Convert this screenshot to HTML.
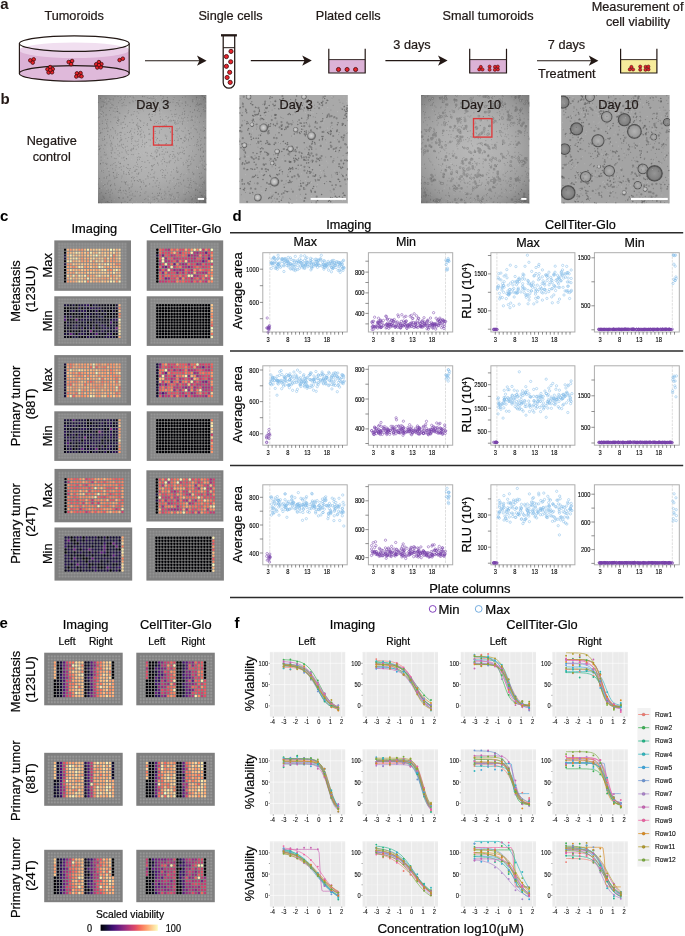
<!DOCTYPE html>
<html lang="en"><head><meta charset="utf-8"><title>Figure</title>
<style>html,body{margin:0;padding:0;background:#fff}svg{display:block}text{font-family:"Liberation Sans",sans-serif}.L text{stroke:#1a1a1a;stroke-width:.22px}</style></head>
<body>
<svg width="685" height="936" viewBox="0 0 685 936">
<rect width="685" height="936" fill="#fff"/>
<g class="L" font-size="12.7" fill="#231815" text-anchor="middle"><text x="74.2" y="19.6">Tumoroids</text><text x="230.5" y="19.6">Single cells</text><text x="348.2" y="19.6">Plated cells</text><text x="488" y="19.8">Small tumoroids</text><text x="637.6" y="11.2">Measurement of</text><text x="638" y="25.8">cell viability</text><text x="412" y="49.2">3 days</text><text x="566.5" y="49.4">7 days</text><text x="566.8" y="77.8">Treatment</text></g><path d="M19.4 50.2A54.9 7.8 0 0 1 129.2 50.2V73.4A54.9 7.8 0 0 1 19.4 73.4Z" fill="#dcb2d6"/><ellipse cx="74.3" cy="50.2" rx="54.9" ry="7.8" fill="#ead0e8"/><clipPath id="dt"><ellipse cx="74.3" cy="43.6" rx="54.9" ry="7.8"/></clipPath><ellipse cx="74.3" cy="43.6" rx="54.9" ry="7.8" fill="#fff"/><ellipse cx="74.3" cy="50.2" rx="54.9" ry="7.8" fill="#f1dff0" clip-path="url(#dt)"/><ellipse cx="74.3" cy="73.4" rx="54.9" ry="7.8" fill="#dfb9da"/><g fill="none" stroke="#231815" stroke-width="1.15"><ellipse cx="74.3" cy="43.6" rx="54.9" ry="7.8"/><ellipse cx="74.3" cy="73.4" rx="54.9" ry="7.8"/><path d="M19.4 43.6V73.4M129.2 43.6V73.4"/></g><g fill="#e8232b" stroke="#4a0e10" stroke-width="0.85"><circle cx="30.3" cy="60.4" r="1.8"/><circle cx="33.7" cy="59.4" r="1.8"/><circle cx="32.7" cy="62.6" r="1.8"/><circle cx="50.2" cy="67.1" r="1.8"/><circle cx="47.5" cy="69.3" r="1.8"/><circle cx="52.7" cy="69.1" r="1.8"/><circle cx="48.6" cy="72.5" r="1.8"/><circle cx="52.0" cy="72.3" r="1.8"/><circle cx="50.3" cy="70.1" r="1.8"/><circle cx="68.7" cy="62.0" r="1.8"/><circle cx="72.1" cy="61.0" r="1.8"/><circle cx="71.1" cy="64.2" r="1.8"/><circle cx="76.9" cy="73.4" r="1.8"/><circle cx="80.5" cy="73.1" r="1.8"/><circle cx="76.3" cy="76.5" r="1.8"/><circle cx="79.3" cy="75.5" r="1.8"/><circle cx="81.5" cy="76.3" r="1.8"/><circle cx="98.9" cy="62.1" r="1.8"/><circle cx="96.2" cy="64.3" r="1.8"/><circle cx="101.4" cy="64.1" r="1.8"/><circle cx="97.3" cy="67.5" r="1.8"/><circle cx="100.7" cy="67.3" r="1.8"/><circle cx="99.0" cy="65.1" r="1.8"/><circle cx="119.6" cy="60.1" r="1.8"/><circle cx="122.8" cy="58.7" r="1.8"/></g><path d="M145 60.7H200.6" stroke="#231815" stroke-width="1.15" fill="none"/><path d="M206.6 60.7L197.0 55.6L199.4 60.7L197.0 65.8Z" fill="#231815"/><path d="M250.8 60.6H305.8" stroke="#231815" stroke-width="1.15" fill="none"/><path d="M311.8 60.6L302.2 55.5L304.6 60.6L302.2 65.7Z" fill="#231815"/><path d="M385.4 60.6H441.6" stroke="#231815" stroke-width="1.15" fill="none"/><path d="M447.6 60.6L438.0 55.5L440.40000000000003 60.6L438.0 65.7Z" fill="#231815"/><path d="M537 60.7H592.4" stroke="#231815" stroke-width="1.15" fill="none"/><path d="M598.4 60.7L588.8 55.6L591.1999999999999 60.7L588.8 65.8Z" fill="#231815"/><path d="M223.2 35.4V82.4A5.75 5.75 0 0 0 234.7 82.4V35.4" fill="#fff" stroke="#231815" stroke-width="1.25"/><path d="M221 35.3H236.9" stroke="#231815" stroke-width="2.3" fill="none"/><path d="M223.2 47.7H234.7" stroke="#231815" stroke-width="1" fill="none"/><g fill="#e8232b" stroke="#4a0e10" stroke-width="0.85"><circle cx="231.0" cy="51.4" r="2.1"/><circle cx="226.4" cy="56.6" r="2.1"/><circle cx="230.7" cy="61.8" r="2.1"/><circle cx="226.4" cy="66.3" r="2.1"/><circle cx="229.7" cy="72.3" r="2.1"/><circle cx="227.1" cy="77.5" r="2.1"/><circle cx="230.2" cy="82.4" r="2.1"/></g><rect x="328.8" y="59.6" width="36.39999999999998" height="13.399999999999999" fill="#dcb2d6"/><path d="M328.8 48.8V73.0H365.2V48.8" fill="none" stroke="#231815" stroke-width="1.2"/><path d="M328.8 59.6H365.2" fill="none" stroke="#231815" stroke-width="0.9"/><g fill="#e8232b" stroke="#4a0e10" stroke-width="0.85"><circle cx="338.5" cy="69.5" r="2.05"/><circle cx="347.1" cy="69.5" r="2.05"/><circle cx="355.6" cy="69.5" r="2.05"/></g><rect x="469.7" y="59.6" width="36.80000000000001" height="13.399999999999999" fill="#dcb2d6"/><path d="M469.7 48.8V73.0H506.5V48.8" fill="none" stroke="#231815" stroke-width="1.2"/><path d="M469.7 59.6H506.5" fill="none" stroke="#231815" stroke-width="0.9"/><g fill="#e8232b" stroke="#4a0e10" stroke-width="0.6"><circle cx="479.2" cy="69.4" r="1.55"/><circle cx="482.5" cy="69.5" r="1.55"/><circle cx="480.8" cy="66.9" r="1.55"/><circle cx="489.6" cy="66.6" r="1.55"/><circle cx="489.6" cy="69.7" r="1.55"/><circle cx="495.0" cy="66.8" r="1.55"/><circle cx="494.9" cy="69.8" r="1.55"/><circle cx="497.9" cy="69.4" r="1.55"/><circle cx="497.8" cy="66.6" r="1.55"/></g><rect x="620.6" y="59.6" width="36.299999999999955" height="13.399999999999999" fill="#f7ec9c"/><path d="M620.6 48.8V73.0H656.9V48.8" fill="none" stroke="#231815" stroke-width="1.2"/><path d="M620.6 59.6H656.9" fill="none" stroke="#231815" stroke-width="0.9"/><g fill="#e8232b" stroke="#4a0e10" stroke-width="0.6"><circle cx="629.8" cy="69.4" r="1.55"/><circle cx="633.1" cy="69.5" r="1.55"/><circle cx="631.4" cy="66.9" r="1.55"/><circle cx="640.2" cy="66.6" r="1.55"/><circle cx="640.2" cy="69.7" r="1.55"/><circle cx="645.6" cy="66.8" r="1.55"/><circle cx="645.5" cy="69.8" r="1.55"/><circle cx="648.5" cy="69.4" r="1.55"/><circle cx="648.4" cy="66.6" r="1.55"/></g>
<defs><radialGradient id="vg1" gradientUnits="userSpaceOnUse" cx="150" cy="146" r="84"><stop offset="0" stop-color="#b9b9b9"/><stop offset="0.4" stop-color="#afafaf"/><stop offset="0.7" stop-color="#999"/><stop offset="0.88" stop-color="#7e7e7e"/><stop offset="1" stop-color="#585858"/></radialGradient><radialGradient id="vg3" gradientUnits="userSpaceOnUse" cx="474" cy="147" r="84"><stop offset="0" stop-color="#b9b9b9"/><stop offset="0.4" stop-color="#afafaf"/><stop offset="0.7" stop-color="#999"/><stop offset="0.88" stop-color="#7e7e7e"/><stop offset="1" stop-color="#585858"/></radialGradient><radialGradient id="blob" cx="0.45" cy="0.45" r="0.55"><stop offset="0" stop-color="#d4d4d4"/><stop offset="0.5" stop-color="#b4b4b4"/><stop offset="0.82" stop-color="#626262"/><stop offset="1" stop-color="#929292"/></radialGradient><radialGradient id="blobd" cx="0.5" cy="0.5" r="0.5"><stop offset="0" stop-color="#969696"/><stop offset="0.72" stop-color="#808080"/><stop offset="0.9" stop-color="#4a4a4a"/><stop offset="1" stop-color="#6c6c6c"/></radialGradient><radialGradient id="blobl" cx="0.5" cy="0.5" r="0.5"><stop offset="0" stop-color="#b2b2b2"/><stop offset="0.72" stop-color="#9a9a9a"/><stop offset="0.9" stop-color="#505050"/><stop offset="1" stop-color="#707070"/></radialGradient></defs><clipPath id="mc1"><rect x="97.9" y="95.0" width="108.7" height="108.6"/></clipPath><g clip-path="url(#mc1)"><rect x="97.9" y="95.0" width="108.7" height="108.6" fill="url(#vg1)"/><path d="M147.1 155.8h0M198.4 145.6h0M153.1 158.8h0M118.0 150.6h0M166.4 181.1h0M108.1 127.9h0M107.8 182.9h0M173.3 99.5h0M204.7 199.8h0M169.0 161.9h0M115.0 96.6h0M155.3 101.5h0M118.6 121.3h0M101.2 145.4h0M145.8 186.5h0M154.3 164.5h0M152.2 166.9h0M147.6 125.2h0M206.3 203.1h0M189.2 171.9h0M132.2 119.9h0M129.3 102.6h0M181.2 138.5h0M189.9 137.0h0M202.0 187.0h0M98.0 117.8h0M196.8 146.0h0M204.5 138.2h0M105.8 163.4h0M182.5 124.3h0M107.4 131.1h0M202.7 177.3h0M110.7 121.8h0M108.9 101.5h0M184.5 114.3h0M158.7 143.6h0M118.6 174.5h0M112.1 164.9h0M110.6 140.7h0M121.0 124.3h0M203.4 182.3h0M131.0 191.1h0M120.8 137.8h0M190.8 164.7h0M108.8 202.4h0M121.1 123.0h0M181.9 130.7h0M130.1 103.0h0M107.7 158.3h0M124.3 160.3h0M138.3 144.2h0M202.2 147.5h0M160.4 189.1h0M117.8 111.7h0M196.6 183.8h0M125.0 115.6h0M178.3 197.1h0M119.3 198.2h0M193.8 160.5h0M143.7 106.3h0M102.1 199.5h0M123.8 171.5h0M125.8 184.5h0M162.7 126.9h0M117.0 173.2h0M105.4 119.8h0M158.7 187.6h0M164.7 125.4h0M197.6 117.2h0M99.7 124.2h0M146.3 101.6h0M117.1 135.1h0M160.1 109.3h0M137.3 191.8h0M204.5 166.3h0M173.0 158.5h0M113.2 98.8h0M99.8 193.8h0M174.1 199.6h0M100.2 164.1h0M150.3 174.3h0M132.6 203.5h0M106.1 154.3h0M178.0 192.8h0M178.0 171.4h0M184.1 194.4h0M136.1 169.4h0M195.8 189.6h0M143.2 180.9h0M191.8 157.2h0M165.8 136.5h0M161.2 161.1h0M106.6 164.4h0M205.9 190.5h0M177.1 137.2h0M177.8 158.1h0M145.8 186.0h0M107.0 176.5h0M101.1 160.3h0M150.2 120.0h0M173.8 149.0h0M164.7 195.0h0M125.7 96.2h0M130.6 168.6h0M119.9 113.4h0M196.4 166.7h0M145.9 191.8h0M133.4 167.3h0M119.5 141.8h0M185.5 194.3h0M193.6 136.7h0M161.3 129.4h0M112.7 148.9h0M188.9 187.2h0M175.2 198.2h0M128.0 113.4h0M146.9 124.9h0M121.2 140.0h0M165.9 148.6h0M132.2 186.1h0M204.6 144.1h0M106.0 98.4h0M192.8 99.5h0M174.9 157.0h0M131.5 181.0h0M100.0 109.8h0M147.3 97.7h0M188.1 120.8h0M113.2 100.1h0M166.3 143.5h0M166.4 166.1h0M185.7 199.1h0M172.3 116.6h0M149.5 114.4h0M99.1 146.3h0M175.5 114.5h0M127.5 132.5h0M173.7 151.5h0M164.7 177.1h0M140.7 181.0h0M196.4 104.5h0M199.3 173.5h0M112.0 144.3h0M165.9 193.8h0M138.9 156.8h0M193.5 181.5h0M200.5 145.4h0M168.7 117.3h0M176.4 183.9h0M167.6 172.9h0M121.1 192.7h0M204.5 201.1h0M156.3 180.9h0M132.7 193.8h0M190.9 132.8h0M106.9 142.9h0M157.7 178.4h0M150.9 98.1h0M185.9 102.0h0M184.8 113.8h0M134.3 180.6h0M113.2 111.1h0M154.0 173.6h0M189.2 169.9h0M200.7 148.5h0M201.1 104.3h0M122.0 152.2h0M129.4 174.2h0M167.3 151.8h0M189.6 155.8h0M131.8 136.4h0M189.8 192.8h0M120.5 187.4h0M203.2 151.9h0M160.2 116.8h0M156.2 149.6h0M163.7 98.0h0M203.3 151.0h0M141.4 182.0h0M159.1 148.3h0M173.0 102.2h0M156.5 139.9h0M201.9 195.3h0M127.2 146.4h0M111.7 142.1h0M186.6 192.8h0M149.7 129.4h0M118.7 162.1h0M198.5 109.1h0M182.6 97.5h0M119.0 119.7h0M172.6 130.0h0M136.5 162.3h0M109.3 174.4h0M111.2 150.4h0M125.1 116.5h0M155.5 142.4h0M138.7 139.9h0M155.4 112.3h0M120.1 163.6h0M167.3 152.5h0M190.4 161.4h0M191.0 120.3h0M178.4 183.0h0M196.0 129.3h0M132.1 195.2h0M121.6 203.4h0M194.4 109.5h0M123.9 173.9h0M126.1 105.5h0M188.4 140.8h0M183.8 108.7h0M141.7 169.4h0M99.8 116.8h0M172.1 194.0h0M203.2 107.5h0M152.9 177.3h0M152.6 169.5h0M118.4 102.7h0M109.4 99.1h0M157.9 150.9h0M159.7 110.9h0M118.0 117.1h0M189.2 202.5h0M198.7 105.3h0M104.6 198.3h0M148.1 178.0h0M133.4 145.7h0M153.9 141.7h0M163.2 96.4h0M174.1 186.7h0M117.6 144.3h0M178.3 139.0h0M119.1 112.9h0M153.6 96.7h0M195.0 182.1h0M174.5 188.5h0M166.3 138.9h0M163.1 149.8h0M204.7 182.4h0M126.0 194.0h0M178.8 179.5h0M186.5 139.1h0M195.4 190.6h0M173.4 178.3h0M181.1 139.1h0M176.5 102.7h0M135.0 145.9h0M99.1 133.6h0M167.3 162.8h0M123.1 197.6h0M170.3 131.7h0M169.6 156.9h0M155.8 137.3h0M206.6 164.8h0M174.1 177.7h0M204.4 97.5h0M164.8 175.2h0M125.8 138.6h0M103.4 116.2h0M138.7 105.7h0M125.2 193.4h0M157.7 150.1h0M203.0 156.7h0M206.1 164.3h0M185.9 103.3h0M162.9 177.5h0M102.8 196.0h0M115.3 146.2h0M116.3 148.8h0M164.3 101.4h0M200.7 140.7h0M155.2 159.9h0M137.6 126.0h0M169.1 155.9h0M128.7 172.8h0M130.1 96.5h0M124.5 99.6h0M114.9 177.0h0M140.3 192.5h0M179.2 100.4h0M205.4 197.6h0M105.9 193.3h0M144.6 146.9h0M203.7 121.5h0M154.8 196.8h0M176.5 145.9h0M204.3 183.7h0M163.5 107.5h0M165.8 144.5h0M120.0 100.7h0M155.3 108.5h0M146.0 167.5h0M147.4 123.5h0M161.2 140.6h0M182.5 152.6h0M206.3 198.5h0M177.7 120.9h0M110.3 191.9h0M183.2 162.9h0M136.9 124.5h0M172.4 156.3h0M162.2 163.8h0M179.8 115.6h0M125.0 201.4h0M197.4 190.4h0M102.2 101.6h0M127.4 141.2h0M165.7 106.1h0M156.8 102.9h0M107.3 168.4h0M157.8 163.5h0M138.5 147.0h0M120.8 132.3h0M178.9 186.1h0M106.0 108.0h0M185.9 162.7h0M181.5 118.1h0M144.0 123.0h0M185.9 135.1h0M169.0 202.4h0M133.3 154.6h0M179.0 195.0h0M144.4 135.1h0M108.4 190.0h0M106.4 104.0h0M159.2 147.7h0M172.4 127.5h0M182.2 103.3h0M121.1 166.9h0M106.8 128.0h0M176.7 170.4h0M128.7 110.5h0M136.8 173.8h0M137.7 107.7h0M175.0 156.8h0M197.7 197.1h0M197.2 142.6h0M185.2 128.1h0M132.4 138.4h0M199.5 192.2h0M124.9 134.3h0M137.6 134.5h0M140.9 137.1h0M119.1 156.2h0M184.5 153.7h0M188.8 156.1h0M117.1 177.4h0M193.7 125.6h0M100.3 151.0h0M157.0 156.6h0M202.9 165.7h0M185.3 102.0h0M157.3 180.6h0M107.0 103.9h0M178.0 192.6h0M107.1 163.9h0M113.5 176.0h0M168.4 121.7h0M121.9 178.1h0M154.6 178.0h0M140.8 131.7h0M203.2 168.0h0M151.6 153.4h0M176.3 171.9h0M197.4 139.6h0M187.7 167.4h0M190.7 182.5h0M188.5 191.5h0M202.0 164.5h0M154.8 172.1h0M185.1 140.8h0M143.6 110.9h0M178.5 202.6h0M138.7 113.2h0M120.1 141.1h0M129.6 200.3h0M104.3 128.5h0M110.4 165.4h0M182.2 114.5h0M104.7 144.8h0M161.4 193.7h0M101.9 106.8h0M118.0 118.6h0M123.5 172.9h0M162.6 119.3h0M118.0 125.5h0M116.7 177.3h0M131.8 154.5h0M186.7 147.1h0M126.2 191.4h0M197.3 132.1h0M157.4 198.9h0M150.4 119.0h0M103.3 197.9h0M185.0 136.8h0M155.2 151.0h0M127.7 202.5h0M169.4 120.8h0M99.1 146.3h0M138.3 181.5h0M175.4 160.8h0M115.0 112.0h0M132.9 123.2h0M192.4 151.1h0M167.1 202.9h0M126.9 153.1h0M114.3 178.7h0M98.0 184.2h0M189.9 184.3h0M106.9 124.3h0M175.8 105.6h0M150.1 145.9h0M201.8 158.7h0M191.1 128.0h0M183.7 140.3h0M197.6 104.9h0M187.7 117.6h0M157.0 152.1h0M115.0 185.4h0M131.8 128.7h0M106.2 128.2h0M148.7 172.7h0M137.0 169.6h0M109.4 137.8h0M148.1 200.0h0M188.1 166.0h0M99.2 136.0h0M175.1 120.8h0M159.2 144.7h0M99.0 202.7h0M184.8 117.5h0M164.9 126.5h0M138.8 153.6h0M130.3 131.6h0M140.5 167.4h0M125.8 116.7h0M177.4 130.8h0M200.6 156.1h0M176.6 131.0h0M187.8 105.0h0M113.2 105.3h0M171.6 171.9h0M117.5 138.7h0M188.9 159.4h0M107.7 119.6h0M115.0 108.5h0M142.1 102.9h0M198.0 141.4h0M153.5 165.3h0M181.3 184.2h0M139.9 131.0h0M142.7 96.7h0M141.5 171.0h0M204.6 180.8h0M169.7 161.1h0M99.9 130.9h0M135.1 165.7h0M109.5 136.0h0M153.3 180.6h0M187.6 161.4h0M115.1 178.2h0M196.1 154.5h0M136.2 149.3h0M113.3 172.5h0M205.2 151.0h0M175.7 185.7h0M119.3 197.6h0M166.1 116.5h0M106.9 121.6h0M160.6 170.7h0M133.7 195.9h0M137.2 145.3h0M111.4 200.7h0M112.6 193.2h0M157.0 155.9h0M158.8 123.7h0M196.7 202.7h0M186.8 160.3h0M111.2 184.6h0M129.3 192.4h0M124.1 157.3h0M188.2 115.2h0M157.5 103.3h0M101.4 114.6h0M205.2 197.0h0M169.5 128.4h0M170.9 175.1h0M139.4 159.3h0M185.3 96.8h0M119.6 145.8h0M113.4 137.0h0M159.8 113.9h0M154.4 123.6h0M159.6 131.1h0M167.7 99.1h0M170.8 110.7h0M202.2 160.2h0M149.0 139.7h0M165.7 169.9h0M180.3 176.6h0M150.7 203.0h0M189.0 187.9h0M142.4 142.1h0M159.4 193.3h0M155.1 152.0h0M144.9 193.2h0M132.8 100.9h0M176.8 192.8h0M177.5 159.9h0M179.6 128.1h0M162.4 102.6h0M111.4 143.5h0M152.5 138.1h0M103.5 170.5h0M155.1 121.0h0M131.2 138.0h0M123.5 102.4h0M197.0 200.0h0M170.3 189.1h0M143.7 182.5h0M122.0 176.1h0M159.5 193.1h0M108.6 181.1h0M111.4 153.4h0M201.3 95.1h0M124.4 127.5h0M133.2 101.8h0M195.2 183.6h0M141.1 133.7h0M161.5 100.0h0M101.3 192.6h0M131.4 149.1h0M199.4 201.1h0M149.3 117.4h0M130.0 195.2h0M195.4 116.2h0M189.0 133.5h0M149.3 113.7h0M193.5 203.1h0M119.9 163.7h0M118.7 190.6h0M103.3 106.5h0M176.8 129.0h0M195.8 189.4h0M175.4 109.6h0M173.5 196.8h0M146.3 103.6h0M122.2 128.4h0M175.1 116.3h0M117.6 120.6h0M170.1 180.8h0M138.4 166.9h0M194.0 159.1h0M122.8 127.7h0M198.6 167.4h0M128.0 164.5h0M107.7 201.8h0M145.8 152.4h0M155.6 99.9h0M163.1 125.9h0M125.2 182.2h0M107.4 126.0h0M180.0 121.7h0M128.2 154.5h0M118.2 192.4h0M205.3 98.7h0M148.1 176.5h0M139.7 195.9h0M152.2 114.5h0M158.3 165.0h0M137.0 166.5h0M183.0 151.1h0M152.9 186.8h0M172.3 151.5h0M201.3 113.9h0M182.6 112.9h0M164.0 120.6h0M145.8 179.0h0M183.4 180.9h0M123.5 148.1h0M121.9 158.0h0M152.1 98.8h0M162.8 172.6h0M160.1 189.8h0M117.5 111.5h0M99.8 148.9h0M145.1 143.0h0M126.5 181.7h0M105.8 193.5h0M159.7 154.0h0M183.9 120.8h0M113.8 128.8h0M102.5 129.1h0M165.4 152.1h0M126.7 158.9h0M107.5 184.1h0M116.6 122.7h0M115.3 170.0h0M188.2 180.4h0M104.5 139.6h0M137.5 118.5h0M203.4 99.6h0M151.1 177.7h0M205.1 110.7h0M147.4 175.9h0M102.2 121.1h0M194.7 110.4h0M140.6 127.4h0M144.0 103.3h0M101.6 203.2h0M180.9 174.7h0M122.9 122.5h0M157.9 121.2h0M148.1 196.3h0M137.5 131.6h0M204.6 161.3h0M102.2 138.8h0M168.5 101.4h0M135.2 170.4h0M191.9 159.1h0M194.2 145.2h0M140.6 186.6h0M139.3 179.9h0M121.3 132.7h0M117.9 154.7h0M115.7 117.1h0M121.2 145.8h0M131.4 143.6h0M205.9 168.8h0M191.7 117.2h0M139.5 102.9h0M173.1 134.4h0M127.7 97.0h0M117.7 123.5h0M140.6 195.3h0M175.6 124.2h0M137.2 111.7h0M199.7 134.1h0M181.1 173.6h0M196.5 97.2h0M132.9 136.7h0M106.9 190.8h0M133.3 178.7h0M154.3 101.0h0M140.7 120.9h0M102.3 111.4h0M162.6 98.5h0M131.8 141.1h0M157.0 109.8h0M174.7 123.3h0M176.8 167.3h0M113.9 117.2h0M128.4 172.4h0M142.0 137.0h0M192.0 119.5h0M129.6 132.5h0M121.4 99.4h0M100.6 163.5h0M159.4 182.8h0M203.9 127.4h0M170.8 194.8h0M121.4 169.8h0M170.4 198.7h0M192.3 120.5h0M166.7 104.8h0M144.4 137.6h0M104.4 136.6h0M133.6 149.0h0M128.3 112.2h0M141.6 146.6h0M116.0 167.2h0M124.0 105.1h0M135.1 140.9h0M114.3 158.3h0M174.1 155.1h0M174.0 97.5h0M140.4 134.6h0M104.7 138.9h0M103.8 148.8h0M161.6 145.9h0M133.3 122.5h0M100.5 132.7h0M194.8 156.4h0M126.4 167.6h0M118.1 146.0h0M164.8 198.7h0M137.3 157.6h0M200.3 178.8h0M166.1 162.4h0M142.6 140.1h0M127.9 185.1h0M193.5 136.5h0M196.8 99.1h0M112.7 150.1h0M131.4 134.1h0M204.1 111.3h0M118.8 119.8h0M171.8 120.5h0M98.0 154.1h0M140.7 121.0h0M151.6 165.6h0M157.5 162.8h0M158.9 185.3h0M203.2 131.2h0M135.6 191.3h0M132.0 172.8h0M173.5 169.6h0M202.7 184.5h0M115.2 162.5h0M151.2 156.2h0M138.1 126.0h0M179.3 153.0h0M123.7 122.1h0M133.2 114.3h0M153.7 108.7h0M104.8 102.5h0M109.0 171.5h0M110.2 144.0h0M181.8 147.2h0M115.6 189.1h0M192.5 100.8h0M125.5 150.1h0M184.5 137.6h0M175.7 122.3h0M175.7 130.5h0M134.2 177.5h0M189.5 185.0h0M159.6 140.7h0M174.7 162.7h0M188.2 182.0h0M111.5 135.9h0M170.7 120.1h0M118.0 96.5h0M161.5 197.2h0M203.4 109.5h0M172.6 140.5h0M166.5 138.1h0M199.4 202.4h0M103.2 172.5h0M110.8 99.6h0M129.0 174.4h0M205.9 108.0h0M133.8 97.9h0M156.9 147.5h0M138.5 128.6h0M184.9 186.1h0M128.7 137.5h0M165.1 178.1h0M204.5 137.3h0M173.3 154.3h0M184.9 111.0h0M116.9 106.6h0M199.4 122.3h0M151.0 108.1h0M133.1 97.1h0M159.4 110.6h0M165.9 124.8h0M122.6 147.4h0M137.7 123.2h0M103.5 102.0h0M194.9 128.6h0M106.4 114.8h0M150.4 203.3h0M119.9 189.2h0M150.5 140.0h0M185.6 138.0h0M104.2 154.8h0M169.3 162.7h0M128.0 197.0h0M191.9 203.0h0M146.1 185.5h0M176.7 114.1h0M100.8 113.3h0M110.8 103.1h0M136.9 176.8h0M131.6 150.8h0M99.0 117.8h0M202.2 96.2h0M155.2 183.0h0M184.0 174.9h0M141.3 182.2h0M187.9 178.4h0M205.1 106.0h0M201.2 138.7h0M174.6 122.2h0M196.8 97.6h0M160.6 119.7h0M140.1 135.1h0M169.3 183.0h0M137.5 164.3h0M136.4 125.3h0M196.3 129.9h0M108.1 131.4h0M178.5 118.0h0M178.7 154.3h0M171.8 114.3h0M109.4 110.5h0M136.0 141.8h0M98.9 149.6h0M141.7 129.9h0M156.3 198.4h0M120.1 190.6h0M132.8 176.9h0M109.7 202.2h0M144.7 199.5h0M121.8 139.3h0M174.6 114.3h0M127.6 168.5h0M200.9 130.0h0M117.8 133.8h0M205.5 111.1h0M166.9 136.1h0M167.9 118.1h0M164.9 191.4h0M191.0 163.3h0M152.8 156.7h0M110.3 186.0h0M172.9 144.2h0M170.2 140.5h0M139.7 120.0h0M163.2 157.2h0M153.9 98.5h0M166.1 143.5h0M162.4 159.6h0M199.2 111.5h0M148.8 202.8h0M178.1 129.0h0M178.0 202.5h0M141.6 189.2h0M111.7 202.5h0M151.3 120.4h0M189.2 165.5h0M199.8 185.1h0M184.6 150.6h0M205.9 102.0h0M192.5 172.3h0M125.2 182.7h0M147.3 153.2h0M192.0 116.3h0M128.3 164.9h0M105.9 155.3h0M183.5 148.3h0M124.2 181.9h0M190.8 178.7h0M157.6 193.4h0M184.5 111.5h0M137.7 105.9h0M101.9 132.6h0M191.9 185.6h0M110.7 114.7h0M140.1 187.2h0M165.0 192.9h0M105.7 202.3h0M120.4 163.3h0M193.2 174.0h0M119.3 167.6h0M144.7 96.7h0M134.8 129.2h0M166.3 125.2h0M163.5 170.5h0M117.5 108.9h0M173.3 145.7h0M111.9 107.6h0M200.2 161.2h0M136.8 116.3h0M206.0 170.1h0M177.9 134.1h0M131.6 139.3h0M113.8 163.6h0M144.1 184.1h0M142.4 144.6h0M153.0 197.3h0M135.5 171.4h0M123.5 157.9h0M128.9 189.8h0M129.0 187.8h0M171.5 144.4h0M199.4 137.1h0M178.7 160.3h0M146.6 102.0h0M143.5 125.5h0M145.8 198.7h0M129.7 170.5h0M171.0 121.6h0M142.6 109.4h0M195.2 122.3h0M143.6 132.1h0M187.1 187.3h0M162.1 154.3h0M108.7 192.4h0M107.5 134.5h0M138.6 173.5h0M170.6 132.3h0M195.5 198.1h0M100.4 163.7h0M148.9 134.3h0M148.4 129.3h0M170.8 160.8h0M203.4 201.0h0" stroke="#4c4c4c" stroke-width="0.75" stroke-linecap="round" fill="none" opacity="0.5"/><path d="M205.8 137.9h0M188.0 165.6h0M174.1 203.3h0M105.1 145.2h0M141.5 166.2h0M121.6 202.5h0M120.7 135.2h0M113.4 137.9h0M178.5 104.1h0M116.0 165.5h0M165.6 175.6h0M125.4 183.1h0M177.3 179.3h0M110.9 145.9h0M99.6 188.4h0M200.6 192.3h0M100.5 133.1h0M156.2 153.0h0M110.0 180.7h0M130.7 150.1h0M111.4 156.7h0M112.0 104.6h0M153.6 126.9h0M182.4 121.8h0M142.9 100.9h0M121.6 144.1h0M158.6 144.9h0M190.4 106.3h0M190.3 111.8h0M203.4 152.0h0M142.1 161.5h0M191.8 199.7h0M142.8 96.2h0M114.6 183.9h0M177.7 172.4h0M114.9 152.7h0M101.0 107.0h0M130.6 199.9h0M167.8 187.1h0M102.9 140.2h0M106.4 123.3h0M110.0 194.8h0M133.6 148.1h0M169.0 191.3h0M200.8 156.7h0M152.4 193.2h0M140.8 127.5h0M178.3 123.0h0M137.9 141.6h0M149.7 133.9h0M144.7 144.0h0M103.3 185.8h0M104.6 152.3h0M157.4 138.4h0M122.1 105.8h0M138.3 129.1h0M150.5 120.0h0M179.4 147.9h0M98.9 139.2h0M202.9 95.8h0M162.4 199.3h0M137.6 159.9h0M138.0 127.7h0M164.1 159.0h0M132.2 149.0h0M154.0 176.9h0M103.7 105.1h0M125.3 124.3h0M184.4 141.2h0M191.4 138.7h0M129.0 168.8h0M107.2 201.9h0M188.3 130.6h0M132.4 184.0h0M183.6 164.8h0M104.1 177.9h0M103.1 162.8h0M157.9 195.7h0M167.3 97.4h0M199.5 176.7h0M160.9 95.6h0M178.0 140.4h0M171.8 201.8h0M197.6 103.1h0M182.8 142.8h0M179.6 136.0h0M146.6 142.4h0M110.7 129.7h0M177.8 102.8h0M110.5 185.6h0M170.3 154.5h0M110.2 107.9h0M131.6 198.6h0M158.8 195.2h0M120.9 140.0h0M156.2 186.1h0M111.3 189.9h0M149.2 98.4h0M144.9 136.0h0M171.2 195.8h0M151.6 169.9h0M140.1 179.6h0M109.3 175.6h0M116.0 158.6h0M119.9 132.6h0M115.7 133.0h0M162.2 151.5h0M140.1 157.4h0M189.5 133.9h0M161.4 147.2h0M204.5 130.6h0M173.7 120.4h0M126.3 174.3h0M160.4 122.9h0M104.9 184.6h0M138.9 172.8h0M144.9 162.1h0M158.7 201.0h0M196.8 144.5h0M150.8 120.1h0M179.8 106.1h0M131.2 187.0h0M101.7 170.9h0M159.6 154.9h0M134.1 111.5h0M201.3 178.0h0M185.5 105.6h0M183.1 118.7h0M119.6 153.1h0M164.2 108.1h0M181.0 158.3h0M195.7 195.3h0M172.8 134.5h0M201.3 173.0h0M129.5 188.1h0M176.9 123.7h0M125.0 97.2h0M156.3 122.5h0M129.8 122.5h0M112.2 147.7h0M127.5 126.0h0M128.1 150.3h0M192.9 112.4h0M191.3 187.8h0M164.1 154.1h0M177.7 153.1h0M169.6 194.8h0M182.2 123.2h0M103.8 196.7h0M137.3 180.5h0M123.3 144.2h0M138.2 174.2h0M200.5 149.9h0M159.4 132.9h0M123.1 198.2h0M109.9 197.1h0M169.3 102.8h0M195.9 106.1h0M159.4 108.0h0M205.4 128.6h0M192.7 101.7h0M170.3 102.4h0M101.1 157.0h0M204.7 169.4h0M190.9 180.2h0M154.6 103.4h0M155.2 115.0h0M155.2 133.5h0M152.1 116.5h0M174.5 140.3h0M150.7 103.5h0M150.8 155.6h0M203.6 156.0h0M112.6 127.6h0M134.4 171.2h0M200.0 201.0h0M201.2 195.5h0M191.2 196.5h0M100.1 148.2h0M162.1 169.5h0M164.5 161.6h0M199.3 104.4h0M154.3 199.2h0M101.4 107.1h0M192.4 198.9h0M100.5 98.5h0M188.1 169.8h0M154.4 158.0h0M180.2 182.7h0M98.0 102.4h0M184.2 200.9h0M188.5 139.3h0M134.4 132.7h0M99.5 178.6h0M126.4 158.6h0M155.1 131.4h0M171.3 144.4h0M123.4 190.8h0M117.0 111.3h0M125.4 147.0h0M183.1 131.2h0M123.8 166.1h0M126.2 151.8h0M125.6 190.2h0M118.0 120.2h0M130.7 130.8h0M176.9 168.2h0M183.8 153.7h0M106.4 177.9h0M124.5 118.7h0M142.9 202.5h0M138.2 133.7h0M196.9 202.6h0M140.0 109.7h0M183.7 180.0h0M134.7 180.8h0M139.1 126.2h0M162.4 175.5h0M149.6 183.9h0M99.4 149.2h0M139.2 102.1h0M197.3 110.6h0M120.2 190.4h0M202.3 196.2h0M135.1 196.1h0M113.3 172.6h0M200.7 115.9h0M112.7 168.7h0M193.8 173.9h0M201.1 144.3h0M138.4 108.0h0M127.6 197.0h0M105.7 115.1h0M135.7 100.3h0M131.3 114.9h0M111.2 152.2h0M156.6 156.7h0M180.8 152.2h0M200.9 103.8h0M122.1 103.3h0M131.5 177.6h0M198.4 149.7h0M115.3 130.9h0M159.7 127.0h0M184.1 200.6h0M147.9 160.5h0M189.9 145.5h0M118.6 197.5h0M204.2 97.7h0M180.8 138.5h0M103.5 112.7h0M116.7 175.0h0M120.9 97.1h0M121.8 181.8h0M152.2 165.9h0M148.5 114.8h0M99.6 128.0h0M102.4 123.3h0M165.2 135.1h0M149.3 162.8h0" stroke="#444" stroke-width="1.1" stroke-linecap="round" fill="none" opacity="0.4"/><path d="M132.4 133.7h0M194.0 158.1h0M143.2 153.7h0M147.9 131.1h0M197.2 120.3h0M199.6 187.6h0M193.8 112.7h0M153.2 201.9h0M129.3 113.6h0M176.5 120.5h0M161.3 112.1h0M200.9 125.8h0M108.4 169.6h0M135.6 155.7h0M151.9 195.2h0M153.8 136.2h0M98.1 148.9h0M127.1 157.4h0M166.6 145.2h0M107.7 149.0h0M150.3 164.6h0M203.4 125.4h0M146.0 104.2h0M184.9 120.5h0M188.0 181.7h0M125.6 193.0h0M152.7 141.3h0M158.2 197.7h0M151.1 147.4h0M129.5 186.3h0M152.6 132.2h0M119.3 118.4h0M188.6 182.3h0M204.3 194.6h0M172.4 181.6h0M175.3 182.9h0M185.0 114.1h0M186.5 127.9h0M124.4 194.9h0M100.4 150.6h0M135.2 181.0h0M164.3 193.9h0M199.3 165.0h0M104.9 167.5h0M109.8 201.7h0M192.6 128.7h0M118.1 170.4h0M180.3 202.0h0M165.6 108.6h0M176.9 101.4h0M192.2 178.5h0M183.3 189.9h0M159.8 197.5h0M167.4 148.4h0M139.7 133.4h0M100.4 112.5h0M184.4 119.8h0M168.9 179.2h0M173.4 151.0h0M132.2 124.6h0M118.3 165.4h0M172.5 197.3h0M133.8 195.7h0M197.0 126.6h0M201.4 162.3h0M202.5 179.1h0M134.1 125.3h0M154.7 148.0h0M101.7 188.7h0M156.1 146.4h0M178.8 122.1h0M119.6 158.1h0M124.1 130.6h0M105.5 100.7h0M136.5 152.2h0M201.0 164.5h0M142.9 139.2h0M123.5 146.5h0M202.2 108.2h0M145.0 169.5h0M180.8 155.3h0M167.6 196.9h0M196.0 122.3h0M156.7 203.3h0M155.3 115.6h0M181.2 101.2h0M114.2 154.9h0M127.5 173.2h0M176.9 129.7h0M181.3 165.3h0M174.6 144.6h0M144.9 106.6h0M149.5 198.7h0M194.5 101.1h0M105.6 124.3h0M173.4 142.5h0M111.8 141.2h0M160.2 175.8h0M141.7 165.6h0M172.0 161.9h0M102.9 172.2h0M111.9 100.9h0M149.4 96.8h0M105.8 137.5h0M148.8 106.5h0M201.6 187.5h0M150.8 158.8h0M132.2 201.8h0M110.9 128.0h0M121.9 189.0h0M153.2 139.6h0M141.3 191.3h0M125.9 180.9h0M174.9 143.7h0M137.7 142.4h0M147.1 129.3h0M165.7 139.7h0M130.9 178.9h0M147.4 146.4h0M193.5 144.4h0M138.8 192.5h0M204.0 180.3h0M141.5 167.9h0M178.4 127.2h0M176.6 198.1h0M169.2 167.6h0M145.2 166.0h0M122.5 178.7h0M156.5 201.4h0M135.0 172.3h0M99.7 140.2h0M181.2 123.2h0M164.6 119.0h0M141.2 202.9h0M119.3 194.1h0M104.4 158.3h0M187.2 185.9h0M140.4 159.1h0M175.3 177.7h0M179.1 157.9h0M125.2 171.6h0M158.9 154.1h0M205.2 109.8h0M182.8 130.3h0M176.9 198.2h0M127.7 156.6h0M155.3 148.8h0M116.1 162.9h0M195.0 167.0h0M129.3 182.5h0M143.6 110.8h0M163.8 145.0h0M155.5 202.6h0M159.8 198.5h0M136.2 177.4h0M106.1 127.6h0M173.1 170.0h0M188.0 136.3h0M127.6 133.9h0M156.3 97.6h0M138.6 166.4h0M114.1 128.8h0M192.8 196.4h0M125.0 114.3h0M110.7 104.3h0M184.2 175.3h0M126.6 148.1h0M173.5 98.1h0M186.9 188.3h0M120.9 171.4h0M173.9 131.6h0M193.4 118.7h0M149.4 129.1h0M145.9 183.2h0M159.9 161.2h0M205.2 119.3h0M122.1 162.3h0M114.2 199.7h0M135.0 142.8h0M144.8 184.9h0M197.4 168.5h0M116.5 133.6h0M174.7 118.5h0M193.8 189.7h0M122.5 134.6h0M122.8 173.0h0M103.0 170.6h0M104.7 186.3h0M157.0 158.3h0M108.2 99.8h0M136.3 201.9h0M163.1 188.6h0M104.7 106.1h0M100.2 170.7h0M117.1 124.6h0M170.4 170.5h0M132.9 145.8h0M129.3 156.0h0M136.6 134.1h0M125.0 126.7h0M126.3 96.8h0M131.6 159.3h0M127.1 107.3h0M189.9 145.9h0M153.5 128.9h0M194.3 176.9h0M165.6 166.6h0M173.2 149.4h0M142.8 137.4h0M152.7 145.9h0M155.4 152.9h0M183.6 191.9h0M122.2 97.4h0M130.6 98.5h0M184.5 162.4h0M128.9 115.8h0M192.3 185.8h0M172.2 170.1h0M178.8 144.4h0M141.1 155.0h0M193.6 202.7h0M197.6 185.7h0M106.0 121.8h0M203.4 154.0h0M153.9 128.6h0M191.6 151.1h0M205.6 103.2h0M205.9 96.5h0M114.0 137.3h0M167.4 107.0h0M159.0 197.0h0M145.2 177.8h0M162.2 158.2h0M116.7 145.4h0M195.8 168.2h0M121.5 143.5h0M157.0 131.6h0M160.7 163.6h0M99.8 118.9h0M169.3 118.3h0M105.8 177.7h0M134.2 199.0h0M158.6 106.0h0M167.1 123.5h0M186.4 173.6h0M180.3 101.2h0M101.6 181.6h0M113.2 116.9h0M101.2 112.8h0M149.4 199.0h0M132.8 123.2h0M187.9 115.0h0M166.9 161.8h0M199.6 99.7h0M159.1 136.6h0M187.4 122.4h0M175.6 115.1h0M151.7 200.2h0M124.0 125.3h0M197.6 168.2h0M105.1 115.3h0M123.7 126.5h0M189.7 171.1h0M204.4 167.7h0M166.1 136.6h0M175.9 148.6h0M104.3 148.4h0M139.6 152.7h0M103.2 98.0h0M204.7 135.3h0M133.8 111.1h0M162.3 194.3h0M117.5 149.3h0M152.2 178.2h0M159.3 120.9h0M118.5 173.7h0M106.4 188.9h0M101.5 115.6h0M148.7 186.7h0M165.3 176.0h0M180.6 173.5h0M103.5 184.6h0M114.0 112.6h0M102.0 98.1h0M193.2 136.4h0M107.3 100.1h0M189.9 160.3h0M197.5 99.1h0M110.1 126.1h0M118.7 107.2h0M119.7 164.5h0M116.2 113.3h0M156.1 135.8h0M114.2 156.7h0M153.1 137.1h0M149.5 99.3h0M164.8 116.0h0M134.4 96.0h0M194.4 158.8h0M140.5 153.8h0" stroke="#d0d0d0" stroke-width="0.7" stroke-linecap="round" fill="none" opacity="0.45"/></g><clipPath id="mc2"><rect x="239.2" y="95.0" width="108.7" height="108.6"/></clipPath><g clip-path="url(#mc2)"><rect x="239.2" y="95.0" width="108.7" height="108.6" fill="#a9a9a9"/><path d="M342.4 109.4h0M315.6 174.8h0M315.5 175.7h0M345.2 114.1h0M346.5 113.4h0M345.0 115.2h0M331.0 156.7h0M269.3 197.5h0M268.7 198.5h0M268.6 124.8h0M270.6 123.7h0M264.4 127.5h0M267.2 127.3h0M266.3 126.0h0M301.9 153.4h0M301.3 156.2h0M301.2 156.1h0M322.9 101.2h0M326.2 102.8h0M259.0 156.7h0M256.9 153.4h0M245.7 109.2h0M246.2 110.2h0M256.0 157.6h0M295.7 158.5h0M295.5 155.6h0M297.8 159.9h0M265.6 108.0h0M266.9 108.6h0M314.6 142.6h0M315.1 143.9h0M347.7 152.5h0M347.1 153.6h0M346.3 153.2h0M277.7 175.1h0M276.8 174.6h0M263.0 148.8h0M260.5 148.7h0M261.7 147.8h0M340.8 198.8h0M339.3 196.4h0M256.1 124.5h0M256.5 124.6h0M256.9 124.2h0M311.8 144.0h0M312.5 141.4h0M312.2 143.2h0M308.4 116.3h0M308.7 115.0h0M295.6 130.7h0M297.1 132.7h0M294.3 134.1h0M321.9 136.5h0M323.0 136.5h0M245.5 153.0h0M245.1 151.9h0M275.8 177.6h0M324.4 183.5h0M268.2 127.3h0M265.8 126.6h0M277.1 199.1h0M311.0 129.9h0M310.9 130.6h0M336.9 197.5h0M275.1 115.2h0M276.1 115.0h0M275.4 114.9h0M305.8 194.2h0M298.2 103.6h0M297.3 105.4h0M265.4 112.2h0M264.4 112.8h0M265.9 112.2h0M311.4 191.9h0M310.9 190.2h0M311.2 191.2h0M272.0 97.6h0M321.4 102.7h0M322.6 105.1h0M322.2 105.4h0M298.6 158.2h0M296.4 159.6h0M256.1 138.3h0M258.0 141.5h0M258.4 138.2h0M296.1 168.5h0M300.0 133.4h0M299.4 132.4h0M281.4 200.3h0M279.1 201.8h0M252.5 169.2h0M251.0 168.8h0M242.1 115.4h0M239.9 113.0h0M251.0 136.9h0M249.5 133.6h0M249.5 133.9h0M274.7 180.9h0M274.8 179.9h0M251.8 101.8h0M250.8 103.4h0M252.8 104.7h0M282.8 98.9h0M283.3 98.5h0M282.0 104.1h0M255.3 198.8h0M246.4 162.9h0M245.6 160.9h0M247.7 163.1h0M308.1 101.6h0M308.3 99.7h0M239.8 108.1h0M240.3 107.4h0M304.9 134.2h0M304.4 134.0h0M260.5 135.5h0M322.2 131.9h0M289.5 162.3h0M289.2 161.2h0M290.6 161.8h0M301.7 118.3h0M299.1 120.0h0M338.1 179.3h0M338.7 179.4h0M339.7 181.4h0M342.5 197.3h0M343.3 193.0h0M312.9 156.1h0M313.2 156.1h0M345.0 195.4h0M344.1 195.3h0M252.2 104.8h0M306.6 162.9h0M308.2 159.9h0M308.6 162.8h0M274.0 105.8h0M273.0 104.3h0M275.0 105.5h0M312.5 169.8h0M271.7 182.7h0M271.1 181.8h0M270.5 184.1h0M305.3 135.8h0M306.2 134.3h0M303.8 188.1h0M303.8 187.7h0M304.0 189.3h0M345.4 125.4h0M273.4 124.3h0M268.8 126.4h0M322.8 118.7h0M322.4 120.9h0M321.0 121.6h0M289.2 182.5h0M288.3 182.4h0M289.7 180.8h0M285.8 127.2h0M286.1 128.8h0M287.2 126.9h0M337.0 172.5h0M337.3 174.2h0M308.2 176.9h0M323.2 96.9h0M325.0 96.3h0M262.5 118.5h0M263.7 119.4h0M342.7 175.5h0M343.1 176.4h0M253.1 152.8h0M346.4 175.0h0M261.1 151.4h0M260.3 152.0h0M275.2 101.0h0M275.0 101.3h0M275.6 101.4h0M262.7 125.7h0M340.7 167.3h0M339.0 166.6h0M293.7 158.2h0M294.1 160.2h0M244.0 150.6h0M304.0 157.8h0M301.8 157.7h0M269.2 105.4h0M267.1 107.4h0M330.7 130.4h0M331.5 131.6h0M244.0 189.7h0M244.7 188.3h0M243.4 189.4h0M294.5 161.9h0M295.0 161.0h0M346.4 116.9h0M343.9 118.6h0M346.4 116.3h0M336.7 131.1h0M316.9 128.5h0M315.0 127.1h0M317.1 128.7h0M315.7 181.0h0M315.4 179.8h0M319.2 179.9h0M284.3 187.2h0M267.6 153.2h0M264.9 152.0h0M266.5 152.4h0M246.9 169.7h0M247.6 169.5h0M244.7 164.1h0M242.7 162.7h0M298.1 104.9h0M296.8 103.6h0M282.3 99.0h0M279.9 99.6h0M335.6 151.2h0M339.4 150.5h0M348.4 108.4h0M347.8 110.8h0M347.2 105.6h0M295.4 101.6h0M295.5 100.2h0M279.0 132.7h0M281.6 135.1h0M327.3 116.7h0M327.4 115.2h0M326.8 117.3h0M250.2 181.6h0M298.2 165.2h0M301.1 165.3h0M274.3 144.4h0M296.6 95.9h0M252.6 192.4h0M269.6 144.1h0M268.4 144.2h0M269.9 144.4h0M304.6 131.6h0M306.3 131.0h0M306.2 132.7h0M330.3 131.7h0M327.6 132.6h0M328.6 133.5h0M255.7 198.3h0M252.6 115.5h0M255.0 114.5h0M253.8 116.1h0M257.1 167.7h0M254.8 169.2h0M264.5 104.8h0M275.6 165.2h0M274.6 163.6h0M255.5 107.3h0M255.9 107.5h0M301.7 153.1h0M276.2 192.6h0M275.5 192.6h0M295.3 149.7h0M294.0 151.1h0M292.4 147.3h0M291.9 146.3h0M292.9 148.6h0M251.2 125.0h0M252.7 126.3h0M329.5 200.2h0M330.7 201.8h0M328.5 201.2h0M285.5 143.5h0M284.7 129.4h0M281.9 129.1h0M241.9 125.7h0M241.9 125.1h0M284.3 149.0h0M283.4 148.9h0M281.8 151.4h0M307.9 154.6h0M308.6 152.8h0M308.9 154.0h0M254.2 162.2h0M255.9 158.2h0M252.1 158.0h0M247.8 129.9h0M248.5 128.4h0M266.2 171.4h0M267.9 169.5h0M268.3 169.9h0M287.5 191.7h0M285.0 191.1h0M286.8 191.4h0M300.6 183.5h0M278.6 108.7h0M279.0 109.1h0M255.6 175.2h0M254.5 176.4h0M275.5 125.8h0M275.2 125.6h0M271.2 198.0h0M272.1 196.2h0M265.9 164.0h0M264.3 165.1h0M242.2 179.4h0M242.0 180.9h0M242.3 184.0h0M304.3 107.9h0M302.3 105.4h0M253.5 138.3h0M251.4 139.6h0M268.8 130.8h0M267.1 129.5h0M289.2 113.4h0M290.4 114.6h0M288.1 114.6h0M319.5 160.6h0M318.7 158.9h0M315.3 122.7h0M315.6 121.4h0M317.0 123.0h0M269.8 98.4h0M270.3 97.0h0M290.3 171.6h0M283.2 141.5h0M319.6 165.2h0M287.5 149.7h0M286.6 149.8h0M301.7 126.3h0M317.5 205.4h0M316.1 204.2h0M306.3 122.7h0M304.1 123.1h0M278.3 193.9h0M281.8 194.0h0M342.3 125.2h0M343.2 123.9h0M288.7 169.4h0M290.4 169.0h0M291.1 168.6h0M305.9 160.3h0M292.6 204.0h0M289.1 203.2h0M291.5 204.1h0M282.4 171.8h0M279.7 170.4h0M301.3 131.7h0M301.7 129.3h0M244.2 144.0h0M243.9 144.4h0M255.6 114.9h0M258.5 113.2h0M248.1 123.2h0M246.7 123.8h0M332.1 185.3h0M329.8 181.6h0M330.6 181.9h0M337.2 130.1h0M337.1 131.1h0M336.8 131.6h0M266.9 140.8h0M265.8 143.6h0M267.3 142.2h0M281.2 125.7h0M282.2 125.1h0M281.6 126.2h0M247.1 121.7h0M250.0 193.2h0M287.6 144.4h0M287.5 142.8h0M343.6 163.2h0M343.5 163.8h0M292.5 167.4h0M289.6 168.0h0M292.9 168.9h0M300.1 122.9h0M301.2 123.2h0M297.8 124.4h0M314.6 176.3h0M313.1 176.0h0M258.0 114.4h0M270.2 126.3h0M268.1 125.8h0M279.1 173.9h0M269.8 175.2h0M270.4 176.4h0M268.6 153.9h0M244.3 184.0h0M309.4 167.4h0M330.4 134.4h0M330.9 133.7h0M306.8 107.0h0M310.5 110.3h0M307.7 107.2h0M307.6 100.6h0M306.8 100.7h0M307.6 184.3h0M307.8 183.0h0M309.3 182.9h0M274.7 158.4h0M277.5 157.5h0M253.1 119.2h0M253.4 120.0h0M252.6 121.0h0M309.1 149.5h0M311.7 149.3h0M319.4 140.0h0M322.5 138.5h0M322.4 139.7h0M295.7 99.5h0M273.3 161.2h0M304.1 159.7h0M344.3 106.6h0M346.8 109.5h0M256.9 114.6h0M260.5 115.5h0M240.3 188.4h0M338.1 122.7h0M337.4 124.7h0M312.4 162.1h0M312.1 160.2h0M312.1 135.3h0M313.0 133.9h0M310.0 173.3h0M309.4 171.6h0M317.9 102.2h0M319.3 104.1h0M240.1 130.8h0M240.2 127.4h0M263.0 179.6h0M257.9 177.6h0M321.6 194.4h0M341.1 168.5h0M342.5 167.2h0M342.7 167.4h0M260.1 126.1h0M324.6 98.4h0M327.7 100.5h0M327.0 100.3h0M241.0 147.8h0M244.1 149.1h0M320.4 177.8h0M318.0 179.9h0M260.8 141.3h0M264.5 174.8h0M263.4 175.5h0M330.5 144.9h0M330.8 142.3h0M312.8 188.5h0M313.6 186.4h0M307.7 171.0h0M306.8 172.9h0M246.7 112.8h0M245.9 111.2h0M316.2 202.1h0M317.5 200.2h0M265.6 190.5h0M266.3 188.8h0M344.5 109.9h0M345.6 111.6h0M346.9 111.2h0M343.7 137.7h0M343.2 139.9h0M332.4 198.1h0M330.6 197.5h0M259.4 111.5h0M259.4 110.1h0M304.2 142.7h0M347.8 160.8h0M344.7 160.3h0M288.0 176.6h0M335.3 196.3h0M310.3 115.6h0M308.1 115.1h0M308.2 118.1h0" stroke="#484848" stroke-width="1.5" stroke-linecap="round" fill="none" opacity="0.6"/><path d="M305.2 198.2h0M335.7 148.3h0M306.4 185.4h0M316.3 161.5h0M345.0 179.6h0M239.7 159.0h0M296.0 151.5h0M311.3 147.4h0M297.9 174.7h0M278.0 154.8h0M310.4 134.5h0M257.6 183.4h0M309.5 126.3h0M299.6 189.6h0M329.7 116.4h0M249.3 184.2h0M309.8 155.6h0M248.0 183.1h0M347.8 147.4h0M258.5 107.9h0M276.7 151.5h0M247.1 201.8h0M347.8 169.2h0M242.4 164.1h0M242.9 103.9h0M303.2 183.0h0M268.1 132.1h0M311.5 153.4h0M263.7 158.3h0M324.8 176.2h0M297.1 147.6h0M287.2 122.7h0M267.6 154.9h0M289.9 104.2h0M301.0 185.9h0M328.8 114.4h0M277.1 123.7h0M265.2 101.7h0M239.4 141.5h0M289.7 152.4h0M333.4 161.1h0M242.8 138.2h0M243.7 96.7h0M243.1 106.6h0M283.7 193.0h0M249.0 162.3h0M336.6 118.3h0M275.1 114.8h0M339.2 164.1h0M309.9 146.4h0M288.1 126.7h0M300.6 108.9h0M291.6 124.3h0M275.4 142.9h0M317.7 159.0h0M239.3 131.2h0M345.1 144.0h0M269.1 184.0h0M294.5 176.2h0M340.5 147.6h0M339.1 141.7h0M310.0 137.2h0M343.9 198.9h0M347.0 108.1h0M317.0 158.5h0M331.6 116.1h0M346.5 160.4h0M276.0 179.2h0M250.9 188.4h0M263.6 164.4h0M320.7 145.9h0M304.2 201.0h0M292.1 177.2h0M290.9 182.2h0M310.7 172.2h0M341.6 137.1h0M254.4 111.5h0M265.7 169.2h0M281.8 180.8h0M285.3 161.0h0M304.2 126.2h0M304.3 126.1h0M274.0 137.8h0M312.8 160.8h0M306.3 157.4h0M344.2 135.4h0M268.9 133.1h0M340.5 186.1h0M315.1 191.9h0M319.1 108.2h0M295.5 112.2h0M258.9 198.3h0M333.2 136.0h0M270.7 158.8h0M335.9 185.0h0M253.8 159.1h0M316.7 196.7h0M328.8 149.0h0M244.1 168.6h0M304.2 160.0h0M261.2 118.5h0M255.4 188.9h0M255.9 164.5h0M298.9 176.4h0M281.6 129.0h0M251.4 157.0h0M331.2 146.9h0M346.0 144.5h0M261.9 168.9h0M331.6 122.8h0M252.9 176.8h0M264.8 103.7h0M347.8 179.2h0M292.9 191.7h0M334.4 117.1h0M333.7 149.1h0M341.1 160.6h0M275.8 160.0h0M288.4 154.2h0M321.6 156.0h0M322.1 102.8h0M258.4 142.8h0M258.7 159.1h0M307.5 108.6h0M276.6 138.2h0M309.0 157.3h0M271.8 120.1h0M323.4 131.9h0M331.4 146.3h0M279.6 127.3h0M342.5 123.8h0M275.4 118.2h0M304.4 170.5h0M242.0 144.1h0M281.5 122.1h0M333.8 189.3h0M308.1 109.8h0M320.2 127.3h0M282.4 96.1h0M299.4 152.3h0M290.8 182.1h0M316.5 154.7h0M304.5 166.8h0M268.2 133.5h0M320.4 158.2h0M267.0 182.8h0M288.8 124.1h0M290.5 162.1h0M244.8 156.7h0M241.5 131.5h0" stroke="#505050" stroke-width="2.2" stroke-linecap="round" fill="none" opacity="0.45"/><path d="M304.8 198.4h0M330.9 110.1h0M302.9 129.6h0M316.0 149.1h0M337.4 139.7h0M308.7 131.3h0M293.1 122.2h0M275.4 134.9h0M282.6 173.9h0M275.8 201.9h0M325.8 129.9h0M304.4 200.3h0M251.8 177.8h0M270.7 101.8h0M278.6 142.5h0M345.9 184.2h0M268.1 143.8h0M274.7 198.3h0M241.5 115.1h0M347.6 132.9h0M304.8 149.1h0M347.1 155.1h0M321.8 160.1h0M264.8 110.0h0M347.3 120.6h0M336.7 147.8h0M281.7 117.6h0M313.2 116.8h0M302.9 109.5h0M342.5 138.2h0M332.3 162.1h0M248.0 144.7h0M322.6 98.7h0M334.4 193.8h0M272.1 110.1h0M307.3 117.8h0M319.8 157.3h0M291.6 136.1h0M309.4 124.2h0M292.4 120.6h0M306.6 120.0h0M325.7 157.1h0M283.7 98.5h0M291.3 189.1h0M283.8 140.7h0M326.7 181.5h0M271.3 202.2h0M281.8 198.4h0M335.6 173.7h0M249.8 124.6h0M307.7 119.6h0M282.9 196.4h0M324.7 174.0h0M313.2 173.1h0M259.3 171.9h0M316.7 113.5h0M335.6 187.1h0M336.0 196.4h0M268.7 111.4h0M288.5 202.3h0M242.4 120.9h0M327.6 167.1h0M289.4 198.4h0M271.6 116.1h0M254.6 121.4h0M339.2 132.5h0M281.3 102.1h0M268.8 142.2h0M273.7 125.8h0M292.5 181.5h0M253.6 177.5h0M284.3 155.6h0M264.5 112.5h0M242.4 149.2h0M310.2 161.1h0M269.8 160.5h0M262.7 104.4h0M324.5 170.2h0M273.8 162.0h0M315.3 117.3h0M240.8 157.6h0M244.3 142.9h0M275.6 104.8h0M280.5 117.1h0M265.3 115.4h0M314.4 105.2h0M340.0 102.3h0M290.8 99.5h0M303.8 156.5h0M286.2 180.8h0M281.0 169.5h0M316.7 186.8h0M251.3 120.4h0M287.4 174.9h0M341.2 108.0h0M277.1 121.2h0M273.2 194.9h0M251.3 134.3h0M331.9 177.0h0M305.6 102.1h0M239.3 181.3h0M244.7 120.4h0M289.7 103.5h0M321.0 177.1h0M285.9 183.8h0M307.7 148.0h0M272.1 160.3h0M257.0 126.9h0M242.4 102.7h0M239.4 139.0h0M288.9 191.3h0M241.3 194.7h0M303.3 103.2h0M256.1 192.1h0M299.0 186.0h0M296.0 106.5h0M300.5 180.7h0M258.0 147.2h0M307.2 106.5h0M337.7 157.3h0M273.7 160.0h0M295.2 132.4h0M332.0 98.4h0M258.6 135.2h0M300.3 194.4h0M254.6 183.2h0M244.5 190.6h0M330.0 142.8h0M270.9 197.1h0M283.9 184.4h0M335.2 172.5h0M270.3 186.8h0M279.1 167.7h0M289.7 155.3h0M330.5 126.9h0M251.0 136.0h0M341.6 137.7h0M345.7 118.5h0M341.5 174.3h0M289.9 179.9h0M275.8 100.1h0M260.1 134.5h0M286.0 146.2h0M259.6 110.5h0M275.2 158.4h0M275.2 154.5h0M250.3 144.6h0M308.0 166.4h0M330.2 190.7h0M292.0 169.0h0M292.9 114.8h0M325.8 103.5h0M281.1 124.4h0M262.3 119.2h0M344.0 107.1h0M261.7 129.5h0M258.9 195.8h0M261.0 186.7h0M303.4 110.8h0M333.9 158.8h0M262.7 128.4h0M336.7 147.5h0M245.4 192.5h0M291.3 151.1h0M325.4 139.7h0M261.1 141.6h0M297.4 121.6h0M275.2 181.4h0M331.9 125.3h0M308.3 138.6h0M346.7 133.5h0M305.7 189.1h0M283.0 197.6h0M319.6 175.8h0M317.2 106.7h0M333.4 117.9h0M271.8 177.9h0M308.7 101.4h0M260.5 131.0h0M296.8 178.8h0M282.0 103.0h0M244.1 183.6h0M307.2 124.1h0M239.3 144.3h0M244.2 154.9h0M266.0 168.8h0M337.2 173.1h0M290.6 123.5h0M273.9 144.0h0M306.6 147.3h0M339.3 172.2h0M274.9 108.5h0M259.6 141.3h0M342.9 103.3h0M311.5 202.3h0M290.2 99.4h0M283.1 118.4h0M260.4 154.1h0M290.8 157.3h0M322.4 113.5h0M253.0 194.0h0M312.4 135.6h0M254.9 155.7h0M326.2 176.6h0M331.5 175.1h0M257.7 175.2h0M298.2 169.3h0M279.0 167.6h0M332.7 128.5h0M339.1 100.0h0M323.6 170.7h0M305.0 156.7h0M338.6 134.5h0M261.7 144.2h0M239.8 140.7h0M242.7 112.7h0M342.2 108.8h0M286.6 144.6h0M256.6 129.1h0M333.0 162.6h0M343.1 155.6h0M280.5 143.6h0M260.3 120.1h0M324.2 171.1h0M273.5 154.8h0M274.8 177.5h0M289.1 149.6h0M301.8 186.6h0M338.7 152.0h0M266.2 122.7h0M288.9 101.1h0M267.3 143.2h0M320.3 105.0h0M279.4 196.5h0M276.4 114.6h0M285.8 102.1h0M272.1 166.8h0M333.2 105.4h0M310.4 181.9h0M259.9 119.3h0M333.7 96.9h0M337.3 146.2h0M342.7 193.5h0M256.5 143.6h0M314.8 108.4h0M309.1 150.7h0M240.2 98.7h0M242.9 144.1h0M290.6 199.3h0M261.7 133.6h0M280.0 166.9h0M275.4 168.7h0M317.1 179.1h0M272.7 201.1h0M317.9 200.9h0M283.7 103.9h0M328.9 131.6h0M288.9 172.8h0M331.1 192.0h0M315.4 192.2h0" stroke="#606060" stroke-width="0.9" stroke-linecap="round" fill="none" opacity="0.5"/><path d="M322.5 108.8h0M322.6 145.9h0M341.9 106.9h0M343.0 157.0h0M304.2 103.0h0M277.6 129.9h0M332.3 203.4h0M306.9 183.5h0M344.7 174.4h0M295.9 145.5h0M334.2 170.1h0M341.1 149.6h0M311.6 182.3h0M254.6 117.7h0M311.6 167.8h0M261.7 173.3h0M301.6 173.8h0M347.8 143.4h0M242.0 97.8h0M270.9 97.5h0M244.9 137.0h0M305.2 157.8h0M244.0 199.0h0M300.3 197.2h0M309.2 156.4h0M243.8 147.6h0M337.6 111.7h0M268.3 97.8h0M253.4 196.1h0M266.6 121.2h0M315.8 187.9h0M260.2 128.7h0M298.4 148.2h0M282.2 100.0h0M334.3 139.6h0M281.1 98.5h0M277.2 165.6h0M280.9 198.6h0M335.1 186.2h0M316.4 177.9h0M297.4 106.3h0M301.6 127.4h0M330.2 182.5h0M252.5 130.9h0M324.7 170.3h0M344.9 200.0h0M330.8 122.1h0M240.1 138.4h0M322.0 165.5h0M332.0 127.0h0M331.3 96.5h0M249.3 142.8h0M312.1 160.1h0M305.1 199.4h0M263.7 194.8h0M347.7 99.6h0M268.0 185.6h0M308.8 170.3h0M274.2 181.9h0M248.4 97.2h0M330.3 144.4h0M270.7 192.8h0M318.9 130.9h0M340.9 178.9h0M262.9 151.9h0M285.4 145.5h0M296.7 199.9h0M323.7 183.8h0M266.3 102.1h0M313.0 100.6h0M311.0 137.0h0M274.3 188.6h0M334.1 200.6h0M257.3 198.0h0M282.2 182.0h0M247.9 190.7h0M344.0 97.0h0M290.9 157.7h0M345.8 130.3h0M255.1 163.8h0M309.6 141.9h0M287.9 178.7h0M317.4 184.5h0M256.2 170.3h0M337.8 133.9h0M305.5 103.8h0M342.8 110.1h0M245.5 174.7h0M333.8 161.6h0M313.1 146.2h0M344.5 174.9h0M346.9 153.9h0M243.0 96.0h0M342.1 195.8h0M243.3 165.0h0M327.7 107.5h0M334.6 150.7h0M255.8 192.2h0M296.5 195.8h0M269.0 174.3h0M262.5 116.7h0M293.7 135.9h0M305.4 112.3h0M321.5 172.8h0M279.3 142.6h0M269.8 179.1h0M346.4 182.2h0M315.4 133.5h0M300.4 167.4h0M337.4 145.9h0M331.9 98.8h0M324.7 119.8h0M326.6 161.1h0M305.4 180.6h0M278.8 169.6h0M252.0 101.9h0M323.0 122.9h0M239.5 133.1h0M318.9 144.7h0M289.2 99.1h0M327.4 128.1h0M306.3 153.9h0M330.1 149.1h0M246.9 156.5h0M311.7 195.5h0M332.5 131.5h0M342.6 200.6h0M299.2 185.2h0M320.4 170.5h0M315.9 181.1h0M339.6 146.3h0M315.9 179.3h0M256.0 124.2h0M346.8 101.3h0M311.4 112.8h0M326.4 142.8h0M282.2 159.2h0M248.4 110.8h0M256.8 141.7h0M321.8 149.9h0M276.3 156.2h0M301.6 198.2h0M313.1 112.7h0M334.4 162.2h0M261.1 147.1h0M258.3 116.4h0M324.0 182.6h0M255.6 157.8h0M327.8 163.0h0M248.3 156.1h0M342.2 157.8h0M268.1 181.8h0M344.7 113.3h0M347.5 203.4h0M271.1 100.1h0M261.9 191.3h0M325.3 129.3h0M290.4 174.0h0M298.9 179.8h0M255.8 120.8h0" stroke="#c4c4c4" stroke-width="1.2" stroke-linecap="round" fill="none" opacity="0.5"/><circle cx="263.9" cy="128.1" r="4.5" fill="url(#blob)"/><circle cx="311.7" cy="136.0" r="4.5" fill="url(#blob)"/><circle cx="274.8" cy="182.1" r="4.8" fill="url(#blob)"/><circle cx="252.1" cy="124.7" r="2.3" fill="url(#blob)"/><circle cx="244.6" cy="145.4" r="2.8" fill="url(#blob)"/><circle cx="277.3" cy="151.6" r="2.8" fill="url(#blob)"/><circle cx="272.3" cy="163.3" r="2.3" fill="url(#blob)"/><circle cx="295.8" cy="129.8" r="2.8" fill="url(#blob)"/><circle cx="290.7" cy="149.1" r="3.3" fill="url(#blob)"/><circle cx="248.8" cy="97.0" r="2.8" fill="url(#blob)"/><circle cx="304.1" cy="97.0" r="2.8" fill="url(#blob)"/><circle cx="258.0" cy="197.8" r="4.0" fill="url(#blob)"/></g><clipPath id="mc3"><rect x="420.9" y="95.0" width="108.7" height="108.6"/></clipPath><g clip-path="url(#mc3)"><rect x="420.9" y="95.0" width="108.7" height="108.6" fill="url(#vg3)"/><path d="M482.9 163.7h0M509.7 125.1h0M491.8 191.7h0M519.7 115.3h0M491.7 162.0h0M475.6 199.9h0M478.3 143.4h0M523.5 164.0h0M453.7 128.6h0M474.8 100.7h0M486.9 174.9h0M467.2 186.9h0M521.8 155.3h0M495.0 107.7h0M427.0 201.4h0M451.8 118.2h0M518.4 176.4h0M434.3 129.9h0M447.3 124.6h0M421.6 152.0h0M454.0 137.8h0M441.1 107.0h0M424.5 189.8h0M502.1 155.8h0M434.4 111.2h0M433.9 129.4h0M427.2 124.9h0M443.0 115.9h0M492.0 144.7h0M472.4 133.9h0M479.5 180.3h0M454.4 102.6h0M473.2 136.2h0M505.7 107.1h0M515.8 96.6h0M479.8 143.2h0M455.2 191.5h0M497.2 112.7h0M474.7 161.5h0M424.5 104.5h0M486.3 174.2h0M471.2 140.8h0M476.0 123.3h0M516.2 199.4h0M473.3 97.2h0M464.1 182.2h0M456.2 106.5h0M441.0 172.3h0M488.5 126.1h0M488.7 177.6h0M525.9 185.3h0M468.1 182.9h0M521.5 189.4h0M502.5 158.7h0M476.5 187.3h0M488.8 173.3h0M445.7 105.0h0M450.3 158.4h0M483.2 116.6h0M441.4 198.2h0M428.7 195.6h0M504.8 157.3h0M529.1 168.8h0M421.6 197.0h0M465.8 194.5h0M509.4 110.0h0M425.2 97.3h0M505.8 181.0h0M445.7 107.2h0M460.7 181.8h0M501.4 189.2h0M526.1 177.0h0M511.7 96.8h0M421.6 188.7h0M488.2 130.5h0M434.8 131.1h0M457.8 148.8h0M469.8 117.0h0M429.8 117.1h0M434.8 105.9h0M466.0 109.1h0M507.9 154.2h0M470.9 164.4h0M446.4 97.5h0M429.4 131.6h0M460.2 122.4h0M454.2 185.5h0M421.8 143.8h0M462.5 125.6h0M499.7 119.4h0M425.5 112.3h0M527.2 132.6h0M433.6 200.4h0M491.0 198.9h0M456.9 183.0h0M425.4 120.8h0M507.3 151.0h0M506.7 136.9h0M516.2 103.4h0M488.7 115.5h0M442.6 190.9h0M467.6 183.2h0M451.8 174.3h0M519.5 163.1h0M446.4 167.6h0M524.3 182.0h0M469.2 138.4h0M431.6 178.5h0M438.1 118.7h0M424.5 112.8h0M462.6 146.8h0M439.9 141.1h0M503.3 105.5h0M435.6 151.7h0M519.2 194.7h0M482.8 105.0h0M515.9 202.8h0M518.7 152.7h0M462.5 158.7h0M506.8 203.0h0M474.6 150.0h0M454.7 153.7h0M480.0 125.7h0M470.7 194.4h0M446.5 122.6h0M454.0 188.2h0M453.9 184.8h0M521.9 190.1h0M508.3 116.1h0M469.9 184.4h0M447.6 160.3h0M515.6 196.4h0M459.0 108.0h0M424.3 129.4h0M480.4 125.5h0M510.5 165.6h0M488.4 184.8h0M456.6 165.6h0M459.0 126.4h0M433.4 180.6h0M518.8 98.4h0M498.8 101.8h0M466.3 129.4h0M519.0 142.0h0M476.4 133.7h0M448.6 121.4h0M427.7 96.6h0M480.7 175.2h0M493.8 123.2h0M528.3 103.6h0M467.8 131.2h0M440.4 199.4h0M498.6 109.3h0M440.1 183.0h0M461.4 127.7h0M453.1 130.3h0M484.9 128.8h0M485.2 101.9h0M479.1 158.4h0M455.7 189.2h0M521.8 166.4h0M465.6 113.0h0M488.9 126.4h0M438.8 152.8h0M442.7 164.4h0M503.5 96.3h0M489.7 115.8h0M457.5 173.5h0M525.8 129.1h0M502.9 132.7h0M523.1 113.9h0M493.2 104.0h0M481.8 175.7h0M520.2 178.1h0M480.6 138.4h0M489.4 165.4h0M487.3 172.5h0M501.9 196.8h0M488.4 190.1h0M501.4 136.3h0M508.1 134.7h0M511.0 190.5h0M518.4 193.8h0M496.2 149.1h0M452.3 164.4h0M517.9 133.9h0M443.8 177.2h0M519.8 117.4h0M436.0 107.2h0M480.9 185.4h0M447.8 180.9h0M426.0 117.7h0M480.3 177.3h0M474.6 169.7h0M460.0 136.0h0M477.5 95.2h0M442.7 133.1h0M492.3 116.4h0M447.4 202.6h0M491.6 139.6h0M506.0 172.6h0M509.7 155.7h0M487.7 105.5h0M467.5 137.6h0M448.7 134.6h0M517.2 119.2h0M433.3 131.4h0M439.3 97.5h0M520.1 154.5h0M423.8 152.7h0M439.8 147.5h0M523.6 201.2h0M464.1 180.0h0M474.5 103.7h0M464.4 183.0h0M505.4 173.5h0M528.3 136.3h0M497.3 183.9h0M521.4 189.5h0M515.8 132.0h0M462.0 162.2h0M433.9 128.4h0M461.2 117.3h0M441.0 165.9h0M454.6 101.2h0M507.6 197.7h0M445.2 169.4h0M429.9 119.0h0M438.8 164.7h0M481.6 184.2h0M492.6 177.0h0M516.0 158.4h0M445.4 112.7h0M514.0 184.1h0M491.1 198.4h0M508.8 138.8h0M441.1 141.3h0M520.6 191.5h0M421.6 95.8h0M469.5 193.8h0M516.4 185.8h0M428.4 117.4h0M505.0 142.8h0M455.6 199.3h0M422.8 147.8h0M516.8 171.1h0M517.5 124.6h0M481.8 201.3h0M435.3 141.7h0M528.7 112.4h0M505.0 176.3h0M448.9 202.5h0M505.8 109.3h0M528.5 190.9h0M473.0 98.2h0M506.2 158.5h0M501.8 103.6h0M473.0 182.8h0M500.1 113.8h0M456.7 144.3h0M470.8 202.5h0M522.4 95.2h0M488.1 109.9h0M514.9 152.3h0M518.5 193.7h0M522.5 113.3h0M427.9 179.0h0M471.5 179.4h0M469.0 140.1h0M500.7 135.0h0M474.9 138.2h0M494.3 102.7h0M471.2 158.0h0M495.4 193.0h0M461.3 199.4h0M497.3 136.7h0M482.0 134.3h0M491.9 97.7h0M518.5 134.0h0M422.2 104.3h0M457.8 123.6h0M512.0 135.9h0M520.5 125.2h0M458.4 198.3h0M514.2 196.7h0M433.4 102.5h0M496.4 131.6h0M432.3 105.0h0M456.0 128.7h0M493.1 202.4h0M439.3 181.2h0M485.5 189.1h0M528.7 194.5h0M435.2 175.2h0M505.0 136.3h0M424.4 177.6h0M489.1 177.5h0M503.1 174.8h0M425.6 197.2h0M524.8 133.3h0M506.3 196.9h0M467.8 131.5h0M486.3 179.7h0M465.7 170.9h0M524.6 135.6h0M519.8 110.2h0M485.4 185.5h0M464.9 125.8h0M451.1 134.5h0M463.3 140.0h0M447.4 159.6h0M445.0 123.5h0M471.5 193.9h0M450.8 114.7h0M505.1 158.4h0M434.0 200.7h0M442.7 163.7h0M446.8 184.8h0M461.1 163.3h0M507.4 171.4h0M454.7 127.7h0M484.3 152.1h0M498.5 102.5h0M427.9 95.3h0M508.4 113.9h0M502.7 144.6h0M524.6 164.2h0M512.8 105.9h0M518.0 136.5h0M425.5 188.2h0M446.3 165.9h0M422.8 142.7h0M471.5 143.8h0M510.7 126.3h0M520.0 112.4h0M526.1 126.1h0M494.6 196.1h0M494.9 187.7h0M430.4 200.0h0M425.3 168.4h0M510.5 178.3h0M500.0 160.8h0M528.2 119.4h0M519.8 182.6h0M441.7 145.3h0M468.3 111.2h0M513.6 187.9h0M502.5 98.8h0M500.2 195.8h0M499.0 196.2h0M525.3 171.4h0M501.6 127.8h0M504.8 129.0h0M449.8 130.8h0M454.5 99.2h0M437.2 125.0h0M444.5 97.2h0M500.9 184.6h0M457.0 172.5h0M515.3 98.3h0M483.2 159.0h0M439.6 192.9h0M508.4 153.2h0M479.2 185.4h0M427.1 190.2h0M477.9 128.0h0M449.2 153.8h0M431.9 184.8h0M465.3 192.4h0M524.5 181.2h0M432.7 121.6h0M489.4 197.2h0M488.9 134.2h0M508.8 145.4h0M485.0 144.4h0M524.3 161.6h0M432.7 164.9h0M464.7 113.4h0M474.8 123.9h0M524.1 118.8h0M480.1 95.6h0M453.9 165.8h0M475.2 167.0h0M483.3 161.8h0M448.8 195.3h0M491.6 98.0h0M511.7 113.3h0M466.1 165.5h0M518.4 113.6h0M453.1 151.0h0M495.0 145.3h0M497.7 202.6h0M428.1 138.9h0M507.1 183.1h0M524.7 131.6h0M448.0 167.4h0M510.9 181.7h0M479.1 109.0h0M497.0 122.8h0M423.7 95.2h0M458.0 135.6h0M480.2 143.4h0M476.6 163.8h0M440.8 181.9h0M493.8 183.2h0M482.2 153.7h0M511.9 166.6h0M449.8 189.0h0M441.8 124.9h0M510.7 144.3h0M437.5 192.6h0M485.7 97.1h0M458.4 132.3h0M451.3 173.4h0M445.7 104.1h0M514.3 157.5h0M472.7 191.2h0M495.1 187.5h0M457.3 128.0h0M457.0 146.1h0M483.6 116.6h0M482.5 197.0h0M502.3 95.5h0M472.7 163.5h0M426.8 202.7h0M506.4 155.7h0M477.1 164.1h0M463.9 157.6h0M476.0 132.6h0M472.0 101.4h0M487.3 120.7h0M449.8 111.6h0M502.4 144.3h0M484.0 150.5h0M484.7 134.2h0M449.1 178.3h0M499.7 111.7h0M436.3 133.2h0M507.3 128.7h0M445.4 141.7h0M475.3 163.2h0M455.6 138.4h0M527.9 177.3h0M444.8 150.2h0M437.4 201.4h0M449.2 195.5h0M444.4 119.4h0M458.1 130.4h0M458.3 137.7h0M465.3 107.2h0M489.1 170.2h0M445.2 109.6h0M424.7 114.8h0M477.1 162.8h0M523.0 184.1h0M438.2 123.0h0M442.2 102.5h0M423.9 153.8h0M524.7 201.2h0M423.5 122.1h0M459.1 188.3h0M432.0 142.8h0M515.9 179.9h0M440.5 151.3h0M494.9 108.6h0M514.6 168.6h0M460.8 131.3h0M430.6 193.1h0M441.7 158.8h0M496.8 160.5h0M507.5 124.8h0M493.4 118.0h0M497.9 176.9h0M471.5 174.2h0M494.5 96.6h0M444.0 117.8h0M496.0 185.1h0M445.9 195.4h0M442.3 141.6h0M513.2 125.7h0M514.1 99.8h0M452.6 186.3h0M492.2 108.3h0M474.1 152.3h0M424.1 196.3h0M423.6 195.8h0M496.5 166.3h0M461.2 121.7h0M474.5 198.5h0M431.3 146.9h0M486.7 200.5h0M497.5 198.0h0M497.0 142.3h0M522.6 99.4h0M502.2 96.6h0M430.6 100.5h0M469.8 181.5h0M507.4 162.5h0M461.0 126.8h0M470.2 130.8h0M476.8 165.2h0M430.9 195.9h0M435.1 189.9h0M422.6 95.4h0M525.3 130.7h0M463.4 178.7h0M429.7 160.9h0M515.2 147.5h0M423.5 111.5h0M516.2 116.4h0M497.6 164.5h0M505.1 165.1h0M479.3 182.1h0M499.3 119.8h0M428.8 158.8h0M483.3 167.2h0M452.6 202.1h0M485.8 140.6h0M439.4 115.0h0M450.6 169.3h0M465.7 183.2h0M455.5 186.3h0M526.4 167.7h0M507.4 126.6h0M470.9 136.7h0M464.5 200.6h0M457.1 199.8h0M500.5 124.1h0M468.0 141.7h0M470.8 197.8h0M490.0 148.9h0M484.3 132.2h0M435.0 137.2h0M508.7 181.3h0M424.5 164.2h0M504.2 163.5h0M524.8 128.3h0M439.0 138.6h0M423.5 188.0h0M469.2 166.9h0M475.5 152.2h0M461.9 180.2h0M515.6 202.7h0M482.4 145.6h0M482.7 199.1h0M456.9 96.6h0M475.7 188.3h0M436.6 132.5h0M489.1 163.5h0M456.9 177.1h0M510.6 171.4h0M515.7 109.7h0M465.8 139.6h0M452.4 141.2h0M522.1 175.8h0M441.5 170.3h0M491.7 122.2h0M458.3 109.2h0M470.0 175.1h0M459.0 128.8h0M447.5 200.8h0M448.1 143.0h0M446.0 148.3h0M505.8 189.4h0M484.0 195.9h0M452.3 169.8h0M460.9 123.3h0M464.0 117.4h0M489.0 112.6h0M498.0 174.7h0M423.2 136.2h0M491.7 165.2h0M488.2 96.6h0M502.0 109.9h0M422.8 176.6h0M468.0 116.1h0M436.2 136.3h0M492.7 98.6h0M477.2 144.2h0M515.7 141.2h0M438.7 159.3h0M430.7 105.4h0M518.4 156.1h0M459.2 118.1h0M436.5 140.0h0M466.6 197.5h0M472.1 137.2h0M475.1 127.5h0M475.5 137.4h0M443.0 135.5h0M505.2 104.3h0M486.8 195.7h0M484.8 144.5h0M515.3 173.8h0M457.5 95.1h0M520.3 143.7h0M455.6 95.6h0M444.7 174.7h0M486.5 111.9h0M503.3 180.3h0M430.9 162.0h0M457.2 136.3h0M452.2 153.2h0M430.6 199.3h0M436.9 202.2h0M423.7 139.5h0M450.6 202.6h0M458.3 203.6h0M461.5 107.4h0M462.1 102.0h0M473.9 112.7h0M444.8 110.6h0M456.1 202.8h0M479.2 163.6h0M511.0 141.6h0M492.7 96.6h0M478.1 185.6h0M459.8 108.0h0M520.6 180.3h0M455.4 107.6h0M462.4 147.2h0M449.4 187.8h0M482.0 182.9h0M478.0 196.9h0M490.0 149.3h0M473.8 188.0h0M488.5 155.2h0M439.0 190.7h0M493.9 201.9h0M465.1 117.1h0M426.7 131.1h0M475.3 122.0h0M499.6 115.7h0M520.7 111.6h0M440.7 107.9h0M506.6 190.7h0M496.0 121.1h0M511.9 170.8h0M448.4 192.9h0M503.7 124.3h0M479.0 96.0h0M432.8 103.7h0M509.8 144.0h0M486.3 194.5h0M452.1 110.1h0M449.6 196.6h0M456.0 99.8h0M428.4 136.3h0M517.5 119.5h0M505.4 134.3h0M527.1 160.9h0M446.8 130.5h0M478.7 138.6h0M470.0 198.8h0M425.0 134.0h0M501.9 192.9h0M516.0 136.2h0M460.0 191.7h0M483.4 198.9h0M434.1 179.1h0M500.1 203.0h0M448.1 160.2h0M513.4 144.4h0M434.4 169.3h0M438.9 113.0h0M528.9 145.7h0M525.3 197.3h0M436.8 120.4h0M503.7 114.1h0M432.0 105.1h0M515.6 192.1h0M515.5 136.7h0M446.8 152.9h0M424.4 117.9h0M520.2 202.5h0M461.5 119.5h0M487.4 193.5h0M482.5 152.7h0M493.2 172.7h0M453.0 131.0h0M472.7 145.9h0M528.5 115.9h0M423.4 155.0h0M526.8 197.5h0M436.8 203.4h0M519.5 123.7h0M447.4 116.5h0M473.5 155.4h0M443.8 149.1h0M478.3 111.8h0M491.7 108.4h0M470.9 115.8h0M436.5 157.2h0M508.7 151.9h0M435.3 114.6h0M515.2 156.1h0M451.0 137.0h0M436.6 157.9h0M421.7 180.0h0M442.3 133.3h0" stroke="#4c4c4c" stroke-width="0.75" stroke-linecap="round" fill="none" opacity="0.5"/><path d="M524.6 103.8h0M526.7 101.1h0M485.7 106.1h0M485.1 107.0h0M510.5 165.6h0M510.9 161.7h0M488.4 133.9h0M487.7 134.5h0M442.7 183.4h0M441.2 183.4h0M429.6 100.2h0M432.6 98.4h0M460.7 176.7h0M455.2 199.7h0M456.8 203.5h0M420.5 149.0h0M424.4 150.5h0M424.9 152.2h0M498.8 180.1h0M497.6 176.9h0M503.3 143.3h0M503.2 140.9h0M458.4 143.3h0M457.8 140.6h0M460.5 140.9h0M438.5 117.6h0M441.4 116.8h0M467.3 174.5h0M463.9 171.2h0M444.7 125.0h0M444.4 122.7h0M444.5 123.2h0M480.8 120.1h0M478.9 116.1h0M518.9 122.5h0M514.2 123.0h0M430.4 128.2h0M429.0 130.1h0M426.1 130.5h0M510.3 185.4h0M510.8 178.6h0M445.7 145.3h0M478.0 173.6h0M478.7 170.3h0M487.3 96.3h0M488.7 97.7h0M522.9 165.2h0M453.8 111.7h0M440.9 204.8h0M438.4 201.5h0M502.4 106.4h0M504.9 103.8h0M470.4 177.8h0M473.7 178.2h0M484.8 152.0h0M520.7 101.0h0M520.5 100.0h0M471.2 100.8h0M470.9 98.6h0M488.7 112.1h0M519.4 161.5h0M518.7 159.8h0M521.8 161.6h0M495.6 158.7h0M499.5 160.9h0M479.1 135.2h0M443.8 99.3h0M443.2 101.8h0M502.5 118.5h0M502.1 117.6h0M480.5 133.9h0M477.4 137.1h0M467.6 148.4h0M464.3 148.0h0M451.0 181.0h0M452.5 178.8h0M447.8 94.0h0M443.1 100.1h0M445.3 97.7h0M458.0 130.3h0M459.9 130.5h0M476.8 187.0h0M477.2 186.1h0M492.8 157.8h0M491.3 160.2h0M490.3 159.8h0M445.7 115.8h0M451.2 117.1h0M500.0 131.3h0M500.4 131.9h0M521.4 108.8h0M499.5 99.9h0M498.0 106.0h0M500.0 102.3h0M465.1 121.0h0M465.0 119.7h0M501.8 101.8h0M498.7 103.6h0M501.5 104.9h0M511.5 123.2h0M512.1 117.8h0M522.2 202.4h0M520.7 199.3h0M493.8 122.0h0M493.1 118.8h0M495.1 121.1h0M428.0 183.6h0M424.9 183.2h0M500.0 180.5h0M484.2 128.2h0M484.1 130.3h0M454.1 189.4h0M454.8 186.5h0M455.0 187.3h0M451.3 173.8h0M451.8 172.6h0M456.8 171.7h0M467.5 169.3h0M469.3 168.9h0M468.0 168.9h0M473.4 187.6h0M473.1 189.5h0M492.9 104.3h0M493.3 102.4h0M527.7 174.4h0M527.8 173.9h0M434.6 200.7h0M435.6 208.2h0M493.1 148.0h0M495.2 145.0h0M495.5 147.3h0M512.1 157.2h0M518.7 157.8h0M471.1 152.8h0M469.5 151.8h0M481.4 143.5h0M460.1 167.6h0M463.3 168.6h0M480.6 201.2h0M482.1 198.7h0M478.1 199.5h0M484.5 204.5h0M481.1 202.6h0M492.5 180.3h0M491.2 180.7h0M488.1 182.7h0M514.9 202.6h0M515.9 202.3h0M518.9 200.5h0M529.7 138.8h0M431.0 178.9h0M430.7 178.7h0M483.7 96.6h0M485.3 96.4h0M515.6 179.0h0M516.2 180.6h0M440.3 98.4h0M441.8 97.3h0M431.8 181.1h0M434.9 180.0h0M433.8 180.2h0M465.8 110.3h0M466.7 111.3h0M524.1 193.8h0M515.5 97.3h0M519.0 96.9h0M519.7 95.1h0M425.9 195.2h0M424.8 192.5h0M475.0 151.6h0M512.0 199.5h0M475.5 175.3h0M478.5 175.8h0M477.1 177.0h0M490.1 189.7h0M490.5 190.2h0M526.4 159.4h0M526.7 158.7h0M525.3 158.4h0M529.7 180.7h0M508.8 117.1h0M511.9 117.6h0M511.0 116.3h0M522.7 199.1h0M524.0 196.5h0M491.0 167.2h0M494.1 169.2h0M495.1 165.4h0M432.7 176.6h0M431.5 175.0h0M439.3 140.1h0M436.4 142.9h0M439.7 142.6h0M497.7 173.5h0M497.7 173.5h0M499.1 178.9h0M522.6 123.8h0M523.6 122.8h0M521.6 125.8h0M494.2 178.5h0M495.4 180.3h0M518.6 142.9h0M516.9 144.7h0M479.7 149.1h0M479.7 152.5h0M480.5 150.3h0M494.1 105.5h0M449.4 167.3h0M477.8 196.2h0M497.8 171.8h0M531.7 127.4h0M526.0 126.4h0M466.9 176.1h0M463.8 173.7h0M464.4 174.5h0M465.2 203.2h0M461.2 200.0h0M461.6 199.8h0M443.3 130.8h0M517.0 109.5h0M515.5 110.7h0M516.0 107.6h0M485.6 144.7h0M465.4 159.8h0M463.0 163.5h0M435.5 135.2h0M433.2 135.2h0M434.6 133.5h0M520.6 110.2h0M459.8 118.8h0M457.2 118.8h0M454.5 99.8h0M456.3 100.4h0M489.6 111.4h0M482.2 132.7h0M469.2 168.5h0M472.7 166.4h0M466.3 126.2h0M464.0 128.7h0M466.1 127.4h0M428.1 140.2h0M482.6 175.7h0M479.8 175.1h0M503.2 156.9h0M501.4 154.0h0M485.1 112.2h0M476.6 128.7h0M476.3 127.2h0M462.5 161.1h0M466.2 159.4h0M494.4 107.9h0M492.8 106.5h0M450.3 141.8h0M450.3 141.9h0M530.3 105.6h0M529.2 103.2h0M529.4 103.3h0M458.3 140.8h0M440.3 117.1h0M440.8 116.4h0M443.2 112.9h0M487.8 145.7h0M488.9 147.4h0M488.8 148.1h0M436.0 199.8h0M472.1 159.2h0M469.8 162.6h0M471.0 159.6h0M468.8 169.3h0M472.8 168.3h0M495.8 166.1h0M456.2 157.7h0M453.2 155.8h0M494.0 182.5h0M493.3 187.2h0M443.7 174.2h0M445.8 170.4h0M443.4 176.8h0M489.7 125.9h0M507.8 111.8h0M508.6 115.2h0M467.5 101.1h0M471.4 100.3h0M475.0 181.7h0M475.8 183.6h0M444.8 160.2h0M507.9 119.5h0M510.0 119.9h0M421.9 136.7h0M421.0 132.1h0M460.6 137.0h0M460.4 139.0h0M525.7 199.5h0M525.1 200.9h0M528.8 204.0h0M457.6 119.3h0M459.3 119.9h0M458.0 121.5h0M435.8 201.1h0M439.5 200.3h0M437.2 199.6h0M517.6 178.3h0M518.6 180.2h0M485.5 159.9h0M488.3 155.9h0M429.7 145.7h0M461.9 176.5h0M459.6 179.0h0M420.5 183.5h0M519.9 119.9h0M434.3 151.0h0M431.2 146.8h0M454.9 126.1h0M450.4 127.1h0M461.4 103.4h0M456.2 104.9h0M461.3 106.8h0M519.9 131.7h0M518.7 131.1h0M520.9 132.4h0M494.6 181.8h0M467.3 193.9h0M499.8 179.4h0M458.9 185.5h0M456.9 188.4h0M461.5 188.3h0M425.7 146.2h0M427.6 150.9h0M439.3 144.8h0M441.8 147.3h0M445.6 95.7h0M446.4 99.2h0M445.9 156.9h0M446.1 156.3h0M469.4 163.1h0M443.3 101.7h0M447.1 104.6h0M525.2 162.6h0M521.6 161.2h0M523.3 160.9h0M431.6 139.2h0M432.5 138.2h0M431.3 138.4h0M462.3 136.8h0M456.9 136.5h0M460.3 132.7h0M478.7 151.1h0M478.1 148.3h0" stroke="#454545" stroke-width="2.7" stroke-linecap="round" fill="none" opacity="0.3"/><path d="M524.6 103.8h0M526.7 101.1h0M485.7 106.1h0M485.1 107.0h0M510.5 165.6h0M510.9 161.7h0M488.4 133.9h0M487.7 134.5h0M442.7 183.4h0M441.2 183.4h0M429.6 100.2h0M432.6 98.4h0M460.7 176.7h0M455.2 199.7h0M456.8 203.5h0M420.5 149.0h0M424.4 150.5h0M424.9 152.2h0M498.8 180.1h0M497.6 176.9h0M503.3 143.3h0M503.2 140.9h0M458.4 143.3h0M457.8 140.6h0M460.5 140.9h0M438.5 117.6h0M441.4 116.8h0M467.3 174.5h0M463.9 171.2h0M444.7 125.0h0M444.4 122.7h0M444.5 123.2h0M480.8 120.1h0M478.9 116.1h0M518.9 122.5h0M514.2 123.0h0M430.4 128.2h0M429.0 130.1h0M426.1 130.5h0M510.3 185.4h0M510.8 178.6h0M445.7 145.3h0M478.0 173.6h0M478.7 170.3h0M487.3 96.3h0M488.7 97.7h0M522.9 165.2h0M453.8 111.7h0M440.9 204.8h0M438.4 201.5h0M502.4 106.4h0M504.9 103.8h0M470.4 177.8h0M473.7 178.2h0M484.8 152.0h0M520.7 101.0h0M520.5 100.0h0M471.2 100.8h0M470.9 98.6h0M488.7 112.1h0M519.4 161.5h0M518.7 159.8h0M521.8 161.6h0M495.6 158.7h0M499.5 160.9h0M479.1 135.2h0M443.8 99.3h0M443.2 101.8h0M502.5 118.5h0M502.1 117.6h0M480.5 133.9h0M477.4 137.1h0M467.6 148.4h0M464.3 148.0h0M451.0 181.0h0M452.5 178.8h0M447.8 94.0h0M443.1 100.1h0M445.3 97.7h0M458.0 130.3h0M459.9 130.5h0M476.8 187.0h0M477.2 186.1h0M492.8 157.8h0M491.3 160.2h0M490.3 159.8h0M445.7 115.8h0M451.2 117.1h0M500.0 131.3h0M500.4 131.9h0M521.4 108.8h0M499.5 99.9h0M498.0 106.0h0M500.0 102.3h0M465.1 121.0h0M465.0 119.7h0M501.8 101.8h0M498.7 103.6h0M501.5 104.9h0M511.5 123.2h0M512.1 117.8h0M522.2 202.4h0M520.7 199.3h0M493.8 122.0h0M493.1 118.8h0M495.1 121.1h0M428.0 183.6h0M424.9 183.2h0M500.0 180.5h0M484.2 128.2h0M484.1 130.3h0M454.1 189.4h0M454.8 186.5h0M455.0 187.3h0M451.3 173.8h0M451.8 172.6h0M456.8 171.7h0M467.5 169.3h0M469.3 168.9h0M468.0 168.9h0M473.4 187.6h0M473.1 189.5h0M492.9 104.3h0M493.3 102.4h0M527.7 174.4h0M527.8 173.9h0M434.6 200.7h0M435.6 208.2h0M493.1 148.0h0M495.2 145.0h0M495.5 147.3h0M512.1 157.2h0M518.7 157.8h0M471.1 152.8h0M469.5 151.8h0M481.4 143.5h0M460.1 167.6h0M463.3 168.6h0M480.6 201.2h0M482.1 198.7h0M478.1 199.5h0M484.5 204.5h0M481.1 202.6h0M492.5 180.3h0M491.2 180.7h0M488.1 182.7h0M514.9 202.6h0M515.9 202.3h0M518.9 200.5h0M529.7 138.8h0" stroke="#c2c2c2" stroke-width="1.1" stroke-linecap="round" fill="none" opacity="0.55"/><path d="M489.4 156.2h0M506.6 152.1h0M475.1 121.7h0M503.7 170.9h0M441.5 96.3h0M513.2 169.9h0M503.0 203.3h0M450.6 129.3h0M517.8 163.2h0M480.2 123.7h0M463.8 174.0h0M497.3 129.9h0M423.1 97.0h0M501.6 154.4h0M511.7 116.3h0M491.0 98.4h0M504.2 192.5h0M474.2 166.1h0M444.7 188.1h0M500.0 97.0h0M523.7 162.7h0M446.2 184.3h0M445.7 177.0h0M499.9 121.7h0M484.8 146.2h0M480.3 143.8h0M508.3 129.4h0M473.4 201.5h0M527.1 126.9h0M421.1 184.5h0M458.4 157.3h0M527.2 175.9h0M461.5 190.8h0M487.3 172.3h0M474.5 98.1h0M484.9 110.3h0M498.6 131.4h0M451.4 163.5h0M463.2 176.5h0M430.6 100.9h0M462.3 198.0h0M498.4 193.1h0M479.5 183.6h0M438.0 165.8h0M426.3 106.4h0M511.5 117.1h0M492.1 153.6h0M529.1 116.9h0M529.5 154.6h0M490.6 203.1h0M518.3 165.5h0M469.3 167.2h0M450.7 156.9h0M526.0 168.3h0M462.6 134.9h0M470.5 199.4h0M433.0 202.4h0M442.1 171.4h0M447.4 154.9h0M442.8 167.4h0M498.4 116.4h0M505.5 173.0h0M473.0 108.8h0M440.8 166.9h0M473.4 186.8h0M421.4 199.9h0M461.0 172.8h0M484.6 155.7h0M435.5 116.2h0M455.5 150.2h0M529.2 153.0h0M463.5 192.8h0M503.7 144.6h0M437.0 175.1h0M484.0 138.0h0M509.8 192.6h0M490.5 142.3h0M450.0 200.3h0M483.6 120.4h0M491.7 189.8h0M444.2 202.0h0M504.8 186.1h0M444.7 162.8h0M469.5 193.8h0M472.7 179.2h0M453.6 176.8h0M498.1 98.2h0M508.8 142.5h0M499.9 192.0h0M483.1 188.0h0M482.5 185.4h0M463.5 128.0h0M463.3 106.1h0M454.1 194.3h0M463.9 134.5h0M451.9 152.5h0M481.5 197.3h0M523.3 126.4h0M481.1 183.2h0M444.1 188.8h0M529.3 159.8h0M499.1 144.8h0M506.2 102.2h0M497.1 123.8h0M449.0 170.2h0M472.2 143.2h0M523.8 102.2h0M429.4 152.2h0M448.4 171.6h0M482.6 120.8h0M448.0 199.5h0M422.1 166.6h0M524.4 182.5h0M489.8 147.5h0M489.8 139.4h0M492.4 180.7h0M437.3 192.8h0M514.1 158.3h0M422.9 180.1h0M434.8 164.2h0M459.6 175.5h0M437.8 180.9h0M514.4 187.7h0M474.0 138.0h0M494.1 97.9h0M451.3 161.9h0M514.9 189.6h0M478.3 164.2h0M491.7 173.1h0M462.7 95.5h0M438.7 147.1h0M451.4 113.9h0M478.3 130.1h0M450.8 118.8h0M444.5 167.2h0M442.9 201.1h0M468.2 121.5h0M502.8 172.2h0M437.7 200.8h0M456.5 199.7h0M438.9 143.7h0M491.8 149.3h0M425.8 121.3h0M440.5 166.5h0M522.8 194.0h0M470.8 154.4h0M427.5 142.9h0M477.4 169.8h0M481.0 198.8h0M488.6 201.7h0M435.1 199.5h0M439.8 113.6h0M440.6 190.9h0M514.6 179.3h0M466.4 103.5h0M473.7 190.3h0M515.9 122.6h0M491.9 102.3h0M527.5 158.5h0M431.8 195.4h0M469.2 176.5h0M453.4 166.0h0M488.4 145.0h0M499.4 105.1h0M498.0 135.3h0M433.0 129.2h0M425.0 135.8h0M473.3 184.8h0M508.9 148.4h0M472.6 111.9h0M506.4 178.7h0M483.5 128.0h0M491.0 132.8h0M421.4 198.6h0M500.8 169.1h0M499.2 160.7h0M431.2 201.2h0M432.7 109.5h0M449.7 104.2h0M488.9 120.0h0M465.4 192.1h0M528.8 115.9h0M446.0 198.2h0M510.5 141.3h0M506.3 132.6h0M450.5 163.5h0M477.1 122.3h0M488.0 185.3h0M431.8 129.4h0M512.7 146.2h0M480.3 197.1h0M424.3 112.3h0M526.7 124.1h0M498.8 134.9h0M503.9 145.7h0M521.9 95.7h0M520.8 199.7h0M454.2 114.3h0M484.8 130.1h0M497.8 169.5h0" stroke="#d0d0d0" stroke-width="0.7" stroke-linecap="round" fill="none" opacity="0.4"/></g><clipPath id="mc4"><rect x="561.1" y="95.0" width="108.7" height="108.6"/></clipPath><g clip-path="url(#mc4)"><rect x="561.1" y="95.0" width="108.7" height="108.6" fill="#a4a4a4"/><path d="M605.9 154.6h0M565.9 108.9h0M634.3 126.8h0M635.4 126.9h0M635.5 128.7h0M578.3 151.5h0M664.8 184.5h0M661.0 184.6h0M581.7 122.7h0M583.4 122.6h0M637.3 176.2h0M636.2 175.8h0M575.1 145.3h0M577.4 146.5h0M563.2 190.9h0M562.3 191.5h0M600.1 186.0h0M635.3 148.0h0M635.4 145.0h0M594.2 165.7h0M593.7 166.4h0M634.3 191.2h0M588.3 101.6h0M589.4 103.0h0M605.7 154.8h0M606.6 153.8h0M606.1 155.0h0M631.6 195.6h0M575.7 177.8h0M575.2 175.8h0M592.0 139.7h0M592.5 141.8h0M601.4 106.9h0M603.5 107.3h0M602.9 166.0h0M605.1 162.1h0M604.4 164.2h0M636.2 175.1h0M637.0 161.2h0M637.8 161.8h0M614.8 164.9h0M615.9 163.7h0M630.1 102.0h0M628.3 102.5h0M584.8 116.9h0M585.2 114.0h0M579.9 140.1h0M578.3 142.6h0M577.4 122.9h0M578.6 123.2h0M576.7 126.2h0M613.2 123.4h0M612.9 125.7h0M610.1 181.6h0M611.2 184.6h0M645.5 133.7h0M646.3 132.7h0M663.8 143.9h0M562.7 178.1h0M562.6 176.6h0M597.7 148.8h0M579.5 119.0h0M579.1 119.5h0M633.7 100.8h0M607.9 101.5h0M609.4 101.6h0M563.8 177.2h0M564.1 178.0h0M586.2 191.0h0M587.9 191.2h0M585.6 190.5h0M647.3 179.1h0M645.4 179.5h0M644.0 178.8h0M585.5 104.3h0M585.1 102.9h0M584.4 104.3h0M587.6 183.9h0M586.3 182.9h0M582.3 96.6h0M582.4 97.3h0M581.3 96.0h0M605.8 131.6h0M621.5 123.6h0M621.4 121.4h0M632.8 201.6h0M631.3 198.9h0M585.6 96.2h0M586.6 199.5h0M587.6 198.7h0M666.8 155.2h0M666.7 155.5h0M669.5 129.7h0M667.0 130.3h0M620.5 138.8h0M564.1 103.9h0M562.6 103.0h0M659.0 149.2h0M656.6 149.3h0M607.7 180.2h0M632.3 124.2h0M630.2 122.4h0M580.4 100.2h0M581.5 99.7h0M653.1 97.8h0M650.3 98.1h0M633.5 117.1h0M636.2 117.4h0M612.6 151.3h0M656.5 127.4h0M655.1 127.1h0M656.5 127.8h0M595.1 151.3h0M637.8 101.2h0M634.7 101.8h0M640.2 116.5h0M608.7 97.7h0M609.1 94.4h0M667.3 118.8h0M667.4 116.4h0M615.9 98.7h0M613.3 101.1h0M610.7 185.8h0M608.9 186.2h0M577.2 194.8h0M637.9 99.0h0M637.9 98.0h0M638.6 98.2h0M609.6 196.0h0M609.8 196.1h0M578.2 137.2h0M667.6 186.7h0M667.1 188.9h0M593.5 141.7h0M629.4 128.2h0M573.1 184.1h0M571.9 182.7h0M571.1 183.8h0M587.1 195.6h0M587.9 196.7h0M588.5 199.0h0M647.0 176.2h0M650.1 174.3h0M574.3 184.6h0M624.3 94.1h0M623.3 94.9h0M625.8 94.4h0M601.8 196.9h0M601.2 195.6h0M599.2 195.1h0M647.3 141.7h0M646.8 138.1h0M648.5 142.0h0M614.7 106.6h0M613.2 107.1h0M632.0 102.7h0M632.0 100.8h0M628.0 102.7h0M623.6 176.3h0M568.0 100.2h0M570.8 103.6h0M671.8 147.6h0M577.6 172.7h0M577.9 172.5h0M591.8 175.0h0M607.5 133.3h0M626.0 107.9h0M624.8 109.2h0M629.6 146.8h0M628.6 145.1h0M639.8 150.8h0M641.4 150.9h0M668.4 131.4h0M669.3 131.7h0M659.1 143.0h0M570.2 133.5h0M587.6 103.1h0M586.1 103.5h0M668.9 170.4h0M578.1 201.6h0M575.6 201.7h0M565.3 134.2h0M565.9 133.5h0M670.3 122.3h0M597.8 151.9h0M598.8 153.3h0M573.6 129.0h0M574.0 129.7h0M576.6 129.6h0M580.8 138.8h0M581.7 138.2h0M610.1 138.0h0M635.9 112.9h0M635.5 114.1h0M635.1 113.7h0M629.2 182.1h0M628.9 180.7h0M564.8 198.7h0M563.2 195.4h0M562.1 197.0h0M644.2 159.2h0M590.0 107.4h0M585.9 102.9h0M640.3 154.9h0M641.2 153.3h0M640.6 157.4h0M610.5 128.2h0M618.9 116.1h0M617.9 116.6h0M615.0 152.1h0M617.1 151.6h0M616.5 150.9h0M567.6 103.9h0M567.5 101.9h0M619.9 181.9h0M578.4 101.2h0M592.3 175.9h0M592.4 175.4h0M591.6 175.4h0M590.9 156.4h0M654.0 113.4h0M646.6 185.1h0M644.1 186.6h0M649.0 186.1h0M604.3 161.9h0M604.8 160.0h0M633.5 186.1h0M636.5 188.5h0M613.7 151.8h0M615.7 152.9h0M658.9 161.6h0M660.6 201.9h0M656.9 201.3h0M601.7 175.9h0M599.9 176.5h0M568.1 117.3h0M571.4 118.0h0M627.7 200.0h0M629.3 197.0h0M587.8 170.4h0M588.2 170.7h0M623.3 118.3h0M623.3 116.3h0M651.4 163.7h0M648.8 103.8h0M646.8 102.5h0M597.7 156.5h0M599.0 154.5h0M597.5 155.2h0M576.4 133.6h0M577.3 131.8h0M613.6 182.5h0M613.8 179.0h0M610.4 142.0h0M609.9 138.2h0M610.3 180.8h0M646.6 144.8h0M648.3 144.1h0M647.3 152.1h0M580.9 172.8h0M578.5 174.9h0M577.6 162.7h0M577.9 162.6h0M630.2 126.7h0M627.7 125.5h0M625.6 124.1h0M643.1 201.3h0M644.3 201.6h0M651.4 132.3h0M603.4 172.3h0M602.4 170.5h0M601.0 173.4h0M661.1 101.4h0M660.9 98.5h0M652.1 127.5h0M642.6 201.7h0M642.6 199.1h0M599.3 112.0h0M609.3 139.0h0M608.0 138.6h0M578.9 114.1h0M578.4 112.5h0M633.6 122.2h0M633.5 122.1h0M634.5 120.7h0M594.7 202.7h0M596.2 203.8h0M646.5 128.8h0M646.6 129.6h0M644.4 125.7h0M631.1 107.7h0M628.3 112.4h0M628.7 108.8h0M643.7 127.4h0M643.8 127.2h0M643.2 128.0h0M636.7 116.6h0M608.6 110.9h0M623.2 181.0h0M621.6 182.7h0M620.7 182.3h0M656.4 118.3h0M652.5 118.7h0M623.4 113.3h0M641.6 133.5h0M643.2 134.8h0M586.5 111.1h0M586.3 110.0h0M583.7 110.6h0M610.8 170.0h0M609.4 170.7h0M611.0 169.4h0M669.9 124.3h0M670.6 126.3h0M670.3 125.7h0M600.7 111.1h0M601.0 113.6h0M601.7 111.0h0M585.7 115.5h0M588.0 113.9h0M623.9 140.0h0M623.7 141.2h0M570.1 161.3h0M572.3 159.7h0M571.4 160.3h0M603.4 111.2h0M600.2 114.0h0M602.8 114.1h0" stroke="#4a4a4a" stroke-width="1.5" stroke-linecap="round" fill="none" opacity="0.55"/><path d="M623.2 194.4h0M607.0 122.4h0M612.9 175.9h0M649.0 192.0h0M635.2 173.6h0M646.8 140.3h0M652.2 184.3h0M626.1 188.4h0M632.2 130.3h0M625.4 137.5h0M646.0 169.7h0M650.5 192.0h0M599.0 193.2h0M570.2 140.1h0M637.6 167.7h0M645.1 125.9h0M644.4 185.5h0M663.0 199.0h0M572.8 101.2h0M648.3 176.8h0M562.5 100.5h0M633.0 165.7h0M580.3 149.5h0M604.6 172.9h0M623.1 106.0h0M599.1 176.2h0M594.4 130.8h0M640.2 120.6h0M632.9 196.6h0M618.7 156.1h0M612.6 187.1h0M565.9 156.3h0M608.1 167.8h0M582.9 126.4h0M592.0 143.7h0M598.5 128.9h0M561.8 176.7h0M619.2 159.3h0M621.5 170.0h0M653.2 147.5h0M660.9 101.5h0M598.6 145.5h0M663.8 122.5h0M662.4 144.8h0M571.0 156.8h0M562.8 168.2h0M661.2 188.3h0M639.6 175.4h0M583.5 99.4h0M651.6 197.3h0M607.3 184.3h0M668.0 119.1h0M658.3 168.6h0M653.4 193.4h0M633.5 179.1h0M592.6 110.1h0M629.4 109.9h0M632.1 172.5h0M584.7 177.2h0M628.4 180.6h0M638.8 183.2h0M591.8 181.1h0M609.7 103.0h0M644.4 172.8h0M637.0 146.0h0M569.8 189.1h0M654.6 125.3h0M588.9 124.1h0M658.7 135.7h0M635.4 96.0h0M610.6 193.0h0M603.7 166.9h0M653.1 169.5h0M582.0 188.7h0M621.3 112.7h0M586.3 193.3h0M666.6 113.6h0M656.9 113.7h0M661.5 123.7h0M604.5 186.9h0M656.4 183.8h0M638.6 96.7h0M627.8 178.9h0M564.9 164.8h0M583.3 108.4h0M563.8 203.3h0M623.2 106.0h0M635.6 102.9h0M588.4 182.9h0M641.3 194.3h0M642.1 202.5h0M567.3 152.4h0M579.1 196.5h0M592.8 190.9h0M566.3 190.8h0M628.8 128.7h0M628.7 149.4h0M617.0 116.8h0M650.4 107.8h0M618.0 134.6h0M565.3 188.1h0M645.9 134.4h0M648.8 172.5h0M666.6 132.2h0M656.4 195.7h0M613.9 186.8h0M591.3 108.9h0M654.4 123.9h0M581.1 181.9h0M640.5 171.7h0" stroke="#505050" stroke-width="2.3" stroke-linecap="round" fill="none" opacity="0.42"/><path d="M611.0 96.8h0M656.6 168.5h0M563.2 129.7h0M582.0 120.6h0M568.6 178.6h0M581.0 193.9h0M598.5 146.3h0M665.8 110.2h0M588.7 111.2h0M638.8 169.0h0M663.4 158.8h0M606.4 118.2h0M628.9 123.3h0M621.9 124.4h0M624.5 194.8h0M602.8 101.5h0M614.0 170.8h0M623.8 135.3h0M640.0 112.2h0M634.7 198.1h0M589.4 200.6h0M583.5 117.2h0M606.3 202.5h0M669.5 110.6h0M598.2 171.2h0M581.3 202.2h0M610.7 150.4h0M642.8 197.7h0M646.6 202.2h0M660.8 186.2h0M605.4 174.6h0M611.6 159.2h0M653.6 159.7h0M570.0 154.9h0M631.4 134.5h0M618.5 103.4h0M622.3 160.6h0M640.9 117.7h0M598.5 144.4h0M659.9 107.8h0M619.5 177.4h0M619.3 126.8h0M567.9 144.6h0M596.6 107.7h0M581.0 99.0h0M595.5 139.5h0M659.4 169.1h0M583.5 140.7h0M588.5 197.3h0M666.7 100.4h0M580.2 190.5h0M562.7 106.6h0M667.2 188.7h0M664.1 146.1h0M596.4 202.8h0M577.6 196.6h0M642.6 123.1h0M628.3 198.8h0M633.9 97.0h0M608.9 105.2h0M563.1 164.5h0M638.8 173.8h0M591.2 127.7h0M596.6 106.6h0M570.7 151.7h0M611.5 102.7h0M590.4 142.8h0M625.4 200.8h0M612.0 107.6h0M580.6 108.3h0M642.6 107.2h0M649.1 169.7h0M576.4 182.2h0M592.4 153.7h0M668.0 137.9h0M619.3 178.4h0M639.2 165.0h0M643.5 170.7h0M561.1 152.7h0M651.2 150.2h0M596.2 157.6h0M666.6 145.0h0M639.8 197.1h0M636.8 157.1h0M609.7 129.7h0M631.8 160.4h0M623.0 190.6h0M597.1 177.3h0M607.4 126.3h0M576.9 199.5h0M617.0 172.8h0M570.4 194.0h0M623.9 131.9h0M664.5 160.3h0M649.3 126.9h0M595.7 125.6h0M599.1 188.0h0M570.9 121.3h0M652.4 200.6h0M602.9 158.3h0M649.0 196.9h0M628.7 184.7h0M601.6 149.7h0M660.0 120.5h0M643.1 165.0h0M652.0 175.7h0M612.9 156.2h0M569.9 178.7h0M595.0 176.9h0M655.7 96.9h0M666.5 139.8h0M668.8 203.4h0M645.2 171.6h0M608.4 122.1h0M576.3 196.3h0M589.7 165.4h0M577.0 132.8h0M634.9 160.6h0M595.4 150.7h0M566.4 150.3h0M639.1 192.3h0M573.9 166.2h0M607.4 157.8h0M576.9 110.1h0M592.4 103.3h0M656.1 122.9h0M640.6 99.3h0M583.6 203.1h0M628.6 126.0h0M652.0 96.8h0M635.9 184.0h0M660.6 120.9h0M626.6 143.1h0M582.8 181.9h0M589.5 144.4h0M612.9 191.5h0M561.3 149.2h0M633.0 97.1h0M572.7 135.6h0M627.4 149.2h0M658.4 119.6h0M659.8 183.8h0M663.2 148.0h0M579.3 188.7h0M573.7 127.1h0M661.8 163.0h0M605.7 123.8h0M637.8 183.7h0M629.5 126.2h0M620.0 98.9h0M594.6 148.6h0M650.1 199.7h0M576.5 109.3h0M591.3 163.6h0M590.3 153.4h0M624.0 153.5h0M654.4 143.6h0M631.6 98.6h0M651.5 196.0h0M596.8 167.9h0M618.6 185.3h0M598.0 144.8h0M668.7 97.9h0M608.3 108.7h0M624.6 138.0h0M570.4 148.8h0M662.7 174.2h0M650.4 175.0h0M650.1 195.9h0M613.9 197.0h0M582.4 96.9h0M597.4 150.9h0M642.3 147.5h0M618.2 181.4h0M626.6 155.1h0M644.3 203.0h0M595.6 171.8h0M632.5 167.3h0M661.7 152.4h0M613.7 95.7h0M663.1 182.2h0M575.9 159.3h0M648.1 200.0h0M664.7 202.5h0M636.5 119.8h0M608.0 116.9h0M660.8 133.6h0M665.3 116.0h0M620.0 120.6h0M653.2 100.3h0M649.6 137.8h0M570.1 145.7h0M574.9 121.0h0M623.2 143.4h0M617.1 197.9h0M651.0 137.9h0M582.8 149.4h0M565.7 136.3h0M646.6 100.6h0M605.4 114.9h0M643.5 177.7h0M652.5 114.0h0M620.9 194.1h0M571.0 169.5h0M570.6 155.0h0M596.2 127.6h0M661.2 191.0h0M627.5 106.6h0M577.6 198.2h0M656.1 167.4h0M655.3 153.5h0M595.8 193.5h0M581.1 95.5h0M577.8 150.7h0M571.0 133.0h0M655.7 141.6h0M634.3 146.8h0M590.6 198.3h0M610.1 164.8h0M628.5 154.7h0M621.5 123.3h0M578.8 178.7h0M668.6 153.1h0M586.8 183.7h0M570.1 121.0h0M640.1 186.0h0M652.2 133.1h0M582.8 195.4h0M588.9 153.1h0M615.7 202.8h0M617.9 122.5h0M656.5 157.3h0M572.5 167.9h0M635.8 161.9h0M645.0 127.1h0M667.4 112.4h0M573.7 111.5h0M616.9 187.2h0M645.0 200.2h0M612.3 152.6h0M652.0 193.0h0M625.0 157.8h0M603.6 155.4h0M664.1 110.2h0M579.6 196.4h0M568.2 198.3h0M633.9 166.9h0M568.0 193.5h0M626.4 184.7h0M622.4 168.5h0M593.0 144.4h0M650.1 144.3h0M612.8 191.8h0M616.6 176.2h0M579.1 176.7h0M653.1 196.4h0M569.3 103.0h0M600.3 111.1h0M582.3 201.4h0M624.6 110.5h0" stroke="#606060" stroke-width="0.9" stroke-linecap="round" fill="none" opacity="0.5"/><path d="M609.6 166.3h0M600.8 101.6h0M621.6 172.8h0M643.7 182.3h0M567.1 165.3h0M591.4 173.6h0M600.8 108.5h0M632.0 127.0h0M645.3 193.8h0M656.3 136.6h0M576.3 180.6h0M585.0 95.2h0M630.3 185.6h0M604.7 183.7h0M630.7 124.4h0M621.6 186.9h0M590.9 196.6h0M640.5 102.8h0M639.5 119.3h0M661.6 116.8h0M667.1 102.3h0M587.8 173.3h0M639.7 170.4h0M580.4 150.3h0M652.6 129.9h0M562.4 95.4h0M631.4 203.3h0M606.1 112.0h0M604.7 105.5h0M562.4 122.7h0M649.9 140.7h0M655.8 116.2h0M636.8 112.8h0M631.9 189.1h0M598.0 113.5h0M649.9 188.9h0M618.4 113.5h0M570.9 117.1h0M635.3 175.6h0M639.5 183.8h0M640.5 97.0h0M637.1 147.1h0M566.5 95.6h0M595.4 175.0h0M663.8 170.6h0M561.3 126.7h0M606.0 175.4h0M611.1 155.0h0M572.5 166.8h0M620.0 138.8h0M603.2 181.6h0M597.3 189.3h0M629.1 100.6h0M593.9 121.9h0M595.2 190.6h0M616.1 142.2h0M645.4 96.2h0M654.3 161.2h0M647.4 182.5h0M647.2 116.4h0M573.0 97.4h0M579.0 150.8h0M604.3 162.8h0M653.9 129.1h0M635.7 108.9h0M580.0 136.9h0M606.0 112.3h0M666.6 158.8h0M663.6 141.1h0M594.0 177.3h0M564.1 105.0h0M655.2 199.2h0M643.3 104.7h0M649.0 143.8h0M653.9 168.7h0M596.0 112.6h0M638.5 124.3h0M617.4 106.9h0M626.9 107.5h0M619.4 129.8h0M625.4 136.8h0M572.3 115.3h0M606.9 113.7h0M577.6 171.3h0M653.1 166.9h0M581.6 112.2h0M661.6 188.0h0M629.8 128.2h0M586.2 115.3h0M562.8 106.1h0M609.8 157.2h0M622.1 168.5h0M602.8 182.7h0M598.3 116.1h0M664.7 155.5h0M658.0 178.5h0M617.6 176.3h0M659.0 109.5h0M593.0 105.7h0M627.0 178.0h0M629.6 135.2h0M602.1 154.7h0M621.5 104.9h0M668.6 177.5h0M586.3 131.7h0M592.5 174.9h0M601.3 129.8h0M635.9 146.7h0M634.0 123.7h0M650.8 174.5h0M635.9 109.4h0M631.6 111.9h0M566.2 194.8h0M581.8 101.7h0M612.0 190.2h0M575.2 167.2h0M650.3 132.6h0M585.4 134.5h0M583.6 115.7h0M588.1 123.8h0" stroke="#c4c4c4" stroke-width="1.2" stroke-linecap="round" fill="none" opacity="0.5"/><circle cx="576.5" cy="128.9" r="6.7" fill="url(#blobd)"/><circle cx="606.7" cy="116.8" r="5.9" fill="url(#blobl)"/><circle cx="624.3" cy="119.7" r="6.7" fill="url(#blobd)"/><circle cx="634.4" cy="131.4" r="7.6" fill="url(#blobl)"/><circle cx="598.0" cy="140.7" r="6.7" fill="url(#blobl)"/><circle cx="653.7" cy="137.0" r="3.4" fill="url(#blobl)"/><circle cx="667.1" cy="122.2" r="4.2" fill="url(#blobd)"/><circle cx="609.2" cy="170.9" r="5.9" fill="url(#blobl)"/><circle cx="585.7" cy="176.8" r="5.9" fill="url(#blobl)"/><circle cx="642.8" cy="168.9" r="5.4" fill="url(#blobl)"/><circle cx="654.5" cy="173.4" r="8.4" fill="url(#blobd)"/><circle cx="637.7" cy="185.2" r="4.2" fill="url(#blobl)"/><circle cx="568.1" cy="192.7" r="7.6" fill="url(#blobd)"/><circle cx="564.7" cy="149.1" r="5.9" fill="url(#blobd)"/><circle cx="645.3" cy="189.4" r="2.5" fill="url(#blob)"/><circle cx="624.3" cy="192.7" r="2.5" fill="url(#blob)"/><circle cx="599.1" cy="166.7" r="2.0" fill="url(#blob)"/><circle cx="563.0" cy="102.1" r="6.7" fill="url(#blobd)"/><circle cx="589.9" cy="97.0" r="5.0" fill="url(#blobl)"/><path d="M570.8 132.6h0M585.6 107.0h0M566.2 190.0h0M575.4 182.2h0M576.0 143.7h0M586.6 119.9h0M658.7 100.7h0M596.5 95.6h0M612.6 146.0h0M658.2 121.3h0M572.9 137.6h0M654.5 166.6h0M583.0 96.0h0M636.5 203.1h0M570.5 145.6h0M656.3 97.1h0M570.6 116.0h0M576.5 171.9h0M668.8 184.5h0M566.3 165.1h0M645.3 196.5h0M665.7 144.6h0M578.0 196.2h0M636.8 194.9h0M649.5 121.7h0M574.1 99.2h0M606.9 116.5h0M656.9 200.4h0M625.9 181.3h0M595.9 190.0h0M575.5 115.5h0M633.4 157.8h0M615.9 203.0h0M619.6 120.7h0M592.7 115.2h0M592.3 139.6h0M567.1 98.1h0M633.7 98.5h0M615.7 192.8h0M661.2 101.0h0M585.0 174.6h0M569.6 128.7h0M588.9 146.5h0M656.9 116.3h0M580.6 188.3h0M659.8 132.7h0M608.9 108.9h0M578.1 102.5h0M605.5 188.3h0M572.6 125.9h0M607.6 107.2h0M595.3 170.7h0M630.6 152.3h0M584.7 187.2h0M574.6 201.2h0M568.6 163.0h0M651.9 163.2h0M632.5 136.7h0M660.1 162.8h0M605.8 139.7h0M582.3 131.4h0M635.9 125.5h0M660.5 98.4h0M619.4 129.9h0M576.1 114.8h0M621.6 142.9h0M648.3 132.2h0M641.8 200.3h0M645.5 119.6h0M653.4 188.5h0M593.4 158.3h0M598.0 144.2h0M574.1 108.0h0M562.9 185.4h0M635.0 109.8h0M572.8 162.9h0M617.3 162.7h0M614.7 99.1h0M641.9 163.7h0M579.1 120.0h0M563.7 111.0h0M663.4 107.1h0M576.4 127.3h0M565.6 112.4h0M580.7 143.1h0M652.5 133.2h0M667.6 123.8h0M602.3 117.8h0M641.5 169.7h0M658.5 171.2h0M585.3 150.9h0M644.7 200.7h0M648.8 105.3h0M569.7 97.7h0M589.3 102.8h0M655.1 197.1h0M573.9 197.0h0M590.7 164.6h0M568.7 116.9h0M663.5 143.9h0M564.1 114.7h0M576.6 134.7h0M644.8 158.2h0M662.6 173.0h0M631.1 174.2h0M634.7 106.8h0M667.9 103.3h0M600.2 174.9h0M621.5 148.8h0M585.6 180.9h0M648.4 101.6h0M665.4 115.8h0M651.2 159.4h0M642.6 165.8h0M588.8 143.5h0M608.6 96.4h0M571.6 164.4h0M655.9 130.2h0M629.4 128.4h0M661.6 146.6h0M609.5 178.0h0M608.0 154.6h0M566.7 164.2h0M581.6 98.6h0M604.8 102.9h0M638.9 165.2h0M574.0 106.7h0M623.3 135.4h0M627.7 107.4h0M658.9 134.8h0M597.8 189.2h0M626.6 127.7h0M589.4 186.4h0M634.2 143.2h0M624.7 195.6h0M580.4 119.5h0M577.2 140.1h0M605.2 151.3h0M601.7 192.2h0M604.8 103.8h0M618.5 126.5h0M580.7 148.9h0M575.2 122.7h0M583.3 178.1h0M645.9 170.1h0M581.1 158.9h0M665.6 177.4h0M591.9 173.4h0M638.9 96.6h0M590.0 178.6h0M666.8 95.5h0M632.1 147.0h0M615.1 181.9h0M566.4 117.8h0M609.3 143.8h0M662.0 128.2h0M666.6 180.3h0M659.4 138.6h0M667.6 166.3h0M665.5 157.1h0" stroke="#555" stroke-width="1.3" stroke-linecap="round" fill="none" opacity="0.4"/><path d="M617.3 155.4h0M615.6 113.6h0M634.8 200.7h0M623.1 108.9h0M620.4 167.9h0M614.6 201.8h0M668.0 169.3h0M651.9 127.5h0M630.5 115.6h0M576.6 165.3h0M566.4 136.5h0M611.6 144.4h0M637.3 166.6h0M642.0 169.5h0M637.7 177.5h0M642.6 153.2h0M607.9 190.3h0M599.4 136.5h0M640.1 137.2h0M610.8 108.7h0M614.0 134.9h0M608.9 128.4h0M599.3 122.0h0M570.0 127.6h0M617.2 160.2h0M587.2 115.5h0M603.7 109.0h0M625.3 107.1h0M579.1 191.9h0M589.9 184.9h0M652.4 169.5h0M568.4 182.9h0M663.0 200.6h0M661.9 194.9h0M664.9 151.8h0M617.0 102.1h0M594.2 109.6h0M572.6 104.3h0M608.8 200.7h0M628.4 184.2h0M578.3 175.7h0M601.3 153.8h0M611.8 191.5h0M656.1 129.1h0M572.6 131.3h0M642.0 197.8h0M618.5 146.1h0M607.0 181.3h0M570.3 178.9h0M667.1 150.0h0M651.9 108.8h0M624.4 151.0h0M615.3 184.4h0M578.0 196.2h0M625.6 117.6h0M579.3 137.2h0M586.8 102.5h0M570.1 144.6h0M632.1 147.7h0M606.7 174.0h0M608.5 127.6h0M582.8 137.5h0M644.2 139.1h0M562.9 116.8h0M647.7 168.8h0M623.2 155.0h0M623.3 131.4h0M633.9 163.0h0M651.0 145.8h0M660.6 163.4h0M564.4 103.7h0M598.1 123.3h0M582.6 156.4h0M593.4 144.7h0M624.0 180.3h0M640.1 187.0h0M613.0 105.4h0M627.4 192.4h0M660.0 111.4h0M643.8 159.5h0M598.2 141.1h0M610.8 119.5h0M593.3 157.2h0M638.0 180.6h0M631.9 170.2h0M562.4 128.8h0M615.2 132.0h0M584.7 163.7h0M639.5 143.7h0M616.1 104.1h0" stroke="#c8c8c8" stroke-width="1.1" stroke-linecap="round" fill="none" opacity="0.4"/></g><g class="L" font-size="12.7" fill="#231815" text-anchor="middle"><text x="152.8" y="108.9">Day 3</text><text x="296.2" y="108.9">Day 3</text><text x="481" y="108.9">Day 10</text><text x="618.4" y="108.9">Day 10</text><text x="51.7" y="145.4">Negative</text><text x="51.7" y="160.6">control</text></g><rect x="153.5" y="126.5" width="18.7" height="18.6" fill="none" stroke="#e0383a" stroke-width="1.35"/><rect x="473.5" y="118.6" width="18.4" height="18.5" fill="none" stroke="#e0383a" stroke-width="1.35"/><g fill="#fff"><rect x="197.8" y="198" width="6.3" height="1.9"/><rect x="310.6" y="197.9" width="35.5" height="2"/><rect x="521.2" y="198" width="5.3" height="1.9"/><rect x="631" y="197.9" width="36.8" height="2.1"/></g>
<defs><pattern id="gw" width="2.874" height="2.874" patternUnits="userSpaceOnUse"><rect x="0.44" y="0.44" width="2" height="2" fill="#999"/></pattern><pattern id="gw3" width="3" height="3" patternUnits="userSpaceOnUse"><circle cx="1.5" cy="1.5" r="1.05" fill="#979797"/></pattern></defs><rect x="54.3" y="240.4" width="76.7" height="50.4" fill="#7f7f7f"/><g transform="translate(57.81 242.61)"><rect width="68.98" height="45.98" fill="url(#gw)"/></g><rect x="146.7" y="240.4" width="76.5" height="50.4" fill="#7f7f7f"/><g transform="translate(150.11 242.61)"><rect width="68.98" height="45.98" fill="url(#gw)"/></g><rect x="54.3" y="296.3" width="76.7" height="49.6" fill="#7f7f7f"/><g transform="translate(57.81 298.11)"><rect width="68.98" height="45.98" fill="url(#gw)"/></g><rect x="146.7" y="296.3" width="76.5" height="49.6" fill="#7f7f7f"/><g transform="translate(150.11 298.11)"><rect width="68.98" height="45.98" fill="url(#gw)"/></g><rect x="54.3" y="355.1" width="76.7" height="50.3" fill="#7f7f7f"/><g transform="translate(57.81 357.26)"><rect width="68.98" height="45.98" fill="url(#gw)"/></g><rect x="146.7" y="355.1" width="76.5" height="50.3" fill="#7f7f7f"/><g transform="translate(150.11 357.26)"><rect width="68.98" height="45.98" fill="url(#gw)"/></g><rect x="54.3" y="411.3" width="76.7" height="49.6" fill="#7f7f7f"/><g transform="translate(57.81 413.11)"><rect width="68.98" height="45.98" fill="url(#gw)"/></g><rect x="146.7" y="411.3" width="76.5" height="49.6" fill="#7f7f7f"/><g transform="translate(150.11 413.11)"><rect width="68.98" height="45.98" fill="url(#gw)"/></g><rect x="54.5" y="468.9" width="76.4" height="53.4" fill="#7f7f7f"/><g transform="translate(58.00 471.60)"><rect width="72.00" height="48.00" fill="url(#gw3)"/></g><rect x="146.4" y="470.3" width="77.0" height="51.2" fill="#7f7f7f"/><g transform="translate(149.30 471.90)"><rect width="72.00" height="48.00" fill="url(#gw3)"/></g><rect x="54.5" y="527.5" width="77.7" height="53.1" fill="#7f7f7f"/><g transform="translate(58.15 530.05)"><rect width="72.00" height="48.00" fill="url(#gw3)"/></g><rect x="146.4" y="528.0" width="77.5" height="52.6" fill="#7f7f7f"/><g transform="translate(148.90 530.30)"><rect width="72.00" height="48.00" fill="url(#gw3)"/></g><path d="M64.0 249.8h2M64.0 252.7h2M64.0 261.3h2M64.0 267.0h2M64.0 269.9h2M64.0 272.8h2M64.0 275.7h2M64.0 278.5h2M64.0 281.4h2M75.5 305.3h2M89.9 305.3h2M112.9 305.3h2M64.0 308.2h2M66.9 308.2h2M75.5 308.2h2M81.2 308.2h2M66.9 311.0h2M98.5 311.0h2M107.1 311.0h2M110.0 311.0h2M115.7 311.0h2M72.6 313.9h2M81.2 313.9h2M101.4 313.9h2M107.1 313.9h2M81.2 316.8h2M104.2 316.8h2M107.1 316.8h2M110.0 316.8h2M98.5 319.7h2M64.0 322.5h2M87.0 322.5h2M89.9 325.4h2M95.6 325.4h2M107.1 325.4h2M84.1 328.3h2M95.6 328.3h2M64.0 331.2h2M69.7 331.2h2M78.4 331.2h2M75.5 334.0h2M112.9 334.0h2M69.7 336.9h2M81.2 336.9h2M87.0 420.3h2M115.7 420.3h2M87.0 423.2h2M89.9 423.2h2M95.6 431.8h2M66.9 434.7h2M75.5 434.7h2M81.2 440.4h2M101.4 440.4h2M75.5 446.2h2M87.0 446.2h2M104.2 446.2h2M64.0 449.0h2M72.6 449.0h2M115.7 449.0h2M89.9 451.9h2M107.1 451.9h2" stroke="#000004" stroke-width="2.05" fill="none"/><path d="M69.7 305.3h2M98.5 305.3h2M101.4 305.3h2M104.2 305.3h2M107.1 305.3h2M110.0 305.3h2M69.7 308.2h2M72.6 308.2h2M87.0 308.2h2M101.4 308.2h2M104.2 308.2h2M107.1 308.2h2M110.0 308.2h2M112.9 308.2h2M64.0 311.0h2M75.5 311.0h2M87.0 311.0h2M89.9 311.0h2M92.7 311.0h2M104.2 311.0h2M64.0 313.9h2M66.9 313.9h2M69.7 313.9h2M75.5 313.9h2M87.0 313.9h2M92.7 313.9h2M110.0 313.9h2M112.9 313.9h2M115.7 313.9h2M66.9 316.8h2M72.6 316.8h2M75.5 316.8h2M78.4 316.8h2M89.9 316.8h2M92.7 316.8h2M95.6 316.8h2M112.9 316.8h2M115.7 316.8h2M66.9 319.7h2M69.7 319.7h2M72.6 319.7h2M78.4 319.7h2M92.7 319.7h2M104.2 319.7h2M107.1 319.7h2M69.7 322.5h2M72.6 322.5h2M75.5 322.5h2M81.2 322.5h2M89.9 322.5h2M92.7 322.5h2M101.4 322.5h2M104.2 322.5h2M107.1 322.5h2M112.9 322.5h2M115.7 322.5h2M64.0 325.4h2M69.7 325.4h2M81.2 325.4h2M115.7 325.4h2M64.0 328.3h2M66.9 328.3h2M69.7 328.3h2M78.4 328.3h2M89.9 328.3h2M98.5 328.3h2M72.6 331.2h2M75.5 331.2h2M87.0 331.2h2M92.7 331.2h2M107.1 331.2h2M87.0 334.0h2M101.4 334.0h2M104.2 334.0h2M115.7 334.0h2M64.0 336.9h2M66.9 336.9h2M78.4 336.9h2M84.1 336.9h2M95.6 336.9h2M98.5 336.9h2M101.4 336.9h2M115.7 336.9h2M64.0 367.3h2M64.0 423.2h2M104.2 423.2h2M112.9 423.2h2M78.4 426.0h2M87.0 426.0h2M95.6 426.0h2M112.9 426.0h2M66.9 428.9h2M72.6 428.9h2M75.5 428.9h2M89.9 428.9h2M104.2 428.9h2M107.1 428.9h2M69.7 431.8h2M84.1 431.8h2M87.0 431.8h2M89.9 431.8h2M104.2 431.8h2M112.9 431.8h2M72.6 437.5h2M87.0 437.5h2M89.9 437.5h2M104.2 437.5h2M64.0 440.4h2M107.1 440.4h2M115.7 440.4h2M69.7 443.3h2M75.5 443.3h2M101.4 443.3h2M64.0 446.2h2M98.5 446.2h2M115.7 446.2h2M98.5 449.0h2M64.0 451.9h2M78.4 451.9h2M98.5 451.9h2M101.4 451.9h2" stroke="#070516" stroke-width="2.05" fill="none"/><path d="M78.4 313.9h2M98.5 313.9h2M101.4 319.7h2M78.4 325.4h2M98.5 331.2h2M104.2 331.2h2M110.0 331.2h2M89.9 334.0h2M98.5 334.0h2M64.0 378.8h2M64.0 390.3h2M69.7 420.3h2M98.5 420.3h2M66.9 423.2h2M92.7 423.2h2M95.6 423.2h2M104.2 426.0h2M115.7 426.0h2M81.2 434.7h2M95.6 434.7h2M112.9 434.7h2M81.2 437.5h2M112.9 437.5h2M75.5 440.4h2M112.9 440.4h2M78.4 443.3h2M72.6 446.2h2M75.5 449.0h2M112.9 449.0h2" stroke="#0e0a28" stroke-width="2.05" fill="none"/><path d="M64.0 255.5h2M64.0 258.4h2M64.0 264.2h2M64.0 305.3h2M66.9 305.3h2M72.6 305.3h2M78.4 305.3h2M81.2 305.3h2M92.7 305.3h2M95.6 305.3h2M115.7 305.3h2M84.1 308.2h2M95.6 308.2h2M115.7 308.2h2M69.7 311.0h2M78.4 311.0h2M101.4 311.0h2M112.9 311.0h2M84.1 313.9h2M89.9 313.9h2M95.6 313.9h2M104.2 313.9h2M84.1 316.8h2M98.5 316.8h2M101.4 316.8h2M84.1 319.7h2M87.0 319.7h2M89.9 319.7h2M95.6 319.7h2M110.0 319.7h2M66.9 322.5h2M78.4 322.5h2M84.1 322.5h2M95.6 322.5h2M98.5 322.5h2M66.9 325.4h2M72.6 325.4h2M84.1 325.4h2M87.0 325.4h2M92.7 325.4h2M98.5 325.4h2M104.2 325.4h2M110.0 325.4h2M112.9 325.4h2M72.6 328.3h2M75.5 328.3h2M87.0 328.3h2M101.4 328.3h2M107.1 328.3h2M110.0 328.3h2M112.9 328.3h2M66.9 331.2h2M81.2 331.2h2M84.1 331.2h2M95.6 331.2h2M112.9 331.2h2M115.7 331.2h2M64.0 334.0h2M66.9 334.0h2M84.1 334.0h2M92.7 334.0h2M72.6 336.9h2M75.5 336.9h2M89.9 336.9h2M92.7 336.9h2M104.2 336.9h2M110.0 336.9h2M112.9 336.9h2M64.0 364.4h2M64.0 370.2h2M64.0 373.1h2M64.0 375.9h2M64.0 381.7h2M64.0 384.6h2M64.0 387.4h2M64.0 393.2h2M64.0 396.1h2M64.0 420.3h2M66.9 420.3h2M75.5 420.3h2M78.4 420.3h2M81.2 420.3h2M84.1 420.3h2M89.9 420.3h2M92.7 420.3h2M95.6 420.3h2M101.4 420.3h2M104.2 420.3h2M110.0 420.3h2M112.9 420.3h2M69.7 423.2h2M72.6 423.2h2M75.5 423.2h2M81.2 423.2h2M84.1 423.2h2M98.5 423.2h2M115.7 423.2h2M66.9 426.0h2M69.7 426.0h2M75.5 426.0h2M81.2 426.0h2M84.1 426.0h2M89.9 426.0h2M92.7 426.0h2M98.5 426.0h2M101.4 426.0h2M107.1 426.0h2M110.0 426.0h2M64.0 428.9h2M69.7 428.9h2M78.4 428.9h2M87.0 428.9h2M92.7 428.9h2M95.6 428.9h2M98.5 428.9h2M101.4 428.9h2M66.9 431.8h2M72.6 431.8h2M75.5 431.8h2M78.4 431.8h2M81.2 431.8h2M92.7 431.8h2M107.1 431.8h2M115.7 431.8h2M69.7 434.7h2M84.1 434.7h2M87.0 434.7h2M92.7 434.7h2M104.2 434.7h2M107.1 434.7h2M115.7 434.7h2M64.0 437.5h2M69.7 437.5h2M75.5 437.5h2M95.6 437.5h2M101.4 437.5h2M107.1 437.5h2M72.6 440.4h2M87.0 440.4h2M89.9 440.4h2M92.7 440.4h2M95.6 440.4h2M104.2 440.4h2M110.0 440.4h2M64.0 443.3h2M72.6 443.3h2M81.2 443.3h2M89.9 443.3h2M95.6 443.3h2M98.5 443.3h2M104.2 443.3h2M107.1 443.3h2M110.0 443.3h2M112.9 443.3h2M69.7 446.2h2M78.4 446.2h2M81.2 446.2h2M84.1 446.2h2M95.6 446.2h2M112.9 446.2h2M66.9 449.0h2M78.4 449.0h2M84.1 449.0h2M87.0 449.0h2M89.9 449.0h2M92.7 449.0h2M101.4 449.0h2M104.2 449.0h2M110.0 449.0h2M66.9 451.9h2M69.7 451.9h2M72.6 451.9h2M75.5 451.9h2M81.2 451.9h2M84.1 451.9h2M92.7 451.9h2M95.6 451.9h2M110.0 451.9h2" stroke="#170e3a" stroke-width="2.05" fill="none"/><path d="M84.1 305.3h2M78.4 308.2h2M89.9 308.2h2M92.7 308.2h2M98.5 308.2h2M72.6 311.0h2M81.2 311.0h2M84.1 311.0h2M95.6 311.0h2M64.0 316.8h2M69.7 316.8h2M87.0 316.8h2M81.2 319.7h2M112.9 319.7h2M75.5 325.4h2M101.4 325.4h2M81.2 328.3h2M92.7 328.3h2M104.2 328.3h2M101.4 331.2h2M72.6 334.0h2M78.4 334.0h2M81.2 334.0h2M107.1 334.0h2M110.0 334.0h2M87.0 336.9h2M107.1 336.9h2M107.1 420.3h2M78.4 423.2h2M101.4 423.2h2M107.1 423.2h2M110.0 423.2h2M64.0 426.0h2M72.6 426.0h2M81.2 428.9h2M84.1 428.9h2M112.9 428.9h2M115.7 428.9h2M64.0 431.8h2M101.4 431.8h2M110.0 431.8h2M64.0 434.7h2M72.6 434.7h2M78.4 434.7h2M89.9 434.7h2M98.5 434.7h2M101.4 434.7h2M66.9 437.5h2M78.4 437.5h2M92.7 437.5h2M98.5 437.5h2M110.0 437.5h2M115.7 437.5h2M66.9 440.4h2M69.7 440.4h2M78.4 440.4h2M84.1 440.4h2M98.5 440.4h2M84.1 443.3h2M87.0 443.3h2M92.7 443.3h2M115.7 443.3h2M66.9 446.2h2M89.9 446.2h2M92.7 446.2h2M101.4 446.2h2M107.1 446.2h2M110.0 446.2h2M69.7 449.0h2M107.1 449.0h2M87.0 451.9h2M104.2 451.9h2M112.9 451.9h2M115.7 451.9h2" stroke="#250e4f" stroke-width="2.05" fill="none"/><path d="M87.0 305.3h2M115.7 319.7h2M110.0 434.7h2" stroke="#330f64" stroke-width="2.05" fill="none"/><path d="M64.0 319.7h2M110.0 322.5h2M72.6 420.3h2M66.9 443.3h2" stroke="#501478" stroke-width="2.05" fill="none"/><path d="M75.5 319.7h2M95.6 334.0h2M81.2 449.0h2" stroke="#5e187e" stroke-width="2.05" fill="none"/><path d="M115.7 328.3h2M69.7 334.0h2M84.1 437.5h2M95.6 449.0h2" stroke="#6d1d80" stroke-width="2.05" fill="none"/><path d="M89.9 331.2h2" stroke="#7b2381" stroke-width="2.05" fill="none"/><path d="M110.0 428.9h2M98.5 431.8h2" stroke="#892881" stroke-width="2.05" fill="none"/><path d="M89.9 367.3h2M95.6 367.3h2M89.9 381.7h2M69.7 384.6h2M72.6 396.1h2" stroke="#f2685f" stroke-width="2.05" fill="none"/><path d="M69.7 364.4h2M69.7 367.3h2M104.2 367.3h2M110.0 370.2h2M78.4 373.1h2M101.4 378.8h2M115.7 378.8h2M101.4 381.7h2M115.7 381.7h2M84.1 384.6h2M118.6 387.4h2M66.9 393.2h2M75.5 393.2h2M115.7 393.2h2" stroke="#f8775e" stroke-width="2.05" fill="none"/><path d="M112.9 255.5h2M104.2 261.3h2M115.7 264.2h2M72.6 267.0h2M110.0 269.9h2M87.0 281.4h2M118.6 308.2h2M118.6 313.9h2M98.5 364.4h2M107.1 364.4h2M101.4 367.3h2M72.6 373.1h2M110.0 373.1h2M78.4 375.9h2M81.2 375.9h2M87.0 375.9h2M98.5 375.9h2M112.9 375.9h2M115.7 375.9h2M69.7 381.7h2M72.6 381.7h2M75.5 381.7h2M87.0 381.7h2M92.7 381.7h2M107.1 381.7h2M66.9 384.6h2M101.4 384.6h2M95.6 387.4h2M84.1 390.3h2M118.6 390.3h2M81.2 393.2h2M81.2 396.1h2M107.1 396.1h2M118.6 449.0h2" stroke="#fa8864" stroke-width="2.05" fill="none"/><path d="M69.7 249.8h2M78.4 249.8h2M81.2 249.8h2M81.2 258.4h2M104.2 258.4h2M112.9 258.4h2M81.2 261.3h2M87.0 261.3h2M92.7 261.3h2M110.0 261.3h2M112.9 261.3h2M66.9 264.2h2M69.7 264.2h2M118.6 264.2h2M84.1 267.0h2M107.1 269.9h2M72.6 272.8h2M87.0 275.7h2M110.0 275.7h2M104.2 278.5h2M66.9 281.4h2M115.7 281.4h2M118.6 316.8h2M66.9 364.4h2M72.6 364.4h2M78.4 364.4h2M84.1 364.4h2M110.0 364.4h2M112.9 364.4h2M118.6 364.4h2M78.4 367.3h2M81.2 367.3h2M84.1 367.3h2M98.5 367.3h2M110.0 367.3h2M112.9 367.3h2M66.9 370.2h2M101.4 370.2h2M104.2 370.2h2M112.9 370.2h2M118.6 370.2h2M81.2 373.1h2M84.1 373.1h2M92.7 373.1h2M104.2 373.1h2M112.9 373.1h2M75.5 375.9h2M104.2 375.9h2M107.1 375.9h2M110.0 375.9h2M118.6 375.9h2M66.9 378.8h2M75.5 378.8h2M81.2 378.8h2M89.9 378.8h2M112.9 378.8h2M66.9 381.7h2M104.2 381.7h2M75.5 384.6h2M92.7 384.6h2M95.6 384.6h2M98.5 384.6h2M107.1 384.6h2M110.0 384.6h2M115.7 384.6h2M72.6 387.4h2M75.5 387.4h2M89.9 387.4h2M92.7 387.4h2M98.5 387.4h2M101.4 387.4h2M107.1 387.4h2M110.0 387.4h2M112.9 387.4h2M72.6 390.3h2M81.2 390.3h2M98.5 390.3h2M104.2 390.3h2M110.0 390.3h2M112.9 390.3h2M69.7 393.2h2M72.6 393.2h2M87.0 393.2h2M95.6 393.2h2M98.5 393.2h2M107.1 393.2h2M118.6 393.2h2M66.9 396.1h2M84.1 396.1h2M95.6 396.1h2M98.5 396.1h2M115.7 396.1h2M118.6 428.9h2M118.6 446.2h2M118.6 451.9h2" stroke="#fd986b" stroke-width="2.05" fill="none"/><path d="M66.9 252.7h2M81.2 252.7h2M87.0 252.7h2M115.7 252.7h2M81.2 255.5h2M66.9 258.4h2M87.0 258.4h2M110.0 258.4h2M72.6 261.3h2M84.1 261.3h2M115.7 261.3h2M92.7 264.2h2M95.6 264.2h2M66.9 267.0h2M69.7 267.0h2M75.5 267.0h2M87.0 267.0h2M92.7 267.0h2M95.6 267.0h2M104.2 267.0h2M107.1 267.0h2M112.9 267.0h2M118.6 267.0h2M66.9 269.9h2M78.4 269.9h2M87.0 269.9h2M89.9 269.9h2M95.6 269.9h2M66.9 272.8h2M69.7 272.8h2M84.1 272.8h2M69.7 275.7h2M75.5 275.7h2M89.9 275.7h2M92.7 275.7h2M112.9 275.7h2M66.9 278.5h2M84.1 278.5h2M98.5 278.5h2M101.4 278.5h2M107.1 278.5h2M112.9 278.5h2M118.6 278.5h2M69.7 281.4h2M72.6 281.4h2M92.7 281.4h2M98.5 281.4h2M118.6 336.9h2M81.2 364.4h2M87.0 364.4h2M89.9 364.4h2M95.6 364.4h2M101.4 364.4h2M104.2 364.4h2M66.9 367.3h2M72.6 367.3h2M75.5 367.3h2M87.0 367.3h2M115.7 367.3h2M118.6 367.3h2M87.0 370.2h2M92.7 370.2h2M98.5 370.2h2M107.1 370.2h2M69.7 373.1h2M75.5 373.1h2M87.0 373.1h2M89.9 373.1h2M98.5 373.1h2M101.4 373.1h2M66.9 375.9h2M72.6 375.9h2M89.9 375.9h2M95.6 375.9h2M101.4 375.9h2M69.7 378.8h2M84.1 378.8h2M95.6 378.8h2M107.1 378.8h2M110.0 378.8h2M78.4 381.7h2M84.1 381.7h2M95.6 381.7h2M98.5 381.7h2M110.0 381.7h2M87.0 384.6h2M89.9 384.6h2M112.9 384.6h2M81.2 387.4h2M84.1 387.4h2M66.9 390.3h2M69.7 390.3h2M75.5 390.3h2M87.0 390.3h2M89.9 390.3h2M95.6 390.3h2M107.1 390.3h2M101.4 393.2h2M112.9 393.2h2M75.5 396.1h2M78.4 396.1h2M87.0 396.1h2M110.0 396.1h2M118.6 420.3h2M118.6 431.8h2M118.6 434.7h2M118.6 443.3h2" stroke="#fea975" stroke-width="2.05" fill="none"/><path d="M66.9 249.8h2M72.6 249.8h2M75.5 249.8h2M84.1 249.8h2M89.9 249.8h2M101.4 249.8h2M104.2 249.8h2M115.7 249.8h2M69.7 252.7h2M92.7 252.7h2M95.6 252.7h2M101.4 252.7h2M107.1 252.7h2M66.9 255.5h2M75.5 255.5h2M84.1 255.5h2M101.4 255.5h2M107.1 255.5h2M115.7 255.5h2M78.4 258.4h2M84.1 258.4h2M95.6 258.4h2M115.7 258.4h2M75.5 261.3h2M98.5 261.3h2M107.1 261.3h2M118.6 261.3h2M75.5 264.2h2M78.4 264.2h2M84.1 264.2h2M87.0 264.2h2M89.9 264.2h2M101.4 264.2h2M110.0 264.2h2M112.9 264.2h2M110.0 267.0h2M115.7 267.0h2M72.6 269.9h2M75.5 269.9h2M84.1 269.9h2M92.7 269.9h2M98.5 269.9h2M118.6 269.9h2M78.4 272.8h2M81.2 272.8h2M95.6 272.8h2M107.1 272.8h2M110.0 272.8h2M115.7 272.8h2M118.6 272.8h2M101.4 275.7h2M115.7 275.7h2M72.6 278.5h2M75.5 278.5h2M89.9 278.5h2M92.7 278.5h2M95.6 278.5h2M75.5 281.4h2M95.6 281.4h2M104.2 281.4h2M118.6 305.3h2M75.5 364.4h2M115.7 364.4h2M107.1 367.3h2M72.6 370.2h2M75.5 370.2h2M84.1 370.2h2M89.9 370.2h2M115.7 370.2h2M66.9 373.1h2M107.1 373.1h2M115.7 373.1h2M84.1 375.9h2M92.7 375.9h2M72.6 378.8h2M92.7 378.8h2M104.2 378.8h2M118.6 378.8h2M81.2 381.7h2M112.9 381.7h2M72.6 384.6h2M78.4 384.6h2M81.2 384.6h2M104.2 384.6h2M118.6 384.6h2M66.9 387.4h2M69.7 387.4h2M78.4 387.4h2M87.0 387.4h2M104.2 387.4h2M101.4 390.3h2M84.1 393.2h2M89.9 393.2h2M92.7 393.2h2M104.2 393.2h2M110.0 393.2h2M118.6 396.1h2M118.6 423.2h2M118.6 437.5h2" stroke="#feba82" stroke-width="2.05" fill="none"/><path d="M92.7 249.8h2M95.6 249.8h2M107.1 249.8h2M72.6 252.7h2M84.1 252.7h2M104.2 252.7h2M110.0 252.7h2M118.6 252.7h2M72.6 255.5h2M78.4 255.5h2M87.0 255.5h2M89.9 255.5h2M98.5 255.5h2M89.9 258.4h2M98.5 258.4h2M101.4 258.4h2M78.4 261.3h2M72.6 264.2h2M81.2 264.2h2M89.9 267.0h2M81.2 269.9h2M112.9 269.9h2M87.0 272.8h2M89.9 272.8h2M92.7 272.8h2M98.5 272.8h2M101.4 272.8h2M104.2 272.8h2M81.2 275.7h2M95.6 275.7h2M104.2 275.7h2M78.4 278.5h2M81.2 278.5h2M110.0 278.5h2M115.7 278.5h2M81.2 281.4h2M89.9 281.4h2M101.4 281.4h2M107.1 281.4h2M118.6 311.0h2M118.6 325.4h2M118.6 328.3h2M81.2 370.2h2M95.6 370.2h2M69.7 375.9h2M78.4 378.8h2M87.0 378.8h2M92.7 390.3h2M115.7 390.3h2M101.4 396.1h2M104.2 396.1h2M112.9 396.1h2M118.6 426.0h2" stroke="#fecc8f" stroke-width="2.05" fill="none"/><path d="M98.5 249.8h2M112.9 249.8h2M118.6 249.8h2M78.4 252.7h2M112.9 252.7h2M92.7 255.5h2M104.2 255.5h2M118.6 255.5h2M69.7 258.4h2M72.6 258.4h2M92.7 258.4h2M107.1 258.4h2M118.6 258.4h2M66.9 261.3h2M89.9 261.3h2M95.6 261.3h2M101.4 261.3h2M98.5 264.2h2M104.2 264.2h2M81.2 267.0h2M101.4 267.0h2M69.7 269.9h2M101.4 269.9h2M75.5 272.8h2M66.9 275.7h2M107.1 275.7h2M118.6 275.7h2M69.7 278.5h2M112.9 281.4h2M118.6 322.5h2M118.6 334.0h2M92.7 367.3h2M118.6 373.1h2M98.5 378.8h2M118.6 381.7h2M78.4 393.2h2M92.7 396.1h2" stroke="#fddc9f" stroke-width="2.05" fill="none"/><path d="M87.0 249.8h2M75.5 252.7h2M89.9 252.7h2M98.5 252.7h2M69.7 255.5h2M110.0 255.5h2M75.5 258.4h2M69.7 261.3h2M107.1 264.2h2M78.4 267.0h2M104.2 269.9h2M115.7 269.9h2M112.9 272.8h2M72.6 275.7h2M78.4 275.7h2M84.1 275.7h2M98.5 275.7h2M87.0 278.5h2M78.4 281.4h2M84.1 281.4h2M110.0 281.4h2M118.6 281.4h2M118.6 331.2h2M92.7 364.4h2M69.7 370.2h2M78.4 370.2h2M95.6 373.1h2M115.7 387.4h2M78.4 390.3h2M69.7 396.1h2M89.9 396.1h2M118.6 440.4h2" stroke="#fdedaf" stroke-width="2.05" fill="none"/><path d="M110.0 249.8h2M95.6 255.5h2M98.5 267.0h2M118.6 319.7h2" stroke="#fcfdbf" stroke-width="2.05" fill="none"/><path d="M65.5 479.1h0M65.5 485.1h0M65.5 488.1h0M65.5 491.1h0M65.5 494.1h0M65.5 497.1h0M65.5 500.1h0M65.5 503.1h0M65.5 506.1h0M65.5 509.1h0M65.5 512.1h0M156.8 479.4h0M156.8 482.4h0M156.8 485.4h0M156.8 488.4h0M156.8 491.4h0M156.8 497.4h0M156.8 503.4h0M156.8 506.4h0M156.8 509.4h0M156.8 512.4h0M71.6 537.5h0M83.6 537.5h0M107.6 537.5h0M74.6 540.5h0M77.6 543.5h0M110.6 543.5h0M119.6 549.5h0M65.6 552.5h0M83.6 558.5h0M86.6 558.5h0M86.6 561.5h0M89.6 564.5h0M68.6 567.5h0M101.6 567.5h0M110.6 570.5h0M156.4 537.8h0M159.4 537.8h0M162.4 537.8h0M165.4 537.8h0M168.4 537.8h0M171.4 537.8h0M174.4 537.8h0M177.4 537.8h0M180.4 537.8h0M183.4 537.8h0M186.4 537.8h0M189.4 537.8h0M192.4 537.8h0M195.4 537.8h0M198.4 537.8h0M201.4 537.8h0M204.4 537.8h0M207.4 537.8h0M210.4 537.8h0M156.4 540.8h0M159.4 540.8h0M162.4 540.8h0M165.4 540.8h0M168.4 540.8h0M171.4 540.8h0M174.4 540.8h0M177.4 540.8h0M180.4 540.8h0M183.4 540.8h0M186.4 540.8h0M189.4 540.8h0M192.4 540.8h0M195.4 540.8h0M198.4 540.8h0M201.4 540.8h0M204.4 540.8h0M207.4 540.8h0M210.4 540.8h0M156.4 543.8h0M159.4 543.8h0M162.4 543.8h0M165.4 543.8h0M168.4 543.8h0M171.4 543.8h0M174.4 543.8h0M177.4 543.8h0M180.4 543.8h0M183.4 543.8h0M186.4 543.8h0M189.4 543.8h0M192.4 543.8h0M195.4 543.8h0M198.4 543.8h0M201.4 543.8h0M204.4 543.8h0M207.4 543.8h0M210.4 543.8h0M156.4 546.8h0M159.4 546.8h0M162.4 546.8h0M165.4 546.8h0M168.4 546.8h0M171.4 546.8h0M174.4 546.8h0M177.4 546.8h0M180.4 546.8h0M183.4 546.8h0M186.4 546.8h0M189.4 546.8h0M192.4 546.8h0M195.4 546.8h0M198.4 546.8h0M201.4 546.8h0M204.4 546.8h0M207.4 546.8h0M210.4 546.8h0M156.4 549.8h0M159.4 549.8h0M162.4 549.8h0M165.4 549.8h0M168.4 549.8h0M171.4 549.8h0M174.4 549.8h0M177.4 549.8h0M180.4 549.8h0M183.4 549.8h0M186.4 549.8h0M189.4 549.8h0M192.4 549.8h0M195.4 549.8h0M198.4 549.8h0M201.4 549.8h0M204.4 549.8h0M207.4 549.8h0M210.4 549.8h0M156.4 552.8h0M159.4 552.8h0M162.4 552.8h0M165.4 552.8h0M168.4 552.8h0M171.4 552.8h0M174.4 552.8h0M177.4 552.8h0M180.4 552.8h0M183.4 552.8h0M186.4 552.8h0M189.4 552.8h0M192.4 552.8h0M195.4 552.8h0M198.4 552.8h0M201.4 552.8h0M204.4 552.8h0M207.4 552.8h0M210.4 552.8h0M156.4 555.8h0M159.4 555.8h0M162.4 555.8h0M165.4 555.8h0M168.4 555.8h0M171.4 555.8h0M174.4 555.8h0M177.4 555.8h0M180.4 555.8h0M183.4 555.8h0M186.4 555.8h0M189.4 555.8h0M192.4 555.8h0M195.4 555.8h0M198.4 555.8h0M201.4 555.8h0M204.4 555.8h0M207.4 555.8h0M210.4 555.8h0M156.4 558.8h0M159.4 558.8h0M162.4 558.8h0M165.4 558.8h0M168.4 558.8h0M171.4 558.8h0M174.4 558.8h0M177.4 558.8h0M180.4 558.8h0M183.4 558.8h0M186.4 558.8h0M189.4 558.8h0M192.4 558.8h0M195.4 558.8h0M198.4 558.8h0M201.4 558.8h0M204.4 558.8h0M207.4 558.8h0M210.4 558.8h0M156.4 561.8h0M159.4 561.8h0M162.4 561.8h0M165.4 561.8h0M168.4 561.8h0M171.4 561.8h0M174.4 561.8h0M177.4 561.8h0M180.4 561.8h0M183.4 561.8h0M186.4 561.8h0M189.4 561.8h0M192.4 561.8h0M195.4 561.8h0M198.4 561.8h0M201.4 561.8h0M204.4 561.8h0M207.4 561.8h0M210.4 561.8h0M156.4 564.8h0M159.4 564.8h0M162.4 564.8h0M165.4 564.8h0M168.4 564.8h0M171.4 564.8h0M174.4 564.8h0M177.4 564.8h0M180.4 564.8h0M183.4 564.8h0M186.4 564.8h0M189.4 564.8h0M192.4 564.8h0M195.4 564.8h0M198.4 564.8h0M201.4 564.8h0M204.4 564.8h0M207.4 564.8h0M210.4 564.8h0M156.4 567.8h0M159.4 567.8h0M162.4 567.8h0M165.4 567.8h0M168.4 567.8h0M171.4 567.8h0M174.4 567.8h0M177.4 567.8h0M180.4 567.8h0M183.4 567.8h0M186.4 567.8h0M189.4 567.8h0M192.4 567.8h0M195.4 567.8h0M198.4 567.8h0M201.4 567.8h0M204.4 567.8h0M207.4 567.8h0M210.4 567.8h0M156.4 570.8h0M159.4 570.8h0M162.4 570.8h0M165.4 570.8h0M168.4 570.8h0M171.4 570.8h0M174.4 570.8h0M177.4 570.8h0M180.4 570.8h0M183.4 570.8h0M186.4 570.8h0M189.4 570.8h0M192.4 570.8h0M195.4 570.8h0M198.4 570.8h0M201.4 570.8h0M204.4 570.8h0M207.4 570.8h0M210.4 570.8h0" stroke="#000004" stroke-width="2.45" stroke-linecap="round" fill="none"/><path d="M98.6 537.5h0M101.6 537.5h0M71.6 540.5h0M83.6 540.5h0M119.6 540.5h0M74.6 543.5h0M101.6 543.5h0M107.6 543.5h0M71.6 546.5h0M92.6 546.5h0M107.6 546.5h0M65.6 549.5h0M80.6 549.5h0M107.6 549.5h0M74.6 552.5h0M89.6 552.5h0M107.6 552.5h0M71.6 555.5h0M77.6 555.5h0M80.6 555.5h0M83.6 555.5h0M92.6 555.5h0M104.6 555.5h0M107.6 555.5h0M71.6 558.5h0M101.6 561.5h0M107.6 561.5h0M71.6 564.5h0M92.6 564.5h0M98.6 564.5h0M101.6 564.5h0M113.6 564.5h0M116.6 564.5h0M77.6 567.5h0M89.6 567.5h0M98.6 567.5h0M65.6 570.5h0M71.6 570.5h0M80.6 570.5h0M119.6 570.5h0" stroke="#070516" stroke-width="2.45" stroke-linecap="round" fill="none"/><path d="M113.6 537.5h0M95.6 540.5h0M101.6 540.5h0M95.6 543.5h0M68.6 546.5h0M113.6 546.5h0M119.6 546.5h0M116.6 549.5h0M83.6 552.5h0M95.6 552.5h0M89.6 558.5h0M116.6 558.5h0M104.6 564.5h0M80.6 567.5h0M104.6 567.5h0M92.6 570.5h0" stroke="#0e0a28" stroke-width="2.45" stroke-linecap="round" fill="none"/><path d="M65.5 482.1h0M156.8 494.4h0M156.8 500.4h0M65.6 537.5h0M74.6 537.5h0M89.6 537.5h0M92.6 537.5h0M110.6 537.5h0M116.6 537.5h0M119.6 537.5h0M80.6 540.5h0M89.6 540.5h0M98.6 540.5h0M104.6 540.5h0M107.6 540.5h0M110.6 540.5h0M113.6 540.5h0M71.6 543.5h0M83.6 543.5h0M86.6 543.5h0M89.6 543.5h0M92.6 543.5h0M98.6 543.5h0M119.6 543.5h0M77.6 546.5h0M80.6 546.5h0M86.6 546.5h0M89.6 546.5h0M95.6 546.5h0M98.6 546.5h0M101.6 546.5h0M110.6 546.5h0M71.6 549.5h0M77.6 549.5h0M95.6 549.5h0M98.6 549.5h0M101.6 549.5h0M110.6 549.5h0M113.6 549.5h0M68.6 552.5h0M71.6 552.5h0M77.6 552.5h0M86.6 552.5h0M110.6 552.5h0M116.6 552.5h0M68.6 555.5h0M74.6 555.5h0M89.6 555.5h0M95.6 555.5h0M98.6 555.5h0M101.6 555.5h0M110.6 555.5h0M119.6 555.5h0M65.6 558.5h0M77.6 558.5h0M80.6 558.5h0M95.6 558.5h0M98.6 558.5h0M101.6 558.5h0M107.6 558.5h0M110.6 558.5h0M113.6 558.5h0M119.6 558.5h0M65.6 561.5h0M68.6 561.5h0M74.6 561.5h0M77.6 561.5h0M83.6 561.5h0M92.6 561.5h0M104.6 561.5h0M110.6 561.5h0M119.6 561.5h0M68.6 564.5h0M74.6 564.5h0M83.6 564.5h0M95.6 564.5h0M107.6 564.5h0M110.6 564.5h0M119.6 564.5h0M65.6 567.5h0M71.6 567.5h0M86.6 567.5h0M113.6 567.5h0M68.6 570.5h0M74.6 570.5h0M77.6 570.5h0M83.6 570.5h0M86.6 570.5h0M89.6 570.5h0M98.6 570.5h0M101.6 570.5h0M104.6 570.5h0M113.6 570.5h0" stroke="#170e3a" stroke-width="2.45" stroke-linecap="round" fill="none"/><path d="M68.6 537.5h0M77.6 537.5h0M80.6 537.5h0M86.6 537.5h0M95.6 537.5h0M104.6 537.5h0M65.6 540.5h0M77.6 540.5h0M86.6 540.5h0M92.6 540.5h0M116.6 540.5h0M65.6 543.5h0M68.6 543.5h0M80.6 543.5h0M116.6 543.5h0M74.6 546.5h0M83.6 546.5h0M68.6 549.5h0M83.6 549.5h0M86.6 549.5h0M92.6 549.5h0M80.6 552.5h0M92.6 552.5h0M98.6 552.5h0M113.6 552.5h0M119.6 552.5h0M65.6 555.5h0M86.6 555.5h0M116.6 555.5h0M68.6 558.5h0M104.6 558.5h0M71.6 561.5h0M80.6 561.5h0M89.6 561.5h0M95.6 561.5h0M98.6 561.5h0M113.6 561.5h0M116.6 561.5h0M65.6 564.5h0M80.6 564.5h0M86.6 564.5h0M74.6 567.5h0M83.6 567.5h0M92.6 567.5h0M95.6 567.5h0M110.6 567.5h0M116.6 567.5h0M107.6 570.5h0M116.6 570.5h0" stroke="#250e4f" stroke-width="2.45" stroke-linecap="round" fill="none"/><path d="M104.6 543.5h0M65.6 546.5h0M104.6 552.5h0M119.6 567.5h0M95.6 570.5h0" stroke="#330f64" stroke-width="2.45" stroke-linecap="round" fill="none"/><path d="M104.6 546.5h0M104.6 549.5h0M101.6 552.5h0M113.6 555.5h0M74.6 558.5h0M92.6 558.5h0M107.6 567.5h0" stroke="#5e187e" stroke-width="2.45" stroke-linecap="round" fill="none"/><path d="M68.6 540.5h0M113.6 543.5h0M116.6 546.5h0M74.6 549.5h0M89.6 549.5h0M77.6 564.5h0" stroke="#6d1d80" stroke-width="2.45" stroke-linecap="round" fill="none"/><path d="M174.8 509.4h0" stroke="#982d7f" stroke-width="2.45" stroke-linecap="round" fill="none"/><path d="M210.8 479.4h0M168.8 482.4h0M210.8 482.4h0M195.8 485.4h0M198.8 488.4h0M174.8 491.4h0M189.8 494.4h0M165.8 500.4h0M177.8 500.4h0M186.8 500.4h0M195.8 500.4h0M168.8 503.4h0M189.8 503.4h0M162.8 506.4h0M177.8 506.4h0M171.8 509.4h0M177.8 509.4h0M186.8 509.4h0M198.8 512.4h0" stroke="#a8327c" stroke-width="2.45" stroke-linecap="round" fill="none"/><path d="M162.8 485.4h0M210.8 488.4h0M207.8 494.4h0M168.8 509.4h0M207.8 509.4h0" stroke="#b73779" stroke-width="2.45" stroke-linecap="round" fill="none"/><path d="M68.5 482.1h0M92.5 482.1h0M68.5 494.1h0M92.5 500.1h0M92.5 503.1h0M80.5 509.1h0M116.5 509.1h0M86.5 512.1h0M180.8 482.4h0M198.8 482.4h0M207.8 485.4h0M207.8 488.4h0M171.8 491.4h0M186.8 491.4h0M207.8 491.4h0M186.8 494.4h0M165.8 497.4h0M168.8 497.4h0M174.8 497.4h0M177.8 497.4h0M183.8 500.4h0M171.8 503.4h0M192.8 503.4h0M192.8 512.4h0M210.8 512.4h0M213.8 512.4h0" stroke="#c53d73" stroke-width="2.45" stroke-linecap="round" fill="none"/><path d="M86.5 479.1h0M86.5 485.1h0M83.5 503.1h0M98.5 503.1h0M122.5 512.1h0M213.8 479.4h0M171.8 488.4h0M183.8 491.4h0M174.8 494.4h0M201.8 494.4h0M210.8 494.4h0M162.8 497.4h0M159.8 500.4h0M171.8 500.4h0M192.8 500.4h0M162.8 509.4h0M180.8 509.4h0M162.8 512.4h0" stroke="#d3446d" stroke-width="2.45" stroke-linecap="round" fill="none"/><path d="M77.5 485.1h0M89.5 488.1h0M89.5 491.1h0M110.5 494.1h0M104.5 497.1h0M77.5 500.1h0M68.5 512.1h0M159.8 479.4h0M165.8 479.4h0M192.8 479.4h0M198.8 479.4h0M186.8 482.4h0M213.8 482.4h0M204.8 485.4h0M213.8 485.4h0M186.8 488.4h0M195.8 488.4h0M159.8 491.4h0M177.8 491.4h0M162.8 494.4h0M165.8 494.4h0M198.8 494.4h0M204.8 497.4h0M210.8 497.4h0M213.8 497.4h0M174.8 503.4h0M177.8 503.4h0M210.8 503.4h0M165.8 509.4h0M192.8 509.4h0M195.8 509.4h0" stroke="#e04c67" stroke-width="2.45" stroke-linecap="round" fill="none"/><path d="M74.5 479.1h0M77.5 479.1h0M89.5 479.1h0M116.5 479.1h0M104.5 482.1h0M83.5 485.1h0M119.5 485.1h0M74.5 488.1h0M77.5 488.1h0M107.5 488.1h0M110.5 488.1h0M119.5 488.1h0M68.5 491.1h0M74.5 494.1h0M86.5 494.1h0M119.5 494.1h0M74.5 497.1h0M101.5 497.1h0M119.5 497.1h0M71.5 500.1h0M110.5 500.1h0M113.5 500.1h0M122.5 500.1h0M71.5 503.1h0M77.5 503.1h0M119.5 503.1h0M80.5 506.1h0M119.5 506.1h0M71.5 509.1h0M119.5 509.1h0M77.5 512.1h0M89.5 512.1h0M95.5 512.1h0M104.5 512.1h0M171.8 479.4h0M186.8 479.4h0M207.8 479.4h0M162.8 482.4h0M183.8 482.4h0M201.8 482.4h0M171.8 485.4h0M183.8 485.4h0M186.8 485.4h0M195.8 491.4h0M213.8 491.4h0M183.8 494.4h0M195.8 494.4h0M207.8 497.4h0M168.8 500.4h0M213.8 500.4h0M162.8 503.4h0M180.8 506.4h0M198.8 506.4h0M201.8 506.4h0M165.8 512.4h0M174.8 512.4h0M189.8 512.4h0M207.8 512.4h0M213.4 543.8h0M213.4 549.8h0M213.4 558.8h0" stroke="#e95a63" stroke-width="2.45" stroke-linecap="round" fill="none"/><path d="M68.5 479.1h0M92.5 479.1h0M113.5 479.1h0M119.5 479.1h0M122.5 479.1h0M89.5 482.1h0M98.5 482.1h0M116.5 482.1h0M71.5 485.1h0M74.5 485.1h0M71.5 488.1h0M80.5 488.1h0M113.5 488.1h0M107.5 491.1h0M119.5 491.1h0M92.5 494.1h0M113.5 494.1h0M77.5 497.1h0M98.5 497.1h0M107.5 497.1h0M68.5 500.1h0M74.5 500.1h0M83.5 500.1h0M89.5 500.1h0M74.5 503.1h0M95.5 506.1h0M107.5 506.1h0M116.5 506.1h0M74.5 509.1h0M83.5 509.1h0M98.5 509.1h0M113.5 509.1h0M74.5 512.1h0M80.5 512.1h0M83.5 512.1h0M195.8 479.4h0M171.8 482.4h0M189.8 482.4h0M195.8 482.4h0M159.8 485.4h0M168.8 485.4h0M177.8 485.4h0M165.8 488.4h0M168.8 488.4h0M165.8 491.4h0M192.8 491.4h0M168.8 494.4h0M171.8 494.4h0M204.8 494.4h0M186.8 497.4h0M189.8 497.4h0M192.8 497.4h0M174.8 500.4h0M201.8 500.4h0M159.8 503.4h0M180.8 503.4h0M195.8 503.4h0M198.8 503.4h0M204.8 503.4h0M192.8 506.4h0M198.8 509.4h0M168.8 512.4h0M186.8 512.4h0M204.8 512.4h0M213.4 540.8h0" stroke="#f2685f" stroke-width="2.45" stroke-linecap="round" fill="none"/><path d="M71.5 479.1h0M74.5 482.1h0M77.5 482.1h0M80.5 482.1h0M101.5 482.1h0M107.5 482.1h0M119.5 482.1h0M89.5 485.1h0M101.5 485.1h0M107.5 485.1h0M113.5 485.1h0M122.5 485.1h0M68.5 488.1h0M83.5 488.1h0M86.5 488.1h0M92.5 488.1h0M74.5 491.1h0M77.5 491.1h0M95.5 491.1h0M98.5 491.1h0M101.5 491.1h0M116.5 491.1h0M89.5 494.1h0M107.5 494.1h0M116.5 494.1h0M71.5 497.1h0M116.5 497.1h0M80.5 500.1h0M104.5 500.1h0M119.5 500.1h0M80.5 503.1h0M89.5 503.1h0M95.5 503.1h0M107.5 503.1h0M122.5 503.1h0M68.5 506.1h0M74.5 506.1h0M77.5 506.1h0M86.5 506.1h0M104.5 506.1h0M77.5 509.1h0M86.5 509.1h0M95.5 509.1h0M101.5 509.1h0M101.5 512.1h0M174.8 479.4h0M177.8 479.4h0M183.8 479.4h0M204.8 479.4h0M159.8 482.4h0M180.8 485.4h0M201.8 485.4h0M189.8 488.4h0M198.8 491.4h0M204.8 491.4h0M171.8 497.4h0M195.8 497.4h0M162.8 500.4h0M180.8 500.4h0M198.8 500.4h0M210.8 500.4h0M165.8 503.4h0M183.8 503.4h0M207.8 503.4h0M159.8 506.4h0M165.8 506.4h0M174.8 506.4h0M195.8 506.4h0M207.8 506.4h0M189.8 509.4h0M201.8 509.4h0" stroke="#f8775e" stroke-width="2.45" stroke-linecap="round" fill="none"/><path d="M80.5 479.1h0M101.5 479.1h0M107.5 479.1h0M110.5 479.1h0M71.5 482.1h0M86.5 482.1h0M110.5 482.1h0M122.5 482.1h0M80.5 485.1h0M92.5 485.1h0M95.5 485.1h0M110.5 485.1h0M116.5 485.1h0M98.5 488.1h0M104.5 488.1h0M71.5 491.1h0M83.5 491.1h0M92.5 491.1h0M110.5 491.1h0M77.5 494.1h0M101.5 494.1h0M68.5 497.1h0M83.5 497.1h0M86.5 497.1h0M110.5 497.1h0M113.5 497.1h0M95.5 500.1h0M98.5 500.1h0M68.5 503.1h0M104.5 503.1h0M110.5 503.1h0M89.5 506.1h0M92.5 506.1h0M101.5 506.1h0M110.5 506.1h0M92.5 509.1h0M92.5 512.1h0M98.5 512.1h0M113.5 512.1h0M116.5 512.1h0M162.8 479.4h0M201.8 479.4h0M174.8 482.4h0M207.8 482.4h0M174.8 485.4h0M189.8 485.4h0M192.8 485.4h0M198.8 485.4h0M159.8 488.4h0M192.8 488.4h0M213.8 488.4h0M162.8 491.4h0M180.8 491.4h0M159.8 494.4h0M180.8 494.4h0M213.8 494.4h0M180.8 497.4h0M201.8 497.4h0M201.8 503.4h0M168.8 506.4h0M183.8 506.4h0M189.8 506.4h0M204.8 506.4h0M210.8 509.4h0M159.8 512.4h0M180.8 512.4h0M195.8 512.4h0M122.6 546.5h0M122.6 558.5h0M213.4 561.8h0" stroke="#fa8864" stroke-width="2.45" stroke-linecap="round" fill="none"/><path d="M95.5 479.1h0M95.5 482.1h0M113.5 482.1h0M68.5 485.1h0M98.5 485.1h0M104.5 485.1h0M122.5 488.1h0M113.5 491.1h0M71.5 494.1h0M95.5 494.1h0M122.5 494.1h0M80.5 497.1h0M89.5 497.1h0M101.5 500.1h0M86.5 503.1h0M101.5 503.1h0M116.5 503.1h0M83.5 506.1h0M122.5 506.1h0M89.5 509.1h0M104.5 509.1h0M107.5 509.1h0M110.5 509.1h0M71.5 512.1h0M107.5 512.1h0M192.8 482.4h0M204.8 482.4h0M177.8 488.4h0M168.8 491.4h0M201.8 491.4h0M177.8 494.4h0M189.8 500.4h0M207.8 500.4h0M213.8 503.4h0M171.8 506.4h0M204.8 509.4h0M213.8 509.4h0M171.8 512.4h0M201.8 512.4h0M213.4 546.8h0" stroke="#fd986b" stroke-width="2.45" stroke-linecap="round" fill="none"/><path d="M83.5 479.1h0M98.5 479.1h0M83.5 482.1h0M116.5 488.1h0M86.5 491.1h0M122.5 491.1h0M104.5 494.1h0M92.5 497.1h0M122.5 497.1h0M86.5 500.1h0M113.5 503.1h0M71.5 506.1h0M113.5 506.1h0M68.5 509.1h0M165.8 485.4h0M162.8 488.4h0M174.8 488.4h0M180.8 488.4h0M183.8 488.4h0M201.8 488.4h0M189.8 491.4h0M210.8 491.4h0M186.8 503.4h0M186.8 506.4h0M183.8 509.4h0M177.8 512.4h0M122.6 537.5h0M122.6 561.5h0M213.4 555.8h0" stroke="#fea975" stroke-width="2.45" stroke-linecap="round" fill="none"/><path d="M104.5 479.1h0M101.5 488.1h0M80.5 491.1h0M104.5 491.1h0M80.5 494.1h0M107.5 500.1h0M116.5 500.1h0M110.5 512.1h0M119.5 512.1h0M210.8 485.4h0M192.8 494.4h0M183.8 497.4h0M159.8 509.4h0M122.6 540.5h0M213.4 552.8h0M213.4 567.8h0" stroke="#feba82" stroke-width="2.45" stroke-linecap="round" fill="none"/><path d="M83.5 494.1h0M210.8 506.4h0M122.6 555.5h0" stroke="#fecc8f" stroke-width="2.45" stroke-linecap="round" fill="none"/><path d="M204.8 500.4h0M122.6 543.5h0M122.6 564.5h0M122.6 567.5h0M122.6 570.5h0M213.4 570.8h0" stroke="#fddc9f" stroke-width="2.45" stroke-linecap="round" fill="none"/><path d="M95.5 488.1h0M98.5 494.1h0M95.5 497.1h0M98.5 506.1h0M122.5 509.1h0M168.8 479.4h0M180.8 479.4h0M189.8 479.4h0M165.8 482.4h0M177.8 482.4h0M204.8 488.4h0M159.8 497.4h0M198.8 497.4h0M213.8 506.4h0M183.8 512.4h0M122.6 549.5h0M122.6 552.5h0M213.4 537.8h0" stroke="#fdedaf" stroke-width="2.45" stroke-linecap="round" fill="none"/><path d="M213.4 564.8h0" stroke="#fcfdbf" stroke-width="2.45" stroke-linecap="round" fill="none"/><path d="M157.3 249.8h0M157.3 252.7h0M157.3 258.4h0M157.3 261.3h0M157.3 264.2h0M157.3 267.0h0M157.3 269.9h0M157.3 272.8h0M157.3 275.7h0M157.3 278.5h0M157.3 281.4h0M157.3 305.3h0M160.2 305.3h0M163.0 305.3h0M165.9 305.3h0M168.8 305.3h0M171.7 305.3h0M174.5 305.3h0M177.4 305.3h0M180.3 305.3h0M183.2 305.3h0M186.0 305.3h0M188.9 305.3h0M191.8 305.3h0M194.7 305.3h0M197.5 305.3h0M200.4 305.3h0M203.3 305.3h0M206.2 305.3h0M209.0 305.3h0M157.3 308.2h0M160.2 308.2h0M163.0 308.2h0M165.9 308.2h0M168.8 308.2h0M171.7 308.2h0M174.5 308.2h0M177.4 308.2h0M180.3 308.2h0M183.2 308.2h0M186.0 308.2h0M188.9 308.2h0M191.8 308.2h0M194.7 308.2h0M197.5 308.2h0M200.4 308.2h0M203.3 308.2h0M206.2 308.2h0M209.0 308.2h0M157.3 311.0h0M160.2 311.0h0M163.0 311.0h0M165.9 311.0h0M168.8 311.0h0M171.7 311.0h0M174.5 311.0h0M177.4 311.0h0M180.3 311.0h0M183.2 311.0h0M186.0 311.0h0M188.9 311.0h0M191.8 311.0h0M194.7 311.0h0M197.5 311.0h0M200.4 311.0h0M203.3 311.0h0M206.2 311.0h0M209.0 311.0h0M157.3 313.9h0M160.2 313.9h0M163.0 313.9h0M165.9 313.9h0M168.8 313.9h0M171.7 313.9h0M174.5 313.9h0M177.4 313.9h0M180.3 313.9h0M183.2 313.9h0M186.0 313.9h0M188.9 313.9h0M191.8 313.9h0M194.7 313.9h0M197.5 313.9h0M200.4 313.9h0M203.3 313.9h0M206.2 313.9h0M209.0 313.9h0M157.3 316.8h0M160.2 316.8h0M163.0 316.8h0M165.9 316.8h0M168.8 316.8h0M171.7 316.8h0M174.5 316.8h0M177.4 316.8h0M180.3 316.8h0M183.2 316.8h0M186.0 316.8h0M188.9 316.8h0M191.8 316.8h0M194.7 316.8h0M197.5 316.8h0M200.4 316.8h0M203.3 316.8h0M206.2 316.8h0M209.0 316.8h0M157.3 319.7h0M160.2 319.7h0M163.0 319.7h0M165.9 319.7h0M168.8 319.7h0M171.7 319.7h0M174.5 319.7h0M177.4 319.7h0M180.3 319.7h0M183.2 319.7h0M186.0 319.7h0M188.9 319.7h0M191.8 319.7h0M194.7 319.7h0M197.5 319.7h0M200.4 319.7h0M203.3 319.7h0M206.2 319.7h0M209.0 319.7h0M157.3 322.5h0M160.2 322.5h0M163.0 322.5h0M165.9 322.5h0M168.8 322.5h0M171.7 322.5h0M174.5 322.5h0M177.4 322.5h0M180.3 322.5h0M183.2 322.5h0M186.0 322.5h0M188.9 322.5h0M191.8 322.5h0M194.7 322.5h0M197.5 322.5h0M200.4 322.5h0M203.3 322.5h0M206.2 322.5h0M209.0 322.5h0M157.3 325.4h0M160.2 325.4h0M163.0 325.4h0M165.9 325.4h0M168.8 325.4h0M171.7 325.4h0M174.5 325.4h0M177.4 325.4h0M180.3 325.4h0M183.2 325.4h0M186.0 325.4h0M188.9 325.4h0M191.8 325.4h0M194.7 325.4h0M197.5 325.4h0M200.4 325.4h0M203.3 325.4h0M206.2 325.4h0M209.0 325.4h0M157.3 328.3h0M160.2 328.3h0M163.0 328.3h0M165.9 328.3h0M168.8 328.3h0M171.7 328.3h0M174.5 328.3h0M177.4 328.3h0M180.3 328.3h0M183.2 328.3h0M186.0 328.3h0M188.9 328.3h0M191.8 328.3h0M194.7 328.3h0M197.5 328.3h0M200.4 328.3h0M203.3 328.3h0M206.2 328.3h0M209.0 328.3h0M157.3 331.2h0M160.2 331.2h0M163.0 331.2h0M165.9 331.2h0M168.8 331.2h0M171.7 331.2h0M174.5 331.2h0M177.4 331.2h0M180.3 331.2h0M183.2 331.2h0M186.0 331.2h0M188.9 331.2h0M191.8 331.2h0M194.7 331.2h0M197.5 331.2h0M200.4 331.2h0M203.3 331.2h0M206.2 331.2h0M209.0 331.2h0M157.3 334.0h0M160.2 334.0h0M163.0 334.0h0M165.9 334.0h0M168.8 334.0h0M171.7 334.0h0M174.5 334.0h0M177.4 334.0h0M180.3 334.0h0M183.2 334.0h0M186.0 334.0h0M188.9 334.0h0M191.8 334.0h0M194.7 334.0h0M197.5 334.0h0M200.4 334.0h0M203.3 334.0h0M206.2 334.0h0M209.0 334.0h0M157.3 336.9h0M160.2 336.9h0M163.0 336.9h0M165.9 336.9h0M168.8 336.9h0M171.7 336.9h0M174.5 336.9h0M177.4 336.9h0M180.3 336.9h0M183.2 336.9h0M186.0 336.9h0M188.9 336.9h0M191.8 336.9h0M194.7 336.9h0M197.5 336.9h0M200.4 336.9h0M203.3 336.9h0M206.2 336.9h0M209.0 336.9h0M157.3 420.3h0M160.2 420.3h0M163.0 420.3h0M165.9 420.3h0M168.8 420.3h0M171.7 420.3h0M174.5 420.3h0M177.4 420.3h0M180.3 420.3h0M183.2 420.3h0M186.0 420.3h0M188.9 420.3h0M191.8 420.3h0M194.7 420.3h0M197.5 420.3h0M200.4 420.3h0M203.3 420.3h0M206.2 420.3h0M209.0 420.3h0M157.3 423.2h0M160.2 423.2h0M163.0 423.2h0M165.9 423.2h0M168.8 423.2h0M171.7 423.2h0M174.5 423.2h0M177.4 423.2h0M180.3 423.2h0M183.2 423.2h0M186.0 423.2h0M188.9 423.2h0M191.8 423.2h0M194.7 423.2h0M197.5 423.2h0M200.4 423.2h0M203.3 423.2h0M206.2 423.2h0M209.0 423.2h0M157.3 426.0h0M160.2 426.0h0M163.0 426.0h0M165.9 426.0h0M168.8 426.0h0M171.7 426.0h0M174.5 426.0h0M177.4 426.0h0M180.3 426.0h0M183.2 426.0h0M186.0 426.0h0M188.9 426.0h0M191.8 426.0h0M194.7 426.0h0M197.5 426.0h0M200.4 426.0h0M203.3 426.0h0M206.2 426.0h0M209.0 426.0h0M157.3 428.9h0M160.2 428.9h0M163.0 428.9h0M165.9 428.9h0M168.8 428.9h0M171.7 428.9h0M174.5 428.9h0M177.4 428.9h0M180.3 428.9h0M183.2 428.9h0M186.0 428.9h0M188.9 428.9h0M191.8 428.9h0M194.7 428.9h0M197.5 428.9h0M200.4 428.9h0M203.3 428.9h0M206.2 428.9h0M209.0 428.9h0M157.3 431.8h0M160.2 431.8h0M163.0 431.8h0M165.9 431.8h0M168.8 431.8h0M171.7 431.8h0M174.5 431.8h0M177.4 431.8h0M180.3 431.8h0M183.2 431.8h0M186.0 431.8h0M188.9 431.8h0M191.8 431.8h0M194.7 431.8h0M197.5 431.8h0M200.4 431.8h0M203.3 431.8h0M206.2 431.8h0M209.0 431.8h0M157.3 434.7h0M160.2 434.7h0M163.0 434.7h0M165.9 434.7h0M168.8 434.7h0M171.7 434.7h0M174.5 434.7h0M177.4 434.7h0M180.3 434.7h0M183.2 434.7h0M186.0 434.7h0M188.9 434.7h0M191.8 434.7h0M194.7 434.7h0M197.5 434.7h0M200.4 434.7h0M203.3 434.7h0M206.2 434.7h0M209.0 434.7h0M157.3 437.5h0M160.2 437.5h0M163.0 437.5h0M165.9 437.5h0M168.8 437.5h0M171.7 437.5h0M174.5 437.5h0M177.4 437.5h0M180.3 437.5h0M183.2 437.5h0M186.0 437.5h0M188.9 437.5h0M191.8 437.5h0M194.7 437.5h0M197.5 437.5h0M200.4 437.5h0M203.3 437.5h0M206.2 437.5h0M209.0 437.5h0M157.3 440.4h0M160.2 440.4h0M163.0 440.4h0M165.9 440.4h0M168.8 440.4h0M171.7 440.4h0M174.5 440.4h0M177.4 440.4h0M180.3 440.4h0M183.2 440.4h0M186.0 440.4h0M188.9 440.4h0M191.8 440.4h0M194.7 440.4h0M197.5 440.4h0M200.4 440.4h0M203.3 440.4h0M206.2 440.4h0M209.0 440.4h0M157.3 443.3h0M160.2 443.3h0M163.0 443.3h0M165.9 443.3h0M168.8 443.3h0M171.7 443.3h0M174.5 443.3h0M177.4 443.3h0M180.3 443.3h0M183.2 443.3h0M186.0 443.3h0M188.9 443.3h0M191.8 443.3h0M194.7 443.3h0M197.5 443.3h0M200.4 443.3h0M203.3 443.3h0M206.2 443.3h0M209.0 443.3h0M157.3 446.2h0M160.2 446.2h0M163.0 446.2h0M165.9 446.2h0M168.8 446.2h0M171.7 446.2h0M174.5 446.2h0M177.4 446.2h0M180.3 446.2h0M183.2 446.2h0M186.0 446.2h0M188.9 446.2h0M191.8 446.2h0M194.7 446.2h0M197.5 446.2h0M200.4 446.2h0M203.3 446.2h0M206.2 446.2h0M209.0 446.2h0M157.3 449.0h0M160.2 449.0h0M163.0 449.0h0M165.9 449.0h0M168.8 449.0h0M171.7 449.0h0M174.5 449.0h0M177.4 449.0h0M180.3 449.0h0M183.2 449.0h0M186.0 449.0h0M188.9 449.0h0M191.8 449.0h0M194.7 449.0h0M197.5 449.0h0M200.4 449.0h0M203.3 449.0h0M206.2 449.0h0M209.0 449.0h0M157.3 451.9h0M160.2 451.9h0M163.0 451.9h0M165.9 451.9h0M168.8 451.9h0M171.7 451.9h0M174.5 451.9h0M177.4 451.9h0M180.3 451.9h0M183.2 451.9h0M186.0 451.9h0M188.9 451.9h0M191.8 451.9h0M194.7 451.9h0M197.5 451.9h0M200.4 451.9h0M203.3 451.9h0M206.2 451.9h0M209.0 451.9h0" stroke="#000004" stroke-width="2.55" stroke-linecap="round" fill="none"/><path d="M157.3 375.9h0M157.3 378.8h0M157.3 384.6h0M157.3 393.2h0" stroke="#070516" stroke-width="2.55" stroke-linecap="round" fill="none"/><path d="M157.3 370.2h0" stroke="#0e0a28" stroke-width="2.55" stroke-linecap="round" fill="none"/><path d="M157.3 255.5h0M157.3 364.4h0M157.3 367.3h0M157.3 373.1h0M157.3 381.7h0M157.3 387.4h0M157.3 390.3h0M157.3 396.1h0" stroke="#170e3a" stroke-width="2.55" stroke-linecap="round" fill="none"/><path d="M163.0 393.2h0" stroke="#501478" stroke-width="2.55" stroke-linecap="round" fill="none"/><path d="M209.0 258.4h0" stroke="#5e187e" stroke-width="2.55" stroke-linecap="round" fill="none"/><path d="M206.2 252.7h0M203.3 261.3h0M174.5 264.2h0M165.9 267.0h0M203.3 367.3h0M165.9 373.1h0" stroke="#6d1d80" stroke-width="2.55" stroke-linecap="round" fill="none"/><path d="M163.0 255.5h0M188.9 255.5h0M165.9 278.5h0M160.2 364.4h0M171.7 381.7h0M206.2 381.7h0M165.9 384.6h0" stroke="#7b2381" stroke-width="2.55" stroke-linecap="round" fill="none"/><path d="M197.5 264.2h0M188.9 267.0h0M163.0 272.8h0M177.4 272.8h0M203.3 381.7h0M160.2 384.6h0M186.0 387.4h0M191.8 393.2h0M186.0 396.1h0" stroke="#892881" stroke-width="2.55" stroke-linecap="round" fill="none"/><path d="M197.5 252.7h0M165.9 258.4h0M183.2 264.2h0M163.0 267.0h0M174.5 269.9h0M180.3 269.9h0M168.8 278.5h0M180.3 278.5h0M174.5 370.2h0M194.7 373.1h0M174.5 375.9h0M188.9 375.9h0M197.5 375.9h0M191.8 378.8h0M180.3 381.7h0M194.7 387.4h0M203.3 387.4h0M174.5 390.3h0M188.9 390.3h0M165.9 393.2h0M163.0 396.1h0M206.2 396.1h0" stroke="#982d7f" stroke-width="2.55" stroke-linecap="round" fill="none"/><path d="M168.8 249.8h0M180.3 252.7h0M194.7 255.5h0M209.0 255.5h0M194.7 258.4h0M203.3 258.4h0M165.9 261.3h0M177.4 261.3h0M160.2 264.2h0M186.0 264.2h0M200.4 264.2h0M160.2 269.9h0M183.2 269.9h0M191.8 269.9h0M183.2 272.8h0M203.3 272.8h0M206.2 272.8h0M194.7 275.7h0M197.5 275.7h0M191.8 278.5h0M188.9 364.4h0M160.2 367.3h0M209.0 367.3h0M180.3 370.2h0M188.9 370.2h0M209.0 370.2h0M197.5 373.1h0M171.7 378.8h0M180.3 378.8h0M183.2 387.4h0M188.9 387.4h0M206.2 387.4h0M209.0 387.4h0M180.3 390.3h0M160.2 393.2h0M183.2 393.2h0M194.7 393.2h0M209.0 393.2h0M174.5 396.1h0M194.7 396.1h0" stroke="#a8327c" stroke-width="2.55" stroke-linecap="round" fill="none"/><path d="M194.7 252.7h0M171.7 255.5h0M191.8 255.5h0M197.5 255.5h0M174.5 258.4h0M168.8 261.3h0M188.9 261.3h0M191.8 261.3h0M206.2 261.3h0M180.3 264.2h0M183.2 267.0h0M186.0 267.0h0M191.8 267.0h0M165.9 269.9h0M177.4 269.9h0M188.9 272.8h0M191.8 272.8h0M197.5 272.8h0M191.8 281.4h0M206.2 281.4h0M171.7 367.3h0M200.4 367.3h0M168.8 370.2h0M191.8 370.2h0M194.7 370.2h0M206.2 370.2h0M165.9 375.9h0M209.0 378.8h0M177.4 384.6h0M197.5 384.6h0M200.4 384.6h0M209.0 384.6h0M174.5 387.4h0M177.4 387.4h0M194.7 390.3h0M203.3 390.3h0M206.2 390.3h0M168.8 396.1h0M197.5 396.1h0M203.3 396.1h0" stroke="#b73779" stroke-width="2.55" stroke-linecap="round" fill="none"/><path d="M165.9 249.8h0M203.3 249.8h0M203.3 252.7h0M174.5 255.5h0M203.3 255.5h0M177.4 258.4h0M188.9 258.4h0M191.8 258.4h0M160.2 261.3h0M194.7 261.3h0M200.4 261.3h0M168.8 264.2h0M206.2 264.2h0M168.8 267.0h0M174.5 267.0h0M203.3 267.0h0M168.8 272.8h0M200.4 272.8h0M163.0 275.7h0M200.4 278.5h0M206.2 278.5h0M160.2 281.4h0M163.0 281.4h0M165.9 281.4h0M174.5 281.4h0M197.5 367.3h0M163.0 373.1h0M160.2 375.9h0M200.4 375.9h0M165.9 378.8h0M174.5 378.8h0M183.2 378.8h0M188.9 378.8h0M200.4 378.8h0M163.0 381.7h0M194.7 381.7h0M200.4 381.7h0M163.0 384.6h0M186.0 384.6h0M191.8 384.6h0M203.3 384.6h0M206.2 384.6h0M197.5 387.4h0M209.0 390.3h0M180.3 393.2h0M203.3 393.2h0M165.9 396.1h0M180.3 396.1h0M200.4 396.1h0" stroke="#c53d73" stroke-width="2.55" stroke-linecap="round" fill="none"/><path d="M163.0 252.7h0M168.8 252.7h0M200.4 252.7h0M180.3 258.4h0M183.2 258.4h0M186.0 258.4h0M171.7 261.3h0M183.2 261.3h0M197.5 261.3h0M191.8 264.2h0M209.0 264.2h0M211.9 264.2h0M206.2 267.0h0M171.7 269.9h0M183.2 275.7h0M174.5 278.5h0M186.0 278.5h0M209.0 278.5h0M171.7 281.4h0M197.5 281.4h0M203.3 281.4h0M168.8 364.4h0M174.5 364.4h0M200.4 364.4h0M203.3 364.4h0M209.0 364.4h0M168.8 367.3h0M191.8 367.3h0M206.2 367.3h0M177.4 370.2h0M183.2 370.2h0M203.3 370.2h0M203.3 375.9h0M209.0 375.9h0M168.8 378.8h0M209.0 381.7h0M183.2 384.6h0M165.9 387.4h0M180.3 387.4h0M183.2 396.1h0M191.8 396.1h0M211.9 434.7h0" stroke="#d3446d" stroke-width="2.55" stroke-linecap="round" fill="none"/><path d="M163.0 249.8h0M180.3 249.8h0M183.2 249.8h0M209.0 249.8h0M165.9 252.7h0M209.0 252.7h0M160.2 255.5h0M168.8 255.5h0M180.3 255.5h0M206.2 255.5h0M206.2 258.4h0M163.0 264.2h0M194.7 264.2h0M194.7 267.0h0M200.4 267.0h0M209.0 267.0h0M188.9 269.9h0M197.5 269.9h0M206.2 269.9h0M171.7 272.8h0M174.5 272.8h0M180.3 272.8h0M171.7 275.7h0M177.4 275.7h0M200.4 275.7h0M163.0 278.5h0M171.7 278.5h0M188.9 278.5h0M194.7 278.5h0M168.8 281.4h0M186.0 281.4h0M188.9 281.4h0M171.7 364.4h0M206.2 364.4h0M165.9 367.3h0M174.5 367.3h0M177.4 367.3h0M188.9 367.3h0M171.7 370.2h0M197.5 370.2h0M171.7 373.1h0M183.2 373.1h0M168.8 375.9h0M171.7 375.9h0M206.2 375.9h0M203.3 378.8h0M188.9 381.7h0M168.8 384.6h0M194.7 384.6h0M160.2 387.4h0M211.9 387.4h0M171.7 393.2h0M174.5 393.2h0M186.0 393.2h0M188.9 393.2h0M206.2 393.2h0" stroke="#e04c67" stroke-width="2.55" stroke-linecap="round" fill="none"/><path d="M174.5 249.8h0M188.9 249.8h0M177.4 252.7h0M183.2 252.7h0M188.9 252.7h0M165.9 255.5h0M177.4 255.5h0M186.0 255.5h0M160.2 258.4h0M168.8 258.4h0M171.7 258.4h0M197.5 258.4h0M200.4 258.4h0M174.5 261.3h0M203.3 264.2h0M177.4 267.0h0M163.0 269.9h0M203.3 269.9h0M209.0 269.9h0M160.2 272.8h0M186.0 272.8h0M174.5 275.7h0M186.0 275.7h0M203.3 275.7h0M209.0 275.7h0M180.3 281.4h0M180.3 364.4h0M183.2 364.4h0M186.0 364.4h0M163.0 367.3h0M180.3 367.3h0M183.2 367.3h0M211.9 367.3h0M200.4 370.2h0M211.9 370.2h0M174.5 373.1h0M177.4 373.1h0M180.3 373.1h0M188.9 373.1h0M206.2 373.1h0M186.0 378.8h0M206.2 378.8h0M211.9 378.8h0M174.5 381.7h0M197.5 381.7h0M174.5 384.6h0M180.3 384.6h0M200.4 387.4h0M160.2 390.3h0M177.4 390.3h0M183.2 390.3h0M211.9 390.3h0M168.8 393.2h0M177.4 393.2h0M197.5 393.2h0M160.2 396.1h0M188.9 396.1h0M211.9 440.4h0" stroke="#e95a63" stroke-width="2.55" stroke-linecap="round" fill="none"/><path d="M160.2 249.8h0M160.2 252.7h0M171.7 252.7h0M186.0 252.7h0M211.9 252.7h0M183.2 255.5h0M211.9 258.4h0M171.7 264.2h0M188.9 264.2h0M160.2 267.0h0M197.5 267.0h0M186.0 269.9h0M160.2 275.7h0M165.9 275.7h0M168.8 275.7h0M160.2 278.5h0M197.5 278.5h0M183.2 281.4h0M194.7 281.4h0M211.9 325.4h0M163.0 364.4h0M191.8 364.4h0M194.7 364.4h0M211.9 364.4h0M160.2 370.2h0M200.4 373.1h0M209.0 373.1h0M180.3 375.9h0M183.2 381.7h0M171.7 384.6h0M168.8 387.4h0M191.8 387.4h0M168.8 390.3h0M171.7 396.1h0M209.0 396.1h0" stroke="#f2685f" stroke-width="2.55" stroke-linecap="round" fill="none"/><path d="M171.7 249.8h0M180.3 261.3h0M209.0 261.3h0M180.3 267.0h0M165.9 272.8h0M209.0 272.8h0M211.9 272.8h0M180.3 275.7h0M177.4 278.5h0M203.3 278.5h0M200.4 281.4h0M211.9 334.0h0M186.0 367.3h0M163.0 370.2h0M186.0 370.2h0M160.2 373.1h0M186.0 373.1h0M203.3 373.1h0M177.4 378.8h0M165.9 381.7h0M168.8 381.7h0M177.4 381.7h0M163.0 387.4h0M171.7 387.4h0M163.0 390.3h0M197.5 390.3h0M211.9 420.3h0M211.9 446.2h0" stroke="#f8775e" stroke-width="2.55" stroke-linecap="round" fill="none"/><path d="M177.4 249.8h0M197.5 249.8h0M206.2 249.8h0M200.4 255.5h0M177.4 264.2h0M194.7 269.9h0M200.4 269.9h0M183.2 278.5h0M177.4 281.4h0M209.0 281.4h0M211.9 281.4h0M211.9 316.8h0M211.9 322.5h0M168.8 373.1h0M191.8 373.1h0M177.4 375.9h0M194.7 375.9h0M197.5 378.8h0M186.0 381.7h0M165.9 390.3h0M191.8 390.3h0M200.4 393.2h0M177.4 396.1h0M211.9 396.1h0M211.9 449.0h0" stroke="#fa8864" stroke-width="2.55" stroke-linecap="round" fill="none"/><path d="M191.8 249.8h0M211.9 255.5h0M211.9 275.7h0M211.9 313.9h0M165.9 364.4h0M177.4 364.4h0M194.7 367.3h0M211.9 373.1h0M183.2 375.9h0M211.9 375.9h0M211.9 381.7h0M211.9 384.6h0M171.7 390.3h0M211.9 451.9h0" stroke="#fd986b" stroke-width="2.55" stroke-linecap="round" fill="none"/><path d="M186.0 249.8h0M194.7 272.8h0M160.2 381.7h0M211.9 443.3h0" stroke="#fea975" stroke-width="2.55" stroke-linecap="round" fill="none"/><path d="M174.5 252.7h0M211.9 269.9h0M206.2 275.7h0M211.9 308.2h0M211.9 311.0h0M211.9 319.7h0M191.8 375.9h0M160.2 378.8h0M163.0 378.8h0M194.7 378.8h0M188.9 384.6h0M211.9 428.9h0" stroke="#feba82" stroke-width="2.55" stroke-linecap="round" fill="none"/><path d="M186.0 261.3h0M211.9 267.0h0M211.9 305.3h0M211.9 393.2h0M211.9 437.5h0" stroke="#fecc8f" stroke-width="2.55" stroke-linecap="round" fill="none"/><path d="M211.9 331.2h0M211.9 423.2h0M211.9 431.8h0" stroke="#fddc9f" stroke-width="2.55" stroke-linecap="round" fill="none"/><path d="M194.7 249.8h0M200.4 249.8h0M191.8 252.7h0M163.0 258.4h0M163.0 261.3h0M211.9 261.3h0M165.9 264.2h0M171.7 267.0h0M168.8 269.9h0M188.9 275.7h0M191.8 275.7h0M211.9 278.5h0M211.9 336.9h0M197.5 364.4h0M165.9 370.2h0M163.0 375.9h0M186.0 375.9h0M191.8 381.7h0M186.0 390.3h0M200.4 390.3h0M211.9 426.0h0" stroke="#fdedaf" stroke-width="2.55" stroke-linecap="round" fill="none"/><path d="M211.9 249.8h0M211.9 328.3h0" stroke="#fcfdbf" stroke-width="2.55" stroke-linecap="round" fill="none"/><g class="L" font-size="12.85" fill="#000" text-anchor="middle"><text x="94.4" y="232.6">Imaging</text><text x="185.6" y="232.6">CellTiter-Glo</text><text transform="translate(20.4 291) rotate(-90)" text-anchor="middle">Metastasis</text><text transform="translate(34.9 288.8) rotate(-90)" text-anchor="middle">(123LU)</text><text transform="translate(20.4 406) rotate(-90)" text-anchor="middle">Primary tumor</text><text transform="translate(34.9 403.8) rotate(-90)" text-anchor="middle">(88T)</text><text transform="translate(20.4 523.5) rotate(-90)" text-anchor="middle">Primary tumor</text><text transform="translate(34.9 521.3) rotate(-90)" text-anchor="middle">(24T)</text><text transform="translate(52.2 265.3) rotate(-90)" text-anchor="middle">Max</text><text transform="translate(52.2 320.8) rotate(-90)" text-anchor="middle">Min</text><text transform="translate(52.2 379.95) rotate(-90)" text-anchor="middle">Max</text><text transform="translate(52.2 435.8) rotate(-90)" text-anchor="middle">Min</text><text transform="translate(52.2 495.29999999999995) rotate(-90)" text-anchor="middle">Max</text><text transform="translate(52.2 553.75) rotate(-90)" text-anchor="middle">Min</text></g>
<g stroke="#2b2b2b" stroke-width="1.5" fill="none"><path d="M230 232.7H683.2"/><path d="M230 350.9H683.2"/><path d="M230 465.4H683.2"/><path d="M230 597.5H683.2"/></g><g class="L" font-size="12.7" fill="#000" text-anchor="middle"><text x="348.7" y="228.6">Imaging</text><text x="580.4" y="228.6">CellTiter-Glo</text><text x="305.2" y="246.4" font-size="12.5">Max</text><text x="406" y="246.4" font-size="12.5">Min</text><text x="528" y="247" font-size="12.5">Max</text><text x="634.6" y="247" font-size="12.5">Min</text><text x="469.8" y="593.2" font-size="12.95">Plate columns</text><text x="449.0" y="613.7" font-size="13.1">Min</text><text x="497.6" y="613.7" font-size="13.1">Max</text><text transform="translate(241.9 290.8) rotate(-90)" text-anchor="middle" font-size="12.85">Average area</text><text transform="translate(470.7 290.8) rotate(-90)" text-anchor="middle">RLU (10<tspan font-size="7.5" dy="-4.2">4</tspan><tspan dy="4.2">)</tspan></text><text transform="translate(241.9 404.6) rotate(-90)" text-anchor="middle" font-size="12.85">Average area</text><text transform="translate(470.7 404.6) rotate(-90)" text-anchor="middle">RLU (10<tspan font-size="7.5" dy="-4.2">4</tspan><tspan dy="4.2">)</tspan></text><text transform="translate(241.9 524.6) rotate(-90)" text-anchor="middle" font-size="12.85">Average area</text><text transform="translate(470.7 524.6) rotate(-90)" text-anchor="middle">RLU (10<tspan font-size="7.5" dy="-4.2">4</tspan><tspan dy="4.2">)</tspan></text></g><circle cx="432.7" cy="608.9" r="3.4" fill="none" stroke="#8344bd" stroke-width="1"/><circle cx="478.7" cy="608.9" r="3.4" fill="none" stroke="#74ade0" stroke-width="1"/><g fill="none" stroke="#adadad" stroke-width="1"><rect x="262.8" y="252.7" width="84.4" height="79.3"/><rect x="368.4" y="252.7" width="84.3" height="79.3"/><rect x="490.9" y="252.7" width="84.0" height="79.3"/><rect x="594.4" y="252.7" width="84.9" height="79.3"/><rect x="262.8" y="365.8" width="84.4" height="79.4"/><rect x="368.4" y="365.8" width="84.3" height="79.4"/><rect x="490.9" y="365.8" width="84.0" height="79.4"/><rect x="594.4" y="365.8" width="84.9" height="79.4"/><rect x="262.8" y="484.8" width="84.4" height="80.0"/><rect x="368.4" y="484.8" width="84.3" height="80.0"/><rect x="490.9" y="484.8" width="84.0" height="80.0"/><rect x="594.4" y="484.8" width="84.9" height="80.0"/></g><path d="M269.8 252.7V332.0M445.5 252.7V332.0M496.9 252.7V332.0M672.3 252.7V332.0M269.8 365.8V445.2M445.5 365.8V445.2M496.9 365.8V445.2M672.3 365.8V445.2M269.8 484.8V564.8M445.5 484.8V564.8M496.9 484.8V564.8M672.3 484.8V564.8" fill="none" stroke="#bdbdbd" stroke-width="0.5" stroke-dasharray="2.6 1"/><path d="M259.8 269.2H262.8M259.8 285.7H262.8M259.8 302.4H262.8M259.8 318.7H262.8M268.2 332.0v2.7M272.1 332.0v2.7M276.0 332.0v2.7M279.9 332.0v2.7M283.8 332.0v2.7M287.8 332.0v2.7M291.7 332.0v2.7M295.6 332.0v2.7M299.5 332.0v2.7M303.4 332.0v2.7M307.3 332.0v2.7M311.2 332.0v2.7M315.1 332.0v2.7M319.0 332.0v2.7M322.9 332.0v2.7M326.9 332.0v2.7M330.8 332.0v2.7M334.7 332.0v2.7M338.6 332.0v2.7M342.5 332.0v2.7M365.4 261.2H368.4M365.4 272.1H368.4M365.4 282.5H368.4M365.4 292.9H368.4M365.4 303.4H368.4M365.4 313.4H368.4M365.4 323.9H368.4M373.4 332.0v2.7M377.3 332.0v2.7M381.2 332.0v2.7M385.1 332.0v2.7M389.0 332.0v2.7M392.9 332.0v2.7M396.9 332.0v2.7M400.8 332.0v2.7M404.7 332.0v2.7M408.6 332.0v2.7M412.5 332.0v2.7M416.4 332.0v2.7M420.3 332.0v2.7M424.2 332.0v2.7M428.1 332.0v2.7M432.0 332.0v2.7M436.0 332.0v2.7M439.9 332.0v2.7M443.8 332.0v2.7M447.7 332.0v2.7M487.9 255.5H490.9M487.9 273.9H490.9M487.9 292.3H490.9M487.9 310.8H490.9M487.9 329.2H490.9M495.3 332.0v2.7M499.2 332.0v2.7M503.2 332.0v2.7M507.1 332.0v2.7M511.0 332.0v2.7M515.0 332.0v2.7M518.9 332.0v2.7M522.8 332.0v2.7M526.7 332.0v2.7M530.7 332.0v2.7M534.6 332.0v2.7M538.5 332.0v2.7M542.5 332.0v2.7M546.4 332.0v2.7M550.3 332.0v2.7M554.2 332.0v2.7M558.2 332.0v2.7M562.1 332.0v2.7M566.0 332.0v2.7M570.0 332.0v2.7M591.4 257.8H594.4M591.4 281.8H594.4M591.4 305.8H594.4M591.4 329.8H594.4M600.0 332.0v2.7M603.9 332.0v2.7M607.8 332.0v2.7M611.8 332.0v2.7M615.7 332.0v2.7M619.6 332.0v2.7M623.5 332.0v2.7M627.4 332.0v2.7M631.4 332.0v2.7M635.3 332.0v2.7M639.2 332.0v2.7M643.1 332.0v2.7M647.0 332.0v2.7M651.0 332.0v2.7M654.9 332.0v2.7M658.8 332.0v2.7M662.7 332.0v2.7M666.6 332.0v2.7M670.6 332.0v2.7M674.5 332.0v2.7M259.8 370H262.8M259.8 385.8H262.8M259.8 401.6H262.8M259.8 417.7H262.8M259.8 433.8H262.8M268.2 445.2v2.7M272.1 445.2v2.7M276.0 445.2v2.7M279.9 445.2v2.7M283.8 445.2v2.7M287.8 445.2v2.7M291.7 445.2v2.7M295.6 445.2v2.7M299.5 445.2v2.7M303.4 445.2v2.7M307.3 445.2v2.7M311.2 445.2v2.7M315.1 445.2v2.7M319.0 445.2v2.7M322.9 445.2v2.7M326.9 445.2v2.7M330.8 445.2v2.7M334.7 445.2v2.7M338.6 445.2v2.7M342.5 445.2v2.7M365.4 369.3H368.4M365.4 384.2H368.4M365.4 399H368.4M365.4 414H368.4M365.4 428.9H368.4M365.4 443.5H368.4M373.4 445.2v2.7M377.3 445.2v2.7M381.2 445.2v2.7M385.1 445.2v2.7M389.0 445.2v2.7M392.9 445.2v2.7M396.9 445.2v2.7M400.8 445.2v2.7M404.7 445.2v2.7M408.6 445.2v2.7M412.5 445.2v2.7M416.4 445.2v2.7M420.3 445.2v2.7M424.2 445.2v2.7M428.1 445.2v2.7M432.0 445.2v2.7M436.0 445.2v2.7M439.9 445.2v2.7M443.8 445.2v2.7M447.7 445.2v2.7M487.9 372.9H490.9M487.9 384.7H490.9M487.9 396.4H490.9M487.9 408.2H490.9M487.9 420H490.9M487.9 431.7H490.9M487.9 443.2H490.9M495.3 445.2v2.7M499.2 445.2v2.7M503.2 445.2v2.7M507.1 445.2v2.7M511.0 445.2v2.7M515.0 445.2v2.7M518.9 445.2v2.7M522.8 445.2v2.7M526.7 445.2v2.7M530.7 445.2v2.7M534.6 445.2v2.7M538.5 445.2v2.7M542.5 445.2v2.7M546.4 445.2v2.7M550.3 445.2v2.7M554.2 445.2v2.7M558.2 445.2v2.7M562.1 445.2v2.7M566.0 445.2v2.7M570.0 445.2v2.7M591.4 380H594.4M591.4 395.8H594.4M591.4 411.5H594.4M591.4 427.3H594.4M591.4 443H594.4M600.0 445.2v2.7M603.9 445.2v2.7M607.8 445.2v2.7M611.8 445.2v2.7M615.7 445.2v2.7M619.6 445.2v2.7M623.5 445.2v2.7M627.4 445.2v2.7M631.4 445.2v2.7M635.3 445.2v2.7M639.2 445.2v2.7M643.1 445.2v2.7M647.0 445.2v2.7M651.0 445.2v2.7M654.9 445.2v2.7M658.8 445.2v2.7M662.7 445.2v2.7M666.6 445.2v2.7M670.6 445.2v2.7M674.5 445.2v2.7M259.8 497.3H262.8M259.8 511.2H262.8M259.8 525H262.8M259.8 539H262.8M259.8 553H262.8M268.2 564.8v2.7M272.1 564.8v2.7M276.0 564.8v2.7M279.9 564.8v2.7M283.8 564.8v2.7M287.8 564.8v2.7M291.7 564.8v2.7M295.6 564.8v2.7M299.5 564.8v2.7M303.4 564.8v2.7M307.3 564.8v2.7M311.2 564.8v2.7M315.1 564.8v2.7M319.0 564.8v2.7M322.9 564.8v2.7M326.9 564.8v2.7M330.8 564.8v2.7M334.7 564.8v2.7M338.6 564.8v2.7M342.5 564.8v2.7M365.4 486.6H368.4M365.4 500.8H368.4M365.4 515.2H368.4M365.4 529.6H368.4M365.4 543.6H368.4M365.4 557.6H368.4M373.4 564.8v2.7M377.3 564.8v2.7M381.2 564.8v2.7M385.1 564.8v2.7M389.0 564.8v2.7M392.9 564.8v2.7M396.9 564.8v2.7M400.8 564.8v2.7M404.7 564.8v2.7M408.6 564.8v2.7M412.5 564.8v2.7M416.4 564.8v2.7M420.3 564.8v2.7M424.2 564.8v2.7M428.1 564.8v2.7M432.0 564.8v2.7M436.0 564.8v2.7M439.9 564.8v2.7M443.8 564.8v2.7M447.7 564.8v2.7M487.9 498.9H490.9M487.9 515H490.9M487.9 531.1H490.9M487.9 547.2H490.9M487.9 563.2H490.9M495.3 564.8v2.7M499.2 564.8v2.7M503.2 564.8v2.7M507.1 564.8v2.7M511.0 564.8v2.7M515.0 564.8v2.7M518.9 564.8v2.7M522.8 564.8v2.7M526.7 564.8v2.7M530.7 564.8v2.7M534.6 564.8v2.7M538.5 564.8v2.7M542.5 564.8v2.7M546.4 564.8v2.7M550.3 564.8v2.7M554.2 564.8v2.7M558.2 564.8v2.7M562.1 564.8v2.7M566.0 564.8v2.7M570.0 564.8v2.7M591.4 494.2H594.4M591.4 508.1H594.4M591.4 522H594.4M591.4 535.8H594.4M591.4 549.6H594.4M591.4 563.4H594.4M600.0 564.8v2.7M603.9 564.8v2.7M607.8 564.8v2.7M611.8 564.8v2.7M615.7 564.8v2.7M619.6 564.8v2.7M623.5 564.8v2.7M627.4 564.8v2.7M631.4 564.8v2.7M635.3 564.8v2.7M639.2 564.8v2.7M643.1 564.8v2.7M647.0 564.8v2.7M651.0 564.8v2.7M654.9 564.8v2.7M658.8 564.8v2.7M662.7 564.8v2.7M666.6 564.8v2.7M670.6 564.8v2.7M674.5 564.8v2.7" fill="none" stroke="#333" stroke-width="0.55"/><g font-size="7" fill="#000" stroke="#000" stroke-width="0.12" transform="scale(0.82 1)"><text x="315.7" y="271.8" text-anchor="end">1000</text><text x="315.7" y="305.0" text-anchor="end">600</text><text x="327.1" y="341.6" text-anchor="middle">3</text><text x="350.9" y="341.6" text-anchor="middle">8</text><text x="374.8" y="341.6" text-anchor="middle">13</text><text x="398.6" y="341.6" text-anchor="middle">18</text><text x="444.5" y="274.7" text-anchor="end">800</text><text x="444.5" y="295.5" text-anchor="end">600</text><text x="444.5" y="316.0" text-anchor="end">400</text><text x="455.4" y="341.6" text-anchor="middle">3</text><text x="479.2" y="341.6" text-anchor="middle">8</text><text x="503.0" y="341.6" text-anchor="middle">13</text><text x="526.9" y="341.6" text-anchor="middle">18</text><text x="593.9" y="276.5" text-anchor="end">1500</text><text x="593.9" y="313.4" text-anchor="end">500</text><text x="604.0" y="341.6" text-anchor="middle">3</text><text x="628.0" y="341.6" text-anchor="middle">8</text><text x="652.0" y="341.6" text-anchor="middle">13</text><text x="675.9" y="341.6" text-anchor="middle">18</text><text x="720.1" y="260.4" text-anchor="end">1500</text><text x="720.1" y="308.4" text-anchor="end">500</text><text x="731.7" y="341.6" text-anchor="middle">3</text><text x="755.6" y="341.6" text-anchor="middle">8</text><text x="779.5" y="341.6" text-anchor="middle">13</text><text x="803.4" y="341.6" text-anchor="middle">18</text><text x="315.7" y="372.6" text-anchor="end">800</text><text x="315.7" y="404.2" text-anchor="end">600</text><text x="315.7" y="436.4" text-anchor="end">400</text><text x="327.1" y="454.8" text-anchor="middle">3</text><text x="350.9" y="454.8" text-anchor="middle">8</text><text x="374.8" y="454.8" text-anchor="middle">13</text><text x="398.6" y="454.8" text-anchor="middle">18</text><text x="444.5" y="371.9" text-anchor="end">800</text><text x="444.5" y="401.6" text-anchor="end">600</text><text x="444.5" y="431.5" text-anchor="end">400</text><text x="455.4" y="454.8" text-anchor="middle">3</text><text x="479.2" y="454.8" text-anchor="middle">8</text><text x="503.0" y="454.8" text-anchor="middle">13</text><text x="526.9" y="454.8" text-anchor="middle">18</text><text x="593.9" y="387.3" text-anchor="end">2500</text><text x="593.9" y="410.8" text-anchor="end">1500</text><text x="593.9" y="434.3" text-anchor="end">500</text><text x="604.0" y="454.8" text-anchor="middle">3</text><text x="628.0" y="454.8" text-anchor="middle">8</text><text x="652.0" y="454.8" text-anchor="middle">13</text><text x="675.9" y="454.8" text-anchor="middle">18</text><text x="720.1" y="398.4" text-anchor="end">1500</text><text x="720.1" y="429.9" text-anchor="end">500</text><text x="731.7" y="454.8" text-anchor="middle">3</text><text x="755.6" y="454.8" text-anchor="middle">8</text><text x="779.5" y="454.8" text-anchor="middle">13</text><text x="803.4" y="454.8" text-anchor="middle">18</text><text x="315.7" y="499.9" text-anchor="end">800</text><text x="315.7" y="527.6" text-anchor="end">600</text><text x="315.7" y="555.6" text-anchor="end">400</text><text x="327.1" y="574.4" text-anchor="middle">3</text><text x="350.9" y="574.4" text-anchor="middle">8</text><text x="374.8" y="574.4" text-anchor="middle">13</text><text x="398.6" y="574.4" text-anchor="middle">18</text><text x="444.5" y="503.4" text-anchor="end">800</text><text x="444.5" y="532.2" text-anchor="end">600</text><text x="444.5" y="560.2" text-anchor="end">400</text><text x="455.4" y="574.4" text-anchor="middle">3</text><text x="479.2" y="574.4" text-anchor="middle">8</text><text x="503.0" y="574.4" text-anchor="middle">13</text><text x="526.9" y="574.4" text-anchor="middle">18</text><text x="593.9" y="517.6" text-anchor="end">300</text><text x="593.9" y="549.8" text-anchor="end">100</text><text x="604.0" y="574.4" text-anchor="middle">3</text><text x="628.0" y="574.4" text-anchor="middle">8</text><text x="652.0" y="574.4" text-anchor="middle">13</text><text x="675.9" y="574.4" text-anchor="middle">18</text><text x="720.1" y="496.8" text-anchor="end">1000</text><text x="720.1" y="524.6" text-anchor="end">600</text><text x="720.1" y="552.2" text-anchor="end">200</text><text x="731.7" y="574.4" text-anchor="middle">3</text><text x="755.6" y="574.4" text-anchor="middle">8</text><text x="779.5" y="574.4" text-anchor="middle">13</text><text x="803.4" y="574.4" text-anchor="middle">18</text></g><g fill="none" stroke="#82bae6" stroke-width="0.5"><circle cx="271.3" cy="268.5" r="1.15"/><circle cx="272.0" cy="262.9" r="1.15"/><circle cx="273.0" cy="265.6" r="1.15"/><circle cx="273.8" cy="257.8" r="1.15"/><circle cx="271.7" cy="262.8" r="1.15"/><circle cx="273.8" cy="258.0" r="1.15"/><circle cx="273.6" cy="263.1" r="1.15"/><circle cx="271.0" cy="262.7" r="1.15"/><circle cx="273.9" cy="257.1" r="1.15"/><circle cx="271.3" cy="263.5" r="1.15"/><circle cx="272.1" cy="259.1" r="1.15"/><circle cx="272.4" cy="263.7" r="1.15"/><circle cx="276.3" cy="266.2" r="1.15"/><circle cx="277.7" cy="258.8" r="1.15"/><circle cx="277.4" cy="267.0" r="1.15"/><circle cx="274.7" cy="261.5" r="1.15"/><circle cx="277.4" cy="269.2" r="1.15"/><circle cx="276.3" cy="260.2" r="1.15"/><circle cx="276.9" cy="263.4" r="1.15"/><circle cx="276.3" cy="268.2" r="1.15"/><circle cx="275.2" cy="268.2" r="1.15"/><circle cx="277.9" cy="264.5" r="1.15"/><circle cx="274.4" cy="262.9" r="1.15"/><circle cx="274.7" cy="258.4" r="1.15"/><circle cx="279.1" cy="262.9" r="1.15"/><circle cx="278.1" cy="255.2" r="1.15"/><circle cx="280.4" cy="267.4" r="1.15"/><circle cx="279.3" cy="263.6" r="1.15"/><circle cx="281.4" cy="266.2" r="1.15"/><circle cx="281.9" cy="261.6" r="1.15"/><circle cx="279.2" cy="266.3" r="1.15"/><circle cx="278.1" cy="264.3" r="1.15"/><circle cx="278.7" cy="258.0" r="1.15"/><circle cx="278.6" cy="264.7" r="1.15"/><circle cx="278.1" cy="264.1" r="1.15"/><circle cx="281.7" cy="259.8" r="1.15"/><circle cx="285.4" cy="259.5" r="1.15"/><circle cx="283.9" cy="265.0" r="1.15"/><circle cx="284.4" cy="258.6" r="1.15"/><circle cx="284.3" cy="259.8" r="1.15"/><circle cx="285.6" cy="258.6" r="1.15"/><circle cx="284.7" cy="262.1" r="1.15"/><circle cx="282.8" cy="259.3" r="1.15"/><circle cx="283.9" cy="271.5" r="1.15"/><circle cx="284.0" cy="265.9" r="1.15"/><circle cx="284.2" cy="262.6" r="1.15"/><circle cx="282.0" cy="258.6" r="1.15"/><circle cx="282.1" cy="259.0" r="1.15"/><circle cx="288.2" cy="257.4" r="1.15"/><circle cx="287.2" cy="263.6" r="1.15"/><circle cx="288.6" cy="262.5" r="1.15"/><circle cx="286.0" cy="261.8" r="1.15"/><circle cx="288.4" cy="265.1" r="1.15"/><circle cx="287.6" cy="261.9" r="1.15"/><circle cx="288.1" cy="261.1" r="1.15"/><circle cx="287.0" cy="265.5" r="1.15"/><circle cx="287.2" cy="260.1" r="1.15"/><circle cx="287.3" cy="260.9" r="1.15"/><circle cx="288.8" cy="267.0" r="1.15"/><circle cx="288.7" cy="263.3" r="1.15"/><circle cx="290.9" cy="263.9" r="1.15"/><circle cx="290.6" cy="269.0" r="1.15"/><circle cx="290.4" cy="257.8" r="1.15"/><circle cx="290.1" cy="264.9" r="1.15"/><circle cx="291.0" cy="259.4" r="1.15"/><circle cx="291.4" cy="268.5" r="1.15"/><circle cx="293.1" cy="264.3" r="1.15"/><circle cx="292.2" cy="265.5" r="1.15"/><circle cx="293.2" cy="260.4" r="1.15"/><circle cx="290.2" cy="263.5" r="1.15"/><circle cx="291.8" cy="265.1" r="1.15"/><circle cx="293.0" cy="268.7" r="1.15"/><circle cx="294.3" cy="261.9" r="1.15"/><circle cx="296.1" cy="269.3" r="1.15"/><circle cx="296.8" cy="262.0" r="1.15"/><circle cx="294.8" cy="264.5" r="1.15"/><circle cx="296.7" cy="262.6" r="1.15"/><circle cx="295.2" cy="266.2" r="1.15"/><circle cx="295.3" cy="256.4" r="1.15"/><circle cx="294.2" cy="267.2" r="1.15"/><circle cx="293.6" cy="269.8" r="1.15"/><circle cx="297.5" cy="260.5" r="1.15"/><circle cx="295.3" cy="270.6" r="1.15"/><circle cx="294.5" cy="260.5" r="1.15"/><circle cx="300.4" cy="265.9" r="1.15"/><circle cx="299.6" cy="258.8" r="1.15"/><circle cx="298.7" cy="261.9" r="1.15"/><circle cx="297.8" cy="265.4" r="1.15"/><circle cx="299.8" cy="261.8" r="1.15"/><circle cx="297.7" cy="269.5" r="1.15"/><circle cx="301.1" cy="260.5" r="1.15"/><circle cx="301.0" cy="255.8" r="1.15"/><circle cx="301.0" cy="262.7" r="1.15"/><circle cx="300.4" cy="263.0" r="1.15"/><circle cx="298.2" cy="261.7" r="1.15"/><circle cx="299.6" cy="268.2" r="1.15"/><circle cx="303.1" cy="267.9" r="1.15"/><circle cx="302.8" cy="261.7" r="1.15"/><circle cx="302.4" cy="266.1" r="1.15"/><circle cx="304.5" cy="260.4" r="1.15"/><circle cx="302.8" cy="264.9" r="1.15"/><circle cx="304.6" cy="267.6" r="1.15"/><circle cx="302.1" cy="265.5" r="1.15"/><circle cx="304.6" cy="255.8" r="1.15"/><circle cx="304.7" cy="268.4" r="1.15"/><circle cx="304.8" cy="263.7" r="1.15"/><circle cx="301.6" cy="263.1" r="1.15"/><circle cx="303.5" cy="266.2" r="1.15"/><circle cx="307.0" cy="257.7" r="1.15"/><circle cx="305.4" cy="264.7" r="1.15"/><circle cx="305.6" cy="265.0" r="1.15"/><circle cx="305.6" cy="265.0" r="1.15"/><circle cx="309.2" cy="264.6" r="1.15"/><circle cx="307.3" cy="262.5" r="1.15"/><circle cx="306.6" cy="262.4" r="1.15"/><circle cx="307.9" cy="266.7" r="1.15"/><circle cx="307.6" cy="262.3" r="1.15"/><circle cx="306.6" cy="265.5" r="1.15"/><circle cx="305.8" cy="258.5" r="1.15"/><circle cx="306.8" cy="261.8" r="1.15"/><circle cx="309.6" cy="265.4" r="1.15"/><circle cx="311.6" cy="267.0" r="1.15"/><circle cx="312.3" cy="259.4" r="1.15"/><circle cx="311.7" cy="268.3" r="1.15"/><circle cx="310.9" cy="261.1" r="1.15"/><circle cx="312.0" cy="266.9" r="1.15"/><circle cx="310.9" cy="262.6" r="1.15"/><circle cx="310.2" cy="260.3" r="1.15"/><circle cx="311.4" cy="263.5" r="1.15"/><circle cx="310.9" cy="262.7" r="1.15"/><circle cx="310.9" cy="269.9" r="1.15"/><circle cx="310.7" cy="258.3" r="1.15"/><circle cx="316.7" cy="264.9" r="1.15"/><circle cx="315.0" cy="261.6" r="1.15"/><circle cx="313.6" cy="266.2" r="1.15"/><circle cx="316.6" cy="259.4" r="1.15"/><circle cx="316.3" cy="261.4" r="1.15"/><circle cx="315.4" cy="259.2" r="1.15"/><circle cx="313.6" cy="263.9" r="1.15"/><circle cx="313.7" cy="264.0" r="1.15"/><circle cx="316.2" cy="265.7" r="1.15"/><circle cx="313.6" cy="264.6" r="1.15"/><circle cx="316.6" cy="264.5" r="1.15"/><circle cx="316.5" cy="264.9" r="1.15"/><circle cx="317.5" cy="267.3" r="1.15"/><circle cx="320.3" cy="260.1" r="1.15"/><circle cx="320.8" cy="258.9" r="1.15"/><circle cx="317.2" cy="261.4" r="1.15"/><circle cx="320.1" cy="258.9" r="1.15"/><circle cx="317.5" cy="264.0" r="1.15"/><circle cx="320.0" cy="265.6" r="1.15"/><circle cx="318.3" cy="263.9" r="1.15"/><circle cx="319.3" cy="265.7" r="1.15"/><circle cx="317.8" cy="262.1" r="1.15"/><circle cx="318.1" cy="260.1" r="1.15"/><circle cx="318.6" cy="260.5" r="1.15"/><circle cx="322.4" cy="262.1" r="1.15"/><circle cx="322.6" cy="266.6" r="1.15"/><circle cx="321.3" cy="255.3" r="1.15"/><circle cx="322.6" cy="264.6" r="1.15"/><circle cx="323.9" cy="267.5" r="1.15"/><circle cx="323.9" cy="269.2" r="1.15"/><circle cx="323.6" cy="260.7" r="1.15"/><circle cx="323.5" cy="264.2" r="1.15"/><circle cx="324.5" cy="265.6" r="1.15"/><circle cx="323.9" cy="265.9" r="1.15"/><circle cx="324.6" cy="260.9" r="1.15"/><circle cx="323.8" cy="264.3" r="1.15"/><circle cx="325.6" cy="264.6" r="1.15"/><circle cx="327.2" cy="267.2" r="1.15"/><circle cx="326.1" cy="265.5" r="1.15"/><circle cx="328.6" cy="270.2" r="1.15"/><circle cx="326.1" cy="263.9" r="1.15"/><circle cx="328.2" cy="261.4" r="1.15"/><circle cx="327.2" cy="264.6" r="1.15"/><circle cx="325.0" cy="267.3" r="1.15"/><circle cx="326.8" cy="263.3" r="1.15"/><circle cx="326.3" cy="266.3" r="1.15"/><circle cx="326.2" cy="265.2" r="1.15"/><circle cx="328.8" cy="263.0" r="1.15"/><circle cx="330.7" cy="261.9" r="1.15"/><circle cx="332.1" cy="262.8" r="1.15"/><circle cx="332.0" cy="261.4" r="1.15"/><circle cx="331.6" cy="263.7" r="1.15"/><circle cx="332.2" cy="260.5" r="1.15"/><circle cx="332.6" cy="268.5" r="1.15"/><circle cx="330.6" cy="265.5" r="1.15"/><circle cx="331.6" cy="267.7" r="1.15"/><circle cx="331.4" cy="271.8" r="1.15"/><circle cx="329.8" cy="263.4" r="1.15"/><circle cx="329.5" cy="265.0" r="1.15"/><circle cx="331.6" cy="267.4" r="1.15"/><circle cx="336.1" cy="267.5" r="1.15"/><circle cx="336.1" cy="263.8" r="1.15"/><circle cx="333.9" cy="260.4" r="1.15"/><circle cx="333.1" cy="268.0" r="1.15"/><circle cx="333.1" cy="266.8" r="1.15"/><circle cx="334.1" cy="262.9" r="1.15"/><circle cx="335.0" cy="265.2" r="1.15"/><circle cx="334.0" cy="265.0" r="1.15"/><circle cx="334.4" cy="263.0" r="1.15"/><circle cx="335.0" cy="265.6" r="1.15"/><circle cx="336.5" cy="262.0" r="1.15"/><circle cx="333.2" cy="268.2" r="1.15"/><circle cx="337.7" cy="264.7" r="1.15"/><circle cx="340.1" cy="264.1" r="1.15"/><circle cx="340.2" cy="272.4" r="1.15"/><circle cx="338.1" cy="270.4" r="1.15"/><circle cx="339.6" cy="265.7" r="1.15"/><circle cx="339.3" cy="262.7" r="1.15"/><circle cx="339.2" cy="266.6" r="1.15"/><circle cx="339.6" cy="263.0" r="1.15"/><circle cx="340.4" cy="263.6" r="1.15"/><circle cx="337.1" cy="261.8" r="1.15"/><circle cx="338.6" cy="262.3" r="1.15"/><circle cx="339.3" cy="270.1" r="1.15"/><circle cx="342.7" cy="267.9" r="1.15"/><circle cx="343.0" cy="270.4" r="1.15"/><circle cx="341.2" cy="269.8" r="1.15"/><circle cx="341.0" cy="262.6" r="1.15"/><circle cx="344.2" cy="267.8" r="1.15"/><circle cx="343.4" cy="268.3" r="1.15"/><circle cx="342.9" cy="261.1" r="1.15"/><circle cx="342.3" cy="264.1" r="1.15"/><circle cx="341.8" cy="266.4" r="1.15"/><circle cx="343.3" cy="267.0" r="1.15"/><circle cx="343.5" cy="260.3" r="1.15"/><circle cx="341.9" cy="264.3" r="1.15"/><circle cx="446.1" cy="264.5" r="1.15"/><circle cx="448.2" cy="258.5" r="1.15"/><circle cx="447.5" cy="269.8" r="1.15"/><circle cx="446.4" cy="270.0" r="1.15"/><circle cx="447.2" cy="262.2" r="1.15"/><circle cx="447.7" cy="260.5" r="1.15"/><circle cx="447.6" cy="260.6" r="1.15"/><circle cx="447.4" cy="268.2" r="1.15"/><circle cx="445.8" cy="260.2" r="1.15"/><circle cx="448.5" cy="260.6" r="1.15"/><circle cx="449.1" cy="261.4" r="1.15"/><circle cx="448.4" cy="259.9" r="1.15"/><circle cx="500.9" cy="273.1" r="1.15"/><circle cx="499.5" cy="293.4" r="1.15"/><circle cx="498.8" cy="273.7" r="1.15"/><circle cx="497.4" cy="289.1" r="1.15"/><circle cx="498.5" cy="285.7" r="1.15"/><circle cx="499.1" cy="279.0" r="1.15"/><circle cx="498.3" cy="277.7" r="1.15"/><circle cx="500.2" cy="297.0" r="1.15"/><circle cx="501.0" cy="280.0" r="1.15"/><circle cx="498.6" cy="287.2" r="1.15"/><circle cx="497.5" cy="287.1" r="1.15"/><circle cx="499.7" cy="298.9" r="1.15"/><circle cx="502.1" cy="287.9" r="1.15"/><circle cx="501.9" cy="290.0" r="1.15"/><circle cx="503.2" cy="285.4" r="1.15"/><circle cx="503.4" cy="305.8" r="1.15"/><circle cx="502.5" cy="283.6" r="1.15"/><circle cx="504.1" cy="287.2" r="1.15"/><circle cx="504.1" cy="276.1" r="1.15"/><circle cx="502.3" cy="297.6" r="1.15"/><circle cx="502.1" cy="286.9" r="1.15"/><circle cx="503.6" cy="292.3" r="1.15"/><circle cx="503.7" cy="285.5" r="1.15"/><circle cx="504.2" cy="281.7" r="1.15"/><circle cx="507.0" cy="277.8" r="1.15"/><circle cx="506.8" cy="293.6" r="1.15"/><circle cx="505.9" cy="275.0" r="1.15"/><circle cx="507.9" cy="294.3" r="1.15"/><circle cx="508.7" cy="292.7" r="1.15"/><circle cx="508.3" cy="304.7" r="1.15"/><circle cx="507.9" cy="291.0" r="1.15"/><circle cx="508.2" cy="285.2" r="1.15"/><circle cx="508.7" cy="295.1" r="1.15"/><circle cx="508.8" cy="294.7" r="1.15"/><circle cx="506.3" cy="298.6" r="1.15"/><circle cx="506.8" cy="269.6" r="1.15"/><circle cx="509.6" cy="289.5" r="1.15"/><circle cx="510.7" cy="303.1" r="1.15"/><circle cx="510.3" cy="265.2" r="1.15"/><circle cx="510.1" cy="293.3" r="1.15"/><circle cx="509.1" cy="293.5" r="1.15"/><circle cx="510.6" cy="283.1" r="1.15"/><circle cx="512.9" cy="284.9" r="1.15"/><circle cx="512.5" cy="289.6" r="1.15"/><circle cx="510.0" cy="289.6" r="1.15"/><circle cx="510.0" cy="307.7" r="1.15"/><circle cx="512.6" cy="281.6" r="1.15"/><circle cx="509.9" cy="292.7" r="1.15"/><circle cx="515.1" cy="276.5" r="1.15"/><circle cx="515.0" cy="281.9" r="1.15"/><circle cx="514.2" cy="297.0" r="1.15"/><circle cx="515.9" cy="266.6" r="1.15"/><circle cx="516.2" cy="292.0" r="1.15"/><circle cx="513.8" cy="288.5" r="1.15"/><circle cx="513.6" cy="305.7" r="1.15"/><circle cx="516.6" cy="281.4" r="1.15"/><circle cx="515.2" cy="292.9" r="1.15"/><circle cx="513.2" cy="292.1" r="1.15"/><circle cx="516.5" cy="284.7" r="1.15"/><circle cx="516.7" cy="293.2" r="1.15"/><circle cx="517.7" cy="292.5" r="1.15"/><circle cx="519.5" cy="281.4" r="1.15"/><circle cx="517.3" cy="292.9" r="1.15"/><circle cx="518.3" cy="279.5" r="1.15"/><circle cx="519.5" cy="279.2" r="1.15"/><circle cx="517.4" cy="281.2" r="1.15"/><circle cx="519.2" cy="304.2" r="1.15"/><circle cx="518.3" cy="288.2" r="1.15"/><circle cx="517.6" cy="283.0" r="1.15"/><circle cx="518.2" cy="289.4" r="1.15"/><circle cx="519.0" cy="278.1" r="1.15"/><circle cx="518.1" cy="290.0" r="1.15"/><circle cx="522.8" cy="286.9" r="1.15"/><circle cx="523.9" cy="275.0" r="1.15"/><circle cx="522.7" cy="289.2" r="1.15"/><circle cx="524.2" cy="289.0" r="1.15"/><circle cx="522.7" cy="276.6" r="1.15"/><circle cx="524.2" cy="292.7" r="1.15"/><circle cx="522.3" cy="279.2" r="1.15"/><circle cx="520.9" cy="292.0" r="1.15"/><circle cx="523.0" cy="274.0" r="1.15"/><circle cx="522.6" cy="286.5" r="1.15"/><circle cx="522.7" cy="283.7" r="1.15"/><circle cx="524.7" cy="279.1" r="1.15"/><circle cx="525.2" cy="288.8" r="1.15"/><circle cx="527.9" cy="280.4" r="1.15"/><circle cx="525.8" cy="295.3" r="1.15"/><circle cx="528.1" cy="290.4" r="1.15"/><circle cx="528.1" cy="303.8" r="1.15"/><circle cx="525.0" cy="266.3" r="1.15"/><circle cx="526.3" cy="297.3" r="1.15"/><circle cx="526.5" cy="294.7" r="1.15"/><circle cx="527.7" cy="294.8" r="1.15"/><circle cx="527.4" cy="255.2" r="1.15"/><circle cx="528.2" cy="281.1" r="1.15"/><circle cx="528.3" cy="283.6" r="1.15"/><circle cx="529.1" cy="300.0" r="1.15"/><circle cx="529.8" cy="293.8" r="1.15"/><circle cx="531.3" cy="291.0" r="1.15"/><circle cx="531.5" cy="285.8" r="1.15"/><circle cx="528.9" cy="262.3" r="1.15"/><circle cx="529.5" cy="283.1" r="1.15"/><circle cx="531.5" cy="284.1" r="1.15"/><circle cx="531.7" cy="271.4" r="1.15"/><circle cx="531.4" cy="290.8" r="1.15"/><circle cx="530.8" cy="285.2" r="1.15"/><circle cx="532.5" cy="287.2" r="1.15"/><circle cx="529.2" cy="297.0" r="1.15"/><circle cx="536.0" cy="273.5" r="1.15"/><circle cx="535.3" cy="288.3" r="1.15"/><circle cx="533.2" cy="282.1" r="1.15"/><circle cx="536.0" cy="267.5" r="1.15"/><circle cx="533.7" cy="285.0" r="1.15"/><circle cx="536.2" cy="290.1" r="1.15"/><circle cx="534.4" cy="275.5" r="1.15"/><circle cx="535.4" cy="291.7" r="1.15"/><circle cx="533.9" cy="276.0" r="1.15"/><circle cx="535.7" cy="298.3" r="1.15"/><circle cx="533.8" cy="303.9" r="1.15"/><circle cx="535.5" cy="294.1" r="1.15"/><circle cx="538.9" cy="264.4" r="1.15"/><circle cx="538.3" cy="297.7" r="1.15"/><circle cx="537.4" cy="291.3" r="1.15"/><circle cx="538.9" cy="289.4" r="1.15"/><circle cx="538.0" cy="297.2" r="1.15"/><circle cx="538.4" cy="279.7" r="1.15"/><circle cx="539.2" cy="273.6" r="1.15"/><circle cx="538.5" cy="276.3" r="1.15"/><circle cx="538.6" cy="266.3" r="1.15"/><circle cx="537.3" cy="285.2" r="1.15"/><circle cx="539.7" cy="278.7" r="1.15"/><circle cx="536.9" cy="301.8" r="1.15"/><circle cx="542.4" cy="269.9" r="1.15"/><circle cx="541.3" cy="289.2" r="1.15"/><circle cx="541.5" cy="292.2" r="1.15"/><circle cx="542.8" cy="293.0" r="1.15"/><circle cx="540.5" cy="286.7" r="1.15"/><circle cx="544.3" cy="289.7" r="1.15"/><circle cx="542.3" cy="276.8" r="1.15"/><circle cx="543.1" cy="280.8" r="1.15"/><circle cx="543.7" cy="283.7" r="1.15"/><circle cx="542.2" cy="283.5" r="1.15"/><circle cx="542.4" cy="300.1" r="1.15"/><circle cx="541.7" cy="288.6" r="1.15"/><circle cx="545.6" cy="274.9" r="1.15"/><circle cx="546.4" cy="274.8" r="1.15"/><circle cx="547.8" cy="275.1" r="1.15"/><circle cx="544.7" cy="282.7" r="1.15"/><circle cx="546.6" cy="276.1" r="1.15"/><circle cx="545.8" cy="292.7" r="1.15"/><circle cx="544.5" cy="289.2" r="1.15"/><circle cx="544.8" cy="285.1" r="1.15"/><circle cx="547.8" cy="277.6" r="1.15"/><circle cx="547.2" cy="280.4" r="1.15"/><circle cx="546.9" cy="298.4" r="1.15"/><circle cx="545.3" cy="289.8" r="1.15"/><circle cx="552.3" cy="288.5" r="1.15"/><circle cx="549.3" cy="289.6" r="1.15"/><circle cx="551.7" cy="288.8" r="1.15"/><circle cx="548.9" cy="272.2" r="1.15"/><circle cx="550.0" cy="282.6" r="1.15"/><circle cx="552.0" cy="280.4" r="1.15"/><circle cx="551.7" cy="296.9" r="1.15"/><circle cx="550.8" cy="277.4" r="1.15"/><circle cx="552.2" cy="282.7" r="1.15"/><circle cx="548.8" cy="291.6" r="1.15"/><circle cx="549.1" cy="284.8" r="1.15"/><circle cx="551.3" cy="279.5" r="1.15"/><circle cx="553.8" cy="294.9" r="1.15"/><circle cx="555.0" cy="272.2" r="1.15"/><circle cx="555.6" cy="290.5" r="1.15"/><circle cx="553.7" cy="285.3" r="1.15"/><circle cx="554.0" cy="274.0" r="1.15"/><circle cx="555.2" cy="266.2" r="1.15"/><circle cx="555.9" cy="280.4" r="1.15"/><circle cx="554.3" cy="274.9" r="1.15"/><circle cx="555.2" cy="287.0" r="1.15"/><circle cx="553.7" cy="275.0" r="1.15"/><circle cx="554.7" cy="286.0" r="1.15"/><circle cx="552.3" cy="302.8" r="1.15"/><circle cx="558.8" cy="276.9" r="1.15"/><circle cx="558.5" cy="283.7" r="1.15"/><circle cx="558.1" cy="302.3" r="1.15"/><circle cx="558.5" cy="278.5" r="1.15"/><circle cx="559.6" cy="287.4" r="1.15"/><circle cx="559.5" cy="279.3" r="1.15"/><circle cx="559.5" cy="299.1" r="1.15"/><circle cx="557.8" cy="282.2" r="1.15"/><circle cx="557.0" cy="279.4" r="1.15"/><circle cx="559.2" cy="277.8" r="1.15"/><circle cx="558.5" cy="287.2" r="1.15"/><circle cx="557.4" cy="275.2" r="1.15"/><circle cx="563.7" cy="278.1" r="1.15"/><circle cx="562.3" cy="275.0" r="1.15"/><circle cx="561.9" cy="275.8" r="1.15"/><circle cx="561.3" cy="274.0" r="1.15"/><circle cx="564.0" cy="295.0" r="1.15"/><circle cx="561.2" cy="272.3" r="1.15"/><circle cx="560.9" cy="280.8" r="1.15"/><circle cx="562.7" cy="265.4" r="1.15"/><circle cx="561.0" cy="280.8" r="1.15"/><circle cx="561.6" cy="271.6" r="1.15"/><circle cx="562.5" cy="269.9" r="1.15"/><circle cx="563.1" cy="287.3" r="1.15"/><circle cx="567.9" cy="292.2" r="1.15"/><circle cx="567.8" cy="290.7" r="1.15"/><circle cx="566.7" cy="266.4" r="1.15"/><circle cx="564.2" cy="273.8" r="1.15"/><circle cx="567.2" cy="273.7" r="1.15"/><circle cx="565.3" cy="273.9" r="1.15"/><circle cx="566.5" cy="290.9" r="1.15"/><circle cx="565.1" cy="290.9" r="1.15"/><circle cx="567.7" cy="286.3" r="1.15"/><circle cx="567.0" cy="272.6" r="1.15"/><circle cx="565.6" cy="277.1" r="1.15"/><circle cx="567.4" cy="281.9" r="1.15"/><circle cx="571.0" cy="282.7" r="1.15"/><circle cx="571.2" cy="278.5" r="1.15"/><circle cx="568.1" cy="272.4" r="1.15"/><circle cx="568.2" cy="278.1" r="1.15"/><circle cx="569.7" cy="292.6" r="1.15"/><circle cx="569.2" cy="273.8" r="1.15"/><circle cx="571.2" cy="270.0" r="1.15"/><circle cx="569.6" cy="298.5" r="1.15"/><circle cx="568.3" cy="286.1" r="1.15"/><circle cx="569.0" cy="281.9" r="1.15"/><circle cx="571.0" cy="291.4" r="1.15"/><circle cx="571.4" cy="290.4" r="1.15"/><circle cx="676.2" cy="278.5" r="1.15"/><circle cx="673.9" cy="279.3" r="1.15"/><circle cx="673.0" cy="283.5" r="1.15"/><circle cx="675.6" cy="255.2" r="1.15"/><circle cx="675.0" cy="280.6" r="1.15"/><circle cx="675.2" cy="266.2" r="1.15"/><circle cx="675.1" cy="280.5" r="1.15"/><circle cx="673.7" cy="255.2" r="1.15"/><circle cx="673.3" cy="255.2" r="1.15"/><circle cx="673.9" cy="264.2" r="1.15"/><circle cx="675.9" cy="276.9" r="1.15"/><circle cx="674.6" cy="255.6" r="1.15"/><circle cx="270.5" cy="383.5" r="1.15"/><circle cx="272.2" cy="377.9" r="1.15"/><circle cx="272.5" cy="380.4" r="1.15"/><circle cx="273.2" cy="377.6" r="1.15"/><circle cx="270.2" cy="383.3" r="1.15"/><circle cx="272.6" cy="378.2" r="1.15"/><circle cx="271.3" cy="381.2" r="1.15"/><circle cx="272.5" cy="377.1" r="1.15"/><circle cx="271.4" cy="384.8" r="1.15"/><circle cx="270.9" cy="374.9" r="1.15"/><circle cx="273.1" cy="384.1" r="1.15"/><circle cx="270.9" cy="380.1" r="1.15"/><circle cx="277.7" cy="383.2" r="1.15"/><circle cx="277.1" cy="380.6" r="1.15"/><circle cx="277.7" cy="380.5" r="1.15"/><circle cx="275.2" cy="388.4" r="1.15"/><circle cx="277.1" cy="376.3" r="1.15"/><circle cx="274.6" cy="380.8" r="1.15"/><circle cx="276.6" cy="380.0" r="1.15"/><circle cx="274.2" cy="377.8" r="1.15"/><circle cx="274.4" cy="380.3" r="1.15"/><circle cx="277.0" cy="395.2" r="1.15"/><circle cx="277.6" cy="381.1" r="1.15"/><circle cx="275.6" cy="378.8" r="1.15"/><circle cx="281.7" cy="388.7" r="1.15"/><circle cx="281.2" cy="370.6" r="1.15"/><circle cx="280.8" cy="381.8" r="1.15"/><circle cx="279.7" cy="371.7" r="1.15"/><circle cx="278.1" cy="380.8" r="1.15"/><circle cx="279.0" cy="381.6" r="1.15"/><circle cx="280.3" cy="380.5" r="1.15"/><circle cx="278.3" cy="384.1" r="1.15"/><circle cx="279.4" cy="375.4" r="1.15"/><circle cx="281.7" cy="380.4" r="1.15"/><circle cx="278.3" cy="381.0" r="1.15"/><circle cx="281.6" cy="382.7" r="1.15"/><circle cx="284.4" cy="376.7" r="1.15"/><circle cx="281.9" cy="374.5" r="1.15"/><circle cx="285.4" cy="378.0" r="1.15"/><circle cx="283.5" cy="386.1" r="1.15"/><circle cx="284.8" cy="379.8" r="1.15"/><circle cx="282.9" cy="384.1" r="1.15"/><circle cx="284.7" cy="378.6" r="1.15"/><circle cx="283.3" cy="381.6" r="1.15"/><circle cx="284.1" cy="377.0" r="1.15"/><circle cx="285.2" cy="385.0" r="1.15"/><circle cx="284.4" cy="382.1" r="1.15"/><circle cx="285.3" cy="377.5" r="1.15"/><circle cx="289.5" cy="380.0" r="1.15"/><circle cx="286.1" cy="380.7" r="1.15"/><circle cx="288.8" cy="385.4" r="1.15"/><circle cx="287.8" cy="375.9" r="1.15"/><circle cx="287.9" cy="385.1" r="1.15"/><circle cx="289.7" cy="384.6" r="1.15"/><circle cx="286.6" cy="374.6" r="1.15"/><circle cx="288.3" cy="375.6" r="1.15"/><circle cx="287.2" cy="381.4" r="1.15"/><circle cx="289.4" cy="387.7" r="1.15"/><circle cx="289.2" cy="375.2" r="1.15"/><circle cx="289.0" cy="384.9" r="1.15"/><circle cx="291.2" cy="380.9" r="1.15"/><circle cx="290.5" cy="376.6" r="1.15"/><circle cx="289.7" cy="379.7" r="1.15"/><circle cx="289.9" cy="373.8" r="1.15"/><circle cx="289.9" cy="379.6" r="1.15"/><circle cx="292.6" cy="383.4" r="1.15"/><circle cx="290.4" cy="376.2" r="1.15"/><circle cx="291.1" cy="378.1" r="1.15"/><circle cx="293.0" cy="376.1" r="1.15"/><circle cx="292.3" cy="382.7" r="1.15"/><circle cx="291.3" cy="384.8" r="1.15"/><circle cx="292.6" cy="390.3" r="1.15"/><circle cx="295.7" cy="374.9" r="1.15"/><circle cx="294.8" cy="380.8" r="1.15"/><circle cx="293.9" cy="372.0" r="1.15"/><circle cx="294.0" cy="378.2" r="1.15"/><circle cx="297.5" cy="370.1" r="1.15"/><circle cx="296.6" cy="391.4" r="1.15"/><circle cx="294.7" cy="382.7" r="1.15"/><circle cx="297.4" cy="389.3" r="1.15"/><circle cx="296.8" cy="376.2" r="1.15"/><circle cx="296.7" cy="378.0" r="1.15"/><circle cx="296.8" cy="382.4" r="1.15"/><circle cx="296.8" cy="377.7" r="1.15"/><circle cx="301.3" cy="380.1" r="1.15"/><circle cx="298.3" cy="380.4" r="1.15"/><circle cx="300.1" cy="372.3" r="1.15"/><circle cx="300.0" cy="384.9" r="1.15"/><circle cx="300.3" cy="383.6" r="1.15"/><circle cx="300.3" cy="384.8" r="1.15"/><circle cx="301.1" cy="383.3" r="1.15"/><circle cx="299.5" cy="378.7" r="1.15"/><circle cx="301.4" cy="382.0" r="1.15"/><circle cx="298.2" cy="381.5" r="1.15"/><circle cx="300.4" cy="377.6" r="1.15"/><circle cx="300.8" cy="386.5" r="1.15"/><circle cx="304.6" cy="386.8" r="1.15"/><circle cx="304.6" cy="382.1" r="1.15"/><circle cx="304.2" cy="385.6" r="1.15"/><circle cx="303.8" cy="374.7" r="1.15"/><circle cx="304.8" cy="378.6" r="1.15"/><circle cx="302.5" cy="380.0" r="1.15"/><circle cx="305.1" cy="378.1" r="1.15"/><circle cx="304.8" cy="384.6" r="1.15"/><circle cx="304.1" cy="381.7" r="1.15"/><circle cx="303.4" cy="376.0" r="1.15"/><circle cx="301.7" cy="381.3" r="1.15"/><circle cx="303.5" cy="382.9" r="1.15"/><circle cx="307.4" cy="385.8" r="1.15"/><circle cx="305.7" cy="383.1" r="1.15"/><circle cx="306.9" cy="385.2" r="1.15"/><circle cx="305.9" cy="381.3" r="1.15"/><circle cx="309.0" cy="375.4" r="1.15"/><circle cx="307.1" cy="386.5" r="1.15"/><circle cx="306.6" cy="382.3" r="1.15"/><circle cx="307.4" cy="377.6" r="1.15"/><circle cx="307.8" cy="387.0" r="1.15"/><circle cx="305.5" cy="380.2" r="1.15"/><circle cx="307.1" cy="388.3" r="1.15"/><circle cx="306.8" cy="378.0" r="1.15"/><circle cx="309.8" cy="379.5" r="1.15"/><circle cx="310.0" cy="387.4" r="1.15"/><circle cx="312.7" cy="379.8" r="1.15"/><circle cx="312.0" cy="386.8" r="1.15"/><circle cx="310.2" cy="374.5" r="1.15"/><circle cx="310.3" cy="379.7" r="1.15"/><circle cx="311.3" cy="373.0" r="1.15"/><circle cx="310.4" cy="372.8" r="1.15"/><circle cx="309.9" cy="374.7" r="1.15"/><circle cx="311.2" cy="380.1" r="1.15"/><circle cx="312.8" cy="381.9" r="1.15"/><circle cx="311.1" cy="385.2" r="1.15"/><circle cx="313.9" cy="375.9" r="1.15"/><circle cx="314.6" cy="381.6" r="1.15"/><circle cx="316.2" cy="391.3" r="1.15"/><circle cx="314.0" cy="379.4" r="1.15"/><circle cx="314.6" cy="382.0" r="1.15"/><circle cx="313.5" cy="379.8" r="1.15"/><circle cx="313.4" cy="385.1" r="1.15"/><circle cx="314.9" cy="379.1" r="1.15"/><circle cx="313.5" cy="390.2" r="1.15"/><circle cx="315.9" cy="371.5" r="1.15"/><circle cx="316.7" cy="377.0" r="1.15"/><circle cx="313.9" cy="378.8" r="1.15"/><circle cx="318.3" cy="382.6" r="1.15"/><circle cx="317.3" cy="383.5" r="1.15"/><circle cx="317.2" cy="386.7" r="1.15"/><circle cx="320.3" cy="375.3" r="1.15"/><circle cx="318.5" cy="375.2" r="1.15"/><circle cx="320.2" cy="381.8" r="1.15"/><circle cx="318.3" cy="374.9" r="1.15"/><circle cx="320.4" cy="379.8" r="1.15"/><circle cx="318.4" cy="384.5" r="1.15"/><circle cx="320.5" cy="380.3" r="1.15"/><circle cx="317.8" cy="378.7" r="1.15"/><circle cx="318.1" cy="378.6" r="1.15"/><circle cx="323.4" cy="383.8" r="1.15"/><circle cx="323.3" cy="382.9" r="1.15"/><circle cx="322.5" cy="380.5" r="1.15"/><circle cx="322.1" cy="372.0" r="1.15"/><circle cx="324.0" cy="380.3" r="1.15"/><circle cx="323.3" cy="374.5" r="1.15"/><circle cx="323.2" cy="379.7" r="1.15"/><circle cx="322.0" cy="373.7" r="1.15"/><circle cx="323.5" cy="379.0" r="1.15"/><circle cx="324.5" cy="375.6" r="1.15"/><circle cx="322.2" cy="375.0" r="1.15"/><circle cx="323.3" cy="378.4" r="1.15"/><circle cx="325.6" cy="379.0" r="1.15"/><circle cx="327.0" cy="378.2" r="1.15"/><circle cx="326.7" cy="377.3" r="1.15"/><circle cx="328.7" cy="372.3" r="1.15"/><circle cx="325.8" cy="384.1" r="1.15"/><circle cx="326.9" cy="377.5" r="1.15"/><circle cx="325.1" cy="382.0" r="1.15"/><circle cx="326.0" cy="377.7" r="1.15"/><circle cx="326.1" cy="380.4" r="1.15"/><circle cx="326.0" cy="383.5" r="1.15"/><circle cx="327.0" cy="375.6" r="1.15"/><circle cx="328.5" cy="385.5" r="1.15"/><circle cx="332.4" cy="375.5" r="1.15"/><circle cx="331.7" cy="384.5" r="1.15"/><circle cx="331.6" cy="377.8" r="1.15"/><circle cx="331.8" cy="381.6" r="1.15"/><circle cx="331.4" cy="376.3" r="1.15"/><circle cx="329.1" cy="385.0" r="1.15"/><circle cx="331.9" cy="388.9" r="1.15"/><circle cx="329.3" cy="373.3" r="1.15"/><circle cx="331.5" cy="380.4" r="1.15"/><circle cx="331.2" cy="377.7" r="1.15"/><circle cx="329.5" cy="380.2" r="1.15"/><circle cx="329.9" cy="381.0" r="1.15"/><circle cx="336.0" cy="373.5" r="1.15"/><circle cx="336.5" cy="376.0" r="1.15"/><circle cx="333.3" cy="385.0" r="1.15"/><circle cx="335.3" cy="372.6" r="1.15"/><circle cx="334.0" cy="381.9" r="1.15"/><circle cx="334.2" cy="383.9" r="1.15"/><circle cx="333.7" cy="377.2" r="1.15"/><circle cx="333.7" cy="374.6" r="1.15"/><circle cx="333.4" cy="373.3" r="1.15"/><circle cx="335.3" cy="379.9" r="1.15"/><circle cx="335.2" cy="385.5" r="1.15"/><circle cx="334.4" cy="375.6" r="1.15"/><circle cx="339.5" cy="377.9" r="1.15"/><circle cx="337.3" cy="376.5" r="1.15"/><circle cx="338.1" cy="378.4" r="1.15"/><circle cx="337.8" cy="373.0" r="1.15"/><circle cx="338.7" cy="384.9" r="1.15"/><circle cx="338.4" cy="382.4" r="1.15"/><circle cx="339.6" cy="380.7" r="1.15"/><circle cx="340.4" cy="378.8" r="1.15"/><circle cx="337.3" cy="391.7" r="1.15"/><circle cx="337.5" cy="377.1" r="1.15"/><circle cx="337.8" cy="385.5" r="1.15"/><circle cx="339.6" cy="387.1" r="1.15"/><circle cx="344.3" cy="381.1" r="1.15"/><circle cx="343.6" cy="376.0" r="1.15"/><circle cx="341.9" cy="377.6" r="1.15"/><circle cx="343.3" cy="383.6" r="1.15"/><circle cx="341.8" cy="374.7" r="1.15"/><circle cx="343.6" cy="377.7" r="1.15"/><circle cx="342.4" cy="375.1" r="1.15"/><circle cx="342.3" cy="382.3" r="1.15"/><circle cx="343.4" cy="381.8" r="1.15"/><circle cx="340.7" cy="381.4" r="1.15"/><circle cx="342.1" cy="383.1" r="1.15"/><circle cx="343.0" cy="375.1" r="1.15"/><circle cx="448.7" cy="378.1" r="1.15"/><circle cx="449.1" cy="373.3" r="1.15"/><circle cx="448.1" cy="375.2" r="1.15"/><circle cx="446.1" cy="379.0" r="1.15"/><circle cx="446.6" cy="375.8" r="1.15"/><circle cx="448.2" cy="381.1" r="1.15"/><circle cx="449.5" cy="371.4" r="1.15"/><circle cx="445.8" cy="374.9" r="1.15"/><circle cx="448.5" cy="369.9" r="1.15"/><circle cx="447.1" cy="375.8" r="1.15"/><circle cx="448.3" cy="369.7" r="1.15"/><circle cx="447.4" cy="376.9" r="1.15"/><circle cx="498.1" cy="413.9" r="1.15"/><circle cx="500.9" cy="409.3" r="1.15"/><circle cx="498.5" cy="407.4" r="1.15"/><circle cx="498.8" cy="404.6" r="1.15"/><circle cx="500.1" cy="406.7" r="1.15"/><circle cx="498.4" cy="397.8" r="1.15"/><circle cx="500.4" cy="404.9" r="1.15"/><circle cx="499.1" cy="404.1" r="1.15"/><circle cx="500.3" cy="407.6" r="1.15"/><circle cx="497.8" cy="398.8" r="1.15"/><circle cx="498.9" cy="401.9" r="1.15"/><circle cx="498.8" cy="403.5" r="1.15"/><circle cx="503.8" cy="407.8" r="1.15"/><circle cx="503.5" cy="402.4" r="1.15"/><circle cx="504.2" cy="390.3" r="1.15"/><circle cx="503.9" cy="403.7" r="1.15"/><circle cx="502.0" cy="404.6" r="1.15"/><circle cx="503.1" cy="418.1" r="1.15"/><circle cx="504.5" cy="399.4" r="1.15"/><circle cx="504.5" cy="399.1" r="1.15"/><circle cx="504.0" cy="399.8" r="1.15"/><circle cx="504.0" cy="397.4" r="1.15"/><circle cx="504.4" cy="400.4" r="1.15"/><circle cx="502.1" cy="403.5" r="1.15"/><circle cx="505.5" cy="394.2" r="1.15"/><circle cx="508.9" cy="401.1" r="1.15"/><circle cx="507.8" cy="389.7" r="1.15"/><circle cx="506.4" cy="411.2" r="1.15"/><circle cx="506.6" cy="399.3" r="1.15"/><circle cx="505.2" cy="400.9" r="1.15"/><circle cx="506.1" cy="404.2" r="1.15"/><circle cx="507.9" cy="397.6" r="1.15"/><circle cx="508.4" cy="398.7" r="1.15"/><circle cx="509.0" cy="401.5" r="1.15"/><circle cx="507.3" cy="386.9" r="1.15"/><circle cx="505.4" cy="397.6" r="1.15"/><circle cx="512.2" cy="395.2" r="1.15"/><circle cx="509.1" cy="389.7" r="1.15"/><circle cx="510.8" cy="398.0" r="1.15"/><circle cx="512.0" cy="404.1" r="1.15"/><circle cx="509.1" cy="400.2" r="1.15"/><circle cx="512.3" cy="395.8" r="1.15"/><circle cx="511.8" cy="402.8" r="1.15"/><circle cx="511.2" cy="398.3" r="1.15"/><circle cx="509.1" cy="411.3" r="1.15"/><circle cx="512.8" cy="400.9" r="1.15"/><circle cx="512.0" cy="386.4" r="1.15"/><circle cx="511.0" cy="401.7" r="1.15"/><circle cx="514.9" cy="397.4" r="1.15"/><circle cx="516.7" cy="407.7" r="1.15"/><circle cx="516.9" cy="404.2" r="1.15"/><circle cx="516.6" cy="394.7" r="1.15"/><circle cx="514.2" cy="403.0" r="1.15"/><circle cx="514.8" cy="395.8" r="1.15"/><circle cx="515.1" cy="406.6" r="1.15"/><circle cx="514.2" cy="390.2" r="1.15"/><circle cx="513.3" cy="399.0" r="1.15"/><circle cx="516.5" cy="401.6" r="1.15"/><circle cx="516.9" cy="394.4" r="1.15"/><circle cx="514.9" cy="398.8" r="1.15"/><circle cx="518.3" cy="404.8" r="1.15"/><circle cx="517.7" cy="397.0" r="1.15"/><circle cx="517.4" cy="408.8" r="1.15"/><circle cx="519.7" cy="405.5" r="1.15"/><circle cx="519.7" cy="403.1" r="1.15"/><circle cx="517.8" cy="396.1" r="1.15"/><circle cx="519.3" cy="409.3" r="1.15"/><circle cx="519.3" cy="371.8" r="1.15"/><circle cx="519.9" cy="408.3" r="1.15"/><circle cx="520.8" cy="396.4" r="1.15"/><circle cx="517.3" cy="391.0" r="1.15"/><circle cx="518.8" cy="400.9" r="1.15"/><circle cx="522.7" cy="402.9" r="1.15"/><circle cx="521.2" cy="399.4" r="1.15"/><circle cx="521.9" cy="402.9" r="1.15"/><circle cx="522.8" cy="395.7" r="1.15"/><circle cx="522.7" cy="393.5" r="1.15"/><circle cx="524.5" cy="400.6" r="1.15"/><circle cx="521.4" cy="403.9" r="1.15"/><circle cx="523.2" cy="411.2" r="1.15"/><circle cx="521.7" cy="409.5" r="1.15"/><circle cx="521.2" cy="393.9" r="1.15"/><circle cx="522.5" cy="390.8" r="1.15"/><circle cx="521.8" cy="401.8" r="1.15"/><circle cx="525.4" cy="392.7" r="1.15"/><circle cx="525.3" cy="404.1" r="1.15"/><circle cx="525.1" cy="406.5" r="1.15"/><circle cx="524.8" cy="393.9" r="1.15"/><circle cx="524.9" cy="401.1" r="1.15"/><circle cx="525.6" cy="392.9" r="1.15"/><circle cx="525.8" cy="386.7" r="1.15"/><circle cx="525.4" cy="391.9" r="1.15"/><circle cx="526.4" cy="406.5" r="1.15"/><circle cx="527.1" cy="390.7" r="1.15"/><circle cx="526.7" cy="394.5" r="1.15"/><circle cx="526.0" cy="415.2" r="1.15"/><circle cx="529.6" cy="406.0" r="1.15"/><circle cx="530.1" cy="405.2" r="1.15"/><circle cx="529.8" cy="396.5" r="1.15"/><circle cx="530.7" cy="381.4" r="1.15"/><circle cx="529.5" cy="411.5" r="1.15"/><circle cx="529.0" cy="393.8" r="1.15"/><circle cx="528.7" cy="401.1" r="1.15"/><circle cx="530.3" cy="407.3" r="1.15"/><circle cx="530.8" cy="396.9" r="1.15"/><circle cx="529.0" cy="404.0" r="1.15"/><circle cx="530.8" cy="397.0" r="1.15"/><circle cx="532.6" cy="410.2" r="1.15"/><circle cx="533.6" cy="396.3" r="1.15"/><circle cx="533.9" cy="401.2" r="1.15"/><circle cx="533.8" cy="404.7" r="1.15"/><circle cx="533.9" cy="412.2" r="1.15"/><circle cx="536.4" cy="396.7" r="1.15"/><circle cx="533.0" cy="406.0" r="1.15"/><circle cx="536.6" cy="388.6" r="1.15"/><circle cx="533.7" cy="389.4" r="1.15"/><circle cx="536.0" cy="408.3" r="1.15"/><circle cx="535.7" cy="405.6" r="1.15"/><circle cx="535.2" cy="402.0" r="1.15"/><circle cx="534.0" cy="400.5" r="1.15"/><circle cx="537.4" cy="406.8" r="1.15"/><circle cx="538.0" cy="399.9" r="1.15"/><circle cx="537.2" cy="404.0" r="1.15"/><circle cx="538.2" cy="398.3" r="1.15"/><circle cx="537.5" cy="402.0" r="1.15"/><circle cx="539.2" cy="395.9" r="1.15"/><circle cx="540.5" cy="401.4" r="1.15"/><circle cx="537.0" cy="396.3" r="1.15"/><circle cx="540.2" cy="401.3" r="1.15"/><circle cx="537.9" cy="401.5" r="1.15"/><circle cx="539.8" cy="407.4" r="1.15"/><circle cx="540.1" cy="397.3" r="1.15"/><circle cx="541.9" cy="405.7" r="1.15"/><circle cx="542.0" cy="396.4" r="1.15"/><circle cx="540.6" cy="411.6" r="1.15"/><circle cx="543.4" cy="409.0" r="1.15"/><circle cx="543.3" cy="396.3" r="1.15"/><circle cx="543.0" cy="399.3" r="1.15"/><circle cx="544.2" cy="407.6" r="1.15"/><circle cx="543.4" cy="403.0" r="1.15"/><circle cx="540.9" cy="398.1" r="1.15"/><circle cx="541.0" cy="393.4" r="1.15"/><circle cx="540.6" cy="396.1" r="1.15"/><circle cx="543.8" cy="405.9" r="1.15"/><circle cx="547.3" cy="401.6" r="1.15"/><circle cx="547.4" cy="403.7" r="1.15"/><circle cx="546.2" cy="379.2" r="1.15"/><circle cx="546.2" cy="393.5" r="1.15"/><circle cx="548.3" cy="394.5" r="1.15"/><circle cx="547.7" cy="395.7" r="1.15"/><circle cx="546.2" cy="417.3" r="1.15"/><circle cx="546.3" cy="393.6" r="1.15"/><circle cx="547.9" cy="402.0" r="1.15"/><circle cx="547.8" cy="408.1" r="1.15"/><circle cx="545.9" cy="405.6" r="1.15"/><circle cx="544.9" cy="391.0" r="1.15"/><circle cx="551.0" cy="385.6" r="1.15"/><circle cx="548.5" cy="399.6" r="1.15"/><circle cx="549.3" cy="403.0" r="1.15"/><circle cx="548.8" cy="388.1" r="1.15"/><circle cx="549.1" cy="403.0" r="1.15"/><circle cx="551.2" cy="398.8" r="1.15"/><circle cx="550.6" cy="400.9" r="1.15"/><circle cx="548.7" cy="400.8" r="1.15"/><circle cx="551.0" cy="403.8" r="1.15"/><circle cx="551.1" cy="397.0" r="1.15"/><circle cx="549.6" cy="390.9" r="1.15"/><circle cx="551.4" cy="408.3" r="1.15"/><circle cx="553.5" cy="397.9" r="1.15"/><circle cx="553.8" cy="403.6" r="1.15"/><circle cx="554.9" cy="404.7" r="1.15"/><circle cx="553.2" cy="398.8" r="1.15"/><circle cx="552.8" cy="383.4" r="1.15"/><circle cx="554.3" cy="395.2" r="1.15"/><circle cx="554.9" cy="400.9" r="1.15"/><circle cx="554.7" cy="399.0" r="1.15"/><circle cx="553.2" cy="400.7" r="1.15"/><circle cx="554.1" cy="398.3" r="1.15"/><circle cx="556.0" cy="402.9" r="1.15"/><circle cx="555.9" cy="389.3" r="1.15"/><circle cx="558.8" cy="394.4" r="1.15"/><circle cx="559.0" cy="401.4" r="1.15"/><circle cx="559.4" cy="390.2" r="1.15"/><circle cx="557.1" cy="399.2" r="1.15"/><circle cx="556.9" cy="399.5" r="1.15"/><circle cx="556.9" cy="397.2" r="1.15"/><circle cx="556.5" cy="385.8" r="1.15"/><circle cx="559.2" cy="395.8" r="1.15"/><circle cx="556.3" cy="399.7" r="1.15"/><circle cx="558.0" cy="398.1" r="1.15"/><circle cx="559.4" cy="408.1" r="1.15"/><circle cx="558.3" cy="406.7" r="1.15"/><circle cx="560.3" cy="397.5" r="1.15"/><circle cx="561.7" cy="408.6" r="1.15"/><circle cx="563.2" cy="398.3" r="1.15"/><circle cx="562.2" cy="398.3" r="1.15"/><circle cx="563.4" cy="394.6" r="1.15"/><circle cx="563.1" cy="394.3" r="1.15"/><circle cx="561.6" cy="399.3" r="1.15"/><circle cx="563.7" cy="404.3" r="1.15"/><circle cx="560.6" cy="398.1" r="1.15"/><circle cx="562.4" cy="398.8" r="1.15"/><circle cx="562.8" cy="405.1" r="1.15"/><circle cx="561.8" cy="395.5" r="1.15"/><circle cx="566.0" cy="393.1" r="1.15"/><circle cx="565.0" cy="396.5" r="1.15"/><circle cx="567.8" cy="412.5" r="1.15"/><circle cx="564.9" cy="396.0" r="1.15"/><circle cx="565.1" cy="384.8" r="1.15"/><circle cx="564.1" cy="395.2" r="1.15"/><circle cx="565.9" cy="388.0" r="1.15"/><circle cx="566.8" cy="392.1" r="1.15"/><circle cx="567.9" cy="385.1" r="1.15"/><circle cx="565.3" cy="395.9" r="1.15"/><circle cx="567.3" cy="393.2" r="1.15"/><circle cx="566.4" cy="402.8" r="1.15"/><circle cx="568.3" cy="385.8" r="1.15"/><circle cx="568.2" cy="395.2" r="1.15"/><circle cx="571.1" cy="380.9" r="1.15"/><circle cx="570.6" cy="398.1" r="1.15"/><circle cx="570.6" cy="403.6" r="1.15"/><circle cx="568.6" cy="400.2" r="1.15"/><circle cx="569.4" cy="395.1" r="1.15"/><circle cx="571.2" cy="401.5" r="1.15"/><circle cx="570.0" cy="397.3" r="1.15"/><circle cx="570.5" cy="400.2" r="1.15"/><circle cx="571.9" cy="393.6" r="1.15"/><circle cx="570.7" cy="383.7" r="1.15"/><circle cx="672.8" cy="379.8" r="1.15"/><circle cx="673.9" cy="381.3" r="1.15"/><circle cx="672.7" cy="390.8" r="1.15"/><circle cx="672.6" cy="392.6" r="1.15"/><circle cx="674.1" cy="376.1" r="1.15"/><circle cx="672.9" cy="377.3" r="1.15"/><circle cx="674.2" cy="377.3" r="1.15"/><circle cx="675.9" cy="396.8" r="1.15"/><circle cx="674.8" cy="385.8" r="1.15"/><circle cx="676.4" cy="375.9" r="1.15"/><circle cx="675.3" cy="387.7" r="1.15"/><circle cx="675.2" cy="381.0" r="1.15"/><circle cx="272.7" cy="512.6" r="1.15"/><circle cx="271.6" cy="504.2" r="1.15"/><circle cx="270.7" cy="497.1" r="1.15"/><circle cx="271.4" cy="515.1" r="1.15"/><circle cx="272.0" cy="510.4" r="1.15"/><circle cx="271.6" cy="498.3" r="1.15"/><circle cx="271.5" cy="496.8" r="1.15"/><circle cx="273.0" cy="501.3" r="1.15"/><circle cx="272.7" cy="507.9" r="1.15"/><circle cx="273.3" cy="513.5" r="1.15"/><circle cx="272.1" cy="507.0" r="1.15"/><circle cx="273.5" cy="508.1" r="1.15"/><circle cx="275.1" cy="500.0" r="1.15"/><circle cx="277.0" cy="511.3" r="1.15"/><circle cx="277.3" cy="496.6" r="1.15"/><circle cx="275.0" cy="509.1" r="1.15"/><circle cx="274.3" cy="502.1" r="1.15"/><circle cx="277.5" cy="499.9" r="1.15"/><circle cx="275.3" cy="497.9" r="1.15"/><circle cx="274.2" cy="512.6" r="1.15"/><circle cx="277.9" cy="502.9" r="1.15"/><circle cx="275.4" cy="505.0" r="1.15"/><circle cx="274.6" cy="503.6" r="1.15"/><circle cx="276.3" cy="510.1" r="1.15"/><circle cx="278.7" cy="507.0" r="1.15"/><circle cx="278.4" cy="503.9" r="1.15"/><circle cx="279.0" cy="515.2" r="1.15"/><circle cx="278.6" cy="504.0" r="1.15"/><circle cx="278.0" cy="500.3" r="1.15"/><circle cx="278.4" cy="500.5" r="1.15"/><circle cx="279.8" cy="504.8" r="1.15"/><circle cx="280.0" cy="506.0" r="1.15"/><circle cx="278.9" cy="500.3" r="1.15"/><circle cx="281.9" cy="509.2" r="1.15"/><circle cx="280.4" cy="499.7" r="1.15"/><circle cx="279.8" cy="502.0" r="1.15"/><circle cx="282.9" cy="511.5" r="1.15"/><circle cx="285.2" cy="493.9" r="1.15"/><circle cx="283.5" cy="503.4" r="1.15"/><circle cx="285.0" cy="499.7" r="1.15"/><circle cx="285.6" cy="505.3" r="1.15"/><circle cx="285.8" cy="506.3" r="1.15"/><circle cx="284.1" cy="506.6" r="1.15"/><circle cx="285.0" cy="493.9" r="1.15"/><circle cx="282.3" cy="504.2" r="1.15"/><circle cx="285.3" cy="509.5" r="1.15"/><circle cx="284.7" cy="504.9" r="1.15"/><circle cx="285.0" cy="507.2" r="1.15"/><circle cx="289.2" cy="509.4" r="1.15"/><circle cx="286.2" cy="505.3" r="1.15"/><circle cx="287.5" cy="510.0" r="1.15"/><circle cx="286.5" cy="505.2" r="1.15"/><circle cx="286.0" cy="507.7" r="1.15"/><circle cx="289.4" cy="504.0" r="1.15"/><circle cx="288.6" cy="501.5" r="1.15"/><circle cx="287.3" cy="509.0" r="1.15"/><circle cx="286.9" cy="501.9" r="1.15"/><circle cx="288.1" cy="503.3" r="1.15"/><circle cx="287.7" cy="509.8" r="1.15"/><circle cx="286.9" cy="517.3" r="1.15"/><circle cx="292.2" cy="503.2" r="1.15"/><circle cx="292.0" cy="496.1" r="1.15"/><circle cx="291.5" cy="496.9" r="1.15"/><circle cx="289.9" cy="509.0" r="1.15"/><circle cx="291.9" cy="508.1" r="1.15"/><circle cx="291.6" cy="499.8" r="1.15"/><circle cx="292.4" cy="505.9" r="1.15"/><circle cx="292.1" cy="500.1" r="1.15"/><circle cx="292.9" cy="502.1" r="1.15"/><circle cx="293.6" cy="502.4" r="1.15"/><circle cx="291.0" cy="503.8" r="1.15"/><circle cx="292.4" cy="503.4" r="1.15"/><circle cx="295.8" cy="508.5" r="1.15"/><circle cx="293.7" cy="503.0" r="1.15"/><circle cx="294.9" cy="497.7" r="1.15"/><circle cx="294.8" cy="508.8" r="1.15"/><circle cx="296.6" cy="506.1" r="1.15"/><circle cx="297.5" cy="504.1" r="1.15"/><circle cx="293.9" cy="505.1" r="1.15"/><circle cx="296.7" cy="507.5" r="1.15"/><circle cx="297.3" cy="504.4" r="1.15"/><circle cx="297.4" cy="512.3" r="1.15"/><circle cx="296.6" cy="504.9" r="1.15"/><circle cx="297.2" cy="511.3" r="1.15"/><circle cx="300.9" cy="498.3" r="1.15"/><circle cx="297.8" cy="506.3" r="1.15"/><circle cx="299.1" cy="506.1" r="1.15"/><circle cx="298.3" cy="504.1" r="1.15"/><circle cx="299.7" cy="509.0" r="1.15"/><circle cx="300.5" cy="505.9" r="1.15"/><circle cx="298.3" cy="492.6" r="1.15"/><circle cx="299.6" cy="505.8" r="1.15"/><circle cx="300.2" cy="511.7" r="1.15"/><circle cx="299.6" cy="508.2" r="1.15"/><circle cx="299.4" cy="503.5" r="1.15"/><circle cx="299.9" cy="505.8" r="1.15"/><circle cx="302.8" cy="504.6" r="1.15"/><circle cx="305.0" cy="501.8" r="1.15"/><circle cx="303.2" cy="509.2" r="1.15"/><circle cx="302.5" cy="500.0" r="1.15"/><circle cx="303.1" cy="504.6" r="1.15"/><circle cx="302.9" cy="512.5" r="1.15"/><circle cx="302.5" cy="520.3" r="1.15"/><circle cx="303.4" cy="505.7" r="1.15"/><circle cx="303.6" cy="509.2" r="1.15"/><circle cx="303.1" cy="498.8" r="1.15"/><circle cx="303.4" cy="506.5" r="1.15"/><circle cx="303.0" cy="503.9" r="1.15"/><circle cx="305.7" cy="505.0" r="1.15"/><circle cx="307.1" cy="505.7" r="1.15"/><circle cx="305.9" cy="498.1" r="1.15"/><circle cx="306.3" cy="518.7" r="1.15"/><circle cx="306.8" cy="507.4" r="1.15"/><circle cx="306.2" cy="502.6" r="1.15"/><circle cx="307.0" cy="503.3" r="1.15"/><circle cx="306.3" cy="503.7" r="1.15"/><circle cx="305.6" cy="505.5" r="1.15"/><circle cx="307.7" cy="511.6" r="1.15"/><circle cx="306.5" cy="496.6" r="1.15"/><circle cx="306.4" cy="504.6" r="1.15"/><circle cx="312.1" cy="507.1" r="1.15"/><circle cx="312.1" cy="494.0" r="1.15"/><circle cx="311.7" cy="503.0" r="1.15"/><circle cx="312.8" cy="502.4" r="1.15"/><circle cx="310.0" cy="504.6" r="1.15"/><circle cx="311.2" cy="508.7" r="1.15"/><circle cx="312.8" cy="505.9" r="1.15"/><circle cx="312.7" cy="505.7" r="1.15"/><circle cx="309.5" cy="508.6" r="1.15"/><circle cx="309.3" cy="512.4" r="1.15"/><circle cx="312.4" cy="500.9" r="1.15"/><circle cx="311.8" cy="493.4" r="1.15"/><circle cx="314.8" cy="507.4" r="1.15"/><circle cx="315.6" cy="511.6" r="1.15"/><circle cx="316.4" cy="509.4" r="1.15"/><circle cx="315.7" cy="513.0" r="1.15"/><circle cx="314.1" cy="505.7" r="1.15"/><circle cx="314.5" cy="502.5" r="1.15"/><circle cx="314.0" cy="508.3" r="1.15"/><circle cx="314.4" cy="506.3" r="1.15"/><circle cx="315.6" cy="502.9" r="1.15"/><circle cx="315.1" cy="506.6" r="1.15"/><circle cx="315.0" cy="501.1" r="1.15"/><circle cx="313.8" cy="505.1" r="1.15"/><circle cx="319.8" cy="502.4" r="1.15"/><circle cx="318.4" cy="515.9" r="1.15"/><circle cx="320.5" cy="507.2" r="1.15"/><circle cx="320.9" cy="515.0" r="1.15"/><circle cx="318.2" cy="509.5" r="1.15"/><circle cx="317.1" cy="500.6" r="1.15"/><circle cx="319.4" cy="505.6" r="1.15"/><circle cx="320.2" cy="508.6" r="1.15"/><circle cx="319.8" cy="509.8" r="1.15"/><circle cx="318.5" cy="506.0" r="1.15"/><circle cx="319.3" cy="505.5" r="1.15"/><circle cx="318.5" cy="509.5" r="1.15"/><circle cx="322.7" cy="501.5" r="1.15"/><circle cx="322.6" cy="507.7" r="1.15"/><circle cx="322.9" cy="505.8" r="1.15"/><circle cx="322.9" cy="503.6" r="1.15"/><circle cx="324.3" cy="509.2" r="1.15"/><circle cx="324.6" cy="497.9" r="1.15"/><circle cx="322.9" cy="512.5" r="1.15"/><circle cx="322.4" cy="499.1" r="1.15"/><circle cx="324.0" cy="500.4" r="1.15"/><circle cx="321.6" cy="508.1" r="1.15"/><circle cx="323.9" cy="504.5" r="1.15"/><circle cx="323.0" cy="512.5" r="1.15"/><circle cx="327.9" cy="518.7" r="1.15"/><circle cx="327.5" cy="506.1" r="1.15"/><circle cx="326.0" cy="500.3" r="1.15"/><circle cx="326.3" cy="505.7" r="1.15"/><circle cx="328.4" cy="505.2" r="1.15"/><circle cx="328.7" cy="514.0" r="1.15"/><circle cx="325.7" cy="496.8" r="1.15"/><circle cx="328.5" cy="513.5" r="1.15"/><circle cx="326.6" cy="505.5" r="1.15"/><circle cx="325.2" cy="500.9" r="1.15"/><circle cx="328.5" cy="516.4" r="1.15"/><circle cx="325.7" cy="499.1" r="1.15"/><circle cx="330.9" cy="512.7" r="1.15"/><circle cx="332.2" cy="498.2" r="1.15"/><circle cx="329.0" cy="506.0" r="1.15"/><circle cx="329.4" cy="503.4" r="1.15"/><circle cx="330.8" cy="512.2" r="1.15"/><circle cx="330.5" cy="510.3" r="1.15"/><circle cx="330.4" cy="505.2" r="1.15"/><circle cx="330.8" cy="513.7" r="1.15"/><circle cx="329.4" cy="508.6" r="1.15"/><circle cx="328.9" cy="513.0" r="1.15"/><circle cx="330.9" cy="511.4" r="1.15"/><circle cx="332.3" cy="505.7" r="1.15"/><circle cx="334.2" cy="499.2" r="1.15"/><circle cx="334.4" cy="511.3" r="1.15"/><circle cx="334.7" cy="510.2" r="1.15"/><circle cx="334.4" cy="507.4" r="1.15"/><circle cx="333.9" cy="501.4" r="1.15"/><circle cx="335.4" cy="508.5" r="1.15"/><circle cx="333.9" cy="520.6" r="1.15"/><circle cx="335.8" cy="502.4" r="1.15"/><circle cx="335.1" cy="508.9" r="1.15"/><circle cx="335.1" cy="506.6" r="1.15"/><circle cx="334.5" cy="504.6" r="1.15"/><circle cx="334.2" cy="515.8" r="1.15"/><circle cx="340.1" cy="512.1" r="1.15"/><circle cx="338.5" cy="511.3" r="1.15"/><circle cx="337.2" cy="514.8" r="1.15"/><circle cx="337.7" cy="514.2" r="1.15"/><circle cx="337.1" cy="505.5" r="1.15"/><circle cx="339.0" cy="498.3" r="1.15"/><circle cx="339.1" cy="506.2" r="1.15"/><circle cx="339.7" cy="520.5" r="1.15"/><circle cx="339.8" cy="504.8" r="1.15"/><circle cx="338.5" cy="507.7" r="1.15"/><circle cx="338.1" cy="506.5" r="1.15"/><circle cx="337.4" cy="506.6" r="1.15"/><circle cx="342.7" cy="511.1" r="1.15"/><circle cx="342.7" cy="511.5" r="1.15"/><circle cx="342.3" cy="515.8" r="1.15"/><circle cx="342.7" cy="495.0" r="1.15"/><circle cx="343.1" cy="502.3" r="1.15"/><circle cx="342.0" cy="512.4" r="1.15"/><circle cx="343.9" cy="504.9" r="1.15"/><circle cx="342.2" cy="508.7" r="1.15"/><circle cx="343.8" cy="526.0" r="1.15"/><circle cx="343.5" cy="512.4" r="1.15"/><circle cx="342.5" cy="508.2" r="1.15"/><circle cx="341.9" cy="513.1" r="1.15"/><circle cx="448.7" cy="493.0" r="1.15"/><circle cx="446.3" cy="496.7" r="1.15"/><circle cx="446.4" cy="491.7" r="1.15"/><circle cx="449.3" cy="496.3" r="1.15"/><circle cx="447.1" cy="488.3" r="1.15"/><circle cx="448.7" cy="492.4" r="1.15"/><circle cx="448.3" cy="502.3" r="1.15"/><circle cx="449.0" cy="492.1" r="1.15"/><circle cx="448.4" cy="498.8" r="1.15"/><circle cx="448.6" cy="503.6" r="1.15"/><circle cx="448.4" cy="496.0" r="1.15"/><circle cx="448.0" cy="497.5" r="1.15"/><circle cx="499.6" cy="505.4" r="1.15"/><circle cx="498.5" cy="516.9" r="1.15"/><circle cx="499.2" cy="500.4" r="1.15"/><circle cx="499.5" cy="512.1" r="1.15"/><circle cx="499.7" cy="503.1" r="1.15"/><circle cx="498.8" cy="512.1" r="1.15"/><circle cx="499.3" cy="518.1" r="1.15"/><circle cx="499.8" cy="511.7" r="1.15"/><circle cx="498.1" cy="517.1" r="1.15"/><circle cx="500.6" cy="502.6" r="1.15"/><circle cx="498.9" cy="513.8" r="1.15"/><circle cx="499.4" cy="507.1" r="1.15"/><circle cx="503.3" cy="506.1" r="1.15"/><circle cx="504.9" cy="516.2" r="1.15"/><circle cx="501.3" cy="508.5" r="1.15"/><circle cx="503.3" cy="504.6" r="1.15"/><circle cx="503.9" cy="495.6" r="1.15"/><circle cx="504.3" cy="507.4" r="1.15"/><circle cx="501.3" cy="509.5" r="1.15"/><circle cx="504.0" cy="520.1" r="1.15"/><circle cx="503.2" cy="512.9" r="1.15"/><circle cx="502.4" cy="510.0" r="1.15"/><circle cx="503.2" cy="508.0" r="1.15"/><circle cx="503.7" cy="503.4" r="1.15"/><circle cx="507.7" cy="499.3" r="1.15"/><circle cx="506.0" cy="518.7" r="1.15"/><circle cx="508.2" cy="509.9" r="1.15"/><circle cx="506.9" cy="520.6" r="1.15"/><circle cx="506.4" cy="512.2" r="1.15"/><circle cx="508.2" cy="502.9" r="1.15"/><circle cx="507.1" cy="514.3" r="1.15"/><circle cx="506.0" cy="511.2" r="1.15"/><circle cx="505.6" cy="518.0" r="1.15"/><circle cx="507.1" cy="509.8" r="1.15"/><circle cx="507.8" cy="507.7" r="1.15"/><circle cx="508.5" cy="510.1" r="1.15"/><circle cx="512.0" cy="512.9" r="1.15"/><circle cx="510.1" cy="502.6" r="1.15"/><circle cx="512.7" cy="516.6" r="1.15"/><circle cx="509.5" cy="513.2" r="1.15"/><circle cx="510.2" cy="522.2" r="1.15"/><circle cx="511.0" cy="503.2" r="1.15"/><circle cx="509.4" cy="493.8" r="1.15"/><circle cx="512.4" cy="507.7" r="1.15"/><circle cx="509.3" cy="508.4" r="1.15"/><circle cx="509.3" cy="517.0" r="1.15"/><circle cx="510.5" cy="503.9" r="1.15"/><circle cx="512.0" cy="506.7" r="1.15"/><circle cx="516.7" cy="508.2" r="1.15"/><circle cx="515.8" cy="517.4" r="1.15"/><circle cx="513.6" cy="500.0" r="1.15"/><circle cx="516.3" cy="507.8" r="1.15"/><circle cx="515.3" cy="517.3" r="1.15"/><circle cx="513.5" cy="501.6" r="1.15"/><circle cx="516.0" cy="500.1" r="1.15"/><circle cx="514.9" cy="509.4" r="1.15"/><circle cx="515.3" cy="502.7" r="1.15"/><circle cx="516.4" cy="512.8" r="1.15"/><circle cx="513.8" cy="504.5" r="1.15"/><circle cx="513.0" cy="514.0" r="1.15"/><circle cx="517.3" cy="488.4" r="1.15"/><circle cx="519.1" cy="513.7" r="1.15"/><circle cx="517.9" cy="514.7" r="1.15"/><circle cx="520.6" cy="510.6" r="1.15"/><circle cx="518.1" cy="514.5" r="1.15"/><circle cx="517.3" cy="501.2" r="1.15"/><circle cx="520.5" cy="507.4" r="1.15"/><circle cx="520.4" cy="509.8" r="1.15"/><circle cx="519.3" cy="515.1" r="1.15"/><circle cx="518.6" cy="513.0" r="1.15"/><circle cx="517.8" cy="499.2" r="1.15"/><circle cx="519.5" cy="499.6" r="1.15"/><circle cx="521.6" cy="518.8" r="1.15"/><circle cx="521.5" cy="507.9" r="1.15"/><circle cx="524.2" cy="521.4" r="1.15"/><circle cx="524.7" cy="504.3" r="1.15"/><circle cx="522.9" cy="523.6" r="1.15"/><circle cx="523.5" cy="514.7" r="1.15"/><circle cx="524.8" cy="519.6" r="1.15"/><circle cx="521.3" cy="508.7" r="1.15"/><circle cx="524.4" cy="515.5" r="1.15"/><circle cx="522.5" cy="512.9" r="1.15"/><circle cx="521.5" cy="504.3" r="1.15"/><circle cx="521.4" cy="519.3" r="1.15"/><circle cx="527.4" cy="510.6" r="1.15"/><circle cx="528.4" cy="513.0" r="1.15"/><circle cx="525.7" cy="519.1" r="1.15"/><circle cx="526.8" cy="509.7" r="1.15"/><circle cx="527.0" cy="515.0" r="1.15"/><circle cx="527.0" cy="508.0" r="1.15"/><circle cx="528.0" cy="511.9" r="1.15"/><circle cx="526.0" cy="518.7" r="1.15"/><circle cx="528.5" cy="513.8" r="1.15"/><circle cx="527.7" cy="510.6" r="1.15"/><circle cx="525.1" cy="505.8" r="1.15"/><circle cx="527.3" cy="504.0" r="1.15"/><circle cx="531.2" cy="504.6" r="1.15"/><circle cx="529.4" cy="493.9" r="1.15"/><circle cx="528.9" cy="508.7" r="1.15"/><circle cx="530.2" cy="511.5" r="1.15"/><circle cx="532.5" cy="510.8" r="1.15"/><circle cx="528.8" cy="516.1" r="1.15"/><circle cx="531.5" cy="502.0" r="1.15"/><circle cx="532.4" cy="513.7" r="1.15"/><circle cx="529.8" cy="505.8" r="1.15"/><circle cx="532.4" cy="505.7" r="1.15"/><circle cx="532.6" cy="498.5" r="1.15"/><circle cx="529.4" cy="521.6" r="1.15"/><circle cx="532.8" cy="504.7" r="1.15"/><circle cx="533.4" cy="513.2" r="1.15"/><circle cx="533.9" cy="510.7" r="1.15"/><circle cx="535.4" cy="515.8" r="1.15"/><circle cx="533.5" cy="497.6" r="1.15"/><circle cx="534.6" cy="503.2" r="1.15"/><circle cx="533.0" cy="509.6" r="1.15"/><circle cx="533.8" cy="513.2" r="1.15"/><circle cx="535.5" cy="507.0" r="1.15"/><circle cx="532.8" cy="502.3" r="1.15"/><circle cx="534.9" cy="516.8" r="1.15"/><circle cx="534.8" cy="507.1" r="1.15"/><circle cx="538.7" cy="493.2" r="1.15"/><circle cx="536.8" cy="513.7" r="1.15"/><circle cx="538.2" cy="512.6" r="1.15"/><circle cx="540.2" cy="508.4" r="1.15"/><circle cx="538.8" cy="494.9" r="1.15"/><circle cx="540.4" cy="514.7" r="1.15"/><circle cx="537.1" cy="510.0" r="1.15"/><circle cx="537.9" cy="512.1" r="1.15"/><circle cx="538.7" cy="503.8" r="1.15"/><circle cx="536.7" cy="517.9" r="1.15"/><circle cx="536.7" cy="504.0" r="1.15"/><circle cx="538.2" cy="511.7" r="1.15"/><circle cx="543.0" cy="507.8" r="1.15"/><circle cx="540.8" cy="508.9" r="1.15"/><circle cx="540.6" cy="509.9" r="1.15"/><circle cx="543.8" cy="493.1" r="1.15"/><circle cx="542.3" cy="510.9" r="1.15"/><circle cx="540.8" cy="500.6" r="1.15"/><circle cx="540.8" cy="510.2" r="1.15"/><circle cx="543.0" cy="501.3" r="1.15"/><circle cx="542.0" cy="509.0" r="1.15"/><circle cx="542.5" cy="514.6" r="1.15"/><circle cx="542.3" cy="502.2" r="1.15"/><circle cx="543.4" cy="507.5" r="1.15"/><circle cx="544.8" cy="513.5" r="1.15"/><circle cx="546.0" cy="507.1" r="1.15"/><circle cx="545.5" cy="512.4" r="1.15"/><circle cx="544.4" cy="510.0" r="1.15"/><circle cx="546.4" cy="516.5" r="1.15"/><circle cx="546.7" cy="517.4" r="1.15"/><circle cx="547.9" cy="510.2" r="1.15"/><circle cx="547.2" cy="515.6" r="1.15"/><circle cx="547.5" cy="517.5" r="1.15"/><circle cx="547.8" cy="496.3" r="1.15"/><circle cx="544.5" cy="499.5" r="1.15"/><circle cx="548.0" cy="509.7" r="1.15"/><circle cx="550.2" cy="509.2" r="1.15"/><circle cx="549.1" cy="512.7" r="1.15"/><circle cx="548.8" cy="506.3" r="1.15"/><circle cx="551.6" cy="511.0" r="1.15"/><circle cx="548.9" cy="505.4" r="1.15"/><circle cx="549.5" cy="506.2" r="1.15"/><circle cx="549.1" cy="499.1" r="1.15"/><circle cx="550.5" cy="515.6" r="1.15"/><circle cx="550.3" cy="511.2" r="1.15"/><circle cx="551.7" cy="516.0" r="1.15"/><circle cx="548.7" cy="502.6" r="1.15"/><circle cx="550.5" cy="500.0" r="1.15"/><circle cx="553.6" cy="511.4" r="1.15"/><circle cx="554.8" cy="520.7" r="1.15"/><circle cx="552.9" cy="503.9" r="1.15"/><circle cx="552.5" cy="521.3" r="1.15"/><circle cx="555.8" cy="506.5" r="1.15"/><circle cx="555.9" cy="507.0" r="1.15"/><circle cx="553.6" cy="505.0" r="1.15"/><circle cx="552.8" cy="504.0" r="1.15"/><circle cx="553.6" cy="516.7" r="1.15"/><circle cx="556.0" cy="519.0" r="1.15"/><circle cx="552.5" cy="512.4" r="1.15"/><circle cx="554.5" cy="517.3" r="1.15"/><circle cx="557.9" cy="500.2" r="1.15"/><circle cx="556.7" cy="491.3" r="1.15"/><circle cx="556.9" cy="500.2" r="1.15"/><circle cx="559.2" cy="511.3" r="1.15"/><circle cx="558.2" cy="525.7" r="1.15"/><circle cx="559.7" cy="496.1" r="1.15"/><circle cx="557.7" cy="519.3" r="1.15"/><circle cx="559.3" cy="509.4" r="1.15"/><circle cx="559.4" cy="534.9" r="1.15"/><circle cx="559.4" cy="513.1" r="1.15"/><circle cx="558.8" cy="508.0" r="1.15"/><circle cx="558.4" cy="503.9" r="1.15"/><circle cx="561.6" cy="508.3" r="1.15"/><circle cx="561.7" cy="517.2" r="1.15"/><circle cx="563.3" cy="506.7" r="1.15"/><circle cx="563.1" cy="511.8" r="1.15"/><circle cx="562.9" cy="519.2" r="1.15"/><circle cx="560.2" cy="505.0" r="1.15"/><circle cx="560.6" cy="520.0" r="1.15"/><circle cx="561.8" cy="506.7" r="1.15"/><circle cx="563.6" cy="521.6" r="1.15"/><circle cx="561.0" cy="516.8" r="1.15"/><circle cx="560.2" cy="517.5" r="1.15"/><circle cx="560.2" cy="498.7" r="1.15"/><circle cx="566.8" cy="524.0" r="1.15"/><circle cx="566.3" cy="506.1" r="1.15"/><circle cx="567.4" cy="513.4" r="1.15"/><circle cx="567.6" cy="502.4" r="1.15"/><circle cx="564.8" cy="512.6" r="1.15"/><circle cx="567.5" cy="516.9" r="1.15"/><circle cx="564.5" cy="507.5" r="1.15"/><circle cx="567.9" cy="518.0" r="1.15"/><circle cx="566.1" cy="513.5" r="1.15"/><circle cx="565.5" cy="510.0" r="1.15"/><circle cx="564.6" cy="517.1" r="1.15"/><circle cx="565.4" cy="523.0" r="1.15"/><circle cx="569.8" cy="508.9" r="1.15"/><circle cx="571.9" cy="510.6" r="1.15"/><circle cx="570.4" cy="513.9" r="1.15"/><circle cx="570.4" cy="509.0" r="1.15"/><circle cx="571.1" cy="509.9" r="1.15"/><circle cx="571.2" cy="503.4" r="1.15"/><circle cx="571.6" cy="505.9" r="1.15"/><circle cx="568.7" cy="499.7" r="1.15"/><circle cx="570.4" cy="508.2" r="1.15"/><circle cx="570.8" cy="506.4" r="1.15"/><circle cx="568.5" cy="510.7" r="1.15"/><circle cx="568.1" cy="503.5" r="1.15"/><circle cx="673.4" cy="518.6" r="1.15"/><circle cx="676.2" cy="509.7" r="1.15"/><circle cx="673.9" cy="502.8" r="1.15"/><circle cx="673.4" cy="508.7" r="1.15"/><circle cx="673.9" cy="512.6" r="1.15"/><circle cx="674.1" cy="513.9" r="1.15"/><circle cx="672.8" cy="501.2" r="1.15"/><circle cx="674.1" cy="493.8" r="1.15"/><circle cx="675.9" cy="497.8" r="1.15"/><circle cx="673.1" cy="521.1" r="1.15"/><circle cx="676.2" cy="520.6" r="1.15"/><circle cx="676.4" cy="515.6" r="1.15"/></g><g fill="none" stroke="#7640a8" stroke-width="0.5"><circle cx="267.2" cy="318.0" r="1.15"/><circle cx="268.6" cy="327.2" r="1.15"/><circle cx="268.7" cy="327.8" r="1.15"/><circle cx="269.5" cy="327.7" r="1.15"/><circle cx="267.3" cy="328.1" r="1.15"/><circle cx="268.1" cy="332.2" r="1.15"/><circle cx="269.5" cy="325.6" r="1.15"/><circle cx="266.8" cy="327.9" r="1.15"/><circle cx="268.7" cy="328.8" r="1.15"/><circle cx="269.1" cy="326.3" r="1.15"/><circle cx="268.9" cy="329.8" r="1.15"/><circle cx="268.6" cy="328.5" r="1.15"/><circle cx="372.5" cy="321.5" r="1.15"/><circle cx="373.4" cy="329.3" r="1.15"/><circle cx="372.7" cy="323.4" r="1.15"/><circle cx="372.8" cy="326.3" r="1.15"/><circle cx="371.8" cy="322.2" r="1.15"/><circle cx="372.2" cy="326.9" r="1.15"/><circle cx="374.6" cy="326.9" r="1.15"/><circle cx="373.0" cy="326.8" r="1.15"/><circle cx="372.2" cy="329.4" r="1.15"/><circle cx="374.6" cy="317.2" r="1.15"/><circle cx="373.6" cy="321.2" r="1.15"/><circle cx="374.1" cy="326.5" r="1.15"/><circle cx="377.7" cy="328.0" r="1.15"/><circle cx="377.9" cy="321.9" r="1.15"/><circle cx="376.1" cy="326.6" r="1.15"/><circle cx="377.9" cy="322.2" r="1.15"/><circle cx="378.8" cy="323.2" r="1.15"/><circle cx="375.6" cy="326.1" r="1.15"/><circle cx="377.5" cy="323.7" r="1.15"/><circle cx="378.1" cy="322.5" r="1.15"/><circle cx="379.0" cy="325.0" r="1.15"/><circle cx="378.5" cy="318.2" r="1.15"/><circle cx="378.3" cy="325.7" r="1.15"/><circle cx="375.7" cy="327.6" r="1.15"/><circle cx="382.0" cy="322.7" r="1.15"/><circle cx="380.5" cy="320.0" r="1.15"/><circle cx="380.0" cy="320.7" r="1.15"/><circle cx="380.7" cy="321.1" r="1.15"/><circle cx="379.3" cy="327.1" r="1.15"/><circle cx="381.1" cy="327.4" r="1.15"/><circle cx="380.8" cy="327.6" r="1.15"/><circle cx="379.9" cy="326.3" r="1.15"/><circle cx="381.0" cy="322.1" r="1.15"/><circle cx="380.8" cy="327.2" r="1.15"/><circle cx="380.1" cy="323.8" r="1.15"/><circle cx="381.7" cy="326.9" r="1.15"/><circle cx="386.0" cy="328.0" r="1.15"/><circle cx="386.8" cy="327.4" r="1.15"/><circle cx="386.4" cy="324.3" r="1.15"/><circle cx="385.8" cy="316.1" r="1.15"/><circle cx="383.3" cy="325.7" r="1.15"/><circle cx="383.4" cy="320.4" r="1.15"/><circle cx="387.0" cy="319.2" r="1.15"/><circle cx="386.9" cy="324.0" r="1.15"/><circle cx="386.9" cy="324.8" r="1.15"/><circle cx="383.6" cy="325.0" r="1.15"/><circle cx="386.8" cy="325.4" r="1.15"/><circle cx="386.4" cy="316.5" r="1.15"/><circle cx="388.7" cy="328.3" r="1.15"/><circle cx="388.1" cy="325.2" r="1.15"/><circle cx="389.9" cy="324.2" r="1.15"/><circle cx="389.9" cy="322.5" r="1.15"/><circle cx="389.7" cy="325.3" r="1.15"/><circle cx="389.6" cy="319.5" r="1.15"/><circle cx="390.6" cy="326.8" r="1.15"/><circle cx="387.4" cy="319.0" r="1.15"/><circle cx="389.3" cy="326.7" r="1.15"/><circle cx="388.0" cy="325.4" r="1.15"/><circle cx="389.4" cy="324.4" r="1.15"/><circle cx="387.9" cy="322.8" r="1.15"/><circle cx="393.4" cy="325.6" r="1.15"/><circle cx="391.7" cy="320.4" r="1.15"/><circle cx="391.1" cy="324.6" r="1.15"/><circle cx="391.3" cy="324.6" r="1.15"/><circle cx="393.4" cy="321.6" r="1.15"/><circle cx="392.3" cy="323.1" r="1.15"/><circle cx="394.3" cy="319.5" r="1.15"/><circle cx="393.1" cy="320.3" r="1.15"/><circle cx="392.3" cy="326.1" r="1.15"/><circle cx="393.9" cy="322.1" r="1.15"/><circle cx="391.8" cy="320.2" r="1.15"/><circle cx="392.7" cy="325.3" r="1.15"/><circle cx="398.5" cy="324.9" r="1.15"/><circle cx="397.3" cy="321.9" r="1.15"/><circle cx="398.6" cy="316.7" r="1.15"/><circle cx="397.9" cy="314.9" r="1.15"/><circle cx="396.0" cy="324.9" r="1.15"/><circle cx="397.7" cy="327.3" r="1.15"/><circle cx="395.1" cy="327.3" r="1.15"/><circle cx="396.3" cy="326.3" r="1.15"/><circle cx="395.3" cy="327.2" r="1.15"/><circle cx="395.5" cy="326.2" r="1.15"/><circle cx="398.7" cy="324.0" r="1.15"/><circle cx="396.1" cy="322.2" r="1.15"/><circle cx="400.2" cy="325.0" r="1.15"/><circle cx="402.3" cy="325.9" r="1.15"/><circle cx="402.0" cy="325.4" r="1.15"/><circle cx="400.9" cy="327.5" r="1.15"/><circle cx="401.8" cy="314.7" r="1.15"/><circle cx="402.6" cy="325.0" r="1.15"/><circle cx="400.5" cy="327.4" r="1.15"/><circle cx="399.2" cy="327.2" r="1.15"/><circle cx="400.5" cy="328.2" r="1.15"/><circle cx="401.3" cy="321.4" r="1.15"/><circle cx="399.8" cy="323.4" r="1.15"/><circle cx="400.8" cy="324.0" r="1.15"/><circle cx="403.4" cy="320.9" r="1.15"/><circle cx="406.3" cy="320.9" r="1.15"/><circle cx="405.9" cy="323.3" r="1.15"/><circle cx="403.4" cy="326.0" r="1.15"/><circle cx="404.9" cy="324.5" r="1.15"/><circle cx="405.9" cy="316.3" r="1.15"/><circle cx="404.0" cy="322.7" r="1.15"/><circle cx="406.0" cy="321.2" r="1.15"/><circle cx="405.0" cy="322.2" r="1.15"/><circle cx="405.5" cy="325.8" r="1.15"/><circle cx="404.2" cy="317.1" r="1.15"/><circle cx="405.2" cy="325.9" r="1.15"/><circle cx="408.1" cy="325.3" r="1.15"/><circle cx="410.3" cy="323.6" r="1.15"/><circle cx="407.7" cy="325.9" r="1.15"/><circle cx="406.9" cy="328.2" r="1.15"/><circle cx="408.7" cy="326.1" r="1.15"/><circle cx="409.8" cy="323.9" r="1.15"/><circle cx="406.9" cy="328.3" r="1.15"/><circle cx="408.8" cy="324.7" r="1.15"/><circle cx="407.2" cy="325.1" r="1.15"/><circle cx="409.3" cy="326.0" r="1.15"/><circle cx="409.6" cy="327.0" r="1.15"/><circle cx="410.1" cy="316.3" r="1.15"/><circle cx="412.0" cy="324.6" r="1.15"/><circle cx="411.6" cy="326.5" r="1.15"/><circle cx="411.9" cy="326.1" r="1.15"/><circle cx="414.2" cy="313.8" r="1.15"/><circle cx="411.9" cy="322.2" r="1.15"/><circle cx="411.8" cy="323.5" r="1.15"/><circle cx="413.6" cy="322.5" r="1.15"/><circle cx="412.3" cy="318.3" r="1.15"/><circle cx="412.9" cy="318.4" r="1.15"/><circle cx="414.3" cy="326.0" r="1.15"/><circle cx="411.3" cy="315.4" r="1.15"/><circle cx="414.0" cy="327.5" r="1.15"/><circle cx="417.6" cy="320.2" r="1.15"/><circle cx="417.5" cy="323.3" r="1.15"/><circle cx="415.0" cy="324.0" r="1.15"/><circle cx="415.9" cy="326.8" r="1.15"/><circle cx="418.3" cy="318.1" r="1.15"/><circle cx="415.6" cy="324.0" r="1.15"/><circle cx="416.4" cy="326.8" r="1.15"/><circle cx="415.6" cy="322.4" r="1.15"/><circle cx="416.5" cy="315.8" r="1.15"/><circle cx="416.2" cy="326.4" r="1.15"/><circle cx="417.8" cy="327.5" r="1.15"/><circle cx="416.0" cy="323.1" r="1.15"/><circle cx="420.5" cy="323.5" r="1.15"/><circle cx="421.1" cy="325.8" r="1.15"/><circle cx="419.9" cy="323.7" r="1.15"/><circle cx="420.7" cy="326.3" r="1.15"/><circle cx="420.8" cy="327.0" r="1.15"/><circle cx="419.5" cy="322.0" r="1.15"/><circle cx="420.5" cy="325.8" r="1.15"/><circle cx="421.9" cy="321.3" r="1.15"/><circle cx="421.8" cy="324.5" r="1.15"/><circle cx="419.5" cy="325.9" r="1.15"/><circle cx="418.7" cy="318.5" r="1.15"/><circle cx="421.6" cy="327.0" r="1.15"/><circle cx="424.3" cy="322.0" r="1.15"/><circle cx="424.0" cy="317.7" r="1.15"/><circle cx="422.6" cy="320.6" r="1.15"/><circle cx="422.5" cy="322.3" r="1.15"/><circle cx="425.8" cy="325.3" r="1.15"/><circle cx="424.6" cy="325.1" r="1.15"/><circle cx="422.6" cy="327.2" r="1.15"/><circle cx="424.3" cy="326.0" r="1.15"/><circle cx="424.1" cy="323.3" r="1.15"/><circle cx="426.1" cy="323.9" r="1.15"/><circle cx="423.4" cy="325.6" r="1.15"/><circle cx="424.7" cy="323.8" r="1.15"/><circle cx="429.5" cy="327.3" r="1.15"/><circle cx="427.9" cy="327.3" r="1.15"/><circle cx="427.0" cy="321.1" r="1.15"/><circle cx="429.8" cy="325.6" r="1.15"/><circle cx="426.3" cy="323.0" r="1.15"/><circle cx="429.4" cy="323.5" r="1.15"/><circle cx="426.9" cy="328.7" r="1.15"/><circle cx="427.5" cy="325.7" r="1.15"/><circle cx="428.4" cy="329.1" r="1.15"/><circle cx="428.8" cy="325.3" r="1.15"/><circle cx="427.7" cy="321.1" r="1.15"/><circle cx="427.9" cy="320.1" r="1.15"/><circle cx="432.0" cy="324.2" r="1.15"/><circle cx="432.8" cy="327.9" r="1.15"/><circle cx="431.4" cy="322.2" r="1.15"/><circle cx="432.9" cy="324.8" r="1.15"/><circle cx="430.5" cy="318.0" r="1.15"/><circle cx="432.2" cy="323.8" r="1.15"/><circle cx="432.4" cy="326.0" r="1.15"/><circle cx="433.1" cy="323.7" r="1.15"/><circle cx="433.6" cy="312.7" r="1.15"/><circle cx="433.0" cy="328.0" r="1.15"/><circle cx="433.0" cy="325.4" r="1.15"/><circle cx="431.1" cy="325.0" r="1.15"/><circle cx="434.4" cy="323.6" r="1.15"/><circle cx="434.7" cy="325.7" r="1.15"/><circle cx="436.3" cy="326.9" r="1.15"/><circle cx="434.8" cy="325.0" r="1.15"/><circle cx="436.1" cy="318.2" r="1.15"/><circle cx="435.6" cy="324.6" r="1.15"/><circle cx="437.7" cy="320.2" r="1.15"/><circle cx="435.7" cy="329.1" r="1.15"/><circle cx="436.2" cy="324.6" r="1.15"/><circle cx="437.9" cy="324.7" r="1.15"/><circle cx="434.4" cy="324.3" r="1.15"/><circle cx="435.8" cy="323.5" r="1.15"/><circle cx="438.6" cy="325.5" r="1.15"/><circle cx="439.4" cy="321.3" r="1.15"/><circle cx="440.6" cy="320.4" r="1.15"/><circle cx="440.0" cy="323.3" r="1.15"/><circle cx="438.6" cy="325.4" r="1.15"/><circle cx="439.9" cy="318.1" r="1.15"/><circle cx="439.4" cy="322.1" r="1.15"/><circle cx="441.5" cy="327.6" r="1.15"/><circle cx="440.8" cy="319.9" r="1.15"/><circle cx="440.0" cy="323.7" r="1.15"/><circle cx="438.4" cy="319.4" r="1.15"/><circle cx="437.9" cy="321.0" r="1.15"/><circle cx="443.6" cy="321.0" r="1.15"/><circle cx="444.6" cy="323.9" r="1.15"/><circle cx="442.5" cy="322.2" r="1.15"/><circle cx="445.6" cy="321.5" r="1.15"/><circle cx="445.0" cy="321.3" r="1.15"/><circle cx="442.7" cy="319.7" r="1.15"/><circle cx="442.7" cy="326.3" r="1.15"/><circle cx="444.1" cy="321.2" r="1.15"/><circle cx="441.9" cy="323.6" r="1.15"/><circle cx="444.0" cy="328.6" r="1.15"/><circle cx="444.4" cy="326.5" r="1.15"/><circle cx="443.0" cy="320.2" r="1.15"/><circle cx="494.5" cy="329.3" r="1.15"/><circle cx="494.5" cy="329.4" r="1.15"/><circle cx="493.9" cy="329.4" r="1.15"/><circle cx="497.1" cy="329.4" r="1.15"/><circle cx="493.5" cy="329.5" r="1.15"/><circle cx="493.7" cy="329.4" r="1.15"/><circle cx="496.3" cy="329.1" r="1.15"/><circle cx="495.3" cy="329.4" r="1.15"/><circle cx="495.8" cy="329.6" r="1.15"/><circle cx="495.3" cy="329.5" r="1.15"/><circle cx="497.1" cy="329.5" r="1.15"/><circle cx="496.0" cy="329.4" r="1.15"/><circle cx="600.4" cy="329.3" r="1.15"/><circle cx="601.3" cy="329.6" r="1.15"/><circle cx="600.3" cy="329.3" r="1.15"/><circle cx="599.6" cy="329.3" r="1.15"/><circle cx="601.9" cy="329.4" r="1.15"/><circle cx="598.8" cy="329.4" r="1.15"/><circle cx="598.9" cy="329.4" r="1.15"/><circle cx="598.7" cy="329.3" r="1.15"/><circle cx="601.0" cy="329.6" r="1.15"/><circle cx="599.8" cy="329.8" r="1.15"/><circle cx="601.6" cy="329.4" r="1.15"/><circle cx="601.1" cy="329.3" r="1.15"/><circle cx="603.6" cy="329.4" r="1.15"/><circle cx="604.7" cy="329.4" r="1.15"/><circle cx="604.2" cy="329.3" r="1.15"/><circle cx="602.7" cy="329.7" r="1.15"/><circle cx="603.7" cy="329.5" r="1.15"/><circle cx="605.4" cy="329.5" r="1.15"/><circle cx="603.9" cy="329.5" r="1.15"/><circle cx="604.5" cy="329.5" r="1.15"/><circle cx="603.0" cy="329.4" r="1.15"/><circle cx="605.4" cy="329.4" r="1.15"/><circle cx="604.4" cy="329.5" r="1.15"/><circle cx="602.2" cy="329.3" r="1.15"/><circle cx="606.6" cy="329.4" r="1.15"/><circle cx="606.3" cy="329.4" r="1.15"/><circle cx="608.9" cy="329.6" r="1.15"/><circle cx="609.2" cy="329.2" r="1.15"/><circle cx="608.1" cy="329.6" r="1.15"/><circle cx="608.1" cy="329.2" r="1.15"/><circle cx="607.5" cy="329.5" r="1.15"/><circle cx="606.9" cy="329.4" r="1.15"/><circle cx="607.7" cy="329.7" r="1.15"/><circle cx="608.1" cy="329.7" r="1.15"/><circle cx="608.8" cy="329.5" r="1.15"/><circle cx="609.4" cy="329.3" r="1.15"/><circle cx="613.6" cy="329.4" r="1.15"/><circle cx="612.9" cy="329.5" r="1.15"/><circle cx="613.3" cy="329.4" r="1.15"/><circle cx="612.2" cy="329.3" r="1.15"/><circle cx="610.2" cy="329.4" r="1.15"/><circle cx="612.7" cy="329.6" r="1.15"/><circle cx="610.1" cy="329.4" r="1.15"/><circle cx="613.6" cy="329.4" r="1.15"/><circle cx="610.7" cy="329.5" r="1.15"/><circle cx="613.5" cy="329.1" r="1.15"/><circle cx="611.6" cy="329.4" r="1.15"/><circle cx="613.1" cy="329.3" r="1.15"/><circle cx="614.1" cy="329.5" r="1.15"/><circle cx="614.0" cy="329.3" r="1.15"/><circle cx="617.4" cy="329.4" r="1.15"/><circle cx="614.7" cy="329.5" r="1.15"/><circle cx="613.8" cy="329.4" r="1.15"/><circle cx="617.6" cy="329.6" r="1.15"/><circle cx="616.2" cy="329.6" r="1.15"/><circle cx="616.5" cy="329.2" r="1.15"/><circle cx="615.2" cy="329.4" r="1.15"/><circle cx="615.9" cy="329.5" r="1.15"/><circle cx="614.5" cy="329.4" r="1.15"/><circle cx="616.0" cy="329.3" r="1.15"/><circle cx="619.8" cy="329.3" r="1.15"/><circle cx="618.6" cy="329.3" r="1.15"/><circle cx="620.3" cy="329.5" r="1.15"/><circle cx="621.4" cy="329.6" r="1.15"/><circle cx="619.2" cy="329.6" r="1.15"/><circle cx="621.3" cy="329.4" r="1.15"/><circle cx="619.7" cy="329.4" r="1.15"/><circle cx="618.4" cy="329.2" r="1.15"/><circle cx="619.7" cy="329.3" r="1.15"/><circle cx="620.2" cy="329.3" r="1.15"/><circle cx="621.2" cy="329.5" r="1.15"/><circle cx="618.2" cy="329.1" r="1.15"/><circle cx="624.3" cy="329.2" r="1.15"/><circle cx="621.6" cy="329.1" r="1.15"/><circle cx="622.2" cy="329.5" r="1.15"/><circle cx="624.3" cy="329.4" r="1.15"/><circle cx="623.9" cy="329.3" r="1.15"/><circle cx="623.8" cy="329.5" r="1.15"/><circle cx="625.4" cy="329.1" r="1.15"/><circle cx="622.7" cy="329.3" r="1.15"/><circle cx="624.3" cy="329.2" r="1.15"/><circle cx="625.0" cy="329.2" r="1.15"/><circle cx="621.9" cy="329.6" r="1.15"/><circle cx="622.6" cy="329.4" r="1.15"/><circle cx="627.3" cy="329.5" r="1.15"/><circle cx="628.8" cy="329.5" r="1.15"/><circle cx="628.3" cy="329.5" r="1.15"/><circle cx="625.9" cy="329.3" r="1.15"/><circle cx="627.0" cy="329.2" r="1.15"/><circle cx="626.6" cy="329.4" r="1.15"/><circle cx="628.4" cy="329.3" r="1.15"/><circle cx="628.6" cy="329.3" r="1.15"/><circle cx="625.8" cy="329.3" r="1.15"/><circle cx="625.6" cy="329.3" r="1.15"/><circle cx="627.4" cy="329.2" r="1.15"/><circle cx="627.0" cy="329.4" r="1.15"/><circle cx="633.0" cy="329.4" r="1.15"/><circle cx="629.4" cy="329.3" r="1.15"/><circle cx="633.2" cy="329.3" r="1.15"/><circle cx="630.1" cy="329.4" r="1.15"/><circle cx="632.1" cy="329.5" r="1.15"/><circle cx="632.1" cy="329.5" r="1.15"/><circle cx="630.8" cy="329.2" r="1.15"/><circle cx="632.5" cy="329.1" r="1.15"/><circle cx="631.9" cy="329.3" r="1.15"/><circle cx="631.9" cy="329.3" r="1.15"/><circle cx="631.9" cy="329.3" r="1.15"/><circle cx="632.3" cy="329.3" r="1.15"/><circle cx="634.1" cy="329.3" r="1.15"/><circle cx="633.5" cy="329.0" r="1.15"/><circle cx="634.3" cy="329.5" r="1.15"/><circle cx="636.5" cy="329.4" r="1.15"/><circle cx="635.6" cy="329.6" r="1.15"/><circle cx="633.3" cy="329.5" r="1.15"/><circle cx="636.6" cy="329.3" r="1.15"/><circle cx="636.8" cy="329.7" r="1.15"/><circle cx="633.9" cy="329.3" r="1.15"/><circle cx="636.3" cy="329.4" r="1.15"/><circle cx="633.7" cy="329.5" r="1.15"/><circle cx="636.7" cy="329.4" r="1.15"/><circle cx="638.2" cy="329.3" r="1.15"/><circle cx="639.4" cy="329.5" r="1.15"/><circle cx="638.9" cy="329.5" r="1.15"/><circle cx="639.1" cy="329.4" r="1.15"/><circle cx="640.6" cy="329.4" r="1.15"/><circle cx="640.5" cy="329.5" r="1.15"/><circle cx="638.5" cy="329.6" r="1.15"/><circle cx="638.7" cy="329.2" r="1.15"/><circle cx="638.5" cy="329.6" r="1.15"/><circle cx="639.0" cy="329.6" r="1.15"/><circle cx="638.6" cy="329.4" r="1.15"/><circle cx="640.7" cy="329.5" r="1.15"/><circle cx="641.7" cy="329.2" r="1.15"/><circle cx="643.2" cy="329.3" r="1.15"/><circle cx="643.1" cy="329.3" r="1.15"/><circle cx="644.4" cy="329.5" r="1.15"/><circle cx="644.7" cy="329.3" r="1.15"/><circle cx="644.7" cy="329.4" r="1.15"/><circle cx="642.0" cy="329.5" r="1.15"/><circle cx="644.4" cy="329.6" r="1.15"/><circle cx="643.4" cy="329.7" r="1.15"/><circle cx="641.8" cy="329.7" r="1.15"/><circle cx="642.5" cy="329.7" r="1.15"/><circle cx="644.1" cy="329.4" r="1.15"/><circle cx="645.4" cy="329.5" r="1.15"/><circle cx="645.1" cy="329.3" r="1.15"/><circle cx="648.2" cy="329.4" r="1.15"/><circle cx="646.9" cy="329.4" r="1.15"/><circle cx="648.6" cy="329.3" r="1.15"/><circle cx="648.1" cy="329.5" r="1.15"/><circle cx="646.8" cy="329.7" r="1.15"/><circle cx="648.4" cy="329.4" r="1.15"/><circle cx="647.9" cy="329.5" r="1.15"/><circle cx="647.3" cy="329.6" r="1.15"/><circle cx="647.0" cy="329.3" r="1.15"/><circle cx="645.9" cy="329.3" r="1.15"/><circle cx="652.6" cy="329.4" r="1.15"/><circle cx="652.8" cy="329.5" r="1.15"/><circle cx="651.0" cy="329.3" r="1.15"/><circle cx="649.6" cy="329.3" r="1.15"/><circle cx="650.3" cy="329.5" r="1.15"/><circle cx="652.6" cy="329.3" r="1.15"/><circle cx="650.2" cy="329.5" r="1.15"/><circle cx="650.7" cy="329.3" r="1.15"/><circle cx="649.5" cy="329.5" r="1.15"/><circle cx="650.4" cy="329.5" r="1.15"/><circle cx="651.1" cy="329.4" r="1.15"/><circle cx="650.3" cy="329.5" r="1.15"/><circle cx="656.4" cy="329.5" r="1.15"/><circle cx="656.3" cy="329.5" r="1.15"/><circle cx="655.2" cy="329.4" r="1.15"/><circle cx="653.3" cy="329.9" r="1.15"/><circle cx="653.5" cy="329.6" r="1.15"/><circle cx="656.3" cy="329.4" r="1.15"/><circle cx="654.0" cy="329.3" r="1.15"/><circle cx="653.2" cy="329.7" r="1.15"/><circle cx="653.0" cy="329.4" r="1.15"/><circle cx="655.0" cy="329.3" r="1.15"/><circle cx="653.5" cy="329.2" r="1.15"/><circle cx="654.7" cy="329.2" r="1.15"/><circle cx="657.9" cy="329.2" r="1.15"/><circle cx="657.1" cy="329.2" r="1.15"/><circle cx="657.8" cy="329.3" r="1.15"/><circle cx="657.9" cy="329.5" r="1.15"/><circle cx="659.4" cy="329.4" r="1.15"/><circle cx="658.2" cy="329.7" r="1.15"/><circle cx="657.7" cy="329.5" r="1.15"/><circle cx="657.7" cy="329.4" r="1.15"/><circle cx="660.3" cy="329.3" r="1.15"/><circle cx="660.6" cy="329.5" r="1.15"/><circle cx="660.6" cy="329.4" r="1.15"/><circle cx="658.1" cy="329.3" r="1.15"/><circle cx="662.7" cy="329.4" r="1.15"/><circle cx="661.6" cy="329.5" r="1.15"/><circle cx="661.7" cy="329.4" r="1.15"/><circle cx="662.5" cy="329.2" r="1.15"/><circle cx="662.6" cy="329.2" r="1.15"/><circle cx="660.8" cy="329.3" r="1.15"/><circle cx="664.1" cy="329.3" r="1.15"/><circle cx="664.5" cy="329.4" r="1.15"/><circle cx="663.7" cy="329.4" r="1.15"/><circle cx="662.5" cy="329.4" r="1.15"/><circle cx="662.5" cy="329.4" r="1.15"/><circle cx="663.0" cy="329.4" r="1.15"/><circle cx="665.7" cy="329.4" r="1.15"/><circle cx="665.8" cy="329.2" r="1.15"/><circle cx="667.9" cy="329.3" r="1.15"/><circle cx="665.8" cy="329.4" r="1.15"/><circle cx="664.9" cy="329.1" r="1.15"/><circle cx="668.4" cy="329.5" r="1.15"/><circle cx="667.2" cy="329.5" r="1.15"/><circle cx="665.5" cy="329.5" r="1.15"/><circle cx="666.1" cy="329.4" r="1.15"/><circle cx="666.6" cy="329.4" r="1.15"/><circle cx="666.3" cy="329.3" r="1.15"/><circle cx="666.2" cy="329.2" r="1.15"/><circle cx="671.0" cy="329.4" r="1.15"/><circle cx="671.1" cy="329.6" r="1.15"/><circle cx="668.8" cy="329.2" r="1.15"/><circle cx="669.3" cy="329.4" r="1.15"/><circle cx="669.6" cy="329.5" r="1.15"/><circle cx="669.4" cy="329.3" r="1.15"/><circle cx="669.7" cy="329.3" r="1.15"/><circle cx="670.0" cy="329.4" r="1.15"/><circle cx="669.9" cy="329.4" r="1.15"/><circle cx="671.0" cy="329.6" r="1.15"/><circle cx="668.9" cy="329.3" r="1.15"/><circle cx="672.4" cy="329.3" r="1.15"/><circle cx="269.0" cy="429.5" r="1.15"/><circle cx="266.7" cy="442.1" r="1.15"/><circle cx="269.8" cy="435.3" r="1.15"/><circle cx="267.0" cy="435.3" r="1.15"/><circle cx="268.6" cy="432.5" r="1.15"/><circle cx="266.6" cy="438.0" r="1.15"/><circle cx="269.7" cy="434.1" r="1.15"/><circle cx="269.1" cy="438.4" r="1.15"/><circle cx="268.6" cy="434.7" r="1.15"/><circle cx="268.1" cy="437.8" r="1.15"/><circle cx="266.4" cy="436.8" r="1.15"/><circle cx="266.7" cy="442.6" r="1.15"/><circle cx="375.1" cy="431.7" r="1.15"/><circle cx="373.5" cy="434.3" r="1.15"/><circle cx="373.0" cy="432.8" r="1.15"/><circle cx="374.4" cy="432.1" r="1.15"/><circle cx="374.9" cy="428.4" r="1.15"/><circle cx="371.7" cy="430.7" r="1.15"/><circle cx="375.1" cy="427.7" r="1.15"/><circle cx="374.3" cy="434.5" r="1.15"/><circle cx="374.1" cy="434.1" r="1.15"/><circle cx="371.7" cy="430.6" r="1.15"/><circle cx="373.7" cy="432.2" r="1.15"/><circle cx="374.5" cy="427.0" r="1.15"/><circle cx="379.3" cy="425.2" r="1.15"/><circle cx="376.7" cy="428.9" r="1.15"/><circle cx="376.3" cy="433.6" r="1.15"/><circle cx="377.3" cy="430.8" r="1.15"/><circle cx="378.2" cy="431.8" r="1.15"/><circle cx="376.3" cy="428.6" r="1.15"/><circle cx="378.4" cy="432.9" r="1.15"/><circle cx="378.6" cy="433.2" r="1.15"/><circle cx="378.5" cy="431.8" r="1.15"/><circle cx="378.5" cy="426.2" r="1.15"/><circle cx="378.8" cy="429.6" r="1.15"/><circle cx="375.8" cy="431.1" r="1.15"/><circle cx="379.5" cy="432.7" r="1.15"/><circle cx="381.1" cy="431.6" r="1.15"/><circle cx="380.2" cy="433.5" r="1.15"/><circle cx="380.5" cy="431.1" r="1.15"/><circle cx="382.0" cy="430.8" r="1.15"/><circle cx="381.0" cy="422.4" r="1.15"/><circle cx="381.2" cy="426.3" r="1.15"/><circle cx="380.9" cy="432.2" r="1.15"/><circle cx="380.3" cy="434.5" r="1.15"/><circle cx="379.3" cy="430.1" r="1.15"/><circle cx="380.8" cy="430.6" r="1.15"/><circle cx="382.3" cy="434.4" r="1.15"/><circle cx="383.9" cy="428.6" r="1.15"/><circle cx="386.2" cy="430.3" r="1.15"/><circle cx="386.8" cy="434.6" r="1.15"/><circle cx="385.5" cy="431.2" r="1.15"/><circle cx="383.2" cy="427.1" r="1.15"/><circle cx="384.1" cy="432.7" r="1.15"/><circle cx="387.0" cy="431.3" r="1.15"/><circle cx="387.0" cy="428.1" r="1.15"/><circle cx="386.4" cy="433.3" r="1.15"/><circle cx="383.6" cy="428.9" r="1.15"/><circle cx="384.6" cy="429.0" r="1.15"/><circle cx="384.8" cy="426.7" r="1.15"/><circle cx="390.0" cy="432.5" r="1.15"/><circle cx="388.5" cy="430.9" r="1.15"/><circle cx="388.4" cy="429.5" r="1.15"/><circle cx="387.1" cy="429.8" r="1.15"/><circle cx="388.6" cy="431.2" r="1.15"/><circle cx="390.2" cy="430.3" r="1.15"/><circle cx="387.2" cy="432.7" r="1.15"/><circle cx="389.7" cy="434.3" r="1.15"/><circle cx="387.8" cy="429.1" r="1.15"/><circle cx="388.1" cy="431.0" r="1.15"/><circle cx="387.2" cy="433.1" r="1.15"/><circle cx="390.0" cy="430.7" r="1.15"/><circle cx="394.5" cy="429.6" r="1.15"/><circle cx="391.1" cy="426.3" r="1.15"/><circle cx="393.5" cy="432.5" r="1.15"/><circle cx="393.7" cy="432.1" r="1.15"/><circle cx="393.6" cy="432.9" r="1.15"/><circle cx="393.8" cy="428.8" r="1.15"/><circle cx="393.8" cy="434.2" r="1.15"/><circle cx="392.9" cy="426.4" r="1.15"/><circle cx="392.8" cy="427.8" r="1.15"/><circle cx="392.1" cy="429.0" r="1.15"/><circle cx="394.1" cy="427.9" r="1.15"/><circle cx="392.4" cy="429.9" r="1.15"/><circle cx="398.6" cy="432.3" r="1.15"/><circle cx="394.9" cy="431.2" r="1.15"/><circle cx="396.1" cy="417.8" r="1.15"/><circle cx="396.5" cy="419.8" r="1.15"/><circle cx="395.9" cy="433.8" r="1.15"/><circle cx="398.4" cy="426.2" r="1.15"/><circle cx="397.5" cy="430.8" r="1.15"/><circle cx="396.0" cy="429.9" r="1.15"/><circle cx="398.5" cy="430.5" r="1.15"/><circle cx="397.3" cy="431.6" r="1.15"/><circle cx="396.2" cy="426.4" r="1.15"/><circle cx="398.4" cy="432.4" r="1.15"/><circle cx="402.0" cy="428.4" r="1.15"/><circle cx="400.9" cy="429.5" r="1.15"/><circle cx="398.9" cy="426.0" r="1.15"/><circle cx="401.2" cy="425.7" r="1.15"/><circle cx="401.6" cy="429.8" r="1.15"/><circle cx="400.1" cy="432.2" r="1.15"/><circle cx="399.9" cy="428.8" r="1.15"/><circle cx="400.5" cy="433.0" r="1.15"/><circle cx="402.5" cy="426.3" r="1.15"/><circle cx="402.6" cy="431.4" r="1.15"/><circle cx="399.3" cy="432.9" r="1.15"/><circle cx="400.7" cy="428.5" r="1.15"/><circle cx="403.1" cy="432.7" r="1.15"/><circle cx="405.2" cy="432.7" r="1.15"/><circle cx="403.9" cy="433.6" r="1.15"/><circle cx="404.0" cy="427.8" r="1.15"/><circle cx="403.2" cy="428.5" r="1.15"/><circle cx="403.6" cy="427.8" r="1.15"/><circle cx="403.4" cy="421.2" r="1.15"/><circle cx="403.8" cy="432.7" r="1.15"/><circle cx="404.1" cy="431.1" r="1.15"/><circle cx="404.0" cy="431.7" r="1.15"/><circle cx="403.0" cy="435.3" r="1.15"/><circle cx="402.8" cy="430.5" r="1.15"/><circle cx="409.6" cy="424.7" r="1.15"/><circle cx="409.9" cy="430.1" r="1.15"/><circle cx="408.6" cy="431.7" r="1.15"/><circle cx="406.9" cy="431.8" r="1.15"/><circle cx="409.9" cy="428.3" r="1.15"/><circle cx="406.9" cy="429.9" r="1.15"/><circle cx="408.2" cy="428.9" r="1.15"/><circle cx="409.7" cy="431.3" r="1.15"/><circle cx="407.0" cy="431.9" r="1.15"/><circle cx="408.9" cy="429.9" r="1.15"/><circle cx="407.9" cy="427.6" r="1.15"/><circle cx="409.1" cy="431.7" r="1.15"/><circle cx="414.1" cy="430.1" r="1.15"/><circle cx="411.7" cy="434.7" r="1.15"/><circle cx="411.7" cy="426.9" r="1.15"/><circle cx="411.0" cy="429.0" r="1.15"/><circle cx="411.0" cy="434.0" r="1.15"/><circle cx="411.3" cy="431.2" r="1.15"/><circle cx="412.7" cy="432.9" r="1.15"/><circle cx="412.1" cy="432.1" r="1.15"/><circle cx="412.8" cy="430.4" r="1.15"/><circle cx="414.1" cy="431.3" r="1.15"/><circle cx="411.4" cy="429.8" r="1.15"/><circle cx="412.8" cy="432.7" r="1.15"/><circle cx="417.5" cy="431.3" r="1.15"/><circle cx="418.1" cy="429.8" r="1.15"/><circle cx="417.5" cy="425.9" r="1.15"/><circle cx="415.6" cy="428.3" r="1.15"/><circle cx="415.8" cy="432.1" r="1.15"/><circle cx="418.3" cy="430.5" r="1.15"/><circle cx="415.7" cy="429.9" r="1.15"/><circle cx="418.2" cy="433.7" r="1.15"/><circle cx="417.6" cy="427.4" r="1.15"/><circle cx="417.1" cy="431.1" r="1.15"/><circle cx="415.5" cy="431.2" r="1.15"/><circle cx="416.1" cy="432.8" r="1.15"/><circle cx="422.0" cy="432.0" r="1.15"/><circle cx="419.3" cy="429.2" r="1.15"/><circle cx="418.8" cy="427.4" r="1.15"/><circle cx="418.4" cy="433.9" r="1.15"/><circle cx="418.9" cy="428.8" r="1.15"/><circle cx="419.6" cy="434.2" r="1.15"/><circle cx="419.4" cy="427.9" r="1.15"/><circle cx="419.5" cy="431.1" r="1.15"/><circle cx="419.9" cy="433.5" r="1.15"/><circle cx="421.1" cy="432.2" r="1.15"/><circle cx="419.8" cy="428.2" r="1.15"/><circle cx="421.3" cy="429.9" r="1.15"/><circle cx="423.6" cy="433.4" r="1.15"/><circle cx="423.3" cy="433.5" r="1.15"/><circle cx="423.4" cy="426.4" r="1.15"/><circle cx="423.2" cy="427.4" r="1.15"/><circle cx="425.8" cy="432.9" r="1.15"/><circle cx="423.4" cy="433.1" r="1.15"/><circle cx="423.5" cy="433.4" r="1.15"/><circle cx="425.1" cy="426.0" r="1.15"/><circle cx="425.7" cy="424.4" r="1.15"/><circle cx="423.8" cy="430.6" r="1.15"/><circle cx="424.3" cy="430.0" r="1.15"/><circle cx="426.1" cy="432.2" r="1.15"/><circle cx="428.4" cy="430.1" r="1.15"/><circle cx="429.9" cy="431.1" r="1.15"/><circle cx="430.0" cy="432.1" r="1.15"/><circle cx="427.1" cy="430.2" r="1.15"/><circle cx="428.0" cy="434.3" r="1.15"/><circle cx="426.9" cy="430.6" r="1.15"/><circle cx="429.8" cy="430.0" r="1.15"/><circle cx="426.6" cy="428.5" r="1.15"/><circle cx="426.5" cy="421.3" r="1.15"/><circle cx="428.5" cy="434.8" r="1.15"/><circle cx="429.6" cy="433.4" r="1.15"/><circle cx="428.4" cy="433.6" r="1.15"/><circle cx="431.7" cy="425.3" r="1.15"/><circle cx="433.4" cy="430.6" r="1.15"/><circle cx="431.6" cy="431.6" r="1.15"/><circle cx="431.7" cy="432.2" r="1.15"/><circle cx="432.6" cy="427.7" r="1.15"/><circle cx="430.4" cy="429.3" r="1.15"/><circle cx="431.4" cy="429.6" r="1.15"/><circle cx="431.8" cy="429.7" r="1.15"/><circle cx="433.6" cy="429.3" r="1.15"/><circle cx="433.5" cy="426.6" r="1.15"/><circle cx="430.4" cy="433.6" r="1.15"/><circle cx="430.8" cy="433.9" r="1.15"/><circle cx="436.5" cy="432.3" r="1.15"/><circle cx="434.1" cy="430.6" r="1.15"/><circle cx="436.7" cy="423.0" r="1.15"/><circle cx="435.2" cy="431.7" r="1.15"/><circle cx="437.1" cy="427.3" r="1.15"/><circle cx="436.6" cy="430.7" r="1.15"/><circle cx="434.4" cy="431.6" r="1.15"/><circle cx="437.4" cy="429.7" r="1.15"/><circle cx="437.5" cy="428.2" r="1.15"/><circle cx="434.3" cy="427.5" r="1.15"/><circle cx="435.3" cy="428.2" r="1.15"/><circle cx="434.7" cy="429.9" r="1.15"/><circle cx="438.6" cy="432.7" r="1.15"/><circle cx="441.1" cy="430.4" r="1.15"/><circle cx="440.4" cy="433.2" r="1.15"/><circle cx="439.5" cy="431.6" r="1.15"/><circle cx="440.0" cy="423.3" r="1.15"/><circle cx="440.5" cy="428.3" r="1.15"/><circle cx="438.9" cy="424.1" r="1.15"/><circle cx="441.0" cy="432.6" r="1.15"/><circle cx="440.1" cy="428.0" r="1.15"/><circle cx="439.6" cy="432.9" r="1.15"/><circle cx="441.5" cy="428.9" r="1.15"/><circle cx="438.0" cy="433.2" r="1.15"/><circle cx="445.7" cy="430.8" r="1.15"/><circle cx="441.9" cy="431.5" r="1.15"/><circle cx="442.4" cy="434.3" r="1.15"/><circle cx="442.4" cy="432.9" r="1.15"/><circle cx="442.9" cy="433.8" r="1.15"/><circle cx="445.2" cy="433.4" r="1.15"/><circle cx="442.2" cy="429.8" r="1.15"/><circle cx="443.9" cy="430.4" r="1.15"/><circle cx="445.3" cy="431.0" r="1.15"/><circle cx="444.8" cy="427.4" r="1.15"/><circle cx="444.7" cy="425.0" r="1.15"/><circle cx="442.1" cy="429.1" r="1.15"/><circle cx="496.6" cy="442.5" r="1.15"/><circle cx="495.3" cy="442.3" r="1.15"/><circle cx="496.1" cy="442.0" r="1.15"/><circle cx="497.0" cy="442.4" r="1.15"/><circle cx="495.3" cy="442.4" r="1.15"/><circle cx="496.9" cy="442.3" r="1.15"/><circle cx="495.8" cy="442.4" r="1.15"/><circle cx="496.7" cy="442.4" r="1.15"/><circle cx="496.4" cy="442.3" r="1.15"/><circle cx="494.3" cy="442.3" r="1.15"/><circle cx="495.2" cy="442.6" r="1.15"/><circle cx="493.5" cy="442.3" r="1.15"/><circle cx="601.4" cy="442.4" r="1.15"/><circle cx="599.1" cy="442.3" r="1.15"/><circle cx="601.4" cy="442.5" r="1.15"/><circle cx="601.3" cy="442.4" r="1.15"/><circle cx="599.2" cy="442.3" r="1.15"/><circle cx="600.5" cy="442.4" r="1.15"/><circle cx="601.3" cy="442.5" r="1.15"/><circle cx="601.4" cy="442.5" r="1.15"/><circle cx="599.7" cy="442.5" r="1.15"/><circle cx="600.0" cy="442.4" r="1.15"/><circle cx="598.7" cy="442.5" r="1.15"/><circle cx="601.3" cy="442.3" r="1.15"/><circle cx="604.7" cy="442.4" r="1.15"/><circle cx="602.2" cy="442.7" r="1.15"/><circle cx="605.6" cy="442.4" r="1.15"/><circle cx="604.2" cy="442.3" r="1.15"/><circle cx="603.3" cy="442.0" r="1.15"/><circle cx="603.7" cy="442.5" r="1.15"/><circle cx="604.2" cy="442.4" r="1.15"/><circle cx="603.8" cy="442.4" r="1.15"/><circle cx="603.6" cy="442.6" r="1.15"/><circle cx="605.4" cy="442.3" r="1.15"/><circle cx="604.2" cy="442.5" r="1.15"/><circle cx="602.1" cy="442.3" r="1.15"/><circle cx="608.8" cy="442.3" r="1.15"/><circle cx="606.7" cy="442.3" r="1.15"/><circle cx="607.7" cy="442.6" r="1.15"/><circle cx="607.6" cy="442.3" r="1.15"/><circle cx="608.1" cy="442.3" r="1.15"/><circle cx="606.6" cy="442.5" r="1.15"/><circle cx="608.6" cy="442.6" r="1.15"/><circle cx="606.2" cy="442.4" r="1.15"/><circle cx="606.4" cy="442.4" r="1.15"/><circle cx="607.9" cy="442.1" r="1.15"/><circle cx="609.7" cy="442.4" r="1.15"/><circle cx="608.3" cy="442.2" r="1.15"/><circle cx="609.8" cy="442.6" r="1.15"/><circle cx="611.3" cy="442.5" r="1.15"/><circle cx="613.6" cy="442.4" r="1.15"/><circle cx="610.6" cy="442.5" r="1.15"/><circle cx="613.4" cy="442.3" r="1.15"/><circle cx="610.1" cy="442.4" r="1.15"/><circle cx="612.1" cy="442.7" r="1.15"/><circle cx="610.4" cy="442.4" r="1.15"/><circle cx="612.8" cy="442.5" r="1.15"/><circle cx="612.1" cy="442.3" r="1.15"/><circle cx="612.5" cy="442.3" r="1.15"/><circle cx="613.3" cy="442.4" r="1.15"/><circle cx="614.7" cy="442.4" r="1.15"/><circle cx="616.0" cy="442.4" r="1.15"/><circle cx="617.5" cy="442.2" r="1.15"/><circle cx="615.0" cy="442.5" r="1.15"/><circle cx="615.2" cy="442.2" r="1.15"/><circle cx="615.0" cy="442.6" r="1.15"/><circle cx="613.9" cy="442.2" r="1.15"/><circle cx="616.1" cy="442.3" r="1.15"/><circle cx="615.6" cy="442.3" r="1.15"/><circle cx="614.7" cy="442.6" r="1.15"/><circle cx="614.7" cy="442.4" r="1.15"/><circle cx="614.5" cy="442.4" r="1.15"/><circle cx="620.3" cy="442.3" r="1.15"/><circle cx="618.5" cy="442.5" r="1.15"/><circle cx="618.7" cy="442.3" r="1.15"/><circle cx="618.2" cy="442.1" r="1.15"/><circle cx="620.3" cy="442.6" r="1.15"/><circle cx="621.1" cy="442.4" r="1.15"/><circle cx="618.3" cy="442.4" r="1.15"/><circle cx="618.5" cy="442.3" r="1.15"/><circle cx="618.0" cy="442.7" r="1.15"/><circle cx="619.0" cy="442.4" r="1.15"/><circle cx="619.1" cy="442.4" r="1.15"/><circle cx="621.0" cy="442.3" r="1.15"/><circle cx="622.3" cy="442.7" r="1.15"/><circle cx="623.5" cy="442.4" r="1.15"/><circle cx="625.2" cy="442.6" r="1.15"/><circle cx="622.7" cy="442.1" r="1.15"/><circle cx="623.2" cy="442.3" r="1.15"/><circle cx="623.7" cy="442.6" r="1.15"/><circle cx="624.9" cy="442.3" r="1.15"/><circle cx="622.6" cy="442.6" r="1.15"/><circle cx="623.3" cy="442.6" r="1.15"/><circle cx="624.0" cy="442.5" r="1.15"/><circle cx="623.9" cy="442.5" r="1.15"/><circle cx="622.6" cy="442.3" r="1.15"/><circle cx="629.2" cy="442.3" r="1.15"/><circle cx="627.5" cy="442.5" r="1.15"/><circle cx="628.2" cy="442.4" r="1.15"/><circle cx="625.8" cy="442.5" r="1.15"/><circle cx="627.7" cy="442.2" r="1.15"/><circle cx="626.1" cy="442.6" r="1.15"/><circle cx="627.9" cy="442.5" r="1.15"/><circle cx="625.9" cy="442.5" r="1.15"/><circle cx="628.0" cy="442.4" r="1.15"/><circle cx="628.7" cy="442.2" r="1.15"/><circle cx="628.6" cy="442.5" r="1.15"/><circle cx="627.2" cy="442.2" r="1.15"/><circle cx="631.0" cy="442.4" r="1.15"/><circle cx="630.4" cy="442.3" r="1.15"/><circle cx="633.3" cy="442.6" r="1.15"/><circle cx="632.7" cy="442.3" r="1.15"/><circle cx="629.6" cy="442.4" r="1.15"/><circle cx="630.6" cy="442.2" r="1.15"/><circle cx="630.5" cy="442.3" r="1.15"/><circle cx="632.3" cy="442.1" r="1.15"/><circle cx="629.6" cy="442.3" r="1.15"/><circle cx="630.3" cy="442.3" r="1.15"/><circle cx="629.6" cy="442.3" r="1.15"/><circle cx="630.7" cy="442.3" r="1.15"/><circle cx="635.3" cy="442.5" r="1.15"/><circle cx="635.6" cy="442.3" r="1.15"/><circle cx="635.9" cy="442.4" r="1.15"/><circle cx="634.2" cy="442.1" r="1.15"/><circle cx="636.7" cy="442.5" r="1.15"/><circle cx="636.2" cy="442.5" r="1.15"/><circle cx="636.8" cy="442.3" r="1.15"/><circle cx="636.1" cy="442.6" r="1.15"/><circle cx="633.5" cy="442.4" r="1.15"/><circle cx="633.9" cy="442.1" r="1.15"/><circle cx="634.6" cy="442.1" r="1.15"/><circle cx="637.1" cy="442.5" r="1.15"/><circle cx="638.0" cy="442.3" r="1.15"/><circle cx="637.4" cy="442.4" r="1.15"/><circle cx="638.1" cy="442.7" r="1.15"/><circle cx="638.0" cy="442.3" r="1.15"/><circle cx="639.7" cy="442.3" r="1.15"/><circle cx="640.6" cy="442.3" r="1.15"/><circle cx="637.6" cy="442.4" r="1.15"/><circle cx="640.8" cy="442.5" r="1.15"/><circle cx="640.4" cy="442.3" r="1.15"/><circle cx="640.6" cy="442.4" r="1.15"/><circle cx="640.3" cy="442.6" r="1.15"/><circle cx="639.8" cy="442.1" r="1.15"/><circle cx="643.1" cy="442.4" r="1.15"/><circle cx="644.4" cy="442.3" r="1.15"/><circle cx="642.4" cy="442.1" r="1.15"/><circle cx="641.2" cy="442.5" r="1.15"/><circle cx="642.5" cy="442.5" r="1.15"/><circle cx="644.7" cy="442.3" r="1.15"/><circle cx="644.0" cy="442.4" r="1.15"/><circle cx="642.6" cy="442.6" r="1.15"/><circle cx="643.8" cy="442.4" r="1.15"/><circle cx="641.5" cy="442.2" r="1.15"/><circle cx="644.5" cy="442.5" r="1.15"/><circle cx="644.4" cy="442.6" r="1.15"/><circle cx="646.9" cy="442.6" r="1.15"/><circle cx="645.5" cy="442.5" r="1.15"/><circle cx="645.8" cy="442.4" r="1.15"/><circle cx="647.3" cy="442.5" r="1.15"/><circle cx="648.0" cy="442.1" r="1.15"/><circle cx="645.4" cy="442.5" r="1.15"/><circle cx="646.4" cy="442.3" r="1.15"/><circle cx="647.7" cy="442.6" r="1.15"/><circle cx="646.2" cy="442.3" r="1.15"/><circle cx="646.4" cy="442.5" r="1.15"/><circle cx="645.3" cy="442.4" r="1.15"/><circle cx="646.7" cy="442.4" r="1.15"/><circle cx="649.9" cy="442.2" r="1.15"/><circle cx="652.1" cy="442.5" r="1.15"/><circle cx="652.4" cy="442.3" r="1.15"/><circle cx="649.0" cy="442.3" r="1.15"/><circle cx="649.6" cy="442.5" r="1.15"/><circle cx="650.5" cy="442.3" r="1.15"/><circle cx="650.4" cy="442.3" r="1.15"/><circle cx="650.1" cy="442.5" r="1.15"/><circle cx="650.8" cy="442.3" r="1.15"/><circle cx="649.4" cy="442.4" r="1.15"/><circle cx="649.1" cy="442.2" r="1.15"/><circle cx="652.5" cy="442.4" r="1.15"/><circle cx="654.5" cy="442.2" r="1.15"/><circle cx="655.0" cy="442.2" r="1.15"/><circle cx="655.0" cy="442.5" r="1.15"/><circle cx="655.8" cy="442.6" r="1.15"/><circle cx="654.1" cy="442.3" r="1.15"/><circle cx="653.3" cy="442.3" r="1.15"/><circle cx="654.2" cy="442.3" r="1.15"/><circle cx="653.9" cy="442.4" r="1.15"/><circle cx="656.7" cy="442.4" r="1.15"/><circle cx="653.2" cy="442.3" r="1.15"/><circle cx="655.7" cy="442.6" r="1.15"/><circle cx="655.6" cy="442.3" r="1.15"/><circle cx="660.6" cy="442.4" r="1.15"/><circle cx="658.7" cy="442.3" r="1.15"/><circle cx="658.4" cy="442.3" r="1.15"/><circle cx="659.3" cy="442.4" r="1.15"/><circle cx="659.6" cy="442.4" r="1.15"/><circle cx="658.2" cy="442.6" r="1.15"/><circle cx="659.5" cy="442.0" r="1.15"/><circle cx="658.7" cy="442.5" r="1.15"/><circle cx="657.0" cy="442.6" r="1.15"/><circle cx="657.2" cy="442.5" r="1.15"/><circle cx="659.8" cy="442.3" r="1.15"/><circle cx="658.4" cy="442.4" r="1.15"/><circle cx="664.1" cy="442.2" r="1.15"/><circle cx="662.6" cy="442.4" r="1.15"/><circle cx="663.0" cy="442.2" r="1.15"/><circle cx="662.4" cy="442.5" r="1.15"/><circle cx="661.9" cy="442.5" r="1.15"/><circle cx="661.5" cy="442.5" r="1.15"/><circle cx="661.5" cy="442.5" r="1.15"/><circle cx="664.3" cy="442.5" r="1.15"/><circle cx="662.8" cy="442.4" r="1.15"/><circle cx="662.6" cy="442.6" r="1.15"/><circle cx="661.0" cy="442.5" r="1.15"/><circle cx="664.6" cy="442.2" r="1.15"/><circle cx="667.2" cy="442.4" r="1.15"/><circle cx="665.1" cy="442.8" r="1.15"/><circle cx="665.3" cy="442.5" r="1.15"/><circle cx="665.2" cy="442.5" r="1.15"/><circle cx="668.2" cy="442.5" r="1.15"/><circle cx="665.2" cy="442.5" r="1.15"/><circle cx="665.9" cy="442.5" r="1.15"/><circle cx="665.8" cy="442.5" r="1.15"/><circle cx="667.5" cy="442.5" r="1.15"/><circle cx="666.5" cy="442.4" r="1.15"/><circle cx="667.1" cy="442.5" r="1.15"/><circle cx="667.2" cy="442.4" r="1.15"/><circle cx="670.2" cy="442.2" r="1.15"/><circle cx="671.3" cy="442.4" r="1.15"/><circle cx="670.1" cy="442.5" r="1.15"/><circle cx="669.5" cy="442.2" r="1.15"/><circle cx="669.4" cy="442.5" r="1.15"/><circle cx="672.0" cy="442.7" r="1.15"/><circle cx="669.2" cy="442.4" r="1.15"/><circle cx="668.8" cy="442.4" r="1.15"/><circle cx="671.3" cy="442.3" r="1.15"/><circle cx="670.3" cy="442.3" r="1.15"/><circle cx="670.4" cy="442.3" r="1.15"/><circle cx="672.3" cy="442.5" r="1.15"/><circle cx="268.9" cy="556.2" r="1.15"/><circle cx="267.1" cy="553.6" r="1.15"/><circle cx="266.7" cy="556.3" r="1.15"/><circle cx="270.0" cy="557.1" r="1.15"/><circle cx="269.8" cy="554.0" r="1.15"/><circle cx="268.6" cy="558.0" r="1.15"/><circle cx="269.8" cy="556.3" r="1.15"/><circle cx="270.1" cy="557.2" r="1.15"/><circle cx="267.3" cy="560.2" r="1.15"/><circle cx="268.8" cy="559.9" r="1.15"/><circle cx="269.6" cy="558.4" r="1.15"/><circle cx="269.5" cy="562.1" r="1.15"/><circle cx="374.3" cy="551.4" r="1.15"/><circle cx="373.1" cy="553.8" r="1.15"/><circle cx="371.5" cy="555.4" r="1.15"/><circle cx="372.6" cy="552.2" r="1.15"/><circle cx="371.6" cy="545.6" r="1.15"/><circle cx="374.2" cy="552.4" r="1.15"/><circle cx="374.6" cy="547.6" r="1.15"/><circle cx="371.6" cy="549.0" r="1.15"/><circle cx="372.0" cy="551.4" r="1.15"/><circle cx="373.2" cy="542.7" r="1.15"/><circle cx="374.4" cy="552.3" r="1.15"/><circle cx="374.0" cy="551.7" r="1.15"/><circle cx="376.1" cy="554.6" r="1.15"/><circle cx="379.2" cy="556.3" r="1.15"/><circle cx="375.9" cy="551.6" r="1.15"/><circle cx="376.4" cy="553.2" r="1.15"/><circle cx="375.5" cy="541.8" r="1.15"/><circle cx="377.5" cy="554.6" r="1.15"/><circle cx="376.5" cy="551.6" r="1.15"/><circle cx="379.1" cy="555.1" r="1.15"/><circle cx="378.9" cy="553.2" r="1.15"/><circle cx="375.9" cy="545.6" r="1.15"/><circle cx="376.9" cy="553.8" r="1.15"/><circle cx="377.1" cy="553.9" r="1.15"/><circle cx="380.0" cy="549.3" r="1.15"/><circle cx="383.0" cy="555.7" r="1.15"/><circle cx="380.7" cy="552.8" r="1.15"/><circle cx="379.3" cy="554.8" r="1.15"/><circle cx="382.9" cy="550.6" r="1.15"/><circle cx="382.8" cy="555.7" r="1.15"/><circle cx="381.3" cy="555.6" r="1.15"/><circle cx="379.4" cy="548.3" r="1.15"/><circle cx="381.8" cy="550.1" r="1.15"/><circle cx="381.2" cy="553.2" r="1.15"/><circle cx="380.5" cy="555.8" r="1.15"/><circle cx="380.5" cy="552.5" r="1.15"/><circle cx="386.4" cy="555.5" r="1.15"/><circle cx="384.5" cy="554.4" r="1.15"/><circle cx="385.2" cy="554.2" r="1.15"/><circle cx="386.2" cy="558.3" r="1.15"/><circle cx="385.3" cy="553.1" r="1.15"/><circle cx="385.5" cy="547.9" r="1.15"/><circle cx="386.7" cy="549.7" r="1.15"/><circle cx="386.8" cy="556.0" r="1.15"/><circle cx="383.5" cy="553.6" r="1.15"/><circle cx="385.5" cy="540.2" r="1.15"/><circle cx="385.7" cy="553.1" r="1.15"/><circle cx="385.9" cy="551.3" r="1.15"/><circle cx="387.4" cy="555.2" r="1.15"/><circle cx="387.8" cy="554.6" r="1.15"/><circle cx="389.8" cy="551.6" r="1.15"/><circle cx="388.4" cy="548.0" r="1.15"/><circle cx="389.4" cy="555.7" r="1.15"/><circle cx="388.3" cy="551.5" r="1.15"/><circle cx="388.7" cy="549.1" r="1.15"/><circle cx="390.6" cy="551.8" r="1.15"/><circle cx="389.8" cy="552.5" r="1.15"/><circle cx="389.9" cy="551.2" r="1.15"/><circle cx="389.3" cy="554.2" r="1.15"/><circle cx="387.3" cy="555.2" r="1.15"/><circle cx="391.4" cy="552.5" r="1.15"/><circle cx="391.1" cy="555.8" r="1.15"/><circle cx="394.4" cy="555.4" r="1.15"/><circle cx="391.5" cy="548.9" r="1.15"/><circle cx="394.2" cy="549.0" r="1.15"/><circle cx="391.7" cy="553.1" r="1.15"/><circle cx="391.9" cy="554.6" r="1.15"/><circle cx="394.5" cy="551.9" r="1.15"/><circle cx="392.8" cy="552.1" r="1.15"/><circle cx="394.9" cy="554.4" r="1.15"/><circle cx="391.6" cy="546.3" r="1.15"/><circle cx="391.2" cy="556.6" r="1.15"/><circle cx="395.7" cy="542.5" r="1.15"/><circle cx="398.1" cy="551.1" r="1.15"/><circle cx="396.3" cy="549.2" r="1.15"/><circle cx="395.8" cy="554.4" r="1.15"/><circle cx="397.1" cy="554.6" r="1.15"/><circle cx="395.8" cy="554.4" r="1.15"/><circle cx="398.5" cy="552.3" r="1.15"/><circle cx="397.0" cy="554.7" r="1.15"/><circle cx="395.2" cy="556.1" r="1.15"/><circle cx="396.0" cy="551.6" r="1.15"/><circle cx="396.0" cy="553.6" r="1.15"/><circle cx="397.0" cy="549.7" r="1.15"/><circle cx="402.3" cy="551.3" r="1.15"/><circle cx="400.6" cy="554.2" r="1.15"/><circle cx="401.1" cy="554.4" r="1.15"/><circle cx="401.8" cy="553.5" r="1.15"/><circle cx="402.4" cy="546.2" r="1.15"/><circle cx="401.4" cy="548.5" r="1.15"/><circle cx="401.7" cy="549.2" r="1.15"/><circle cx="401.7" cy="554.6" r="1.15"/><circle cx="401.9" cy="556.9" r="1.15"/><circle cx="399.8" cy="552.8" r="1.15"/><circle cx="402.5" cy="555.5" r="1.15"/><circle cx="399.2" cy="551.2" r="1.15"/><circle cx="404.4" cy="550.5" r="1.15"/><circle cx="404.7" cy="554.4" r="1.15"/><circle cx="403.1" cy="555.3" r="1.15"/><circle cx="404.2" cy="553.0" r="1.15"/><circle cx="405.6" cy="555.9" r="1.15"/><circle cx="405.0" cy="547.0" r="1.15"/><circle cx="403.4" cy="551.8" r="1.15"/><circle cx="403.8" cy="550.5" r="1.15"/><circle cx="403.9" cy="549.5" r="1.15"/><circle cx="405.7" cy="558.5" r="1.15"/><circle cx="404.0" cy="556.3" r="1.15"/><circle cx="403.2" cy="543.9" r="1.15"/><circle cx="409.5" cy="554.8" r="1.15"/><circle cx="409.8" cy="553.0" r="1.15"/><circle cx="410.0" cy="550.1" r="1.15"/><circle cx="406.7" cy="555.9" r="1.15"/><circle cx="410.3" cy="550.5" r="1.15"/><circle cx="410.4" cy="553.5" r="1.15"/><circle cx="409.0" cy="551.5" r="1.15"/><circle cx="409.8" cy="554.6" r="1.15"/><circle cx="410.5" cy="549.0" r="1.15"/><circle cx="407.0" cy="548.3" r="1.15"/><circle cx="407.9" cy="552.9" r="1.15"/><circle cx="408.6" cy="555.2" r="1.15"/><circle cx="414.3" cy="552.3" r="1.15"/><circle cx="411.6" cy="553.8" r="1.15"/><circle cx="411.8" cy="547.9" r="1.15"/><circle cx="413.7" cy="546.7" r="1.15"/><circle cx="412.9" cy="553.1" r="1.15"/><circle cx="413.9" cy="550.5" r="1.15"/><circle cx="411.0" cy="547.3" r="1.15"/><circle cx="411.6" cy="553.3" r="1.15"/><circle cx="414.0" cy="552.4" r="1.15"/><circle cx="413.7" cy="556.7" r="1.15"/><circle cx="410.6" cy="552.5" r="1.15"/><circle cx="413.1" cy="551.4" r="1.15"/><circle cx="417.3" cy="551.7" r="1.15"/><circle cx="418.2" cy="551.3" r="1.15"/><circle cx="418.3" cy="557.1" r="1.15"/><circle cx="418.1" cy="551.2" r="1.15"/><circle cx="416.1" cy="555.2" r="1.15"/><circle cx="417.7" cy="547.9" r="1.15"/><circle cx="416.1" cy="552.6" r="1.15"/><circle cx="416.5" cy="556.3" r="1.15"/><circle cx="418.2" cy="555.5" r="1.15"/><circle cx="414.7" cy="548.2" r="1.15"/><circle cx="414.7" cy="547.2" r="1.15"/><circle cx="417.8" cy="552.1" r="1.15"/><circle cx="418.4" cy="554.8" r="1.15"/><circle cx="421.2" cy="557.7" r="1.15"/><circle cx="418.6" cy="548.6" r="1.15"/><circle cx="419.5" cy="556.1" r="1.15"/><circle cx="421.1" cy="552.6" r="1.15"/><circle cx="420.5" cy="553.7" r="1.15"/><circle cx="419.1" cy="550.3" r="1.15"/><circle cx="419.5" cy="551.9" r="1.15"/><circle cx="420.9" cy="546.9" r="1.15"/><circle cx="418.7" cy="554.3" r="1.15"/><circle cx="420.5" cy="553.6" r="1.15"/><circle cx="420.4" cy="553.1" r="1.15"/><circle cx="423.7" cy="551.6" r="1.15"/><circle cx="426.0" cy="553.2" r="1.15"/><circle cx="423.2" cy="550.6" r="1.15"/><circle cx="422.9" cy="554.3" r="1.15"/><circle cx="422.5" cy="553.1" r="1.15"/><circle cx="423.6" cy="551.0" r="1.15"/><circle cx="422.3" cy="552.2" r="1.15"/><circle cx="424.3" cy="552.4" r="1.15"/><circle cx="424.6" cy="552.0" r="1.15"/><circle cx="423.9" cy="555.6" r="1.15"/><circle cx="426.0" cy="552.7" r="1.15"/><circle cx="425.2" cy="554.5" r="1.15"/><circle cx="426.4" cy="555.1" r="1.15"/><circle cx="426.7" cy="554.9" r="1.15"/><circle cx="426.7" cy="555.1" r="1.15"/><circle cx="426.5" cy="555.9" r="1.15"/><circle cx="429.6" cy="556.3" r="1.15"/><circle cx="427.8" cy="552.9" r="1.15"/><circle cx="429.2" cy="557.1" r="1.15"/><circle cx="430.0" cy="553.4" r="1.15"/><circle cx="428.1" cy="552.8" r="1.15"/><circle cx="428.8" cy="557.0" r="1.15"/><circle cx="428.4" cy="546.8" r="1.15"/><circle cx="427.1" cy="554.8" r="1.15"/><circle cx="432.6" cy="554.6" r="1.15"/><circle cx="430.5" cy="556.5" r="1.15"/><circle cx="431.9" cy="546.1" r="1.15"/><circle cx="431.9" cy="554.3" r="1.15"/><circle cx="433.1" cy="551.0" r="1.15"/><circle cx="432.1" cy="554.5" r="1.15"/><circle cx="432.8" cy="555.7" r="1.15"/><circle cx="431.7" cy="554.3" r="1.15"/><circle cx="432.4" cy="544.9" r="1.15"/><circle cx="432.4" cy="555.5" r="1.15"/><circle cx="431.3" cy="551.6" r="1.15"/><circle cx="432.1" cy="557.1" r="1.15"/><circle cx="437.8" cy="554.9" r="1.15"/><circle cx="435.2" cy="549.0" r="1.15"/><circle cx="435.1" cy="554.7" r="1.15"/><circle cx="436.2" cy="550.6" r="1.15"/><circle cx="437.8" cy="549.1" r="1.15"/><circle cx="434.2" cy="544.8" r="1.15"/><circle cx="436.8" cy="553.3" r="1.15"/><circle cx="434.7" cy="554.2" r="1.15"/><circle cx="434.8" cy="550.5" r="1.15"/><circle cx="434.8" cy="550.2" r="1.15"/><circle cx="436.7" cy="553.6" r="1.15"/><circle cx="436.5" cy="550.7" r="1.15"/><circle cx="439.3" cy="546.4" r="1.15"/><circle cx="441.2" cy="554.2" r="1.15"/><circle cx="439.9" cy="555.9" r="1.15"/><circle cx="441.6" cy="549.0" r="1.15"/><circle cx="441.2" cy="551.4" r="1.15"/><circle cx="438.1" cy="554.8" r="1.15"/><circle cx="439.8" cy="553.8" r="1.15"/><circle cx="439.0" cy="550.7" r="1.15"/><circle cx="440.6" cy="554.0" r="1.15"/><circle cx="439.9" cy="553.1" r="1.15"/><circle cx="440.8" cy="556.3" r="1.15"/><circle cx="440.5" cy="554.1" r="1.15"/><circle cx="444.7" cy="554.3" r="1.15"/><circle cx="443.6" cy="555.6" r="1.15"/><circle cx="444.1" cy="556.4" r="1.15"/><circle cx="442.7" cy="555.1" r="1.15"/><circle cx="445.1" cy="553.6" r="1.15"/><circle cx="442.2" cy="551.7" r="1.15"/><circle cx="443.2" cy="551.7" r="1.15"/><circle cx="442.8" cy="551.0" r="1.15"/><circle cx="442.3" cy="547.7" r="1.15"/><circle cx="444.6" cy="555.0" r="1.15"/><circle cx="445.4" cy="551.3" r="1.15"/><circle cx="442.7" cy="548.0" r="1.15"/><circle cx="496.5" cy="563.0" r="1.15"/><circle cx="495.3" cy="562.7" r="1.15"/><circle cx="494.2" cy="562.9" r="1.15"/><circle cx="493.4" cy="563.1" r="1.15"/><circle cx="495.1" cy="562.8" r="1.15"/><circle cx="497.2" cy="562.9" r="1.15"/><circle cx="493.6" cy="562.8" r="1.15"/><circle cx="493.6" cy="562.6" r="1.15"/><circle cx="494.1" cy="562.8" r="1.15"/><circle cx="494.9" cy="562.9" r="1.15"/><circle cx="496.5" cy="563.0" r="1.15"/><circle cx="495.1" cy="562.8" r="1.15"/><circle cx="599.3" cy="562.8" r="1.15"/><circle cx="600.0" cy="562.7" r="1.15"/><circle cx="599.8" cy="563.0" r="1.15"/><circle cx="599.8" cy="562.9" r="1.15"/><circle cx="600.9" cy="562.8" r="1.15"/><circle cx="601.3" cy="562.8" r="1.15"/><circle cx="600.9" cy="562.9" r="1.15"/><circle cx="601.2" cy="562.8" r="1.15"/><circle cx="599.3" cy="562.7" r="1.15"/><circle cx="601.5" cy="563.0" r="1.15"/><circle cx="600.7" cy="563.0" r="1.15"/><circle cx="601.9" cy="562.8" r="1.15"/><circle cx="604.5" cy="562.6" r="1.15"/><circle cx="604.8" cy="562.7" r="1.15"/><circle cx="602.1" cy="562.9" r="1.15"/><circle cx="603.8" cy="562.7" r="1.15"/><circle cx="602.9" cy="562.9" r="1.15"/><circle cx="603.8" cy="562.8" r="1.15"/><circle cx="604.8" cy="562.7" r="1.15"/><circle cx="605.3" cy="562.9" r="1.15"/><circle cx="604.4" cy="562.7" r="1.15"/><circle cx="603.0" cy="562.6" r="1.15"/><circle cx="605.7" cy="562.8" r="1.15"/><circle cx="605.5" cy="562.9" r="1.15"/><circle cx="607.6" cy="562.8" r="1.15"/><circle cx="606.8" cy="562.6" r="1.15"/><circle cx="607.4" cy="562.7" r="1.15"/><circle cx="607.5" cy="562.9" r="1.15"/><circle cx="605.9" cy="562.9" r="1.15"/><circle cx="607.8" cy="563.0" r="1.15"/><circle cx="606.8" cy="562.8" r="1.15"/><circle cx="609.4" cy="562.7" r="1.15"/><circle cx="609.7" cy="562.7" r="1.15"/><circle cx="609.4" cy="562.7" r="1.15"/><circle cx="608.4" cy="563.0" r="1.15"/><circle cx="609.2" cy="562.9" r="1.15"/><circle cx="612.8" cy="562.8" r="1.15"/><circle cx="613.3" cy="562.7" r="1.15"/><circle cx="612.8" cy="562.6" r="1.15"/><circle cx="611.4" cy="563.0" r="1.15"/><circle cx="610.7" cy="562.6" r="1.15"/><circle cx="612.8" cy="562.6" r="1.15"/><circle cx="612.9" cy="563.1" r="1.15"/><circle cx="613.5" cy="562.7" r="1.15"/><circle cx="611.5" cy="562.8" r="1.15"/><circle cx="611.2" cy="562.9" r="1.15"/><circle cx="611.3" cy="562.7" r="1.15"/><circle cx="612.0" cy="562.8" r="1.15"/><circle cx="616.0" cy="562.7" r="1.15"/><circle cx="617.6" cy="562.9" r="1.15"/><circle cx="616.8" cy="562.9" r="1.15"/><circle cx="614.0" cy="562.6" r="1.15"/><circle cx="614.9" cy="562.8" r="1.15"/><circle cx="614.4" cy="562.5" r="1.15"/><circle cx="616.1" cy="562.8" r="1.15"/><circle cx="614.2" cy="562.5" r="1.15"/><circle cx="616.7" cy="562.5" r="1.15"/><circle cx="613.9" cy="562.6" r="1.15"/><circle cx="616.6" cy="563.1" r="1.15"/><circle cx="614.6" cy="562.7" r="1.15"/><circle cx="619.3" cy="563.0" r="1.15"/><circle cx="619.4" cy="562.8" r="1.15"/><circle cx="619.2" cy="562.7" r="1.15"/><circle cx="619.1" cy="562.8" r="1.15"/><circle cx="621.1" cy="562.9" r="1.15"/><circle cx="620.3" cy="562.7" r="1.15"/><circle cx="621.2" cy="562.8" r="1.15"/><circle cx="619.8" cy="562.9" r="1.15"/><circle cx="618.7" cy="562.7" r="1.15"/><circle cx="619.1" cy="562.6" r="1.15"/><circle cx="621.0" cy="562.9" r="1.15"/><circle cx="620.3" cy="562.8" r="1.15"/><circle cx="622.0" cy="562.8" r="1.15"/><circle cx="623.0" cy="562.8" r="1.15"/><circle cx="624.5" cy="562.7" r="1.15"/><circle cx="622.2" cy="562.7" r="1.15"/><circle cx="624.7" cy="562.7" r="1.15"/><circle cx="624.9" cy="562.8" r="1.15"/><circle cx="624.4" cy="562.7" r="1.15"/><circle cx="624.5" cy="562.7" r="1.15"/><circle cx="622.1" cy="562.8" r="1.15"/><circle cx="623.3" cy="563.0" r="1.15"/><circle cx="622.7" cy="562.9" r="1.15"/><circle cx="624.6" cy="562.8" r="1.15"/><circle cx="625.7" cy="562.7" r="1.15"/><circle cx="627.0" cy="562.7" r="1.15"/><circle cx="626.9" cy="563.2" r="1.15"/><circle cx="627.4" cy="562.7" r="1.15"/><circle cx="628.6" cy="562.5" r="1.15"/><circle cx="629.3" cy="562.8" r="1.15"/><circle cx="626.7" cy="562.7" r="1.15"/><circle cx="628.3" cy="562.7" r="1.15"/><circle cx="626.5" cy="563.0" r="1.15"/><circle cx="626.1" cy="562.5" r="1.15"/><circle cx="628.1" cy="562.8" r="1.15"/><circle cx="625.8" cy="562.8" r="1.15"/><circle cx="631.3" cy="562.8" r="1.15"/><circle cx="632.9" cy="562.7" r="1.15"/><circle cx="631.1" cy="562.9" r="1.15"/><circle cx="632.5" cy="563.0" r="1.15"/><circle cx="631.2" cy="562.5" r="1.15"/><circle cx="632.9" cy="562.9" r="1.15"/><circle cx="629.9" cy="562.5" r="1.15"/><circle cx="632.9" cy="562.5" r="1.15"/><circle cx="629.9" cy="563.0" r="1.15"/><circle cx="633.0" cy="562.8" r="1.15"/><circle cx="630.9" cy="563.1" r="1.15"/><circle cx="630.3" cy="562.8" r="1.15"/><circle cx="635.4" cy="563.0" r="1.15"/><circle cx="635.6" cy="562.9" r="1.15"/><circle cx="634.4" cy="562.5" r="1.15"/><circle cx="634.2" cy="562.7" r="1.15"/><circle cx="635.1" cy="562.7" r="1.15"/><circle cx="634.1" cy="563.1" r="1.15"/><circle cx="637.1" cy="562.5" r="1.15"/><circle cx="634.4" cy="562.4" r="1.15"/><circle cx="634.7" cy="562.8" r="1.15"/><circle cx="633.6" cy="563.0" r="1.15"/><circle cx="633.7" cy="563.0" r="1.15"/><circle cx="636.7" cy="562.6" r="1.15"/><circle cx="639.7" cy="562.8" r="1.15"/><circle cx="640.4" cy="562.9" r="1.15"/><circle cx="638.0" cy="562.9" r="1.15"/><circle cx="640.6" cy="563.1" r="1.15"/><circle cx="638.2" cy="562.9" r="1.15"/><circle cx="638.2" cy="563.2" r="1.15"/><circle cx="639.9" cy="562.9" r="1.15"/><circle cx="637.9" cy="562.8" r="1.15"/><circle cx="639.4" cy="562.9" r="1.15"/><circle cx="639.2" cy="563.2" r="1.15"/><circle cx="640.9" cy="562.8" r="1.15"/><circle cx="638.2" cy="562.7" r="1.15"/><circle cx="643.2" cy="562.5" r="1.15"/><circle cx="642.2" cy="562.9" r="1.15"/><circle cx="642.4" cy="562.7" r="1.15"/><circle cx="643.9" cy="563.0" r="1.15"/><circle cx="643.5" cy="562.9" r="1.15"/><circle cx="643.3" cy="563.0" r="1.15"/><circle cx="644.3" cy="562.7" r="1.15"/><circle cx="644.4" cy="562.9" r="1.15"/><circle cx="641.2" cy="563.0" r="1.15"/><circle cx="644.2" cy="562.7" r="1.15"/><circle cx="642.9" cy="562.8" r="1.15"/><circle cx="643.5" cy="562.9" r="1.15"/><circle cx="645.7" cy="563.1" r="1.15"/><circle cx="646.5" cy="562.7" r="1.15"/><circle cx="648.3" cy="563.0" r="1.15"/><circle cx="648.8" cy="562.6" r="1.15"/><circle cx="645.1" cy="562.9" r="1.15"/><circle cx="648.8" cy="562.5" r="1.15"/><circle cx="647.8" cy="562.9" r="1.15"/><circle cx="647.4" cy="563.0" r="1.15"/><circle cx="646.0" cy="562.9" r="1.15"/><circle cx="647.7" cy="563.0" r="1.15"/><circle cx="645.7" cy="562.7" r="1.15"/><circle cx="649.0" cy="562.9" r="1.15"/><circle cx="651.6" cy="562.8" r="1.15"/><circle cx="652.5" cy="562.9" r="1.15"/><circle cx="651.2" cy="562.6" r="1.15"/><circle cx="649.8" cy="562.7" r="1.15"/><circle cx="649.1" cy="562.7" r="1.15"/><circle cx="652.5" cy="562.8" r="1.15"/><circle cx="650.9" cy="562.6" r="1.15"/><circle cx="651.6" cy="563.1" r="1.15"/><circle cx="652.1" cy="562.8" r="1.15"/><circle cx="652.2" cy="562.6" r="1.15"/><circle cx="650.4" cy="562.7" r="1.15"/><circle cx="652.3" cy="562.8" r="1.15"/><circle cx="654.5" cy="562.6" r="1.15"/><circle cx="653.1" cy="562.9" r="1.15"/><circle cx="653.0" cy="562.9" r="1.15"/><circle cx="655.3" cy="562.7" r="1.15"/><circle cx="654.5" cy="562.7" r="1.15"/><circle cx="655.4" cy="562.8" r="1.15"/><circle cx="653.1" cy="562.8" r="1.15"/><circle cx="655.7" cy="563.1" r="1.15"/><circle cx="655.1" cy="562.8" r="1.15"/><circle cx="653.4" cy="562.8" r="1.15"/><circle cx="656.6" cy="562.9" r="1.15"/><circle cx="655.5" cy="562.8" r="1.15"/><circle cx="658.5" cy="562.9" r="1.15"/><circle cx="660.2" cy="562.7" r="1.15"/><circle cx="657.0" cy="562.8" r="1.15"/><circle cx="660.7" cy="562.7" r="1.15"/><circle cx="657.7" cy="562.9" r="1.15"/><circle cx="658.7" cy="562.9" r="1.15"/><circle cx="657.5" cy="562.9" r="1.15"/><circle cx="659.9" cy="562.9" r="1.15"/><circle cx="659.1" cy="562.8" r="1.15"/><circle cx="659.2" cy="562.7" r="1.15"/><circle cx="656.9" cy="562.8" r="1.15"/><circle cx="657.3" cy="562.8" r="1.15"/><circle cx="664.2" cy="563.0" r="1.15"/><circle cx="662.0" cy="562.7" r="1.15"/><circle cx="662.3" cy="562.8" r="1.15"/><circle cx="662.6" cy="562.6" r="1.15"/><circle cx="663.3" cy="562.4" r="1.15"/><circle cx="661.5" cy="562.7" r="1.15"/><circle cx="663.7" cy="563.1" r="1.15"/><circle cx="664.0" cy="562.9" r="1.15"/><circle cx="664.4" cy="562.9" r="1.15"/><circle cx="662.0" cy="563.0" r="1.15"/><circle cx="662.5" cy="562.7" r="1.15"/><circle cx="664.6" cy="562.7" r="1.15"/><circle cx="665.0" cy="562.7" r="1.15"/><circle cx="668.3" cy="562.9" r="1.15"/><circle cx="667.0" cy="562.7" r="1.15"/><circle cx="665.9" cy="562.7" r="1.15"/><circle cx="664.7" cy="562.7" r="1.15"/><circle cx="666.4" cy="562.9" r="1.15"/><circle cx="667.3" cy="562.8" r="1.15"/><circle cx="665.2" cy="562.9" r="1.15"/><circle cx="667.8" cy="562.9" r="1.15"/><circle cx="665.7" cy="562.8" r="1.15"/><circle cx="665.4" cy="562.7" r="1.15"/><circle cx="668.2" cy="562.9" r="1.15"/><circle cx="669.3" cy="562.7" r="1.15"/><circle cx="669.1" cy="563.1" r="1.15"/><circle cx="672.2" cy="563.1" r="1.15"/><circle cx="669.4" cy="562.7" r="1.15"/><circle cx="670.7" cy="562.8" r="1.15"/><circle cx="669.6" cy="562.6" r="1.15"/><circle cx="671.1" cy="562.8" r="1.15"/><circle cx="669.3" cy="562.6" r="1.15"/><circle cx="668.9" cy="562.7" r="1.15"/><circle cx="670.5" cy="563.0" r="1.15"/><circle cx="672.5" cy="562.8" r="1.15"/><circle cx="668.8" cy="563.1" r="1.15"/></g>
<defs><pattern id="gwe" width="3.06" height="3.045" patternUnits="userSpaceOnUse"><circle cx="1.53" cy="1.52" r="1.05" fill="#979797"/></pattern></defs><rect x="44.2" y="652.7" width="78.5" height="52.6" fill="#7f7f7f"/><g transform="translate(47.23 654.94)"><rect width="73.44" height="48.72" fill="url(#gwe)"/></g><rect x="136.3" y="652.7" width="78.5" height="52.6" fill="#7f7f7f"/><g transform="translate(139.23 654.94)"><rect width="73.44" height="48.72" fill="url(#gwe)"/></g><rect x="44.2" y="752.8" width="78.5" height="53.0" fill="#7f7f7f"/><g transform="translate(47.23 755.24)"><rect width="73.44" height="48.72" fill="url(#gwe)"/></g><rect x="136.3" y="752.8" width="78.5" height="53.0" fill="#7f7f7f"/><g transform="translate(139.23 755.24)"><rect width="73.44" height="48.72" fill="url(#gwe)"/></g><rect x="44.2" y="849.8" width="78.5" height="52.4" fill="#7f7f7f"/><g transform="translate(47.23 851.94)"><rect width="73.44" height="48.72" fill="url(#gwe)"/></g><rect x="136.3" y="849.8" width="78.5" height="52.4" fill="#7f7f7f"/><g transform="translate(139.23 851.94)"><rect width="73.44" height="48.72" fill="url(#gwe)"/></g><path d="M113.0 662.6h0M57.9 665.6h0M113.0 665.6h0M113.0 668.6h0M85.5 671.7h0M113.0 671.7h0M113.0 674.7h0M57.9 677.8h0M113.0 677.8h0M54.9 680.8h0M54.9 683.9h0M85.5 683.9h0M54.9 686.9h0M57.9 686.9h0M85.5 686.9h0M54.9 690.0h0M54.9 693.0h0M85.5 693.0h0M54.9 696.0h0M85.5 696.0h0M149.9 662.6h0M153.0 662.6h0M177.5 662.6h0M180.5 662.6h0M205.0 662.6h0M149.9 665.6h0M153.0 665.6h0M177.5 665.6h0M180.5 665.6h0M205.0 665.6h0M149.9 668.6h0M153.0 668.6h0M177.5 668.6h0M180.5 668.6h0M205.0 668.6h0M149.9 671.7h0M177.5 671.7h0M180.5 671.7h0M205.0 671.7h0M149.9 674.7h0M153.0 674.7h0M177.5 674.7h0M180.5 674.7h0M205.0 674.7h0M149.9 677.8h0M153.0 677.8h0M177.5 677.8h0M180.5 677.8h0M205.0 677.8h0M146.9 680.8h0M149.9 680.8h0M153.0 680.8h0M177.5 680.8h0M180.5 680.8h0M146.9 683.9h0M149.9 683.9h0M153.0 683.9h0M177.5 683.9h0M180.5 683.9h0M146.9 686.9h0M149.9 686.9h0M153.0 686.9h0M177.5 686.9h0M180.5 686.9h0M146.9 690.0h0M153.0 690.0h0M177.5 690.0h0M180.5 690.0h0M146.9 693.0h0M149.9 693.0h0M153.0 693.0h0M177.5 693.0h0M180.5 693.0h0M146.9 696.0h0M149.9 696.0h0M153.0 696.0h0M177.5 696.0h0M180.5 696.0h0M177.5 762.9h0M205.0 762.9h0M149.9 765.9h0M153.0 765.9h0M205.0 765.9h0M149.9 768.9h0M177.5 768.9h0M205.0 768.9h0M149.9 772.0h0M153.0 772.0h0M205.0 772.0h0M149.9 775.0h0M180.5 775.0h0M205.0 775.0h0M149.9 778.1h0M153.0 778.1h0M177.5 778.1h0M205.0 778.1h0M146.9 781.1h0M149.9 781.1h0M177.5 781.1h0M146.9 784.2h0M177.5 784.2h0M146.9 787.2h0M177.5 787.2h0M180.5 787.2h0M146.9 790.3h0M149.9 790.3h0M177.5 790.3h0M146.9 793.3h0M149.9 793.3h0M177.5 793.3h0M146.9 796.3h0M149.9 796.3h0M177.5 796.3h0M180.5 796.3h0M113.0 859.6h0M113.0 862.6h0M113.0 865.6h0M113.0 868.7h0M113.0 871.7h0M88.5 874.8h0M113.0 874.8h0M54.9 877.8h0M54.9 880.9h0M54.9 883.9h0M85.5 883.9h0M54.9 887.0h0M54.9 890.0h0M88.5 890.0h0M54.9 893.0h0M149.9 859.6h0M177.5 859.6h0M205.0 859.6h0M177.5 862.6h0M205.0 862.6h0M205.0 865.6h0M149.9 868.7h0M177.5 868.7h0M180.5 868.7h0M205.0 868.7h0M149.9 871.7h0M177.5 871.7h0M205.0 871.7h0M149.9 874.8h0M177.5 874.8h0M205.0 874.8h0M146.9 877.8h0M149.9 877.8h0M177.5 877.8h0M146.9 880.9h0M153.0 880.9h0M177.5 880.9h0M146.9 883.9h0M149.9 883.9h0M177.5 883.9h0M146.9 887.0h0M149.9 887.0h0M177.5 887.0h0M180.5 887.0h0M146.9 890.0h0M177.5 890.0h0M180.5 890.0h0M146.9 893.0h0M149.9 893.0h0M177.5 893.0h0M180.5 893.0h0" stroke="#000004" stroke-width="2.5" stroke-linecap="round" fill="none"/><path d="M57.9 662.6h0M85.5 662.6h0M85.5 665.6h0M57.9 668.6h0M61.0 668.6h0M85.5 668.6h0M57.9 671.7h0M57.9 674.7h0M85.5 674.7h0M85.5 677.8h0M57.9 680.8h0M85.5 680.8h0M57.9 683.9h0M88.5 683.9h0M57.9 690.0h0M85.5 690.0h0M57.9 693.0h0M57.9 696.0h0M156.1 662.6h0M153.0 671.7h0M183.6 680.8h0M149.9 690.0h0M113.0 775.0h0M54.9 781.1h0M57.9 781.1h0M54.9 784.2h0M54.9 793.3h0M149.9 762.9h0M153.0 762.9h0M180.5 762.9h0M177.5 765.9h0M180.5 765.9h0M153.0 768.9h0M180.5 768.9h0M177.5 772.0h0M180.5 772.0h0M153.0 775.0h0M177.5 775.0h0M180.5 778.1h0M153.0 781.1h0M180.5 781.1h0M149.9 784.2h0M153.0 784.2h0M180.5 784.2h0M149.9 787.2h0M153.0 787.2h0M153.0 790.3h0M180.5 790.3h0M153.0 793.3h0M180.5 793.3h0M57.9 859.6h0M85.5 859.6h0M57.9 862.6h0M85.5 862.6h0M57.9 865.6h0M85.5 865.6h0M57.9 868.7h0M85.5 868.7h0M57.9 871.7h0M85.5 871.7h0M57.9 874.8h0M85.5 874.8h0M57.9 877.8h0M85.5 877.8h0M57.9 880.9h0M85.5 880.9h0M57.9 883.9h0M57.9 887.0h0M85.5 887.0h0M57.9 890.0h0M85.5 890.0h0M57.9 893.0h0M85.5 893.0h0M149.9 862.6h0M149.9 865.6h0M177.5 865.6h0M153.0 877.8h0M149.9 880.9h0M149.9 890.0h0M153.0 890.0h0M153.0 893.0h0" stroke="#070516" stroke-width="2.5" stroke-linecap="round" fill="none"/><path d="M88.5 662.6h0M88.5 665.6h0M61.0 671.7h0M88.5 671.7h0M61.0 683.9h0M88.5 686.9h0M61.0 690.0h0M88.5 690.0h0M61.0 696.0h0M156.1 665.6h0M156.1 674.7h0M156.1 686.9h0M183.6 690.0h0M183.6 693.0h0M57.9 762.9h0M113.0 762.9h0M57.9 768.9h0M85.5 768.9h0M57.9 772.0h0M85.5 772.0h0M113.0 772.0h0M85.5 778.1h0M85.5 784.2h0M54.9 790.3h0M85.5 793.3h0M57.9 796.3h0M85.5 796.3h0M153.0 796.3h0M88.5 862.6h0M88.5 865.6h0M61.0 880.9h0M61.0 883.9h0M153.0 862.6h0M180.5 862.6h0M153.0 874.8h0M153.0 887.0h0" stroke="#0e0a28" stroke-width="2.5" stroke-linecap="round" fill="none"/><path d="M61.0 662.6h0M88.5 674.7h0M61.0 680.8h0M88.5 680.8h0M61.0 686.9h0M61.0 693.0h0M88.5 696.0h0M183.6 665.6h0M156.1 671.7h0M57.9 765.9h0M85.5 765.9h0M113.0 765.9h0M113.0 768.9h0M85.5 775.0h0M57.9 778.1h0M113.0 778.1h0M85.5 781.1h0M57.9 784.2h0M54.9 787.2h0M57.9 787.2h0M57.9 790.3h0M85.5 790.3h0M57.9 793.3h0M54.9 796.3h0M183.6 775.0h0M61.0 862.6h0M88.5 871.7h0M88.5 877.8h0M88.5 893.0h0M153.0 871.7h0M180.5 880.9h0M180.5 883.9h0" stroke="#170e3a" stroke-width="2.5" stroke-linecap="round" fill="none"/><path d="M61.0 665.6h0M88.5 668.6h0M61.0 674.7h0M88.5 693.0h0M183.6 668.6h0M183.6 671.7h0M159.1 680.8h0M183.6 686.9h0M156.1 690.0h0M156.1 696.0h0M183.6 696.0h0M85.5 762.9h0M57.9 775.0h0M85.5 787.2h0M156.1 772.0h0M61.0 859.6h0M88.5 859.6h0M61.0 868.7h0M61.0 874.8h0M88.5 880.9h0M61.0 887.0h0M88.5 887.0h0M91.6 890.0h0M61.0 893.0h0M180.5 859.6h0M153.0 865.6h0M153.0 883.9h0" stroke="#250e4f" stroke-width="2.5" stroke-linecap="round" fill="none"/><path d="M91.6 674.7h0M61.0 677.8h0M88.5 677.8h0M159.1 665.6h0M159.1 677.8h0M183.6 677.8h0M156.1 680.8h0M183.6 683.9h0M159.1 696.0h0M61.0 796.3h0M61.0 865.6h0M61.0 871.7h0M88.5 883.9h0M183.6 862.6h0M183.6 868.7h0M180.5 871.7h0M183.6 874.8h0M180.5 877.8h0M156.1 893.0h0" stroke="#330f64" stroke-width="2.5" stroke-linecap="round" fill="none"/><path d="M91.6 690.0h0M183.6 662.6h0M159.1 668.6h0M162.2 674.7h0M183.6 674.7h0M156.1 683.9h0M159.1 693.0h0M61.0 772.0h0M61.0 775.0h0M61.0 778.1h0M88.5 781.1h0M88.5 784.2h0M88.5 790.3h0M183.6 790.3h0M156.1 796.3h0M64.1 859.6h0M91.6 859.6h0M61.0 877.8h0M91.6 880.9h0M61.0 890.0h0M153.0 859.6h0M180.5 865.6h0M183.6 865.6h0M183.6 871.7h0M180.5 874.8h0M159.1 883.9h0M183.6 887.0h0" stroke="#411172" stroke-width="2.5" stroke-linecap="round" fill="none"/><path d="M64.1 680.8h0M64.1 690.0h0M156.1 668.6h0M159.1 671.7h0M159.1 674.7h0M61.0 762.9h0M61.0 765.9h0M88.5 765.9h0M61.0 768.9h0M88.5 768.9h0M88.5 772.0h0M88.5 778.1h0M61.0 781.1h0M88.5 793.3h0M88.5 796.3h0M156.1 775.0h0M183.6 781.1h0M183.6 796.3h0M64.1 868.7h0M88.5 868.7h0M91.6 874.8h0M64.1 890.0h0M91.6 893.0h0M156.1 871.7h0M156.1 874.8h0M183.6 880.9h0M183.6 883.9h0" stroke="#501478" stroke-width="2.5" stroke-linecap="round" fill="none"/><path d="M64.1 662.6h0M91.6 662.6h0M91.6 665.6h0M91.6 668.6h0M91.6 671.7h0M64.1 677.8h0M64.1 683.9h0M91.6 683.9h0M64.1 686.9h0M159.1 662.6h0M186.7 662.6h0M186.7 665.6h0M186.7 668.6h0M156.1 677.8h0M186.7 677.8h0M189.7 677.8h0M192.8 680.8h0M159.1 683.9h0M159.1 690.0h0M189.7 690.0h0M186.7 693.0h0M189.7 693.0h0M186.7 696.0h0M88.5 775.0h0M61.0 793.3h0M156.1 762.9h0M183.6 765.9h0M183.6 768.9h0M156.1 778.1h0M183.6 778.1h0M64.1 862.6h0M64.1 865.6h0M91.6 865.6h0M64.1 874.8h0M91.6 877.8h0M64.1 883.9h0M91.6 883.9h0M183.6 859.6h0M153.0 868.7h0M156.1 877.8h0M162.2 877.8h0M183.6 893.0h0" stroke="#5e187e" stroke-width="2.5" stroke-linecap="round" fill="none"/><path d="M64.1 665.6h0M64.1 671.7h0M91.6 677.8h0M91.6 686.9h0M64.1 693.0h0M91.6 693.0h0M64.1 696.0h0M186.7 683.9h0M186.7 686.9h0M186.7 690.0h0M156.1 693.0h0M88.5 762.9h0M61.0 784.2h0M61.0 787.2h0M88.5 787.2h0M183.6 762.9h0M156.1 765.9h0M156.1 768.9h0M156.1 784.2h0M183.6 787.2h0M156.1 790.3h0M183.6 793.3h0M91.6 862.6h0M91.6 868.7h0M64.1 877.8h0M91.6 887.0h0M156.1 859.6h0M156.1 862.6h0M156.1 865.6h0M156.1 868.7h0M159.1 871.7h0M156.1 887.0h0M159.1 887.0h0M183.6 890.0h0" stroke="#6d1d80" stroke-width="2.5" stroke-linecap="round" fill="none"/><path d="M64.1 668.6h0M64.1 674.7h0M91.6 696.0h0M162.2 668.6h0M162.2 671.7h0M189.7 671.7h0M186.7 674.7h0M189.7 674.7h0M165.2 680.8h0M186.7 680.8h0M192.8 690.0h0M165.2 696.0h0M61.0 790.3h0M183.6 772.0h0M156.1 787.2h0M156.1 793.3h0M91.6 871.7h0M64.1 880.9h0M64.1 887.0h0M64.1 893.0h0M159.1 859.6h0M162.2 859.6h0M165.2 859.6h0M186.7 865.6h0M189.7 865.6h0M162.2 868.7h0M183.6 877.8h0M171.4 880.9h0M202.0 880.9h0M165.2 887.0h0M156.1 890.0h0M186.7 890.0h0" stroke="#7b2381" stroke-width="2.5" stroke-linecap="round" fill="none"/><path d="M94.7 665.6h0M91.6 680.8h0M162.2 662.6h0M192.8 662.6h0M192.8 665.6h0M165.2 668.6h0M186.7 671.7h0M162.2 677.8h0M189.7 683.9h0M192.8 683.9h0M159.1 686.9h0M156.1 781.1h0M67.1 859.6h0M67.1 868.7h0M64.1 871.7h0M159.1 865.6h0M146.9 868.7h0M159.1 868.7h0M165.2 871.7h0M195.8 871.7h0M159.1 874.8h0M159.1 877.8h0M189.7 877.8h0M156.1 880.9h0M159.1 880.9h0M162.2 887.0h0M165.2 890.0h0M168.3 890.0h0M195.8 890.0h0M159.1 893.0h0M198.9 893.0h0" stroke="#892881" stroke-width="2.5" stroke-linecap="round" fill="none"/><path d="M67.1 677.8h0M165.2 674.7h0M192.8 677.8h0M168.3 683.9h0M162.2 686.9h0M189.7 686.9h0M162.2 696.0h0M189.7 696.0h0M94.7 859.6h0M94.7 865.6h0M94.7 871.7h0M67.1 883.9h0M94.7 883.9h0M94.7 887.0h0M171.4 859.6h0M192.8 859.6h0M195.8 859.6h0M159.1 862.6h0M165.2 862.6h0M186.7 862.6h0M168.3 865.6h0M189.7 868.7h0M165.2 874.8h0M186.7 874.8h0M192.8 874.8h0M195.8 874.8h0M192.8 877.8h0M205.0 877.8h0M156.1 883.9h0M162.2 883.9h0M168.3 883.9h0M189.7 883.9h0M171.4 887.0h0M189.7 887.0h0M198.9 887.0h0M159.1 890.0h0M186.7 893.0h0" stroke="#982d7f" stroke-width="2.5" stroke-linecap="round" fill="none"/><path d="M94.7 662.6h0M67.1 671.7h0M94.7 674.7h0M67.1 690.0h0M189.7 662.6h0M146.9 668.6h0M165.2 677.8h0M165.2 683.9h0M165.2 686.9h0M64.1 775.0h0M64.1 790.3h0M183.6 784.2h0M186.7 784.2h0M186.7 793.3h0M94.7 868.7h0M67.1 871.7h0M67.1 877.8h0M94.7 877.8h0M67.1 880.9h0M168.3 859.6h0M186.7 859.6h0M162.2 862.6h0M171.4 862.6h0M174.4 862.6h0M189.7 862.6h0M192.8 862.6h0M186.7 868.7h0M195.8 868.7h0M186.7 871.7h0M162.2 874.8h0M162.2 880.9h0M192.8 880.9h0M165.2 883.9h0M171.4 883.9h0M186.7 883.9h0M186.7 887.0h0M192.8 887.0h0M162.2 890.0h0M171.4 890.0h0M192.8 890.0h0M165.2 893.0h0M189.7 893.0h0" stroke="#a8327c" stroke-width="2.5" stroke-linecap="round" fill="none"/><path d="M67.1 665.6h0M94.7 668.6h0M94.7 671.7h0M67.1 674.7h0M67.1 683.9h0M67.1 686.9h0M67.1 693.0h0M94.7 693.0h0M94.7 696.0h0M162.2 665.6h0M165.2 665.6h0M195.8 674.7h0M195.8 683.9h0M165.2 693.0h0M192.8 696.0h0M91.6 775.0h0M64.1 787.2h0M91.6 793.3h0M159.1 778.1h0M159.1 790.3h0M67.1 862.6h0M94.7 862.6h0M97.7 862.6h0M94.7 874.8h0M97.7 874.8h0M94.7 890.0h0M67.1 893.0h0M94.7 893.0h0M165.2 868.7h0M168.3 868.7h0M146.9 871.7h0M168.3 871.7h0M171.4 871.7h0M192.8 871.7h0M168.3 877.8h0M171.4 877.8h0M168.3 880.9h0M195.8 880.9h0M168.3 887.0h0M195.8 887.0h0M189.7 890.0h0M198.9 890.0h0M195.8 893.0h0" stroke="#b73779" stroke-width="2.5" stroke-linecap="round" fill="none"/><path d="M67.1 668.6h0M94.7 680.8h0M94.7 683.9h0M94.7 686.9h0M94.7 690.0h0M67.1 696.0h0M165.2 662.6h0M198.9 662.6h0M171.4 668.6h0M192.8 671.7h0M195.8 671.7h0M162.2 680.8h0M162.2 683.9h0M198.9 686.9h0M165.2 690.0h0M202.0 696.0h0M64.1 765.9h0M91.6 765.9h0M91.6 768.9h0M64.1 772.0h0M64.1 778.1h0M91.6 781.1h0M91.6 790.3h0M64.1 793.3h0M91.6 796.3h0M159.1 765.9h0M186.7 768.9h0M186.7 787.2h0M70.2 859.6h0M67.1 865.6h0M67.1 874.8h0M97.7 877.8h0M94.7 880.9h0M67.1 890.0h0M70.2 890.0h0M146.9 859.6h0M189.7 859.6h0M146.9 862.6h0M168.3 862.6h0M195.8 862.6h0M202.0 862.6h0M192.8 865.6h0M171.4 868.7h0M174.4 868.7h0M198.9 871.7h0M146.9 874.8h0M171.4 874.8h0M174.4 874.8h0M189.7 874.8h0M165.2 877.8h0M202.0 877.8h0M165.2 880.9h0M174.4 880.9h0M186.7 880.9h0M189.7 880.9h0M198.9 880.9h0M205.0 880.9h0M174.4 883.9h0M202.0 883.9h0M205.0 883.9h0M174.4 890.0h0M202.0 890.0h0M205.0 890.0h0M174.4 893.0h0M205.0 893.0h0" stroke="#c53d73" stroke-width="2.5" stroke-linecap="round" fill="none"/><path d="M67.1 662.6h0M70.2 665.6h0M67.1 680.8h0M146.9 662.6h0M168.3 662.6h0M195.8 665.6h0M195.8 668.6h0M202.0 668.6h0M168.3 671.7h0M168.3 674.7h0M192.8 674.7h0M168.3 677.8h0M198.9 677.8h0M168.3 680.8h0M189.7 680.8h0M174.4 683.9h0M202.0 683.9h0M162.2 693.0h0M168.3 693.0h0M202.0 693.0h0M91.6 762.9h0M64.1 768.9h0M91.6 772.0h0M91.6 778.1h0M91.6 787.2h0M64.1 796.3h0M159.1 772.0h0M70.2 865.6h0M70.2 871.7h0M67.1 887.0h0M97.7 890.0h0M198.9 859.6h0M198.9 862.6h0M192.8 868.7h0M202.0 868.7h0M162.2 871.7h0M189.7 871.7h0M192.8 883.9h0M198.9 883.9h0M202.0 887.0h0M205.0 887.0h0M168.3 893.0h0" stroke="#d3446d" stroke-width="2.5" stroke-linecap="round" fill="none"/><path d="M97.7 665.6h0M70.2 677.8h0M94.7 677.8h0M70.2 693.0h0M70.2 696.0h0M174.4 662.6h0M171.4 665.6h0M189.7 668.6h0M192.8 668.6h0M146.9 671.7h0M165.2 671.7h0M146.9 674.7h0M146.9 677.8h0M195.8 677.8h0M205.0 680.8h0M162.2 690.0h0M168.3 690.0h0M195.8 690.0h0M202.0 690.0h0M192.8 693.0h0M198.9 693.0h0M205.0 696.0h0M64.1 762.9h0M64.1 781.1h0M64.1 784.2h0M159.1 787.2h0M186.7 796.3h0M97.7 859.6h0M70.2 862.6h0M97.7 868.7h0M97.7 871.7h0M70.2 877.8h0M70.2 880.9h0M97.7 880.9h0M70.2 887.0h0M97.7 887.0h0M97.7 893.0h0M100.8 893.0h0M174.4 859.6h0M202.0 859.6h0M146.9 865.6h0M162.2 865.6h0M174.4 865.6h0M198.9 868.7h0M174.4 871.7h0M202.0 871.7h0M168.3 874.8h0M202.0 874.8h0M174.4 877.8h0M186.7 877.8h0M195.8 883.9h0M174.4 887.0h0M162.2 893.0h0M171.4 893.0h0M192.8 893.0h0" stroke="#e04c67" stroke-width="2.5" stroke-linecap="round" fill="none"/><path d="M97.7 674.7h0M70.2 680.8h0M202.0 662.6h0M146.9 665.6h0M189.7 665.6h0M202.0 665.6h0M168.3 668.6h0M198.9 668.6h0M171.4 674.7h0M171.4 680.8h0M198.9 680.8h0M205.0 683.9h0M168.3 686.9h0M195.8 686.9h0M205.0 686.9h0M198.9 690.0h0M205.0 690.0h0M195.8 693.0h0M205.0 693.0h0M159.1 762.9h0M186.7 765.9h0M186.7 781.1h0M186.7 790.3h0M100.8 859.6h0M97.7 865.6h0M100.8 865.6h0M70.2 874.8h0M100.8 880.9h0M70.2 883.9h0M97.7 883.9h0M165.2 865.6h0M195.8 865.6h0M198.9 874.8h0M195.8 877.8h0" stroke="#e95a63" stroke-width="2.5" stroke-linecap="round" fill="none"/><path d="M97.7 662.6h0M100.8 668.6h0M97.7 671.7h0M70.2 674.7h0M97.7 677.8h0M97.7 680.8h0M97.7 690.0h0M97.7 693.0h0M97.7 696.0h0M171.4 662.6h0M195.8 662.6h0M198.9 665.6h0M174.4 668.6h0M202.0 674.7h0M171.4 677.8h0M174.4 677.8h0M202.0 677.8h0M195.8 680.8h0M198.9 683.9h0M171.4 686.9h0M192.8 686.9h0M165.2 762.9h0M186.7 762.9h0M159.1 775.0h0M186.7 775.0h0M189.7 778.1h0M162.2 781.1h0M198.9 784.2h0M162.2 787.2h0M159.1 793.3h0M159.1 796.3h0M165.2 796.3h0M76.3 865.6h0M70.2 868.7h0M73.2 871.7h0M100.8 890.0h0M70.2 893.0h0M202.0 893.0h0" stroke="#f2685f" stroke-width="2.5" stroke-linecap="round" fill="none"/><path d="M70.2 662.6h0M73.2 662.6h0M100.8 662.6h0M70.2 668.6h0M73.2 668.6h0M97.7 668.6h0M70.2 683.9h0M73.2 683.9h0M100.8 683.9h0M70.2 686.9h0M79.4 686.9h0M100.8 690.0h0M202.0 671.7h0M174.4 686.9h0M171.4 690.0h0M171.4 693.0h0M168.3 696.0h0M174.4 696.0h0M67.1 762.9h0M100.8 775.0h0M94.7 784.2h0M165.2 765.9h0M159.1 768.9h0M146.9 772.0h0M186.7 772.0h0M189.7 772.0h0M162.2 775.0h0M198.9 775.0h0M186.7 778.1h0M192.8 781.1h0M162.2 784.2h0M168.3 784.2h0M168.3 787.2h0M162.2 793.3h0M189.7 793.3h0M73.2 859.6h0M100.8 862.6h0M73.2 868.7h0M76.3 871.7h0M100.8 871.7h0M106.9 871.7h0M73.2 877.8h0M79.4 880.9h0M73.2 887.0h0M103.8 893.0h0" stroke="#f8775e" stroke-width="2.5" stroke-linecap="round" fill="none"/><path d="M82.4 665.6h0M100.8 665.6h0M70.2 671.7h0M82.4 671.7h0M110.0 671.7h0M73.2 674.7h0M73.2 677.8h0M97.7 683.9h0M97.7 686.9h0M70.2 690.0h0M110.0 690.0h0M73.2 693.0h0M100.8 693.0h0M73.2 696.0h0M174.4 671.7h0M198.9 671.7h0M198.9 674.7h0M174.4 693.0h0M198.9 696.0h0M94.7 772.0h0M67.1 787.2h0M94.7 787.2h0M73.2 790.3h0M76.3 790.3h0M67.1 793.3h0M94.7 793.3h0M94.7 796.3h0M174.4 762.9h0M146.9 765.9h0M165.2 768.9h0M168.3 768.9h0M189.7 775.0h0M195.8 778.1h0M159.1 781.1h0M165.2 784.2h0M174.4 787.2h0M174.4 790.3h0M76.3 862.6h0M103.8 862.6h0M73.2 865.6h0M79.4 865.6h0M106.9 865.6h0M76.3 868.7h0M73.2 874.8h0M103.8 874.8h0M73.2 883.9h0M100.8 883.9h0M103.8 887.0h0M113.0 887.0h0M76.3 890.0h0M79.4 890.0h0M103.8 890.0h0M110.0 890.0h0M76.3 893.0h0" stroke="#fa8864" stroke-width="2.5" stroke-linecap="round" fill="none"/><path d="M54.9 665.6h0M100.8 671.7h0M100.8 674.7h0M110.0 680.8h0M113.0 683.9h0M73.2 686.9h0M110.0 686.9h0M113.0 690.0h0M106.9 693.0h0M110.0 693.0h0M168.3 665.6h0M171.4 671.7h0M174.4 674.7h0M202.0 686.9h0M171.4 696.0h0M73.2 762.9h0M97.7 768.9h0M67.1 772.0h0M67.1 775.0h0M82.4 775.0h0M106.9 775.0h0M97.7 778.1h0M76.3 781.1h0M79.4 781.1h0M97.7 784.2h0M113.0 787.2h0M67.1 790.3h0M94.7 790.3h0M168.3 762.9h0M189.7 762.9h0M198.9 762.9h0M171.4 765.9h0M189.7 765.9h0M195.8 768.9h0M165.2 772.0h0M146.9 775.0h0M171.4 775.0h0M192.8 775.0h0M195.8 775.0h0M162.2 778.1h0M202.0 778.1h0M195.8 781.1h0M195.8 784.2h0M189.7 787.2h0M205.0 787.2h0M162.2 790.3h0M192.8 793.3h0M198.9 796.3h0M106.9 859.6h0M54.9 865.6h0M103.8 865.6h0M100.8 868.7h0M110.0 868.7h0M54.9 871.7h0M76.3 874.8h0M100.8 874.8h0M110.0 874.8h0M76.3 877.8h0M103.8 877.8h0M103.8 883.9h0M106.9 883.9h0M76.3 887.0h0M82.4 887.0h0M106.9 893.0h0" stroke="#fd986b" stroke-width="2.5" stroke-linecap="round" fill="none"/><path d="M54.9 662.6h0M103.8 671.7h0M110.0 674.7h0M73.2 680.8h0M76.3 680.8h0M113.0 680.8h0M76.3 683.9h0M113.0 686.9h0M73.2 690.0h0M103.8 690.0h0M100.8 696.0h0M103.8 696.0h0M110.0 696.0h0M113.0 696.0h0M171.4 683.9h0M70.2 762.9h0M76.3 765.9h0M97.7 765.9h0M100.8 765.9h0M106.9 765.9h0M67.1 768.9h0M94.7 768.9h0M100.8 768.9h0M110.0 768.9h0M100.8 772.0h0M73.2 775.0h0M79.4 775.0h0M94.7 775.0h0M67.1 778.1h0M94.7 778.1h0M100.8 778.1h0M106.9 778.1h0M70.2 781.1h0M94.7 781.1h0M100.8 781.1h0M103.8 781.1h0M110.0 781.1h0M113.0 781.1h0M67.1 784.2h0M73.2 784.2h0M100.8 784.2h0M103.8 784.2h0M70.2 787.2h0M79.4 787.2h0M82.4 790.3h0M100.8 790.3h0M110.0 790.3h0M70.2 793.3h0M73.2 793.3h0M113.0 793.3h0M67.1 796.3h0M79.4 796.3h0M100.8 796.3h0M106.9 796.3h0M171.4 762.9h0M195.8 765.9h0M171.4 768.9h0M198.9 768.9h0M162.2 772.0h0M171.4 772.0h0M174.4 772.0h0M202.0 772.0h0M192.8 778.1h0M198.9 778.1h0M189.7 781.1h0M189.7 784.2h0M192.8 787.2h0M195.8 787.2h0M195.8 790.3h0M198.9 793.3h0M205.0 793.3h0M171.4 796.3h0M79.4 862.6h0M106.9 862.6h0M54.9 868.7h0M79.4 868.7h0M106.9 868.7h0M79.4 871.7h0M79.4 874.8h0M113.0 877.8h0M73.2 880.9h0M103.8 880.9h0M106.9 880.9h0M76.3 883.9h0M79.4 883.9h0M73.2 890.0h0M82.4 893.0h0M113.0 893.0h0" stroke="#fea975" stroke-width="2.5" stroke-linecap="round" fill="none"/><path d="M103.8 662.6h0M103.8 665.6h0M110.0 665.6h0M54.9 668.6h0M82.4 668.6h0M103.8 668.6h0M54.9 671.7h0M79.4 671.7h0M106.9 671.7h0M54.9 674.7h0M76.3 674.7h0M54.9 677.8h0M79.4 677.8h0M100.8 677.8h0M103.8 677.8h0M106.9 677.8h0M79.4 680.8h0M82.4 680.8h0M100.8 680.8h0M103.8 680.8h0M79.4 683.9h0M103.8 683.9h0M106.9 683.9h0M103.8 686.9h0M76.3 690.0h0M82.4 690.0h0M82.4 693.0h0M103.8 693.0h0M113.0 693.0h0M76.3 696.0h0M79.4 696.0h0M82.4 696.0h0M54.9 762.9h0M76.3 762.9h0M79.4 762.9h0M82.4 762.9h0M94.7 762.9h0M100.8 762.9h0M103.8 762.9h0M67.1 765.9h0M82.4 765.9h0M82.4 768.9h0M54.9 772.0h0M73.2 772.0h0M82.4 772.0h0M97.7 772.0h0M106.9 772.0h0M110.0 772.0h0M70.2 775.0h0M97.7 775.0h0M103.8 775.0h0M110.0 775.0h0M73.2 778.1h0M79.4 778.1h0M103.8 778.1h0M73.2 781.1h0M82.4 781.1h0M97.7 781.1h0M76.3 784.2h0M82.4 784.2h0M113.0 784.2h0M76.3 787.2h0M82.4 787.2h0M100.8 787.2h0M103.8 787.2h0M70.2 790.3h0M103.8 790.3h0M113.0 790.3h0M82.4 793.3h0M103.8 793.3h0M82.4 796.3h0M103.8 796.3h0M113.0 796.3h0M162.2 762.9h0M192.8 762.9h0M189.7 768.9h0M192.8 768.9h0M168.3 772.0h0M192.8 772.0h0M195.8 772.0h0M165.2 775.0h0M202.0 775.0h0M165.2 778.1h0M171.4 778.1h0M165.2 781.1h0M168.3 781.1h0M171.4 781.1h0M198.9 781.1h0M192.8 784.2h0M205.0 784.2h0M165.2 787.2h0M171.4 787.2h0M189.7 790.3h0M192.8 790.3h0M205.0 790.3h0M171.4 793.3h0M189.7 796.3h0M192.8 796.3h0M76.3 859.6h0M79.4 859.6h0M103.8 859.6h0M82.4 862.6h0M82.4 868.7h0M103.8 868.7h0M82.4 871.7h0M103.8 871.7h0M76.3 880.9h0M82.4 880.9h0M113.0 880.9h0M113.0 883.9h0M110.0 887.0h0M82.4 890.0h0M113.0 890.0h0M73.2 893.0h0M110.0 893.0h0" stroke="#feba82" stroke-width="2.5" stroke-linecap="round" fill="none"/><path d="M79.4 662.6h0M82.4 662.6h0M106.9 662.6h0M79.4 665.6h0M106.9 665.6h0M76.3 668.6h0M110.0 668.6h0M73.2 671.7h0M76.3 671.7h0M106.9 674.7h0M76.3 677.8h0M82.4 677.8h0M82.4 683.9h0M110.0 683.9h0M82.4 686.9h0M106.9 686.9h0M79.4 690.0h0M106.9 690.0h0M79.4 693.0h0M110.0 762.9h0M79.4 765.9h0M94.7 765.9h0M54.9 768.9h0M73.2 768.9h0M79.4 768.9h0M106.9 768.9h0M70.2 772.0h0M79.4 772.0h0M103.8 772.0h0M54.9 775.0h0M54.9 778.1h0M76.3 778.1h0M110.0 778.1h0M70.2 784.2h0M79.4 784.2h0M106.9 784.2h0M110.0 784.2h0M97.7 790.3h0M79.4 793.3h0M106.9 793.3h0M76.3 796.3h0M146.9 762.9h0M168.3 765.9h0M174.4 765.9h0M174.4 768.9h0M198.9 772.0h0M168.3 775.0h0M146.9 778.1h0M174.4 781.1h0M205.0 781.1h0M171.4 784.2h0M198.9 787.2h0M165.2 790.3h0M168.3 793.3h0M195.8 793.3h0M202.0 793.3h0M195.8 796.3h0M202.0 796.3h0M205.0 796.3h0M54.9 859.6h0M82.4 859.6h0M110.0 859.6h0M54.9 862.6h0M110.0 862.6h0M82.4 865.6h0M110.0 865.6h0M54.9 874.8h0M82.4 874.8h0M106.9 874.8h0M106.9 877.8h0M110.0 877.8h0M82.4 883.9h0M106.9 887.0h0M106.9 890.0h0" stroke="#fecc8f" stroke-width="2.5" stroke-linecap="round" fill="none"/><path d="M76.3 662.6h0M110.0 662.6h0M106.9 668.6h0M79.4 674.7h0M103.8 674.7h0M110.0 677.8h0M106.9 680.8h0M76.3 686.9h0M106.9 696.0h0M54.9 765.9h0M73.2 765.9h0M103.8 765.9h0M110.0 765.9h0M76.3 768.9h0M103.8 768.9h0M76.3 775.0h0M70.2 778.1h0M82.4 778.1h0M106.9 781.1h0M73.2 787.2h0M79.4 790.3h0M76.3 793.3h0M97.7 793.3h0M100.8 793.3h0M70.2 796.3h0M97.7 796.3h0M110.0 796.3h0M195.8 762.9h0M192.8 765.9h0M198.9 765.9h0M202.0 765.9h0M146.9 768.9h0M174.4 775.0h0M174.4 778.1h0M174.4 784.2h0M202.0 784.2h0M202.0 787.2h0M171.4 790.3h0M202.0 790.3h0M174.4 793.3h0M162.2 796.3h0M110.0 871.7h0M82.4 877.8h0M110.0 883.9h0M79.4 893.0h0" stroke="#fddc9f" stroke-width="2.5" stroke-linecap="round" fill="none"/><path d="M73.2 665.6h0M76.3 665.6h0M79.4 668.6h0M82.4 674.7h0M100.8 686.9h0M76.3 693.0h0M174.4 665.6h0M174.4 680.8h0M202.0 680.8h0M174.4 690.0h0M195.8 696.0h0M97.7 762.9h0M106.9 762.9h0M70.2 768.9h0M76.3 772.0h0M67.1 781.1h0M91.6 784.2h0M97.7 787.2h0M106.9 787.2h0M110.0 787.2h0M106.9 790.3h0M110.0 793.3h0M73.2 796.3h0M202.0 762.9h0M162.2 765.9h0M162.2 768.9h0M202.0 768.9h0M168.3 778.1h0M202.0 781.1h0M159.1 784.2h0M168.3 790.3h0M198.9 790.3h0M168.3 796.3h0M174.4 796.3h0M73.2 862.6h0M79.4 877.8h0M100.8 877.8h0M110.0 880.9h0M79.4 887.0h0M100.8 887.0h0M171.4 865.6h0M198.9 865.6h0M202.0 865.6h0M198.9 877.8h0" stroke="#fdedaf" stroke-width="2.5" stroke-linecap="round" fill="none"/><path d="M70.2 765.9h0M165.2 793.3h0" stroke="#fcfdbf" stroke-width="2.5" stroke-linecap="round" fill="none"/><g class="L" font-size="12.85" fill="#000" text-anchor="middle"><text x="85.6" y="629.4">Imaging</text><text x="175.8" y="629.4">CellTiter-Glo</text><text transform="translate(20.2 681.5) rotate(-90)" text-anchor="middle">Metastasis</text><text transform="translate(35.0 679.3) rotate(-90)" text-anchor="middle">(123LU)</text><text transform="translate(20.2 780.7) rotate(-90)" text-anchor="middle">Primary tumor</text><text transform="translate(35.0 778.5) rotate(-90)" text-anchor="middle">(88T)</text><text transform="translate(20.2 877.7) rotate(-90)" text-anchor="middle">Primary tumor</text><text transform="translate(35.0 875.5) rotate(-90)" text-anchor="middle">(24T)</text></g><g class="L" font-size="10.2" fill="#000" text-anchor="middle"><text x="67" y="645.2">Left</text><text x="100.8" y="645.2">Right</text><text x="156.8" y="645.2">Left</text><text x="193.2" y="645.2">Right</text><text x="130" y="918.0" font-size="10.3">Scaled viability</text><g transform="scale(0.88 1)"><text x="101.7" y="931.6" font-size="10.4">0</text><text x="197.0" y="931.6" font-size="10.4">100</text></g></g><defs><linearGradient id="mg"><stop offset="0.0" stop-color="#000004"/><stop offset="0.1" stop-color="#140e36"/><stop offset="0.2" stop-color="#3b0f70"/><stop offset="0.3" stop-color="#641a80"/><stop offset="0.4" stop-color="#8c2981"/><stop offset="0.5" stop-color="#b73779"/><stop offset="0.6" stop-color="#de4968"/><stop offset="0.7" stop-color="#f7705c"/><stop offset="0.8" stop-color="#fe9f6d"/><stop offset="0.9" stop-color="#fecf92"/><stop offset="1.0" stop-color="#fcfdbf"/></linearGradient></defs><rect x="100.6" y="924.6" width="57.2" height="6.2" fill="url(#mg)"/>
<g class="L" font-size="12.8" fill="#000" text-anchor="middle"><text x="352.4" y="629.4">Imaging</text><text x="542" y="629.4">CellTiter-Glo</text><text x="450.7" y="932.6" font-size="13.3">Concentration log10(μM)</text><text transform="translate(253.9 683.6) rotate(-90)" text-anchor="middle">%Viability</text><text transform="translate(253.9 781.6) rotate(-90)" text-anchor="middle">%Viability</text><text transform="translate(253.9 873.6) rotate(-90)" text-anchor="middle">%Viability</text></g><g class="L" font-size="10.2" fill="#000" text-anchor="middle"><text x="306.8" y="645.2">Left</text><text x="398.2" y="645.2">Right</text><text x="498.2" y="645.2">Left</text><text x="589.8" y="645.2">Right</text></g><g fill="#ebebeb"><rect x="269.9" y="651.9" width="75.3" height="64.7"/><rect x="362.6" y="651.9" width="75.4" height="64.7"/><rect x="460.8" y="651.9" width="75.2" height="64.7"/><rect x="552.4" y="651.9" width="75.4" height="64.7"/><rect x="269.9" y="749.4" width="75.3" height="65.0"/><rect x="362.6" y="749.4" width="75.4" height="65.0"/><rect x="460.8" y="749.4" width="75.2" height="65.0"/><rect x="552.4" y="749.4" width="75.4" height="65.0"/><rect x="269.9" y="841.4" width="75.3" height="65.2"/><rect x="362.6" y="841.4" width="75.4" height="65.2"/><rect x="460.8" y="841.4" width="75.2" height="65.2"/><rect x="552.4" y="841.4" width="75.4" height="65.2"/></g><path d="M279.0 651.9V716.6M290.4 651.9V716.6M301.8 651.9V716.6M313.2 651.9V716.6M324.6 651.9V716.6M336.0 651.9V716.6M269.9 695.3H345.2M269.9 674.0H345.2M269.9 652.6H345.2M371.7 651.9V716.6M383.1 651.9V716.6M394.5 651.9V716.6M405.9 651.9V716.6M417.3 651.9V716.6M428.7 651.9V716.6M362.6 695.3H438.0M362.6 674.0H438.0M362.6 652.6H438.0M469.9 651.9V716.6M481.3 651.9V716.6M492.7 651.9V716.6M504.1 651.9V716.6M515.5 651.9V716.6M526.9 651.9V716.6M460.8 695.3H536.0M460.8 674.0H536.0M460.8 652.6H536.0M561.5 651.9V716.6M572.9 651.9V716.6M584.3 651.9V716.6M595.7 651.9V716.6M607.1 651.9V716.6M618.5 651.9V716.6M552.4 695.3H627.8M552.4 674.0H627.8M552.4 652.6H627.8M279.0 749.4V814.4M290.4 749.4V814.4M301.8 749.4V814.4M313.2 749.4V814.4M324.6 749.4V814.4M336.0 749.4V814.4M269.9 814.1H345.2M269.9 792.8H345.2M269.9 771.5H345.2M269.9 750.1H345.2M371.7 749.4V814.4M383.1 749.4V814.4M394.5 749.4V814.4M405.9 749.4V814.4M417.3 749.4V814.4M428.7 749.4V814.4M362.6 814.1H438.0M362.6 792.8H438.0M362.6 771.5H438.0M362.6 750.1H438.0M469.9 749.4V814.4M481.3 749.4V814.4M492.7 749.4V814.4M504.1 749.4V814.4M515.5 749.4V814.4M526.9 749.4V814.4M460.8 814.1H536.0M460.8 792.8H536.0M460.8 771.5H536.0M460.8 750.1H536.0M561.5 749.4V814.4M572.9 749.4V814.4M584.3 749.4V814.4M595.7 749.4V814.4M607.1 749.4V814.4M618.5 749.4V814.4M552.4 814.1H627.8M552.4 792.8H627.8M552.4 771.5H627.8M552.4 750.1H627.8M279.0 841.4V906.6M290.4 841.4V906.6M301.8 841.4V906.6M313.2 841.4V906.6M324.6 841.4V906.6M336.0 841.4V906.6M269.9 906.1H345.2M269.9 884.8H345.2M269.9 863.5H345.2M269.9 842.1H345.2M371.7 841.4V906.6M383.1 841.4V906.6M394.5 841.4V906.6M405.9 841.4V906.6M417.3 841.4V906.6M428.7 841.4V906.6M362.6 906.1H438.0M362.6 884.8H438.0M362.6 863.5H438.0M362.6 842.1H438.0M469.9 841.4V906.6M481.3 841.4V906.6M492.7 841.4V906.6M504.1 841.4V906.6M515.5 841.4V906.6M526.9 841.4V906.6M460.8 906.1H536.0M460.8 884.8H536.0M460.8 863.5H536.0M460.8 842.1H536.0M561.5 841.4V906.6M572.9 841.4V906.6M584.3 841.4V906.6M595.7 841.4V906.6M607.1 841.4V906.6M618.5 841.4V906.6M552.4 906.1H627.8M552.4 884.8H627.8M552.4 863.5H627.8M552.4 842.1H627.8" stroke="#f4f4f4" stroke-width="0.35" fill="none"/><path d="M273.3 651.9V716.6M284.7 651.9V716.6M296.1 651.9V716.6M307.5 651.9V716.6M318.9 651.9V716.6M330.3 651.9V716.6M341.7 651.9V716.6M269.9 705.9H345.2M269.9 684.6H345.2M269.9 663.3H345.2M366.0 651.9V716.6M377.4 651.9V716.6M388.8 651.9V716.6M400.2 651.9V716.6M411.6 651.9V716.6M423.0 651.9V716.6M434.4 651.9V716.6M362.6 705.9H438.0M362.6 684.6H438.0M362.6 663.3H438.0M464.2 651.9V716.6M475.6 651.9V716.6M487.0 651.9V716.6M498.4 651.9V716.6M509.8 651.9V716.6M521.2 651.9V716.6M532.6 651.9V716.6M460.8 705.9H536.0M460.8 684.6H536.0M460.8 663.3H536.0M555.8 651.9V716.6M567.2 651.9V716.6M578.6 651.9V716.6M590.0 651.9V716.6M601.4 651.9V716.6M612.8 651.9V716.6M624.2 651.9V716.6M552.4 705.9H627.8M552.4 684.6H627.8M552.4 663.3H627.8M273.3 749.4V814.4M284.7 749.4V814.4M296.1 749.4V814.4M307.5 749.4V814.4M318.9 749.4V814.4M330.3 749.4V814.4M341.7 749.4V814.4M269.9 803.4H345.2M269.9 782.1H345.2M269.9 760.8H345.2M366.0 749.4V814.4M377.4 749.4V814.4M388.8 749.4V814.4M400.2 749.4V814.4M411.6 749.4V814.4M423.0 749.4V814.4M434.4 749.4V814.4M362.6 803.4H438.0M362.6 782.1H438.0M362.6 760.8H438.0M464.2 749.4V814.4M475.6 749.4V814.4M487.0 749.4V814.4M498.4 749.4V814.4M509.8 749.4V814.4M521.2 749.4V814.4M532.6 749.4V814.4M460.8 803.4H536.0M460.8 782.1H536.0M460.8 760.8H536.0M555.8 749.4V814.4M567.2 749.4V814.4M578.6 749.4V814.4M590.0 749.4V814.4M601.4 749.4V814.4M612.8 749.4V814.4M624.2 749.4V814.4M552.4 803.4H627.8M552.4 782.1H627.8M552.4 760.8H627.8M273.3 841.4V906.6M284.7 841.4V906.6M296.1 841.4V906.6M307.5 841.4V906.6M318.9 841.4V906.6M330.3 841.4V906.6M341.7 841.4V906.6M269.9 895.4H345.2M269.9 874.1H345.2M269.9 852.8H345.2M366.0 841.4V906.6M377.4 841.4V906.6M388.8 841.4V906.6M400.2 841.4V906.6M411.6 841.4V906.6M423.0 841.4V906.6M434.4 841.4V906.6M362.6 895.4H438.0M362.6 874.1H438.0M362.6 852.8H438.0M464.2 841.4V906.6M475.6 841.4V906.6M487.0 841.4V906.6M498.4 841.4V906.6M509.8 841.4V906.6M521.2 841.4V906.6M532.6 841.4V906.6M460.8 895.4H536.0M460.8 874.1H536.0M460.8 852.8H536.0M555.8 841.4V906.6M567.2 841.4V906.6M578.6 841.4V906.6M590.0 841.4V906.6M601.4 841.4V906.6M612.8 841.4V906.6M624.2 841.4V906.6M552.4 895.4H627.8M552.4 874.1H627.8M552.4 852.8H627.8" stroke="#fff" stroke-width="0.6" fill="none"/><path d="M273.3 716.6v1.3M284.7 716.6v1.3M296.1 716.6v1.3M307.5 716.6v1.3M318.9 716.6v1.3M330.3 716.6v1.3M341.7 716.6v1.3M268.6 705.9H269.9M268.6 684.6H269.9M268.6 663.3H269.9M268.9 695.3H269.9M268.9 674.0H269.9M366.0 716.6v1.3M377.4 716.6v1.3M388.8 716.6v1.3M400.2 716.6v1.3M411.6 716.6v1.3M423.0 716.6v1.3M434.4 716.6v1.3M361.3 705.9H362.6M361.3 684.6H362.6M361.3 663.3H362.6M361.6 695.3H362.6M361.6 674.0H362.6M464.2 716.6v1.3M475.6 716.6v1.3M487.0 716.6v1.3M498.4 716.6v1.3M509.8 716.6v1.3M521.2 716.6v1.3M532.6 716.6v1.3M459.5 705.9H460.8M459.5 684.6H460.8M459.5 663.3H460.8M459.8 695.3H460.8M459.8 674.0H460.8M555.8 716.6v1.3M567.2 716.6v1.3M578.6 716.6v1.3M590.0 716.6v1.3M601.4 716.6v1.3M612.8 716.6v1.3M624.2 716.6v1.3M551.1 705.9H552.4M551.1 684.6H552.4M551.1 663.3H552.4M551.4 695.3H552.4M551.4 674.0H552.4M273.3 814.4v1.3M284.7 814.4v1.3M296.1 814.4v1.3M307.5 814.4v1.3M318.9 814.4v1.3M330.3 814.4v1.3M341.7 814.4v1.3M268.6 803.4H269.9M268.6 782.1H269.9M268.6 760.8H269.9M268.9 792.8H269.9M268.9 771.5H269.9M366.0 814.4v1.3M377.4 814.4v1.3M388.8 814.4v1.3M400.2 814.4v1.3M411.6 814.4v1.3M423.0 814.4v1.3M434.4 814.4v1.3M361.3 803.4H362.6M361.3 782.1H362.6M361.3 760.8H362.6M361.6 792.8H362.6M361.6 771.5H362.6M464.2 814.4v1.3M475.6 814.4v1.3M487.0 814.4v1.3M498.4 814.4v1.3M509.8 814.4v1.3M521.2 814.4v1.3M532.6 814.4v1.3M459.5 803.4H460.8M459.5 782.1H460.8M459.5 760.8H460.8M459.8 792.8H460.8M459.8 771.5H460.8M555.8 814.4v1.3M567.2 814.4v1.3M578.6 814.4v1.3M590.0 814.4v1.3M601.4 814.4v1.3M612.8 814.4v1.3M624.2 814.4v1.3M551.1 803.4H552.4M551.1 782.1H552.4M551.1 760.8H552.4M551.4 792.8H552.4M551.4 771.5H552.4M273.3 906.6v1.3M284.7 906.6v1.3M296.1 906.6v1.3M307.5 906.6v1.3M318.9 906.6v1.3M330.3 906.6v1.3M341.7 906.6v1.3M268.6 895.4H269.9M268.6 874.1H269.9M268.6 852.8H269.9M268.9 884.8H269.9M268.9 863.5H269.9M366.0 906.6v1.3M377.4 906.6v1.3M388.8 906.6v1.3M400.2 906.6v1.3M411.6 906.6v1.3M423.0 906.6v1.3M434.4 906.6v1.3M361.3 895.4H362.6M361.3 874.1H362.6M361.3 852.8H362.6M361.6 884.8H362.6M361.6 863.5H362.6M464.2 906.6v1.3M475.6 906.6v1.3M487.0 906.6v1.3M498.4 906.6v1.3M509.8 906.6v1.3M521.2 906.6v1.3M532.6 906.6v1.3M459.5 895.4H460.8M459.5 874.1H460.8M459.5 852.8H460.8M459.8 884.8H460.8M459.8 863.5H460.8M555.8 906.6v1.3M567.2 906.6v1.3M578.6 906.6v1.3M590.0 906.6v1.3M601.4 906.6v1.3M612.8 906.6v1.3M624.2 906.6v1.3M551.1 895.4H552.4M551.1 874.1H552.4M551.1 852.8H552.4M551.4 884.8H552.4M551.4 863.5H552.4" stroke="#333" stroke-width="0.5" fill="none"/><g font-size="7" fill="#111" stroke="#111" stroke-width="0.12" transform="scale(0.82 1)"><text x="332.3" y="724.4" text-anchor="middle">-4</text><text x="346.2" y="724.4" text-anchor="middle">-3</text><text x="360.1" y="724.4" text-anchor="middle">-2</text><text x="374.0" y="724.4" text-anchor="middle">-1</text><text x="388.9" y="724.4" text-anchor="middle">0</text><text x="402.8" y="724.4" text-anchor="middle">1</text><text x="416.7" y="724.4" text-anchor="middle">2</text><text x="327.0" y="708.4" text-anchor="end">0</text><text x="327.0" y="687.1" text-anchor="end">50</text><text x="327.0" y="665.8" text-anchor="end">100</text><text x="445.4" y="724.4" text-anchor="middle">-4</text><text x="459.3" y="724.4" text-anchor="middle">-3</text><text x="473.2" y="724.4" text-anchor="middle">-2</text><text x="487.1" y="724.4" text-anchor="middle">-1</text><text x="502.0" y="724.4" text-anchor="middle">0</text><text x="515.9" y="724.4" text-anchor="middle">1</text><text x="529.8" y="724.4" text-anchor="middle">2</text><text x="440.0" y="708.4" text-anchor="end">0</text><text x="440.0" y="687.1" text-anchor="end">50</text><text x="440.0" y="665.8" text-anchor="end">100</text><text x="565.1" y="724.4" text-anchor="middle">-4</text><text x="579.0" y="724.4" text-anchor="middle">-3</text><text x="592.9" y="724.4" text-anchor="middle">-2</text><text x="606.8" y="724.4" text-anchor="middle">-1</text><text x="621.7" y="724.4" text-anchor="middle">0</text><text x="635.6" y="724.4" text-anchor="middle">1</text><text x="649.5" y="724.4" text-anchor="middle">2</text><text x="559.8" y="708.4" text-anchor="end">0</text><text x="559.8" y="687.1" text-anchor="end">50</text><text x="559.8" y="665.8" text-anchor="end">100</text><text x="676.8" y="724.4" text-anchor="middle">-4</text><text x="690.7" y="724.4" text-anchor="middle">-3</text><text x="704.6" y="724.4" text-anchor="middle">-2</text><text x="718.5" y="724.4" text-anchor="middle">-1</text><text x="733.4" y="724.4" text-anchor="middle">0</text><text x="747.3" y="724.4" text-anchor="middle">1</text><text x="761.2" y="724.4" text-anchor="middle">2</text><text x="671.5" y="708.4" text-anchor="end">0</text><text x="671.5" y="687.1" text-anchor="end">50</text><text x="671.5" y="665.8" text-anchor="end">100</text><text x="332.3" y="822.2" text-anchor="middle">-4</text><text x="346.2" y="822.2" text-anchor="middle">-3</text><text x="360.1" y="822.2" text-anchor="middle">-2</text><text x="374.0" y="822.2" text-anchor="middle">-1</text><text x="388.9" y="822.2" text-anchor="middle">0</text><text x="402.8" y="822.2" text-anchor="middle">1</text><text x="416.7" y="822.2" text-anchor="middle">2</text><text x="327.0" y="805.9" text-anchor="end">0</text><text x="327.0" y="784.6" text-anchor="end">50</text><text x="327.0" y="763.3" text-anchor="end">100</text><text x="445.4" y="822.2" text-anchor="middle">-4</text><text x="459.3" y="822.2" text-anchor="middle">-3</text><text x="473.2" y="822.2" text-anchor="middle">-2</text><text x="487.1" y="822.2" text-anchor="middle">-1</text><text x="502.0" y="822.2" text-anchor="middle">0</text><text x="515.9" y="822.2" text-anchor="middle">1</text><text x="529.8" y="822.2" text-anchor="middle">2</text><text x="440.0" y="805.9" text-anchor="end">0</text><text x="440.0" y="784.6" text-anchor="end">50</text><text x="440.0" y="763.3" text-anchor="end">100</text><text x="565.1" y="822.2" text-anchor="middle">-4</text><text x="579.0" y="822.2" text-anchor="middle">-3</text><text x="592.9" y="822.2" text-anchor="middle">-2</text><text x="606.8" y="822.2" text-anchor="middle">-1</text><text x="621.7" y="822.2" text-anchor="middle">0</text><text x="635.6" y="822.2" text-anchor="middle">1</text><text x="649.5" y="822.2" text-anchor="middle">2</text><text x="559.8" y="805.9" text-anchor="end">0</text><text x="559.8" y="784.6" text-anchor="end">50</text><text x="559.8" y="763.3" text-anchor="end">100</text><text x="676.8" y="822.2" text-anchor="middle">-4</text><text x="690.7" y="822.2" text-anchor="middle">-3</text><text x="704.6" y="822.2" text-anchor="middle">-2</text><text x="718.5" y="822.2" text-anchor="middle">-1</text><text x="733.4" y="822.2" text-anchor="middle">0</text><text x="747.3" y="822.2" text-anchor="middle">1</text><text x="761.2" y="822.2" text-anchor="middle">2</text><text x="671.5" y="805.9" text-anchor="end">0</text><text x="671.5" y="784.6" text-anchor="end">50</text><text x="671.5" y="763.3" text-anchor="end">100</text><text x="332.3" y="914.4" text-anchor="middle">-4</text><text x="346.2" y="914.4" text-anchor="middle">-3</text><text x="360.1" y="914.4" text-anchor="middle">-2</text><text x="374.0" y="914.4" text-anchor="middle">-1</text><text x="388.9" y="914.4" text-anchor="middle">0</text><text x="402.8" y="914.4" text-anchor="middle">1</text><text x="416.7" y="914.4" text-anchor="middle">2</text><text x="327.0" y="897.9" text-anchor="end">0</text><text x="327.0" y="876.6" text-anchor="end">50</text><text x="327.0" y="855.3" text-anchor="end">100</text><text x="445.4" y="914.4" text-anchor="middle">-4</text><text x="459.3" y="914.4" text-anchor="middle">-3</text><text x="473.2" y="914.4" text-anchor="middle">-2</text><text x="487.1" y="914.4" text-anchor="middle">-1</text><text x="502.0" y="914.4" text-anchor="middle">0</text><text x="515.9" y="914.4" text-anchor="middle">1</text><text x="529.8" y="914.4" text-anchor="middle">2</text><text x="440.0" y="897.9" text-anchor="end">0</text><text x="440.0" y="876.6" text-anchor="end">50</text><text x="440.0" y="855.3" text-anchor="end">100</text><text x="565.1" y="914.4" text-anchor="middle">-4</text><text x="579.0" y="914.4" text-anchor="middle">-3</text><text x="592.9" y="914.4" text-anchor="middle">-2</text><text x="606.8" y="914.4" text-anchor="middle">-1</text><text x="621.7" y="914.4" text-anchor="middle">0</text><text x="635.6" y="914.4" text-anchor="middle">1</text><text x="649.5" y="914.4" text-anchor="middle">2</text><text x="559.8" y="897.9" text-anchor="end">0</text><text x="559.8" y="876.6" text-anchor="end">50</text><text x="559.8" y="855.3" text-anchor="end">100</text><text x="676.8" y="914.4" text-anchor="middle">-4</text><text x="690.7" y="914.4" text-anchor="middle">-3</text><text x="704.6" y="914.4" text-anchor="middle">-2</text><text x="718.5" y="914.4" text-anchor="middle">-1</text><text x="733.4" y="914.4" text-anchor="middle">0</text><text x="747.3" y="914.4" text-anchor="middle">1</text><text x="761.2" y="914.4" text-anchor="middle">2</text><text x="671.5" y="897.9" text-anchor="end">0</text><text x="671.5" y="876.6" text-anchor="end">50</text><text x="671.5" y="855.3" text-anchor="end">100</text></g><g fill="none" stroke-width="0.65" stroke-linejoin="round"><polyline points="283.6 667.2 284.9 667.3 286.3 667.3 287.7 667.4 289.0 667.4 290.4 667.5 291.8 667.6 293.1 667.7 294.5 667.9 295.9 668.1 297.2 668.3 298.6 668.6 300.0 669.0 301.3 669.5 302.7 670.1 304.1 670.9 305.4 671.8 306.8 672.9 308.2 674.2 309.6 675.8 310.9 677.6 312.3 679.6 313.7 681.8 315.0 684.2 316.4 686.8 317.8 689.4 319.1 691.9 320.5 694.4 321.9 696.7 323.2 698.8 324.6 700.7 326.0 702.4 327.3 703.8 328.7 705.0 330.1 705.9 331.4 706.7 332.8 707.4 334.2 707.9 335.5 708.4 336.9 708.7 338.3 709.0" stroke="#ee7a70"/><polyline points="283.6 659.7 284.9 659.8 286.3 659.8 287.7 659.9 289.0 660.0 290.4 660.1 291.8 660.2 293.1 660.4 294.5 660.6 295.9 660.8 297.2 661.1 298.6 661.5 300.0 661.9 301.3 662.4 302.7 663.0 304.1 663.8 305.4 664.7 306.8 665.8 308.2 667.0 309.6 668.5 310.9 670.1 312.3 672.0 313.7 674.1 315.0 676.3 316.4 678.8 317.8 681.3 319.1 684.0 320.5 686.6 321.9 689.2 323.2 691.7 324.6 694.0 326.0 696.2 327.3 698.1 328.7 699.9 330.1 701.4 331.4 702.7 332.8 703.9 334.2 704.8 335.5 705.6 336.9 706.3 338.3 706.9" stroke="#3cb054"/><polyline points="283.6 664.5 284.9 664.6 286.3 664.6 287.7 664.6 289.0 664.6 290.4 664.7 291.8 664.8 293.1 664.9 294.5 665.0 295.9 665.1 297.2 665.3 298.6 665.6 300.0 666.0 301.3 666.4 302.7 667.0 304.1 667.7 305.4 668.7 306.8 669.8 308.2 671.3 309.6 673.0 310.9 675.1 312.3 677.4 313.7 680.1 315.0 683.0 316.4 686.0 317.8 689.0 319.1 691.9 320.5 694.7 321.9 697.2 323.2 699.3 324.6 701.2 326.0 702.7 327.3 704.0 328.7 705.0 330.1 705.8 331.4 706.4 332.8 706.9 334.2 707.3 335.5 707.6 336.9 707.8 338.3 708.0" stroke="#22b486"/><polyline points="283.6 665.5 284.9 665.5 286.3 665.5 287.7 665.6 289.0 665.7 290.4 665.8 291.8 665.9 293.1 666.0 294.5 666.2 295.9 666.4 297.2 666.6 298.6 666.9 300.0 667.3 301.3 667.8 302.7 668.3 304.1 669.0 305.4 669.8 306.8 670.7 308.2 671.8 309.6 673.1 310.9 674.6 312.3 676.2 313.7 678.1 315.0 680.1 316.4 682.3 317.8 684.6 319.1 687.0 320.5 689.3 321.9 691.7 323.2 693.9 324.6 696.0 326.0 697.9 327.3 699.6 328.7 701.2 330.1 702.5 331.4 703.7 332.8 704.7 334.2 705.5 335.5 706.2 336.9 706.8 338.3 707.3" stroke="#2fb5bd"/><polyline points="283.6 665.9 284.9 666.0 286.3 666.0 287.7 666.1 289.0 666.1 290.4 666.2 291.8 666.3 293.1 666.4 294.5 666.6 295.9 666.8 297.2 667.0 298.6 667.3 300.0 667.7 301.3 668.2 302.7 668.8 304.1 669.6 305.4 670.5 306.8 671.7 308.2 673.0 309.6 674.6 310.9 676.5 312.3 678.6 313.7 680.9 315.0 683.4 316.4 686.0 317.8 688.7 319.1 691.3 320.5 693.8 321.9 696.1 323.2 698.2 324.6 700.0 326.0 701.6 327.3 702.9 328.7 704.1 330.1 705.0 331.4 705.7 332.8 706.3 334.2 706.8 335.5 707.2 336.9 707.5 338.3 707.8" stroke="#3ba6dc"/><polyline points="283.6 663.5 284.9 663.6 286.3 663.7 287.7 663.9 289.0 664.1 290.4 664.3 291.8 664.6 293.1 664.9 294.5 665.3 295.9 665.7 297.2 666.3 298.6 666.9 300.0 667.6 301.3 668.5 302.7 669.5 304.1 670.6 305.4 671.9 306.8 673.4 308.2 675.0 309.6 676.7 310.9 678.6 312.3 680.7 313.7 682.8 315.0 685.0 316.4 687.2 317.8 689.4 319.1 691.6 320.5 693.7 321.9 695.6 323.2 697.4 324.6 699.1 326.0 700.6 327.3 701.9 328.7 703.1 330.1 704.1 331.4 705.0 332.8 705.8 334.2 706.5 335.5 707.0 336.9 707.5 338.3 707.9" stroke="#6c95d3"/><polyline points="283.6 664.6 284.9 664.6 286.3 664.6 287.7 664.7 289.0 664.8 290.4 664.9 291.8 665.0 293.1 665.1 294.5 665.3 295.9 665.5 297.2 665.8 298.6 666.1 300.0 666.5 301.3 667.0 302.7 667.7 304.1 668.4 305.4 669.3 306.8 670.3 308.2 671.5 309.6 673.0 310.9 674.6 312.3 676.5 313.7 678.5 315.0 680.7 316.4 683.1 317.8 685.5 319.1 688.0 320.5 690.4 321.9 692.8 323.2 695.0 324.6 697.0 326.0 698.9 327.3 700.5 328.7 702.0 330.1 703.2 331.4 704.3 332.8 705.2 334.2 705.9 335.5 706.5 336.9 707.0 338.3 707.4" stroke="#a982c9"/><polyline points="283.6 661.7 284.9 661.7 286.3 661.8 287.7 661.9 289.0 662.1 290.4 662.2 291.8 662.4 293.1 662.6 294.5 662.9 295.9 663.2 297.2 663.6 298.6 664.0 300.0 664.6 301.3 665.2 302.7 665.9 304.1 666.8 305.4 667.8 306.8 668.9 308.2 670.2 309.6 671.7 310.9 673.3 312.3 675.1 313.7 677.0 315.0 679.1 316.4 681.2 317.8 683.5 319.1 685.8 320.5 688.1 321.9 690.3 323.2 692.5 324.6 694.5 326.0 696.5 327.3 698.2 328.7 699.9 330.1 701.3 331.4 702.6 332.8 703.7 334.2 704.7 335.5 705.5 336.9 706.3 338.3 706.9" stroke="#c763b3"/><polyline points="283.6 665.5 284.9 665.6 286.3 665.7 287.7 665.8 289.0 665.9 290.4 666.0 291.8 666.2 293.1 666.4 294.5 666.7 295.9 666.9 297.2 667.3 298.6 667.7 300.0 668.2 301.3 668.8 302.7 669.4 304.1 670.2 305.4 671.1 306.8 672.2 308.2 673.4 309.6 674.7 310.9 676.2 312.3 677.9 313.7 679.7 315.0 681.6 316.4 683.7 317.8 685.8 319.1 687.9 320.5 690.1 321.9 692.2 323.2 694.2 324.6 696.1 326.0 697.9 327.3 699.5 328.7 701.0 330.1 702.3 331.4 703.5 332.8 704.5 334.2 705.4 335.5 706.2 336.9 706.8 338.3 707.4" stroke="#ee62a2"/><polyline points="283.6 664.5 284.9 664.5 286.3 664.6 287.7 664.6 289.0 664.7 290.4 664.9 291.8 665.0 293.1 665.2 294.5 665.4 295.9 665.6 297.2 666.0 298.6 666.3 300.0 666.8 301.3 667.4 302.7 668.0 304.1 668.8 305.4 669.7 306.8 670.8 308.2 672.1 309.6 673.5 310.9 675.2 312.3 677.0 313.7 679.0 315.0 681.2 316.4 683.5 317.8 685.9 319.1 688.4 320.5 690.8 321.9 693.2 323.2 695.5 324.6 697.7 326.0 699.6 327.3 701.4 328.7 703.0 330.1 704.4 331.4 705.6 332.8 706.7 334.2 707.6 335.5 708.3 336.9 709.0 338.3 709.5" stroke="#d98b22"/><polyline points="283.6 665.1 284.9 665.2 286.3 665.3 287.7 665.5 289.0 665.6 290.4 665.8 291.8 666.1 293.1 666.3 294.5 666.6 295.9 667.0 297.2 667.5 298.6 668.0 300.0 668.6 301.3 669.3 302.7 670.1 304.1 671.1 305.4 672.2 306.8 673.4 308.2 674.8 309.6 676.3 310.9 677.9 312.3 679.7 313.7 681.7 315.0 683.7 316.4 685.8 317.8 687.9 319.1 690.0 320.5 692.0 321.9 694.0 323.2 695.9 324.6 697.7 326.0 699.3 327.3 700.8 328.7 702.2 330.1 703.3 331.4 704.4 332.8 705.3 334.2 706.1 335.5 706.8 336.9 707.4 338.3 707.9" stroke="#b09a2c"/><polyline points="283.6 665.7 284.9 665.8 286.3 665.8 287.7 665.9 289.0 666.0 290.4 666.2 291.8 666.3 293.1 666.5 294.5 666.8 295.9 667.1 297.2 667.4 298.6 667.9 300.0 668.4 301.3 669.0 302.7 669.7 304.1 670.6 305.4 671.6 306.8 672.7 308.2 674.1 309.6 675.6 310.9 677.3 312.3 679.1 313.7 681.1 315.0 683.2 316.4 685.4 317.8 687.7 319.1 689.9 320.5 692.1 321.9 694.2 323.2 696.2 324.6 698.1 326.0 699.7 327.3 701.2 328.7 702.6 330.1 703.7 331.4 704.7 332.8 705.6 334.2 706.3 335.5 706.9 336.9 707.5 338.3 707.9" stroke="#79aa3c"/><polyline points="376.3 660.6 377.6 660.7 379.0 660.7 380.4 660.7 381.7 660.8 383.1 660.9 384.5 661.0 385.8 661.1 387.2 661.2 388.6 661.3 389.9 661.5 391.3 661.8 392.7 662.0 394.0 662.4 395.4 662.8 396.8 663.3 398.1 663.9 399.5 664.7 400.9 665.5 402.3 666.5 403.6 667.7 405.0 669.1 406.4 670.7 407.7 672.5 409.1 674.5 410.5 676.7 411.8 679.1 413.2 681.6 414.6 684.1 415.9 686.7 417.3 689.3 418.7 691.8 420.0 694.2 421.4 696.4 422.8 698.4 424.1 700.2 425.5 701.8 426.9 703.2 428.2 704.4 429.6 705.5 431.0 706.3" stroke="#ee7a70"/><polyline points="376.3 661.7 377.6 661.8 379.0 662.0 380.4 662.1 381.7 662.2 383.1 662.4 384.5 662.6 385.8 662.9 387.2 663.1 388.6 663.4 389.9 663.8 391.3 664.2 392.7 664.6 394.0 665.1 395.4 665.7 396.8 666.3 398.1 667.1 399.5 667.9 400.9 668.8 402.3 669.8 403.6 670.9 405.0 672.1 406.4 673.3 407.7 674.7 409.1 676.2 410.5 677.8 411.8 679.4 413.2 681.1 414.6 682.9 415.9 684.6 417.3 686.4 418.7 688.2 420.0 689.9 421.4 691.6 422.8 693.3 424.1 694.8 425.5 696.3 426.9 697.7 428.2 699.0 429.6 700.2 431.0 701.2" stroke="#3cb054"/><polyline points="376.3 666.5 377.6 666.6 379.0 666.6 380.4 666.7 381.7 666.8 383.1 666.9 384.5 667.0 385.8 667.1 387.2 667.3 388.6 667.5 389.9 667.7 391.3 668.0 392.7 668.3 394.0 668.7 395.4 669.2 396.8 669.7 398.1 670.4 399.5 671.1 400.9 672.0 402.3 673.0 403.6 674.1 405.0 675.3 406.4 676.8 407.7 678.3 409.1 680.0 410.5 681.8 411.8 683.7 413.2 685.7 414.6 687.7 415.9 689.7 417.3 691.7 418.7 693.7 420.0 695.5 421.4 697.3 422.8 698.8 424.1 700.3 425.5 701.6 426.9 702.8 428.2 703.8 429.6 704.7 431.0 705.5" stroke="#22b486"/><polyline points="376.3 662.2 377.6 662.3 379.0 662.3 380.4 662.4 381.7 662.4 383.1 662.5 384.5 662.6 385.8 662.7 387.2 662.8 388.6 663.0 389.9 663.2 391.3 663.5 392.7 663.8 394.0 664.2 395.4 664.7 396.8 665.3 398.1 666.0 399.5 666.8 400.9 667.8 402.3 669.0 403.6 670.4 405.0 672.1 406.4 673.9 407.7 676.0 409.1 678.2 410.5 680.7 411.8 683.3 413.2 685.9 414.6 688.6 415.9 691.2 417.3 693.7 418.7 696.0 420.0 698.2 421.4 700.1 422.8 701.8 424.1 703.3 425.5 704.6 426.9 705.7 428.2 706.6 429.6 707.4 431.0 708.0" stroke="#2fb5bd"/><polyline points="376.3 667.7 377.6 667.7 379.0 667.7 380.4 667.7 381.7 667.7 383.1 667.8 384.5 667.8 385.8 667.9 387.2 667.9 388.6 668.0 389.9 668.1 391.3 668.3 392.7 668.4 394.0 668.6 395.4 668.9 396.8 669.2 398.1 669.6 399.5 670.1 400.9 670.7 402.3 671.4 403.6 672.2 405.0 673.2 406.4 674.4 407.7 675.8 409.1 677.4 410.5 679.1 411.8 681.1 413.2 683.2 414.6 685.4 415.9 687.7 417.3 690.0 418.7 692.3 420.0 694.4 421.4 696.4 422.8 698.2 424.1 699.9 425.5 701.3 426.9 702.5 428.2 703.5 429.6 704.4 431.0 705.1" stroke="#3ba6dc"/><polyline points="376.3 663.9 377.6 663.9 379.0 663.9 380.4 663.9 381.7 664.0 383.1 664.0 384.5 664.1 385.8 664.1 387.2 664.2 388.6 664.3 389.9 664.4 391.3 664.6 392.7 664.8 394.0 665.0 395.4 665.3 396.8 665.7 398.1 666.1 399.5 666.7 400.9 667.3 402.3 668.1 403.6 669.1 405.0 670.3 406.4 671.7 407.7 673.3 409.1 675.1 410.5 677.2 411.8 679.5 413.2 682.0 414.6 684.6 415.9 687.4 417.3 690.1 418.7 692.7 420.0 695.3 421.4 697.7 422.8 699.8 424.1 701.7 425.5 703.4 426.9 704.9 428.2 706.1 429.6 707.2 431.0 708.0" stroke="#6c95d3"/><polyline points="376.3 666.3 377.6 666.3 379.0 666.3 380.4 666.4 381.7 666.4 383.1 666.4 384.5 666.4 385.8 666.5 387.2 666.5 388.6 666.6 389.9 666.7 391.3 666.8 392.7 666.9 394.0 667.1 395.4 667.3 396.8 667.5 398.1 667.8 399.5 668.2 400.9 668.7 402.3 669.3 403.6 670.0 405.0 670.9 406.4 672.0 407.7 673.2 409.1 674.7 410.5 676.4 411.8 678.3 413.2 680.5 414.6 682.8 415.9 685.3 417.3 687.8 418.7 690.4 420.0 692.9 421.4 695.3 422.8 697.5 424.1 699.6 425.5 701.4 426.9 702.9 428.2 704.3 429.6 705.4 431.0 706.3" stroke="#a982c9"/><polyline points="376.3 668.5 377.6 668.5 379.0 668.5 380.4 668.6 381.7 668.6 383.1 668.7 384.5 668.8 385.8 668.8 387.2 669.0 388.6 669.1 389.9 669.3 391.3 669.5 392.7 669.7 394.0 670.1 395.4 670.4 396.8 670.9 398.1 671.5 399.5 672.1 400.9 672.9 402.3 673.9 403.6 675.0 405.0 676.3 406.4 677.7 407.7 679.3 409.1 681.1 410.5 683.1 411.8 685.2 413.2 687.3 414.6 689.5 415.9 691.6 417.3 693.7 418.7 695.7 420.0 697.5 421.4 699.2 422.8 700.7 424.1 702.0 425.5 703.1 426.9 704.1 428.2 704.9 429.6 705.6 431.0 706.2" stroke="#c763b3"/><polyline points="376.3 664.3 377.6 664.3 379.0 664.3 380.4 664.4 381.7 664.4 383.1 664.4 384.5 664.4 385.8 664.5 387.2 664.5 388.6 664.6 389.9 664.7 391.3 664.8 392.7 664.9 394.0 665.1 395.4 665.3 396.8 665.6 398.1 665.9 399.5 666.4 400.9 666.9 402.3 667.6 403.6 668.5 405.0 669.6 406.4 670.9 407.7 672.4 409.1 674.3 410.5 676.4 411.8 678.8 413.2 681.5 414.6 684.3 415.9 687.3 417.3 690.3 418.7 693.2 420.0 695.9 421.4 698.4 422.8 700.7 424.1 702.6 425.5 704.3 426.9 705.7 428.2 706.8 429.6 707.8 431.0 708.5" stroke="#ee62a2"/><polyline points="376.3 664.1 377.6 664.1 379.0 664.2 380.4 664.3 381.7 664.5 383.1 664.6 384.5 664.8 385.8 665.0 387.2 665.2 388.6 665.5 389.9 665.8 391.3 666.2 392.7 666.6 394.0 667.1 395.4 667.7 396.8 668.3 398.1 669.1 399.5 669.9 400.9 670.9 402.3 671.9 403.6 673.1 405.0 674.4 406.4 675.8 407.7 677.3 409.1 678.9 410.5 680.6 411.8 682.4 413.2 684.2 414.6 686.1 415.9 687.9 417.3 689.8 418.7 691.5 420.0 693.2 421.4 694.9 422.8 696.4 424.1 697.8 425.5 699.1 426.9 700.3 428.2 701.3 429.6 702.3 431.0 703.1" stroke="#d98b22"/><polyline points="376.3 665.0 377.6 665.0 379.0 665.0 380.4 665.0 381.7 665.0 383.1 665.1 384.5 665.1 385.8 665.1 387.2 665.2 388.6 665.3 389.9 665.4 391.3 665.5 392.7 665.7 394.0 665.9 395.4 666.2 396.8 666.5 398.1 667.0 399.5 667.6 400.9 668.3 402.3 669.2 403.6 670.4 405.0 671.7 406.4 673.4 407.7 675.4 409.1 677.6 410.5 680.1 411.8 682.9 413.2 685.8 414.6 688.8 415.9 691.7 417.3 694.6 418.7 697.2 420.0 699.5 421.4 701.5 422.8 703.3 424.1 704.7 425.5 705.9 426.9 706.9 428.2 707.7 429.6 708.3 431.0 708.8" stroke="#b09a2c"/><polyline points="376.3 663.9 377.6 663.9 379.0 664.0 380.4 664.0 381.7 664.1 383.1 664.1 384.5 664.2 385.8 664.3 387.2 664.4 388.6 664.5 389.9 664.7 391.3 664.9 392.7 665.1 394.0 665.4 395.4 665.8 396.8 666.3 398.1 666.8 399.5 667.5 400.9 668.3 402.3 669.2 403.6 670.3 405.0 671.6 406.4 673.1 407.7 674.8 409.1 676.6 410.5 678.7 411.8 680.9 413.2 683.2 414.6 685.6 415.9 688.0 417.3 690.4 418.7 692.7 420.0 694.8 421.4 696.8 422.8 698.6 424.1 700.2 425.5 701.7 426.9 702.9 428.2 703.9 429.6 704.8 431.0 705.5" stroke="#79aa3c"/><polyline points="474.5 658.0 475.8 658.1 477.2 658.1 478.6 658.1 479.9 658.2 481.3 658.3 482.7 658.4 484.0 658.5 485.4 658.6 486.8 658.8 488.1 659.1 489.5 659.4 490.9 659.8 492.2 660.2 493.6 660.8 495.0 661.6 496.3 662.5 497.7 663.6 499.1 665.0 500.5 666.6 501.8 668.5 503.2 670.7 504.6 673.1 505.9 675.8 507.3 678.7 508.7 681.7 510.0 684.8 511.4 687.8 512.8 690.6 514.1 693.2 515.5 695.6 516.9 697.7 518.2 699.5 519.6 701.1 521.0 702.4 522.3 703.4 523.7 704.3 525.1 705.0 526.4 705.6 527.8 706.0 529.2 706.4" stroke="#ee7a70"/><polyline points="474.5 656.6 475.8 656.6 477.2 656.7 478.6 656.7 479.9 656.7 481.3 656.8 482.7 656.9 484.0 657.0 485.4 657.2 486.8 657.5 488.1 657.8 489.5 658.3 490.9 658.9 492.2 659.8 493.6 661.0 495.0 662.6 496.3 664.6 497.7 667.1 499.1 670.1 500.5 673.6 501.8 677.5 503.2 681.6 504.6 685.6 505.9 689.4 507.3 692.8 508.7 695.6 510.0 698.0 511.4 699.8 512.8 701.3 514.1 702.3 515.5 703.2 516.9 703.7 518.2 704.2 519.6 704.5 521.0 704.7 522.3 704.9 523.7 705.0 525.1 705.1 526.4 705.1 527.8 705.2 529.2 705.2" stroke="#3cb054"/><polyline points="474.5 664.3 475.8 664.3 477.2 664.3 478.6 664.3 479.9 664.3 481.3 664.3 482.7 664.3 484.0 664.4 485.4 664.4 486.8 664.5 488.1 664.5 489.5 664.7 490.9 664.8 492.2 665.0 493.6 665.4 495.0 665.8 496.3 666.4 497.7 667.3 499.1 668.4 500.5 669.9 501.8 671.9 503.2 674.4 504.6 677.3 505.9 680.6 507.3 684.2 508.7 687.9 510.0 691.3 511.4 694.4 512.8 697.0 514.1 699.1 515.5 700.8 516.9 702.1 518.2 703.0 519.6 703.7 521.0 704.2 522.3 704.5 523.7 704.8 525.1 705.0 526.4 705.1 527.8 705.2 529.2 705.2" stroke="#22b486"/><polyline points="474.5 659.8 475.8 659.8 477.2 659.8 478.6 659.8 479.9 659.9 481.3 659.9 482.7 659.9 484.0 659.9 485.4 659.9 486.8 660.0 488.1 660.1 489.5 660.2 490.9 660.3 492.2 660.5 493.6 660.8 495.0 661.1 496.3 661.6 497.7 662.3 499.1 663.2 500.5 664.4 501.8 665.9 503.2 667.9 504.6 670.4 505.9 673.4 507.3 676.8 508.7 680.5 510.0 684.3 511.4 688.1 512.8 691.6 514.1 694.7 515.5 697.3 516.9 699.4 518.2 701.1 519.6 702.4 521.0 703.4 522.3 704.1 523.7 704.6 525.1 705.0 526.4 705.3 527.8 705.5 529.2 705.7" stroke="#2fb5bd"/><polyline points="474.5 656.8 475.8 656.8 477.2 656.8 478.6 656.9 479.9 656.9 481.3 657.0 482.7 657.1 484.0 657.2 485.4 657.3 486.8 657.5 488.1 657.7 489.5 658.0 490.9 658.4 492.2 659.0 493.6 659.7 495.0 660.5 496.3 661.7 497.7 663.1 499.1 664.8 500.5 666.9 501.8 669.4 503.2 672.3 504.6 675.5 505.9 678.9 507.3 682.5 508.7 686.1 510.0 689.6 511.4 692.8 512.8 695.6 514.1 698.1 515.5 700.2 516.9 701.9 518.2 703.2 519.6 704.3 521.0 705.2 522.3 705.9 523.7 706.4 525.1 706.8 526.4 707.1 527.8 707.3 529.2 707.5" stroke="#3ba6dc"/><polyline points="474.5 663.1 475.8 663.1 477.2 663.1 478.6 663.2 479.9 663.2 481.3 663.2 482.7 663.2 484.0 663.3 485.4 663.3 486.8 663.4 488.1 663.5 489.5 663.7 490.9 663.9 492.2 664.1 493.6 664.5 495.0 664.9 496.3 665.5 497.7 666.2 499.1 667.2 500.5 668.5 501.8 670.0 503.2 671.9 504.6 674.2 505.9 676.7 507.3 679.6 508.7 682.7 510.0 685.9 511.4 689.0 512.8 691.9 514.1 694.6 515.5 696.9 516.9 698.8 518.2 700.4 519.6 701.7 521.0 702.7 522.3 703.5 523.7 704.1 525.1 704.6 526.4 705.0 527.8 705.2 529.2 705.4" stroke="#6c95d3"/><polyline points="474.5 660.6 475.8 660.6 477.2 660.7 478.6 660.7 479.9 660.8 481.3 660.9 482.7 661.0 484.0 661.2 485.4 661.4 486.8 661.6 488.1 661.9 489.5 662.4 490.9 662.9 492.2 663.6 493.6 664.4 495.0 665.5 496.3 666.8 497.7 668.3 499.1 670.2 500.5 672.3 501.8 674.8 503.2 677.5 504.6 680.4 505.9 683.4 507.3 686.5 508.7 689.4 510.0 692.2 511.4 694.7 512.8 696.9 514.1 698.8 515.5 700.4 516.9 701.7 518.2 702.8 519.6 703.7 521.0 704.4 522.3 704.9 523.7 705.4 525.1 705.7 526.4 706.0 527.8 706.2 529.2 706.3" stroke="#a982c9"/><polyline points="474.5 663.8 475.8 663.8 477.2 663.8 478.6 663.8 479.9 663.8 481.3 663.8 482.7 663.8 484.0 663.8 485.4 663.9 486.8 663.9 488.1 664.0 489.5 664.0 490.9 664.1 492.2 664.3 493.6 664.5 495.0 664.7 496.3 665.1 497.7 665.6 499.1 666.4 500.5 667.3 501.8 668.6 503.2 670.3 504.6 672.4 505.9 675.1 507.3 678.2 508.7 681.6 510.0 685.3 511.4 689.1 512.8 692.6 514.1 695.8 515.5 698.5 516.9 700.7 518.2 702.5 519.6 703.9 521.0 704.9 522.3 705.7 523.7 706.3 525.1 706.7 526.4 707.0 527.8 707.2 529.2 707.3" stroke="#c763b3"/><polyline points="474.5 661.3 475.8 661.3 477.2 661.3 478.6 661.3 479.9 661.4 481.3 661.4 482.7 661.4 484.0 661.4 485.4 661.5 486.8 661.6 488.1 661.7 489.5 661.9 490.9 662.1 492.2 662.5 493.6 663.0 495.0 663.6 496.3 664.6 497.7 665.9 499.1 667.6 500.5 669.8 501.8 672.6 503.2 675.9 504.6 679.7 505.9 683.7 507.3 687.7 508.7 691.4 510.0 694.6 511.4 697.4 512.8 699.5 514.1 701.2 515.5 702.4 516.9 703.3 518.2 704.0 519.6 704.5 521.0 704.8 522.3 705.0 523.7 705.2 525.1 705.3 526.4 705.4 527.8 705.4 529.2 705.5" stroke="#ee62a2"/><polyline points="474.5 664.5 475.8 664.6 477.2 664.6 478.6 664.6 479.9 664.6 481.3 664.6 482.7 664.6 484.0 664.6 485.4 664.7 486.8 664.7 488.1 664.8 489.5 664.9 490.9 665.1 492.2 665.3 493.6 665.6 495.0 666.0 496.3 666.5 497.7 667.2 499.1 668.1 500.5 669.4 501.8 671.0 503.2 673.0 504.6 675.4 505.9 678.3 507.3 681.4 508.7 684.8 510.0 688.2 511.4 691.5 512.8 694.4 514.1 697.0 515.5 699.2 516.9 700.9 518.2 702.2 519.6 703.3 521.0 704.0 522.3 704.6 523.7 705.0 525.1 705.4 526.4 705.6 527.8 705.8 529.2 705.9" stroke="#d98b22"/><polyline points="474.5 656.5 475.8 656.5 477.2 656.5 478.6 656.5 479.9 656.5 481.3 656.5 482.7 656.6 484.0 656.6 485.4 656.7 486.8 656.7 488.1 656.9 489.5 657.0 490.9 657.3 492.2 657.6 493.6 658.0 495.0 658.6 496.3 659.3 497.7 660.4 499.1 661.7 500.5 663.5 501.8 665.7 503.2 668.4 504.6 671.6 505.9 675.3 507.3 679.2 508.7 683.2 510.0 687.1 511.4 690.6 512.8 693.8 514.1 696.5 515.5 698.6 516.9 700.4 518.2 701.7 519.6 702.7 521.0 703.4 522.3 704.0 523.7 704.4 525.1 704.7 526.4 704.9 527.8 705.1 529.2 705.2" stroke="#b09a2c"/><polyline points="474.5 664.2 475.8 664.2 477.2 664.2 478.6 664.2 479.9 664.3 481.3 664.3 482.7 664.3 484.0 664.4 485.4 664.4 486.8 664.5 488.1 664.6 489.5 664.7 490.9 664.9 492.2 665.2 493.6 665.5 495.0 665.9 496.3 666.5 497.7 667.3 499.1 668.3 500.5 669.6 501.8 671.1 503.2 673.1 504.6 675.4 505.9 678.0 507.3 681.0 508.7 684.1 510.0 687.3 511.4 690.4 512.8 693.3 514.1 695.9 515.5 698.1 516.9 700.0 518.2 701.5 519.6 702.7 521.0 703.6 522.3 704.3 523.7 704.9 525.1 705.3 526.4 705.6 527.8 705.9 529.2 706.0" stroke="#79aa3c"/><polyline points="566.1 669.5 567.4 669.5 568.8 669.5 570.2 669.5 571.5 669.5 572.9 669.5 574.3 669.5 575.6 669.5 577.0 669.5 578.4 669.5 579.7 669.6 581.1 669.6 582.5 669.6 583.8 669.7 585.2 669.7 586.6 669.9 587.9 670.0 589.3 670.3 590.7 670.7 592.1 671.4 593.4 672.3 594.8 673.7 596.2 675.6 597.5 678.2 598.9 681.5 600.3 685.3 601.6 689.4 603.0 693.4 604.4 697.0 605.7 699.9 607.1 702.1 608.5 703.7 609.8 704.8 611.2 705.6 612.6 706.1 613.9 706.5 615.3 706.7 616.7 706.8 618.0 706.9 619.4 707.0 620.8 707.0" stroke="#ee7a70"/><polyline points="566.1 659.5 567.4 659.5 568.8 659.5 570.2 659.5 571.5 659.5 572.9 659.5 574.3 659.5 575.6 659.5 577.0 659.5 578.4 659.5 579.7 659.6 581.1 659.6 582.5 659.7 583.8 659.7 585.2 659.9 586.6 660.0 587.9 660.3 589.3 660.7 590.7 661.2 592.1 662.0 593.4 663.2 594.8 664.8 596.2 666.9 597.5 669.8 598.9 673.4 600.3 677.6 601.6 682.3 603.0 687.0 604.4 691.5 605.7 695.4 607.1 698.7 608.5 701.2 609.8 703.0 611.2 704.4 612.6 705.4 613.9 706.0 615.3 706.5 616.7 706.8 618.0 707.0 619.4 707.1 620.8 707.2" stroke="#3cb054"/><polyline points="566.1 672.6 567.4 672.6 568.8 672.6 570.2 672.6 571.5 672.6 572.9 672.6 574.3 672.6 575.6 672.6 577.0 672.7 578.4 672.7 579.7 672.7 581.1 672.8 582.5 672.9 583.8 673.0 585.2 673.1 586.6 673.3 587.9 673.6 589.3 673.9 590.7 674.4 592.1 675.0 593.4 675.9 594.8 676.9 596.2 678.2 597.5 679.9 598.9 681.8 600.3 684.1 601.6 686.7 603.0 689.4 604.4 692.2 605.7 694.9 607.1 697.4 608.5 699.6 609.8 701.5 611.2 703.1 612.6 704.4 613.9 705.4 615.3 706.1 616.7 706.7 618.0 707.2 619.4 707.5 620.8 707.7" stroke="#22b486"/><polyline points="566.1 671.6 567.4 671.6 568.8 671.6 570.2 671.6 571.5 671.6 572.9 671.6 574.3 671.6 575.6 671.6 577.0 671.6 578.4 671.6 579.7 671.6 581.1 671.6 582.5 671.6 583.8 671.6 585.2 671.6 586.6 671.6 587.9 671.7 589.3 671.7 590.7 671.8 592.1 672.0 593.4 672.2 594.8 672.5 596.2 673.0 597.5 673.8 598.9 674.8 600.3 676.3 601.6 678.3 603.0 680.9 604.4 684.1 605.7 687.6 607.1 691.2 608.5 694.5 609.8 697.4 611.2 699.8 612.6 701.5 613.9 702.8 615.3 703.7 616.7 704.3 618.0 704.7 619.4 705.0 620.8 705.2" stroke="#2fb5bd"/><polyline points="566.1 666.9 567.4 666.9 568.8 666.9 570.2 667.0 571.5 667.0 572.9 667.0 574.3 667.0 575.6 667.0 577.0 667.0 578.4 667.0 579.7 667.0 581.1 667.1 582.5 667.2 583.8 667.3 585.2 667.4 586.6 667.6 587.9 667.9 589.3 668.3 590.7 668.9 592.1 669.7 593.4 670.8 594.8 672.3 596.2 674.3 597.5 676.9 598.9 679.9 600.3 683.3 601.6 687.0 603.0 690.6 604.4 694.0 605.7 697.0 607.1 699.4 608.5 701.3 609.8 702.7 611.2 703.8 612.6 704.6 613.9 705.1 615.3 705.5 616.7 705.8 618.0 705.9 619.4 706.1 620.8 706.2" stroke="#3ba6dc"/><polyline points="566.1 663.6 567.4 663.6 568.8 663.6 570.2 663.6 571.5 663.7 572.9 663.7 574.3 663.7 575.6 663.7 577.0 663.8 578.4 663.9 579.7 663.9 581.1 664.1 582.5 664.2 583.8 664.5 585.2 664.8 586.6 665.2 587.9 665.8 589.3 666.6 590.7 667.6 592.1 669.0 593.4 670.7 594.8 672.8 596.2 675.4 597.5 678.4 598.9 681.7 600.3 685.3 601.6 688.9 603.0 692.3 604.4 695.5 605.7 698.2 607.1 700.5 608.5 702.4 609.8 703.9 611.2 705.0 612.6 705.9 613.9 706.5 615.3 707.0 616.7 707.4 618.0 707.6 619.4 707.8 620.8 708.0" stroke="#6c95d3"/><polyline points="566.1 663.1 567.4 663.1 568.8 663.1 570.2 663.1 571.5 663.1 572.9 663.1 574.3 663.1 575.6 663.1 577.0 663.2 578.4 663.2 579.7 663.2 581.1 663.3 582.5 663.4 583.8 663.5 585.2 663.7 586.6 663.9 587.9 664.2 589.3 664.7 590.7 665.3 592.1 666.2 593.4 667.3 594.8 668.9 596.2 670.9 597.5 673.4 598.9 676.5 600.3 680.0 601.6 683.8 603.0 687.8 604.4 691.6 605.7 695.1 607.1 698.1 608.5 700.6 609.8 702.6 611.2 704.1 612.6 705.3 613.9 706.1 615.3 706.8 616.7 707.2 618.0 707.5 619.4 707.8 620.8 707.9" stroke="#a982c9"/><polyline points="566.1 660.0 567.4 660.0 568.8 660.0 570.2 660.0 571.5 660.1 572.9 660.1 574.3 660.1 575.6 660.1 577.0 660.1 578.4 660.1 579.7 660.1 581.1 660.2 582.5 660.2 583.8 660.3 585.2 660.4 586.6 660.6 587.9 660.9 589.3 661.2 590.7 661.8 592.1 662.5 593.4 663.5 594.8 665.0 596.2 666.9 597.5 669.4 598.9 672.6 600.3 676.4 601.6 680.8 603.0 685.3 604.4 689.9 605.7 694.0 607.1 697.6 608.5 700.6 609.8 702.9 611.2 704.6 612.6 705.9 613.9 706.9 615.3 707.5 616.7 708.0 618.0 708.3 619.4 708.5 620.8 708.7" stroke="#c763b3"/><polyline points="566.1 660.3 567.4 660.3 568.8 660.3 570.2 660.4 571.5 660.4 572.9 660.4 574.3 660.4 575.6 660.5 577.0 660.6 578.4 660.6 579.7 660.8 581.1 660.9 582.5 661.1 583.8 661.4 585.2 661.7 586.6 662.2 587.9 662.8 589.3 663.6 590.7 664.6 592.1 665.9 593.4 667.5 594.8 669.5 596.2 671.8 597.5 674.5 598.9 677.6 600.3 680.9 601.6 684.3 603.0 687.7 604.4 690.9 605.7 693.9 607.1 696.5 608.5 698.7 609.8 700.6 611.2 702.1 612.6 703.3 613.9 704.2 615.3 705.0 616.7 705.5 618.0 706.0 619.4 706.3 620.8 706.5" stroke="#ee62a2"/><polyline points="566.1 659.5 567.4 659.5 568.8 659.5 570.2 659.5 571.5 659.5 572.9 659.5 574.3 659.5 575.6 659.5 577.0 659.5 578.4 659.6 579.7 659.6 581.1 659.7 582.5 659.7 583.8 659.8 585.2 660.0 586.6 660.2 587.9 660.5 589.3 661.0 590.7 661.6 592.1 662.5 593.4 663.7 594.8 665.4 596.2 667.5 597.5 670.2 598.9 673.5 600.3 677.3 601.6 681.5 603.0 685.8 604.4 690.0 605.7 693.7 607.1 696.9 608.5 699.5 609.8 701.5 611.2 703.1 612.6 704.2 613.9 705.1 615.3 705.7 616.7 706.1 618.0 706.4 619.4 706.6 620.8 706.8" stroke="#d98b22"/><polyline points="566.1 652.8 567.4 652.8 568.8 652.8 570.2 652.9 571.5 652.9 572.9 652.9 574.3 652.9 575.6 652.9 577.0 653.0 578.4 653.0 579.7 653.1 581.1 653.3 582.5 653.5 583.8 653.7 585.2 654.1 586.6 654.7 587.9 655.5 589.3 656.7 590.7 658.3 592.1 660.4 593.4 663.2 594.8 666.7 596.2 670.9 597.5 675.7 598.9 680.7 600.3 685.8 601.6 690.5 603.0 694.6 604.4 697.9 605.7 700.6 607.1 702.6 608.5 704.1 609.8 705.1 611.2 705.9 612.6 706.4 613.9 706.8 615.3 707.1 616.7 707.3 618.0 707.4 619.4 707.5 620.8 707.5" stroke="#b09a2c"/><polyline points="566.1 668.9 567.4 668.9 568.8 668.9 570.2 668.9 571.5 668.9 572.9 668.9 574.3 668.9 575.6 668.9 577.0 668.9 578.4 668.9 579.7 668.9 581.1 668.9 582.5 669.0 583.8 669.0 585.2 669.1 586.6 669.3 587.9 669.5 589.3 669.8 590.7 670.3 592.1 671.0 593.4 672.1 594.8 673.6 596.2 675.6 597.5 678.3 598.9 681.7 600.3 685.5 601.6 689.5 603.0 693.4 604.4 696.8 605.7 699.6 607.1 701.7 608.5 703.3 609.8 704.4 611.2 705.1 612.6 705.6 613.9 706.0 615.3 706.2 616.7 706.3 618.0 706.4 619.4 706.5 620.8 706.6" stroke="#79aa3c"/><polyline points="283.6 761.1 284.9 761.1 286.3 761.1 287.7 761.1 289.0 761.1 290.4 761.1 291.8 761.1 293.1 761.1 294.5 761.1 295.9 761.1 297.2 761.1 298.6 761.1 300.0 761.1 301.3 761.1 302.7 761.1 304.1 761.2 305.4 761.2 306.8 761.3 308.2 761.3 309.6 761.5 310.9 761.6 312.3 761.8 313.7 762.2 315.0 762.6 316.4 763.3 317.8 764.1 319.1 765.4 320.5 767.0 321.9 769.2 323.2 772.0 324.6 775.4 326.0 779.4 327.3 783.8 328.7 788.4 330.1 792.9 331.4 797.0 332.8 800.6 334.2 803.6 335.5 805.9 336.9 807.7 338.3 809.0" stroke="#ee7a70"/><polyline points="283.6 758.7 284.9 758.7 286.3 758.7 287.7 758.7 289.0 758.7 290.4 758.7 291.8 758.7 293.1 758.7 294.5 758.7 295.9 758.7 297.2 758.7 298.6 758.7 300.0 758.8 301.3 758.8 302.7 758.8 304.1 758.9 305.4 759.0 306.8 759.1 308.2 759.2 309.6 759.4 310.9 759.7 312.3 760.0 313.7 760.5 315.0 761.1 316.4 761.9 317.8 762.9 319.1 764.3 320.5 766.0 321.9 768.1 323.2 770.7 324.6 773.7 326.0 777.2 327.3 781.0 328.7 785.1 330.1 789.1 331.4 793.0 332.8 796.6 334.2 799.7 335.5 802.5 336.9 804.7 338.3 806.5" stroke="#3cb054"/><polyline points="283.6 763.9 284.9 763.9 286.3 763.9 287.7 763.9 289.0 763.9 290.4 763.9 291.8 763.9 293.1 763.9 294.5 764.0 295.9 764.0 297.2 764.0 298.6 764.0 300.0 764.0 301.3 764.0 302.7 764.0 304.1 764.0 305.4 764.0 306.8 764.0 308.2 764.1 309.6 764.1 310.9 764.2 312.3 764.4 313.7 764.5 315.0 764.8 316.4 765.3 317.8 765.9 319.1 766.8 320.5 768.1 321.9 769.9 323.2 772.3 324.6 775.4 326.0 779.2 327.3 783.5 328.7 788.2 330.1 792.7 331.4 796.9 332.8 800.4 334.2 803.2 335.5 805.4 336.9 806.9 338.3 808.0" stroke="#22b486"/><polyline points="283.6 759.3 284.9 759.3 286.3 759.3 287.7 759.3 289.0 759.3 290.4 759.3 291.8 759.3 293.1 759.3 294.5 759.3 295.9 759.3 297.2 759.4 298.6 759.4 300.0 759.4 301.3 759.4 302.7 759.4 304.1 759.4 305.4 759.5 306.8 759.5 308.2 759.6 309.6 759.7 310.9 759.8 312.3 760.0 313.7 760.3 315.0 760.7 316.4 761.2 317.8 762.0 319.1 763.0 320.5 764.4 321.9 766.2 323.2 768.5 324.6 771.4 326.0 774.8 327.3 778.8 328.7 783.1 330.1 787.5 331.4 791.8 332.8 795.7 334.2 799.1 335.5 802.0 336.9 804.2 338.3 805.9" stroke="#2fb5bd"/><polyline points="283.6 762.0 284.9 762.0 286.3 762.0 287.7 762.0 289.0 762.0 290.4 762.0 291.8 762.0 293.1 762.0 294.5 762.0 295.9 762.0 297.2 762.0 298.6 762.1 300.0 762.1 301.3 762.1 302.7 762.1 304.1 762.1 305.4 762.2 306.8 762.2 308.2 762.3 309.6 762.4 310.9 762.5 312.3 762.8 313.7 763.0 315.0 763.4 316.4 764.0 317.8 764.8 319.1 765.8 320.5 767.2 321.9 769.0 323.2 771.3 324.6 774.1 326.0 777.5 327.3 781.3 328.7 785.5 330.1 789.7 331.4 793.7 332.8 797.4 334.2 800.6 335.5 803.2 336.9 805.4 338.3 807.0" stroke="#3ba6dc"/><polyline points="283.6 758.7 284.9 758.7 286.3 758.7 287.7 758.7 289.0 758.7 290.4 758.7 291.8 758.7 293.1 758.7 294.5 758.7 295.9 758.7 297.2 758.7 298.6 758.7 300.0 758.7 301.3 758.7 302.7 758.8 304.1 758.8 305.4 758.8 306.8 758.9 308.2 759.0 309.6 759.1 310.9 759.3 312.3 759.5 313.7 759.8 315.0 760.3 316.4 760.9 317.8 761.8 319.1 763.0 320.5 764.5 321.9 766.5 323.2 769.1 324.6 772.3 326.0 776.0 327.3 780.3 328.7 784.8 330.1 789.3 331.4 793.6 332.8 797.5 334.2 800.8 335.5 803.6 336.9 805.7 338.3 807.4" stroke="#6c95d3"/><polyline points="283.6 762.7 284.9 762.7 286.3 762.7 287.7 762.7 289.0 762.7 290.4 762.7 291.8 762.7 293.1 762.7 294.5 762.7 295.9 762.7 297.2 762.7 298.6 762.7 300.0 762.7 301.3 762.7 302.7 762.7 304.1 762.7 305.4 762.7 306.8 762.7 308.2 762.8 309.6 762.8 310.9 762.9 312.3 763.0 313.7 763.3 315.0 763.6 316.4 764.0 317.8 764.7 319.1 765.7 320.5 767.1 321.9 769.2 323.2 771.9 324.6 775.5 326.0 779.9 327.3 784.9 328.7 790.0 330.1 795.0 331.4 799.3 332.8 802.8 334.2 805.6 335.5 807.6 336.9 809.0 338.3 810.0" stroke="#a982c9"/><polyline points="283.6 763.7 284.9 763.7 286.3 763.7 287.7 763.7 289.0 763.7 290.4 763.7 291.8 763.7 293.1 763.7 294.5 763.7 295.9 763.7 297.2 763.7 298.6 763.7 300.0 763.7 301.3 763.7 302.7 763.8 304.1 763.8 305.4 763.8 306.8 763.9 308.2 764.0 309.6 764.1 310.9 764.3 312.3 764.6 313.7 765.0 315.0 765.5 316.4 766.2 317.8 767.2 319.1 768.5 320.5 770.1 321.9 772.3 323.2 774.9 324.6 778.1 326.0 781.7 327.3 785.7 328.7 789.7 330.1 793.5 331.4 797.0 332.8 800.1 334.2 802.6 335.5 804.6 336.9 806.2 338.3 807.4" stroke="#c763b3"/><polyline points="283.6 759.7 284.9 759.7 286.3 759.7 287.7 759.7 289.0 759.7 290.4 759.7 291.8 759.7 293.1 759.7 294.5 759.7 295.9 759.7 297.2 759.7 298.6 759.7 300.0 759.7 301.3 759.7 302.7 759.7 304.1 759.7 305.4 759.8 306.8 759.8 308.2 759.9 309.6 760.0 310.9 760.1 312.3 760.3 313.7 760.6 315.0 761.1 316.4 761.7 317.8 762.5 319.1 763.7 320.5 765.3 321.9 767.5 323.2 770.3 324.6 773.7 326.0 777.8 327.3 782.3 328.7 787.1 330.1 791.7 331.4 795.9 332.8 799.5 334.2 802.4 335.5 804.7 336.9 806.4 338.3 807.7" stroke="#ee62a2"/><polyline points="283.6 761.3 284.9 761.3 286.3 761.3 287.7 761.3 289.0 761.3 290.4 761.3 291.8 761.3 293.1 761.3 294.5 761.3 295.9 761.3 297.2 761.3 298.6 761.3 300.0 761.3 301.3 761.4 302.7 761.4 304.1 761.4 305.4 761.4 306.8 761.4 308.2 761.4 309.6 761.5 310.9 761.6 312.3 761.7 313.7 761.8 315.0 762.1 316.4 762.4 317.8 762.9 319.1 763.7 320.5 764.7 321.9 766.1 323.2 768.1 324.6 770.8 326.0 774.2 327.3 778.3 328.7 783.0 330.1 787.9 331.4 792.7 332.8 797.1 334.2 800.8 335.5 803.8 336.9 806.1 338.3 807.8" stroke="#d98b22"/><polyline points="283.6 761.0 284.9 761.0 286.3 761.0 287.7 761.0 289.0 761.0 290.4 761.0 291.8 761.0 293.1 761.0 294.5 761.0 295.9 761.0 297.2 761.0 298.6 761.0 300.0 761.0 301.3 761.0 302.7 761.0 304.1 761.1 305.4 761.1 306.8 761.2 308.2 761.3 309.6 761.4 310.9 761.5 312.3 761.8 313.7 762.1 315.0 762.6 316.4 763.2 317.8 764.2 319.1 765.5 320.5 767.2 321.9 769.4 323.2 772.3 324.6 775.8 326.0 779.8 327.3 784.2 328.7 788.6 330.1 792.9 331.4 796.7 332.8 800.0 334.2 802.6 335.5 804.7 336.9 806.2 338.3 807.4" stroke="#b09a2c"/><polyline points="283.6 758.6 284.9 758.6 286.3 758.6 287.7 758.6 289.0 758.6 290.4 758.6 291.8 758.6 293.1 758.6 294.5 758.6 295.9 758.6 297.2 758.6 298.6 758.7 300.0 758.7 301.3 758.7 302.7 758.7 304.1 758.7 305.4 758.7 306.8 758.8 308.2 758.8 309.6 758.9 310.9 759.1 312.3 759.3 313.7 759.6 315.0 760.0 316.4 760.7 317.8 761.6 319.1 763.0 320.5 764.8 321.9 767.3 323.2 770.5 324.6 774.6 326.0 779.2 327.3 784.3 328.7 789.4 330.1 794.2 331.4 798.3 332.8 801.7 334.2 804.3 335.5 806.3 336.9 807.7 338.3 808.7" stroke="#79aa3c"/><polyline points="376.3 763.4 377.6 763.4 379.0 763.4 380.4 763.4 381.7 763.4 383.1 763.4 384.5 763.4 385.8 763.4 387.2 763.4 388.6 763.4 389.9 763.4 391.3 763.4 392.7 763.4 394.0 763.4 395.4 763.4 396.8 763.4 398.1 763.4 399.5 763.4 400.9 763.4 402.3 763.4 403.6 763.5 405.0 763.6 406.4 763.7 407.7 763.8 409.1 764.1 410.5 764.5 411.8 765.0 413.2 765.9 414.6 767.1 415.9 768.8 417.3 771.2 418.7 774.4 420.0 778.4 421.4 783.0 422.8 788.1 424.1 793.2 425.5 797.9 426.9 801.8 428.2 804.9 429.6 807.3 431.0 808.9" stroke="#ee7a70"/><polyline points="376.3 761.4 377.6 761.4 379.0 761.4 380.4 761.4 381.7 761.4 383.1 761.4 384.5 761.4 385.8 761.4 387.2 761.4 388.6 761.4 389.9 761.4 391.3 761.4 392.7 761.4 394.0 761.5 395.4 761.5 396.8 761.5 398.1 761.6 399.5 761.7 400.9 761.8 402.3 761.9 403.6 762.1 405.0 762.4 406.4 762.7 407.7 763.2 409.1 763.9 410.5 764.7 411.8 765.9 413.2 767.4 414.6 769.3 415.9 771.7 417.3 774.5 418.7 777.8 420.0 781.5 421.4 785.4 422.8 789.3 424.1 793.1 425.5 796.5 426.9 799.5 428.2 802.1 429.6 804.1 431.0 805.7" stroke="#3cb054"/><polyline points="376.3 760.7 377.6 760.7 379.0 760.7 380.4 760.7 381.7 760.7 383.1 760.7 384.5 760.7 385.8 760.7 387.2 760.7 388.6 760.7 389.9 760.7 391.3 760.7 392.7 760.7 394.0 760.7 395.4 760.7 396.8 760.7 398.1 760.7 399.5 760.8 400.9 760.8 402.3 760.9 403.6 761.0 405.0 761.1 406.4 761.3 407.7 761.7 409.1 762.2 410.5 762.9 411.8 763.9 413.2 765.4 414.6 767.4 415.9 770.2 417.3 773.7 418.7 778.0 420.0 782.8 421.4 787.9 422.8 792.9 424.1 797.3 425.5 800.9 426.9 803.8 428.2 805.9 429.6 807.4 431.0 808.5" stroke="#22b486"/><polyline points="376.3 761.4 377.6 761.4 379.0 761.4 380.4 761.4 381.7 761.4 383.1 761.4 384.5 761.4 385.8 761.4 387.2 761.4 388.6 761.4 389.9 761.4 391.3 761.4 392.7 761.4 394.0 761.4 395.4 761.4 396.8 761.5 398.1 761.5 399.5 761.5 400.9 761.5 402.3 761.6 403.6 761.7 405.0 761.8 406.4 761.9 407.7 762.2 409.1 762.6 410.5 763.1 411.8 763.9 413.2 765.1 414.6 766.8 415.9 769.1 417.3 772.1 418.7 775.9 420.0 780.4 421.4 785.4 422.8 790.3 424.1 794.9 425.5 798.9 426.9 802.1 428.2 804.5 429.6 806.2 431.0 807.5" stroke="#2fb5bd"/><polyline points="376.3 760.5 377.6 760.5 379.0 760.5 380.4 760.5 381.7 760.5 383.1 760.5 384.5 760.5 385.8 760.5 387.2 760.5 388.6 760.5 389.9 760.5 391.3 760.5 392.7 760.5 394.0 760.5 395.4 760.5 396.8 760.6 398.1 760.6 399.5 760.6 400.9 760.7 402.3 760.7 403.6 760.8 405.0 761.0 406.4 761.2 407.7 761.4 409.1 761.8 410.5 762.4 411.8 763.1 413.2 764.2 414.6 765.7 415.9 767.6 417.3 770.1 418.7 773.2 420.0 776.9 421.4 781.2 422.8 785.7 424.1 790.1 425.5 794.3 426.9 798.0 428.2 801.1 429.6 803.6 431.0 805.5" stroke="#3ba6dc"/><polyline points="376.3 761.7 377.6 761.7 379.0 761.7 380.4 761.7 381.7 761.7 383.1 761.7 384.5 761.7 385.8 761.7 387.2 761.7 388.6 761.7 389.9 761.7 391.3 761.7 392.7 761.7 394.0 761.7 395.4 761.8 396.8 761.8 398.1 761.9 399.5 762.0 400.9 762.1 402.3 762.2 403.6 762.4 405.0 762.7 406.4 763.1 407.7 763.7 409.1 764.4 410.5 765.4 411.8 766.7 413.2 768.3 414.6 770.5 415.9 773.1 417.3 776.2 418.7 779.7 420.0 783.5 421.4 787.5 422.8 791.4 424.1 795.0 425.5 798.2 426.9 800.8 428.2 803.1 429.6 804.8 431.0 806.2" stroke="#6c95d3"/><polyline points="376.3 764.6 377.6 764.6 379.0 764.6 380.4 764.6 381.7 764.6 383.1 764.6 384.5 764.6 385.8 764.6 387.2 764.6 388.6 764.6 389.9 764.6 391.3 764.6 392.7 764.6 394.0 764.6 395.4 764.6 396.8 764.6 398.1 764.6 399.5 764.7 400.9 764.7 402.3 764.7 403.6 764.8 405.0 764.9 406.4 765.0 407.7 765.3 409.1 765.6 410.5 766.1 411.8 766.7 413.2 767.7 414.6 769.1 415.9 771.1 417.3 773.7 418.7 777.0 420.0 781.0 421.4 785.5 422.8 790.2 424.1 794.7 425.5 798.8 426.9 802.1 428.2 804.8 429.6 806.8 431.0 808.3" stroke="#a982c9"/><polyline points="376.3 760.1 377.6 760.1 379.0 760.1 380.4 760.1 381.7 760.1 383.1 760.1 384.5 760.1 385.8 760.1 387.2 760.1 388.6 760.1 389.9 760.1 391.3 760.1 392.7 760.1 394.0 760.1 395.4 760.1 396.8 760.1 398.1 760.1 399.5 760.1 400.9 760.1 402.3 760.1 403.6 760.2 405.0 760.2 406.4 760.3 407.7 760.4 409.1 760.7 410.5 761.0 411.8 761.5 413.2 762.4 414.6 763.6 415.9 765.5 417.3 768.1 418.7 771.8 420.0 776.5 421.4 782.1 422.8 788.1 424.1 794.0 425.5 799.1 426.9 803.2 428.2 806.2 429.6 808.4 431.0 809.9" stroke="#c763b3"/><polyline points="376.3 762.0 377.6 762.0 379.0 762.0 380.4 762.0 381.7 762.0 383.1 762.0 384.5 762.0 385.8 762.1 387.2 762.1 388.6 762.1 389.9 762.1 391.3 762.1 392.7 762.1 394.0 762.1 395.4 762.1 396.8 762.1 398.1 762.1 399.5 762.1 400.9 762.1 402.3 762.1 403.6 762.1 405.0 762.2 406.4 762.2 407.7 762.4 409.1 762.5 410.5 762.8 411.8 763.2 413.2 763.8 414.6 764.7 415.9 766.0 417.3 767.9 418.7 770.5 420.0 774.1 421.4 778.5 422.8 783.7 424.1 789.2 425.5 794.5 426.9 799.3 428.2 803.1 429.6 806.0 431.0 808.2" stroke="#ee62a2"/><polyline points="376.3 760.8 377.6 760.8 379.0 760.8 380.4 760.8 381.7 760.8 383.1 760.8 384.5 760.8 385.8 760.8 387.2 760.8 388.6 760.8 389.9 760.8 391.3 760.8 392.7 760.8 394.0 760.8 395.4 760.8 396.8 760.8 398.1 760.8 399.5 760.9 400.9 760.9 402.3 761.0 403.6 761.1 405.0 761.3 406.4 761.5 407.7 761.8 409.1 762.3 410.5 762.9 411.8 763.8 413.2 765.0 414.6 766.7 415.9 768.9 417.3 771.7 418.7 775.2 420.0 779.2 421.4 783.6 422.8 788.2 424.1 792.5 425.5 796.5 426.9 799.8 428.2 802.5 429.6 804.6 431.0 806.2" stroke="#d98b22"/><polyline points="376.3 758.2 377.6 758.2 379.0 758.2 380.4 758.2 381.7 758.2 383.1 758.2 384.5 758.2 385.8 758.2 387.2 758.2 388.6 758.2 389.9 758.2 391.3 758.2 392.7 758.2 394.0 758.2 395.4 758.2 396.8 758.2 398.1 758.2 399.5 758.3 400.9 758.3 402.3 758.4 403.6 758.5 405.0 758.6 406.4 758.8 407.7 759.1 409.1 759.5 410.5 760.1 411.8 760.9 413.2 762.0 414.6 763.5 415.9 765.5 417.3 768.1 418.7 771.3 420.0 775.2 421.4 779.5 422.8 784.1 424.1 788.8 425.5 793.1 426.9 796.9 428.2 800.0 429.6 802.5 431.0 804.5" stroke="#b09a2c"/><polyline points="376.3 759.4 377.6 759.4 379.0 759.4 380.4 759.4 381.7 759.4 383.1 759.4 384.5 759.4 385.8 759.4 387.2 759.4 388.6 759.4 389.9 759.4 391.3 759.5 392.7 759.5 394.0 759.5 395.4 759.5 396.8 759.5 398.1 759.5 399.5 759.5 400.9 759.6 402.3 759.6 403.6 759.7 405.0 759.9 406.4 760.1 407.7 760.3 409.1 760.7 410.5 761.3 411.8 762.2 413.2 763.4 414.6 765.0 415.9 767.3 417.3 770.2 418.7 773.9 420.0 778.3 421.4 783.1 422.8 788.2 424.1 793.1 425.5 797.5 426.9 801.2 428.2 804.1 429.6 806.4 431.0 808.0" stroke="#79aa3c"/><polyline points="474.5 764.2 475.8 764.2 477.2 764.2 478.6 764.2 479.9 764.2 481.3 764.2 482.7 764.2 484.0 764.3 485.4 764.3 486.8 764.3 488.1 764.4 489.5 764.5 490.9 764.6 492.2 764.7 493.6 764.9 495.0 765.1 496.3 765.4 497.7 765.8 499.1 766.3 500.5 766.9 501.8 767.7 503.2 768.8 504.6 770.1 505.9 771.6 507.3 773.5 508.7 775.7 510.0 778.1 511.4 780.8 512.8 783.6 514.1 786.4 515.5 789.1 516.9 791.6 518.2 793.8 519.6 795.8 521.0 797.4 522.3 798.8 523.7 799.9 525.1 800.8 526.4 801.5 527.8 802.0 529.2 802.4" stroke="#ee7a70"/><polyline points="474.5 763.0 475.8 763.0 477.2 763.0 478.6 763.0 479.9 763.0 481.3 763.0 482.7 763.0 484.0 763.0 485.4 763.0 486.8 763.0 488.1 763.0 489.5 763.0 490.9 763.0 492.2 763.0 493.6 763.0 495.0 763.0 496.3 763.1 497.7 763.1 499.1 763.2 500.5 763.3 501.8 763.6 503.2 763.9 504.6 764.6 505.9 765.6 507.3 767.3 508.7 769.8 510.0 773.4 511.4 778.1 512.8 783.4 514.1 788.9 515.5 793.6 516.9 797.3 518.2 799.9 519.6 801.7 521.0 802.8 522.3 803.5 523.7 803.9 525.1 804.1 526.4 804.2 527.8 804.3 529.2 804.4" stroke="#3cb054"/><polyline points="474.5 759.4 475.8 759.4 477.2 759.4 478.6 759.5 479.9 759.5 481.3 759.5 482.7 759.5 484.0 759.5 485.4 759.5 486.8 759.5 488.1 759.5 489.5 759.5 490.9 759.6 492.2 759.7 493.6 759.8 495.0 759.9 496.3 760.1 497.7 760.4 499.1 760.8 500.5 761.4 501.8 762.3 503.2 763.4 504.6 765.1 505.9 767.2 507.3 769.9 508.7 773.3 510.0 777.1 511.4 781.3 512.8 785.5 514.1 789.5 515.5 793.0 516.9 795.9 518.2 798.2 519.6 800.0 521.0 801.3 522.3 802.2 523.7 802.9 525.1 803.3 526.4 803.6 527.8 803.9 529.2 804.0" stroke="#22b486"/><polyline points="474.5 766.2 475.8 766.3 477.2 766.3 478.6 766.3 479.9 766.3 481.3 766.3 482.7 766.3 484.0 766.3 485.4 766.3 486.8 766.3 488.1 766.3 489.5 766.3 490.9 766.3 492.2 766.3 493.6 766.3 495.0 766.4 496.3 766.4 497.7 766.5 499.1 766.6 500.5 766.8 501.8 767.0 503.2 767.4 504.6 767.9 505.9 768.7 507.3 769.8 508.7 771.3 510.0 773.4 511.4 776.0 512.8 779.3 514.1 783.0 515.5 786.9 516.9 790.8 518.2 794.3 519.6 797.2 521.0 799.5 522.3 801.3 523.7 802.6 525.1 803.5 526.4 804.1 527.8 804.5 529.2 804.8" stroke="#2fb5bd"/><polyline points="474.5 763.6 475.8 763.6 477.2 763.6 478.6 763.6 479.9 763.6 481.3 763.6 482.7 763.6 484.0 763.6 485.4 763.6 486.8 763.6 488.1 763.6 489.5 763.6 490.9 763.6 492.2 763.6 493.6 763.6 495.0 763.6 496.3 763.6 497.7 763.6 499.1 763.6 500.5 763.6 501.8 763.6 503.2 763.6 504.6 763.6 505.9 763.6 507.3 763.6 508.7 763.6 510.0 763.6 511.4 764.2 512.8 774.4 514.1 791.8 515.5 793.6 516.9 793.6 518.2 793.6 519.6 793.6 521.0 793.6 522.3 793.6 523.7 793.6 525.1 793.6 526.4 793.6 527.8 793.6 529.2 793.6" stroke="#3ba6dc"/><polyline points="474.5 750.9 475.8 750.9 477.2 750.9 478.6 750.9 479.9 751.0 481.3 751.0 482.7 751.0 484.0 751.1 485.4 751.1 486.8 751.2 488.1 751.4 489.5 751.5 490.9 751.7 492.2 752.0 493.6 752.4 495.0 752.8 496.3 753.4 497.7 754.2 499.1 755.1 500.5 756.4 501.8 757.9 503.2 759.8 504.6 762.0 505.9 764.6 507.3 767.6 508.7 770.9 510.0 774.5 511.4 778.1 512.8 781.7 514.1 785.1 515.5 788.2 516.9 791.0 518.2 793.4 519.6 795.4 521.0 797.1 522.3 798.4 523.7 799.5 525.1 800.3 526.4 801.0 527.8 801.5 529.2 801.9" stroke="#6c95d3"/><polyline points="474.5 763.1 475.8 763.1 477.2 763.1 478.6 763.1 479.9 763.1 481.3 763.1 482.7 763.1 484.0 763.1 485.4 763.1 486.8 763.1 488.1 763.1 489.5 763.1 490.9 763.1 492.2 763.1 493.6 763.2 495.0 763.2 496.3 763.3 497.7 763.5 499.1 763.6 500.5 763.9 501.8 764.3 503.2 764.9 504.6 765.8 505.9 767.0 507.3 768.6 508.7 770.8 510.0 773.6 511.4 777.0 512.8 780.9 514.1 785.0 515.5 788.9 516.9 792.5 518.2 795.6 519.6 798.0 521.0 799.8 522.3 801.2 523.7 802.1 525.1 802.8 526.4 803.3 527.8 803.6 529.2 803.8" stroke="#a982c9"/><polyline points="474.5 755.8 475.8 755.8 477.2 755.8 478.6 755.8 479.9 755.8 481.3 755.8 482.7 755.8 484.0 755.8 485.4 755.8 486.8 755.8 488.1 755.8 489.5 755.8 490.9 755.8 492.2 755.8 493.6 755.8 495.0 755.9 496.3 755.9 497.7 756.0 499.1 756.1 500.5 756.2 501.8 756.5 503.2 756.9 504.6 757.5 505.9 758.4 507.3 759.8 508.7 761.8 510.0 764.5 511.4 768.2 512.8 772.8 514.1 778.1 515.5 783.5 516.9 788.6 518.2 792.9 519.6 796.4 521.0 798.9 522.3 800.7 523.7 801.9 525.1 802.7 526.4 803.3 527.8 803.6 529.2 803.8" stroke="#c763b3"/><polyline points="474.5 763.0 475.8 763.0 477.2 763.0 478.6 763.0 479.9 763.0 481.3 763.0 482.7 763.0 484.0 763.0 485.4 763.0 486.8 763.0 488.1 763.0 489.5 763.0 490.9 763.0 492.2 763.1 493.6 763.1 495.0 763.1 496.3 763.1 497.7 763.2 499.1 763.3 500.5 763.4 501.8 763.7 503.2 764.1 504.6 764.8 505.9 765.8 507.3 767.4 508.7 769.7 510.0 772.9 511.4 777.0 512.8 781.7 514.1 786.6 515.5 791.1 516.9 794.8 518.2 797.6 519.6 799.5 521.0 800.9 522.3 801.7 523.7 802.2 525.1 802.6 526.4 802.8 527.8 802.9 529.2 803.0" stroke="#ee62a2"/><polyline points="474.5 759.0 475.8 759.0 477.2 759.0 478.6 759.0 479.9 759.0 481.3 759.0 482.7 759.0 484.0 759.0 485.4 759.0 486.8 759.0 488.1 759.0 489.5 759.1 490.9 759.1 492.2 759.2 493.6 759.3 495.0 759.5 496.3 759.7 497.7 760.0 499.1 760.4 500.5 761.0 501.8 761.8 503.2 762.9 504.6 764.5 505.9 766.4 507.3 769.0 508.7 772.1 510.0 775.7 511.4 779.6 512.8 783.8 514.1 787.8 515.5 791.5 516.9 794.7 518.2 797.4 519.6 799.4 521.0 801.0 522.3 802.2 523.7 803.1 525.1 803.8 526.4 804.2 527.8 804.5 529.2 804.8" stroke="#d98b22"/><polyline points="474.5 761.9 475.8 761.9 477.2 761.9 478.6 761.9 479.9 761.9 481.3 761.9 482.7 761.9 484.0 761.9 485.4 761.9 486.8 762.0 488.1 762.0 489.5 762.0 490.9 762.1 492.2 762.1 493.6 762.2 495.0 762.3 496.3 762.5 497.7 762.8 499.1 763.1 500.5 763.6 501.8 764.2 503.2 765.1 504.6 766.2 505.9 767.8 507.3 769.7 508.7 772.0 510.0 774.9 511.4 778.1 512.8 781.6 514.1 785.2 515.5 788.6 516.9 791.8 518.2 794.6 519.6 796.9 521.0 798.7 522.3 800.2 523.7 801.3 525.1 802.1 526.4 802.7 527.8 803.2 529.2 803.5" stroke="#b09a2c"/><polyline points="474.5 757.1 475.8 757.1 477.2 757.1 478.6 757.1 479.9 757.1 481.3 757.1 482.7 757.1 484.0 757.1 485.4 757.1 486.8 757.1 488.1 757.1 489.5 757.1 490.9 757.2 492.2 757.2 493.6 757.3 495.0 757.4 496.3 757.5 497.7 757.7 499.1 758.0 500.5 758.4 501.8 759.0 503.2 759.9 504.6 761.2 505.9 762.9 507.3 765.3 508.7 768.3 510.0 772.0 511.4 776.3 512.8 781.0 514.1 785.6 515.5 789.8 516.9 793.4 518.2 796.3 519.6 798.6 521.0 800.2 522.3 801.4 523.7 802.3 525.1 802.9 526.4 803.3 527.8 803.5 529.2 803.7" stroke="#79aa3c"/><polyline points="566.1 760.7 567.4 760.7 568.8 760.7 570.2 760.7 571.5 760.7 572.9 760.7 574.3 760.7 575.6 760.7 577.0 760.7 578.4 760.7 579.7 760.7 581.1 760.7 582.5 760.8 583.8 760.8 585.2 760.8 586.6 760.9 587.9 761.0 589.3 761.2 590.7 761.3 592.1 761.6 593.4 762.0 594.8 762.6 596.2 763.4 597.5 764.4 598.9 765.9 600.3 767.8 601.6 770.2 603.0 773.2 604.4 776.7 605.7 780.6 607.1 784.6 608.5 788.5 609.8 792.0 611.2 795.0 612.6 797.5 613.9 799.4 615.3 800.9 616.7 802.0 618.0 802.7 619.4 803.3 620.8 803.7" stroke="#ee7a70"/><polyline points="566.1 768.8 567.4 768.8 568.8 768.8 570.2 768.8 571.5 768.8 572.9 768.8 574.3 768.8 575.6 768.8 577.0 768.8 578.4 768.8 579.7 768.8 581.1 768.8 582.5 768.9 583.8 768.9 585.2 768.9 586.6 768.9 587.9 769.0 589.3 769.1 590.7 769.2 592.1 769.3 593.4 769.6 594.8 769.9 596.2 770.5 597.5 771.2 598.9 772.2 600.3 773.7 601.6 775.6 603.0 778.0 604.4 781.0 605.7 784.5 607.1 788.1 608.5 791.7 609.8 794.9 611.2 797.7 612.6 800.0 613.9 801.7 615.3 802.9 616.7 803.8 618.0 804.5 619.4 804.9 620.8 805.2" stroke="#3cb054"/><polyline points="566.1 762.8 567.4 762.8 568.8 762.8 570.2 762.8 571.5 762.8 572.9 762.8 574.3 762.8 575.6 762.8 577.0 762.8 578.4 762.8 579.7 762.8 581.1 762.8 582.5 762.8 583.8 762.8 585.2 762.9 586.6 762.9 587.9 763.0 589.3 763.0 590.7 763.2 592.1 763.4 593.4 763.7 594.8 764.2 596.2 764.9 597.5 765.9 598.9 767.3 600.3 769.3 601.6 771.9 603.0 775.3 604.4 779.3 605.7 783.6 607.1 788.0 608.5 792.0 609.8 795.4 611.2 798.1 612.6 800.1 613.9 801.6 615.3 802.6 616.7 803.4 618.0 803.8 619.4 804.2 620.8 804.4" stroke="#22b486"/><polyline points="566.1 763.0 567.4 763.0 568.8 763.0 570.2 763.0 571.5 763.0 572.9 763.0 574.3 763.0 575.6 763.0 577.0 763.0 578.4 763.0 579.7 763.0 581.1 763.0 582.5 763.0 583.8 763.0 585.2 763.1 586.6 763.1 587.9 763.1 589.3 763.2 590.7 763.3 592.1 763.5 593.4 763.8 594.8 764.2 596.2 764.7 597.5 765.5 598.9 766.7 600.3 768.3 601.6 770.5 603.0 773.2 604.4 776.6 605.7 780.5 607.1 784.5 608.5 788.5 609.8 792.0 611.2 795.0 612.6 797.4 613.9 799.2 615.3 800.5 616.7 801.4 618.0 802.0 619.4 802.5 620.8 802.8" stroke="#2fb5bd"/><polyline points="566.1 762.9 567.4 762.9 568.8 762.9 570.2 762.9 571.5 762.9 572.9 762.9 574.3 762.9 575.6 762.9 577.0 762.9 578.4 762.9 579.7 762.9 581.1 762.9 582.5 762.9 583.8 762.9 585.2 763.0 586.6 763.0 587.9 763.1 589.3 763.2 590.7 763.3 592.1 763.5 593.4 763.8 594.8 764.2 596.2 764.8 597.5 765.6 598.9 766.7 600.3 768.3 601.6 770.3 603.0 772.9 604.4 776.1 605.7 779.8 607.1 783.7 608.5 787.6 609.8 791.2 611.2 794.4 612.6 797.0 613.9 799.1 615.3 800.6 616.7 801.8 618.0 802.6 619.4 803.2 620.8 803.6" stroke="#3ba6dc"/><polyline points="566.1 763.1 567.4 763.1 568.8 763.1 570.2 763.1 571.5 763.1 572.9 763.1 574.3 763.1 575.6 763.1 577.0 763.1 578.4 763.1 579.7 763.1 581.1 763.1 582.5 763.1 583.8 763.1 585.2 763.1 586.6 763.1 587.9 763.1 589.3 763.1 590.7 763.1 592.1 763.1 593.4 763.1 594.8 763.1 596.2 763.1 597.5 763.1 598.9 763.1 600.3 763.1 601.6 763.1 603.0 763.1 604.4 763.6 605.7 772.5 607.1 791.3 608.5 793.6 609.8 793.6 611.2 793.6 612.6 793.6 613.9 793.6 615.3 793.6 616.7 793.6 618.0 793.6 619.4 793.6 620.8 793.6" stroke="#6c95d3"/><polyline points="566.1 759.2 567.4 759.2 568.8 759.2 570.2 759.2 571.5 759.2 572.9 759.2 574.3 759.2 575.6 759.2 577.0 759.2 578.4 759.2 579.7 759.2 581.1 759.2 582.5 759.2 583.8 759.2 585.2 759.2 586.6 759.2 587.9 759.3 589.3 759.4 590.7 759.5 592.1 759.7 593.4 759.9 594.8 760.4 596.2 761.1 597.5 762.1 598.9 763.6 600.3 765.8 601.6 768.8 603.0 772.6 604.4 777.2 605.7 782.1 607.1 786.8 608.5 791.0 609.8 794.4 611.2 796.9 612.6 798.7 613.9 800.0 615.3 800.8 616.7 801.3 618.0 801.7 619.4 801.9 620.8 802.1" stroke="#a982c9"/><polyline points="566.1 757.7 567.4 757.7 568.8 757.7 570.2 757.7 571.5 757.7 572.9 757.7 574.3 757.7 575.6 757.7 577.0 757.7 578.4 757.7 579.7 757.7 581.1 757.7 582.5 757.8 583.8 757.8 585.2 757.8 586.6 757.8 587.9 757.9 589.3 757.9 590.7 758.1 592.1 758.2 593.4 758.5 594.8 758.8 596.2 759.3 597.5 760.1 598.9 761.2 600.3 762.7 601.6 764.8 603.0 767.5 604.4 771.0 605.7 775.2 607.1 779.7 608.5 784.4 609.8 788.8 611.2 792.6 612.6 795.7 613.9 798.2 615.3 800.0 616.7 801.3 618.0 802.2 619.4 802.8 620.8 803.3" stroke="#c763b3"/><polyline points="566.1 757.6 567.4 757.6 568.8 757.6 570.2 757.6 571.5 757.6 572.9 757.6 574.3 757.6 575.6 757.6 577.0 757.6 578.4 757.6 579.7 757.6 581.1 757.6 582.5 757.6 583.8 757.6 585.2 757.7 586.6 757.7 587.9 757.7 589.3 757.8 590.7 757.9 592.1 758.0 593.4 758.2 594.8 758.5 596.2 759.0 597.5 759.6 598.9 760.5 600.3 761.8 601.6 763.7 603.0 766.1 604.4 769.3 605.7 773.2 607.1 777.7 608.5 782.5 609.8 787.2 611.2 791.6 612.6 795.3 613.9 798.3 615.3 800.5 616.7 802.2 618.0 803.4 619.4 804.2 620.8 804.8" stroke="#ee62a2"/><polyline points="566.1 758.5 567.4 758.5 568.8 758.5 570.2 758.5 571.5 758.5 572.9 758.5 574.3 758.5 575.6 758.5 577.0 758.5 578.4 758.5 579.7 758.5 581.1 758.5 582.5 758.5 583.8 758.6 585.2 758.6 586.6 758.7 587.9 758.7 589.3 758.9 590.7 759.1 592.1 759.4 593.4 759.8 594.8 760.6 596.2 761.6 597.5 763.1 598.9 765.3 600.3 768.2 601.6 772.0 603.0 776.4 604.4 781.4 605.7 786.3 607.1 790.8 608.5 794.6 609.8 797.6 611.2 799.8 612.6 801.3 613.9 802.4 615.3 803.1 616.7 803.6 618.0 803.9 619.4 804.1 620.8 804.3" stroke="#d98b22"/><polyline points="566.1 759.9 567.4 759.9 568.8 759.9 570.2 759.9 571.5 759.9 572.9 759.9 574.3 759.9 575.6 760.0 577.0 760.0 578.4 760.0 579.7 760.1 581.1 760.1 582.5 760.2 583.8 760.3 585.2 760.5 586.6 760.7 587.9 761.0 589.3 761.3 590.7 761.8 592.1 762.4 593.4 763.2 594.8 764.2 596.2 765.5 597.5 767.1 598.9 769.1 600.3 771.5 601.6 774.2 603.0 777.2 604.4 780.4 605.7 783.7 607.1 787.0 608.5 790.1 609.8 792.9 611.2 795.4 612.6 797.5 613.9 799.2 615.3 800.6 616.7 801.7 618.0 802.6 619.4 803.3 620.8 803.8" stroke="#b09a2c"/><polyline points="566.1 751.7 567.4 751.7 568.8 751.7 570.2 751.7 571.5 751.7 572.9 751.7 574.3 751.7 575.6 751.7 577.0 751.7 578.4 751.7 579.7 751.7 581.1 751.7 582.5 751.7 583.8 751.8 585.2 751.8 586.6 751.9 587.9 752.0 589.3 752.2 590.7 752.4 592.1 752.8 593.4 753.3 594.8 754.1 596.2 755.2 597.5 756.7 598.9 758.7 600.3 761.5 601.6 765.0 603.0 769.2 604.4 774.1 605.7 779.3 607.1 784.4 608.5 789.2 609.8 793.2 611.2 796.6 612.6 799.1 613.9 801.0 615.3 802.4 616.7 803.4 618.0 804.1 619.4 804.6 620.8 804.9" stroke="#79aa3c"/><polyline points="283.6 853.1 284.9 853.5 286.3 853.9 287.7 854.3 289.0 854.8 290.4 855.3 291.8 855.9 293.1 856.5 294.5 857.1 295.9 857.8 297.2 858.5 298.6 859.3 300.0 860.1 301.3 861.0 302.7 861.9 304.1 862.9 305.4 863.9 306.8 865.0 308.2 866.1 309.6 867.3 310.9 868.4 312.3 869.6 313.7 870.9 315.0 872.1 316.4 873.4 317.8 874.7 319.1 876.0 320.5 877.2 321.9 878.5 323.2 879.8 324.6 881.0 326.0 882.2 327.3 883.4 328.7 884.5 330.1 885.6 331.4 886.7 332.8 887.7 334.2 888.6 335.5 889.5 336.9 890.4 338.3 891.2" stroke="#ee7a70"/><polyline points="283.6 850.6 284.9 850.9 286.3 851.2 287.7 851.6 289.0 852.0 290.4 852.4 291.8 852.9 293.1 853.4 294.5 854.1 295.9 854.7 297.2 855.5 298.6 856.3 300.0 857.2 301.3 858.2 302.7 859.2 304.1 860.4 305.4 861.6 306.8 862.9 308.2 864.3 309.6 865.8 310.9 867.3 312.3 868.9 313.7 870.5 315.0 872.2 316.4 873.9 317.8 875.6 319.1 877.3 320.5 879.0 321.9 880.6 323.2 882.3 324.6 883.8 326.0 885.3 327.3 886.8 328.7 888.1 330.1 889.4 331.4 890.6 332.8 891.7 334.2 892.7 335.5 893.7 336.9 894.5 338.3 895.3" stroke="#3cb054"/><polyline points="283.6 849.7 284.9 850.0 286.3 850.3 287.7 850.6 289.0 851.0 290.4 851.4 291.8 851.9 293.1 852.4 294.5 853.0 295.9 853.7 297.2 854.4 298.6 855.2 300.0 856.1 301.3 857.1 302.7 858.2 304.1 859.4 305.4 860.7 306.8 862.0 308.2 863.5 309.6 865.1 310.9 866.7 312.3 868.4 313.7 870.2 315.0 872.0 316.4 873.8 317.8 875.7 319.1 877.5 320.5 879.4 321.9 881.2 323.2 882.9 324.6 884.6 326.0 886.2 327.3 887.7 328.7 889.1 330.1 890.4 331.4 891.7 332.8 892.8 334.2 893.9 335.5 894.8 336.9 895.7 338.3 896.5" stroke="#22b486"/><polyline points="283.6 849.6 284.9 849.8 286.3 850.1 287.7 850.4 289.0 850.8 290.4 851.2 291.8 851.6 293.1 852.2 294.5 852.7 295.9 853.3 297.2 854.0 298.6 854.8 300.0 855.6 301.3 856.6 302.7 857.6 304.1 858.7 305.4 859.9 306.8 861.1 308.2 862.5 309.6 864.0 310.9 865.5 312.3 867.1 313.7 868.8 315.0 870.6 316.4 872.3 317.8 874.2 319.1 876.0 320.5 877.8 321.9 879.6 323.2 881.4 324.6 883.1 326.0 884.8 327.3 886.4 328.7 887.9 330.1 889.4 331.4 890.7 332.8 892.0 334.2 893.1 335.5 894.2 336.9 895.2 338.3 896.1" stroke="#2fb5bd"/><polyline points="283.6 852.2 284.9 852.4 286.3 852.6 287.7 852.9 289.0 853.1 290.4 853.4 291.8 853.8 293.1 854.2 294.5 854.6 295.9 855.1 297.2 855.7 298.6 856.4 300.0 857.1 301.3 857.9 302.7 858.8 304.1 859.8 305.4 860.9 306.8 862.0 308.2 863.3 309.6 864.7 310.9 866.2 312.3 867.8 313.7 869.4 315.0 871.2 316.4 872.9 317.8 874.7 319.1 876.5 320.5 878.4 321.9 880.2 323.2 881.9 324.6 883.6 326.0 885.3 327.3 886.8 328.7 888.3 330.1 889.7 331.4 891.0 332.8 892.1 334.2 893.2 335.5 894.2 336.9 895.1 338.3 895.9" stroke="#3ba6dc"/><polyline points="283.6 851.0 284.9 851.3 286.3 851.7 287.7 852.1 289.0 852.5 290.4 853.0 291.8 853.6 293.1 854.2 294.5 854.8 295.9 855.6 297.2 856.4 298.6 857.3 300.0 858.2 301.3 859.3 302.7 860.4 304.1 861.6 305.4 862.9 306.8 864.3 308.2 865.8 309.6 867.3 310.9 868.8 312.3 870.5 313.7 872.1 315.0 873.8 316.4 875.5 317.8 877.2 319.1 878.8 320.5 880.5 321.9 882.1 323.2 883.6 324.6 885.1 326.0 886.5 327.3 887.9 328.7 889.1 330.1 890.3 331.4 891.4 332.8 892.4 334.2 893.4 335.5 894.2 336.9 895.0 338.3 895.7" stroke="#6c95d3"/><polyline points="283.6 851.7 284.9 852.0 286.3 852.4 287.7 852.7 289.0 853.2 290.4 853.6 291.8 854.1 293.1 854.7 294.5 855.3 295.9 855.9 297.2 856.7 298.6 857.4 300.0 858.3 301.3 859.2 302.7 860.1 304.1 861.1 305.4 862.2 306.8 863.4 308.2 864.6 309.6 865.8 310.9 867.1 312.3 868.5 313.7 869.9 315.0 871.3 316.4 872.7 317.8 874.2 319.1 875.7 320.5 877.1 321.9 878.6 323.2 880.0 324.6 881.4 326.0 882.8 327.3 884.1 328.7 885.4 330.1 886.6 331.4 887.8 332.8 888.9 334.2 889.9 335.5 890.9 336.9 891.8 338.3 892.7" stroke="#a982c9"/><polyline points="283.6 849.4 284.9 849.4 286.3 849.4 287.7 849.4 289.0 849.4 290.4 849.4 291.8 849.4 293.1 849.4 294.5 849.4 295.9 849.4 297.2 849.4 298.6 849.4 300.0 849.4 301.3 849.4 302.7 849.4 304.1 849.4 305.4 849.4 306.8 849.4 308.2 849.4 309.6 849.4 310.9 849.4 312.3 849.4 313.7 849.4 315.0 849.4 316.4 849.4 317.8 849.5 319.1 852.6 320.5 878.3 321.9 890.5 323.2 891.2 324.6 891.2 326.0 891.2 327.3 891.2 328.7 891.2 330.1 891.2 331.4 891.2 332.8 891.2 334.2 891.2 335.5 891.2 336.9 891.2 338.3 891.2" stroke="#c763b3"/><polyline points="283.6 848.0 284.9 848.2 286.3 848.4 287.7 848.5 289.0 848.8 290.4 849.0 291.8 849.3 293.1 849.6 294.5 850.0 295.9 850.4 297.2 850.9 298.6 851.4 300.0 852.0 301.3 852.7 302.7 853.4 304.1 854.3 305.4 855.2 306.8 856.3 308.2 857.4 309.6 858.7 310.9 860.0 312.3 861.5 313.7 863.1 315.0 864.7 316.4 866.5 317.8 868.3 319.1 870.2 320.5 872.1 321.9 874.1 323.2 876.0 324.6 877.9 326.0 879.8 327.3 881.6 328.7 883.4 330.1 885.1 331.4 886.6 332.8 888.1 334.2 889.5 335.5 890.7 336.9 891.9 338.3 892.9" stroke="#ee62a2"/><polyline points="283.6 852.6 284.9 852.8 286.3 853.1 287.7 853.4 289.0 853.7 290.4 854.0 291.8 854.4 293.1 854.8 294.5 855.3 295.9 855.9 297.2 856.5 298.6 857.1 300.0 857.8 301.3 858.6 302.7 859.5 304.1 860.5 305.4 861.5 306.8 862.6 308.2 863.8 309.6 865.0 310.9 866.4 312.3 867.8 313.7 869.2 315.0 870.8 316.4 872.3 317.8 873.9 319.1 875.5 320.5 877.1 321.9 878.7 323.2 880.3 324.6 881.8 326.0 883.3 327.3 884.8 328.7 886.2 330.1 887.5 331.4 888.7 332.8 889.9 334.2 891.0 335.5 892.0 336.9 892.9 338.3 893.8" stroke="#d98b22"/><polyline points="283.6 852.0 284.9 852.2 286.3 852.4 287.7 852.7 289.0 853.1 290.4 853.4 291.8 853.8 293.1 854.3 294.5 854.7 295.9 855.3 297.2 855.9 298.6 856.5 300.0 857.3 301.3 858.0 302.7 858.9 304.1 859.8 305.4 860.8 306.8 861.9 308.2 863.0 309.6 864.2 310.9 865.5 312.3 866.8 313.7 868.2 315.0 869.6 316.4 871.1 317.8 872.6 319.1 874.1 320.5 875.6 321.9 877.1 323.2 878.6 324.6 880.1 326.0 881.6 327.3 882.9 328.7 884.3 330.1 885.6 331.4 886.8 332.8 887.9 334.2 889.0 335.5 890.0 336.9 890.9 338.3 891.8" stroke="#b09a2c"/><polyline points="283.6 853.8 284.9 854.1 286.3 854.3 287.7 854.6 289.0 854.9 290.4 855.3 291.8 855.7 293.1 856.2 294.5 856.7 295.9 857.2 297.2 857.8 298.6 858.5 300.0 859.2 301.3 860.0 302.7 860.9 304.1 861.8 305.4 862.8 306.8 863.9 308.2 865.0 309.6 866.3 310.9 867.5 312.3 868.9 313.7 870.3 315.0 871.7 316.4 873.2 317.8 874.7 319.1 876.3 320.5 877.8 321.9 879.3 323.2 880.8 324.6 882.3 326.0 883.7 327.3 885.1 328.7 886.4 330.1 887.6 331.4 888.8 332.8 889.9 334.2 891.0 335.5 892.0 336.9 892.9 338.3 893.7" stroke="#79aa3c"/><polyline points="376.3 853.3 377.6 853.7 379.0 854.0 380.4 854.4 381.7 854.8 383.1 855.2 384.5 855.7 385.8 856.3 387.2 856.8 388.6 857.4 389.9 858.1 391.3 858.8 392.7 859.6 394.0 860.4 395.4 861.2 396.8 862.2 398.1 863.1 399.5 864.1 400.9 865.2 402.3 866.3 403.6 867.5 405.0 868.7 406.4 870.0 407.7 871.2 409.1 872.6 410.5 873.9 411.8 875.2 413.2 876.6 414.6 878.0 415.9 879.3 417.3 880.7 418.7 882.0 420.0 883.3 421.4 884.6 422.8 885.8 424.1 887.0 425.5 888.1 426.9 889.2 428.2 890.3 429.6 891.3 431.0 892.2" stroke="#ee7a70"/><polyline points="376.3 850.3 377.6 850.4 379.0 850.6 380.4 850.8 381.7 851.1 383.1 851.3 384.5 851.6 385.8 852.0 387.2 852.3 388.6 852.8 389.9 853.2 391.3 853.8 392.7 854.4 394.0 855.0 395.4 855.8 396.8 856.6 398.1 857.5 399.5 858.4 400.9 859.5 402.3 860.6 403.6 861.8 405.0 863.1 406.4 864.5 407.7 866.0 409.1 867.5 410.5 869.1 411.8 870.7 413.2 872.3 414.6 874.0 415.9 875.7 417.3 877.3 418.7 878.9 420.0 880.5 421.4 882.0 422.8 883.5 424.1 884.9 425.5 886.2 426.9 887.4 428.2 888.6 429.6 889.6 431.0 890.6" stroke="#3cb054"/><polyline points="376.3 846.2 377.6 846.3 379.0 846.4 380.4 846.6 381.7 846.8 383.1 847.0 384.5 847.2 385.8 847.5 387.2 847.8 388.6 848.2 389.9 848.7 391.3 849.1 392.7 849.7 394.0 850.4 395.4 851.1 396.8 851.9 398.1 852.8 399.5 853.9 400.9 855.0 402.3 856.3 403.6 857.7 405.0 859.2 406.4 860.9 407.7 862.6 409.1 864.5 410.5 866.4 411.8 868.5 413.2 870.5 414.6 872.6 415.9 874.7 417.3 876.8 418.7 878.8 420.0 880.8 421.4 882.7 422.8 884.4 424.1 886.1 425.5 887.6 426.9 889.1 428.2 890.4 429.6 891.5 431.0 892.6" stroke="#22b486"/><polyline points="376.3 851.9 377.6 852.0 379.0 852.2 380.4 852.3 381.7 852.5 383.1 852.8 384.5 853.0 385.8 853.3 387.2 853.6 388.6 854.0 389.9 854.4 391.3 854.8 392.7 855.3 394.0 855.9 395.4 856.6 396.8 857.3 398.1 858.1 399.5 858.9 400.9 859.9 402.3 860.9 403.6 862.0 405.0 863.3 406.4 864.6 407.7 865.9 409.1 867.4 410.5 868.9 411.8 870.5 413.2 872.2 414.6 873.8 415.9 875.5 417.3 877.2 418.7 878.9 420.0 880.6 421.4 882.2 422.8 883.7 424.1 885.2 425.5 886.7 426.9 888.0 428.2 889.3 429.6 890.4 431.0 891.5" stroke="#2fb5bd"/><polyline points="376.3 848.7 377.6 848.8 379.0 849.0 380.4 849.1 381.7 849.3 383.1 849.5 384.5 849.8 385.8 850.1 387.2 850.4 388.6 850.8 389.9 851.2 391.3 851.7 392.7 852.2 394.0 852.9 395.4 853.6 396.8 854.3 398.1 855.2 399.5 856.2 400.9 857.2 402.3 858.4 403.6 859.7 405.0 861.1 406.4 862.6 407.7 864.1 409.1 865.8 410.5 867.6 411.8 869.4 413.2 871.3 414.6 873.2 415.9 875.1 417.3 877.0 418.7 878.8 420.0 880.7 421.4 882.4 422.8 884.1 424.1 885.7 425.5 887.2 426.9 888.6 428.2 889.9 429.6 891.1 431.0 892.1" stroke="#3ba6dc"/><polyline points="376.3 852.1 377.6 852.2 379.0 852.4 380.4 852.6 381.7 852.8 383.1 853.1 384.5 853.4 385.8 853.7 387.2 854.1 388.6 854.5 389.9 854.9 391.3 855.5 392.7 856.0 394.0 856.7 395.4 857.4 396.8 858.2 398.1 859.1 399.5 860.0 400.9 861.0 402.3 862.2 403.6 863.4 405.0 864.7 406.4 866.0 407.7 867.5 409.1 869.0 410.5 870.6 411.8 872.2 413.2 873.9 414.6 875.5 415.9 877.2 417.3 878.9 418.7 880.6 420.0 882.2 421.4 883.8 422.8 885.3 424.1 886.7 425.5 888.1 426.9 889.4 428.2 890.5 429.6 891.7 431.0 892.7" stroke="#6c95d3"/><polyline points="376.3 852.7 377.6 852.8 379.0 852.9 380.4 853.1 381.7 853.2 383.1 853.4 384.5 853.7 385.8 853.9 387.2 854.2 388.6 854.5 389.9 854.9 391.3 855.4 392.7 855.9 394.0 856.4 395.4 857.1 396.8 857.8 398.1 858.6 399.5 859.5 400.9 860.5 402.3 861.7 403.6 862.9 405.0 864.2 406.4 865.7 407.7 867.2 409.1 868.9 410.5 870.6 411.8 872.4 413.2 874.2 414.6 876.1 415.9 878.0 417.3 879.9 418.7 881.8 420.0 883.6 421.4 885.3 422.8 887.0 424.1 888.6 425.5 890.1 426.9 891.5 428.2 892.7 429.6 893.9 431.0 894.9" stroke="#a982c9"/><polyline points="376.3 851.5 377.6 851.6 379.0 851.7 380.4 851.9 381.7 852.1 383.1 852.2 384.5 852.5 385.8 852.7 387.2 853.0 388.6 853.4 389.9 853.8 391.3 854.2 392.7 854.7 394.0 855.2 395.4 855.9 396.8 856.6 398.1 857.4 399.5 858.2 400.9 859.2 402.3 860.3 403.6 861.4 405.0 862.7 406.4 864.1 407.7 865.5 409.1 867.1 410.5 868.7 411.8 870.4 413.2 872.2 414.6 874.0 415.9 875.8 417.3 877.7 418.7 879.5 420.0 881.3 421.4 883.0 422.8 884.7 424.1 886.3 425.5 887.8 426.9 889.2 428.2 890.6 429.6 891.8 431.0 892.9" stroke="#c763b3"/><polyline points="376.3 853.5 377.6 853.7 379.0 853.9 380.4 854.1 381.7 854.3 383.1 854.6 384.5 854.9 385.8 855.2 387.2 855.6 388.6 856.0 389.9 856.4 391.3 857.0 392.7 857.5 394.0 858.2 395.4 858.9 396.8 859.7 398.1 860.5 399.5 861.4 400.9 862.4 402.3 863.5 403.6 864.7 405.0 866.0 406.4 867.3 407.7 868.7 409.1 870.2 410.5 871.7 411.8 873.2 413.2 874.8 414.6 876.4 415.9 878.0 417.3 879.6 418.7 881.2 420.0 882.8 421.4 884.3 422.8 885.7 424.1 887.1 425.5 888.4 426.9 889.6 428.2 890.8 429.6 891.8 431.0 892.8" stroke="#ee62a2"/><polyline points="376.3 849.9 377.6 850.0 379.0 850.2 380.4 850.5 381.7 850.7 383.1 851.0 384.5 851.3 385.8 851.7 387.2 852.1 388.6 852.6 389.9 853.1 391.3 853.7 392.7 854.4 394.0 855.1 395.4 855.9 396.8 856.8 398.1 857.7 399.5 858.8 400.9 859.9 402.3 861.1 403.6 862.5 405.0 863.9 406.4 865.3 407.7 866.9 409.1 868.5 410.5 870.2 411.8 871.9 413.2 873.6 414.6 875.4 415.9 877.1 417.3 878.8 418.7 880.5 420.0 882.1 421.4 883.7 422.8 885.2 424.1 886.6 425.5 888.0 426.9 889.2 428.2 890.4 429.6 891.5 431.0 892.4" stroke="#d98b22"/><polyline points="376.3 848.4 377.6 848.5 379.0 848.7 380.4 849.0 381.7 849.2 383.1 849.5 384.5 849.8 385.8 850.2 387.2 850.6 388.6 851.1 389.9 851.6 391.3 852.2 392.7 852.9 394.0 853.6 395.4 854.4 396.8 855.3 398.1 856.2 399.5 857.3 400.9 858.5 402.3 859.7 403.6 861.0 405.0 862.4 406.4 864.0 407.7 865.5 409.1 867.2 410.5 868.9 411.8 870.6 413.2 872.4 414.6 874.2 415.9 876.0 417.3 877.8 418.7 879.5 420.0 881.2 421.4 882.8 422.8 884.4 424.1 885.9 425.5 887.3 426.9 888.6 428.2 889.8 429.6 891.0 431.0 892.0" stroke="#b09a2c"/><polyline points="376.3 853.8 377.6 854.0 379.0 854.1 380.4 854.3 381.7 854.5 383.1 854.7 384.5 854.9 385.8 855.2 387.2 855.6 388.6 856.0 389.9 856.4 391.3 856.9 392.7 857.5 394.0 858.1 395.4 858.9 396.8 859.7 398.1 860.7 399.5 861.7 400.9 862.8 402.3 864.1 403.6 865.5 405.0 867.0 406.4 868.5 407.7 870.2 409.1 872.0 410.5 873.8 411.8 875.6 413.2 877.5 414.6 879.4 415.9 881.3 417.3 883.1 418.7 884.8 420.0 886.5 421.4 888.1 422.8 889.5 424.1 890.9 425.5 892.2 426.9 893.3 428.2 894.3 429.6 895.3 431.0 896.1" stroke="#79aa3c"/><polyline points="474.5 854.0 475.8 854.0 477.2 854.0 478.6 854.1 479.9 854.1 481.3 854.1 482.7 854.2 484.0 854.2 485.4 854.3 486.8 854.4 488.1 854.5 489.5 854.7 490.9 854.8 492.2 855.0 493.6 855.3 495.0 855.6 496.3 856.0 497.7 856.5 499.1 857.1 500.5 857.8 501.8 858.7 503.2 859.7 504.6 860.9 505.9 862.3 507.3 863.9 508.7 865.7 510.0 867.7 511.4 869.8 512.8 872.1 514.1 874.4 515.5 876.8 516.9 879.1 518.2 881.4 519.6 883.5 521.0 885.4 522.3 887.2 523.7 888.7 525.1 890.1 526.4 891.3 527.8 892.2 529.2 893.1" stroke="#ee7a70"/><polyline points="474.5 849.9 475.8 849.9 477.2 849.9 478.6 849.9 479.9 849.9 481.3 849.9 482.7 849.9 484.0 849.9 485.4 849.9 486.8 849.9 488.1 849.9 489.5 849.9 490.9 849.9 492.2 849.9 493.6 849.9 495.0 849.9 496.3 849.9 497.7 849.9 499.1 849.9 500.5 849.9 501.8 849.9 503.2 849.9 504.6 849.9 505.9 849.9 507.3 849.9 508.7 849.9 510.0 849.9 511.4 849.9 512.8 850.1 514.1 854.3 515.5 879.2 516.9 886.6 518.2 886.9 519.6 886.9 521.0 886.9 522.3 886.9 523.7 886.9 525.1 886.9 526.4 886.9 527.8 886.9 529.2 886.9" stroke="#3cb054"/><polyline points="474.5 856.6 475.8 856.7 477.2 856.7 478.6 856.8 479.9 856.8 481.3 856.9 482.7 857.0 484.0 857.1 485.4 857.2 486.8 857.3 488.1 857.5 489.5 857.7 490.9 858.0 492.2 858.3 493.6 858.7 495.0 859.2 496.3 859.7 497.7 860.3 499.1 861.1 500.5 861.9 501.8 862.9 503.2 864.1 504.6 865.3 505.9 866.8 507.3 868.4 508.7 870.1 510.0 872.0 511.4 874.0 512.8 876.0 514.1 878.1 515.5 880.1 516.9 882.1 518.2 884.0 519.6 885.8 521.0 887.5 522.3 889.0 523.7 890.4 525.1 891.6 526.4 892.7 527.8 893.6 529.2 894.4" stroke="#22b486"/><polyline points="474.5 841.4 475.8 841.4 477.2 841.4 478.6 841.4 479.9 841.4 481.3 841.4 482.7 841.4 484.0 841.4 485.4 841.4 486.8 841.4 488.1 841.4 489.5 841.4 490.9 841.4 492.2 841.4 493.6 841.4 495.0 841.4 496.3 841.4 497.7 841.4 499.1 841.6 500.5 842.1 501.8 842.8 503.2 843.6 504.6 844.6 505.9 845.7 507.3 847.1 508.7 848.7 510.0 850.5 511.4 852.7 512.8 855.0 514.1 857.6 515.5 860.5 516.9 863.5 518.2 866.6 519.6 869.7 521.0 872.9 522.3 875.9 523.7 878.8 525.1 881.4 526.4 883.8 527.8 886.0 529.2 887.8" stroke="#2fb5bd"/><polyline points="474.5 856.1 475.8 856.1 477.2 856.1 478.6 856.1 479.9 856.1 481.3 856.2 482.7 856.2 484.0 856.2 485.4 856.3 486.8 856.3 488.1 856.4 489.5 856.5 490.9 856.7 492.2 856.8 493.6 857.0 495.0 857.3 496.3 857.7 497.7 858.2 499.1 858.7 500.5 859.5 501.8 860.4 503.2 861.5 504.6 862.8 505.9 864.4 507.3 866.3 508.7 868.4 510.0 870.8 511.4 873.4 512.8 876.2 514.1 878.9 515.5 881.7 516.9 884.3 518.2 886.7 519.6 888.9 521.0 890.8 522.3 892.5 523.7 893.8 525.1 895.0 526.4 895.9 527.8 896.6 529.2 897.2" stroke="#3ba6dc"/><polyline points="474.5 847.8 475.8 847.9 477.2 847.9 478.6 847.9 479.9 848.0 481.3 848.0 482.7 848.1 484.0 848.2 485.4 848.3 486.8 848.4 488.1 848.5 489.5 848.7 490.9 849.0 492.2 849.3 493.6 849.6 495.0 850.1 496.3 850.6 497.7 851.3 499.1 852.1 500.5 853.0 501.8 854.2 503.2 855.5 504.6 857.1 505.9 858.9 507.3 860.9 508.7 863.2 510.0 865.6 511.4 868.2 512.8 870.9 514.1 873.6 515.5 876.3 516.9 878.9 518.2 881.4 519.6 883.6 521.0 885.7 522.3 887.5 523.7 889.0 525.1 890.4 526.4 891.5 527.8 892.5 529.2 893.3" stroke="#6c95d3"/><polyline points="474.5 859.9 475.8 860.0 477.2 860.2 478.6 860.3 479.9 860.5 481.3 860.7 482.7 861.0 484.0 861.3 485.4 861.7 486.8 862.1 488.1 862.5 489.5 863.1 490.9 863.7 492.2 864.4 493.6 865.2 495.0 866.1 496.3 867.1 497.7 868.2 499.1 869.4 500.5 870.8 501.8 872.2 503.2 873.7 504.6 875.2 505.9 876.8 507.3 878.5 508.7 880.1 510.0 881.8 511.4 883.4 512.8 884.9 514.1 886.4 515.5 887.8 516.9 889.1 518.2 890.3 519.6 891.4 521.0 892.3 522.3 893.2 523.7 894.0 525.1 894.7 526.4 895.3 527.8 895.8 529.2 896.3" stroke="#a982c9"/><polyline points="474.5 858.8 475.8 858.8 477.2 858.9 478.6 858.9 479.9 858.9 481.3 858.9 482.7 858.9 484.0 858.9 485.4 858.9 486.8 858.9 488.1 858.9 489.5 859.0 490.9 859.0 492.2 859.1 493.6 859.1 495.0 859.2 496.3 859.3 497.7 859.5 499.1 859.7 500.5 860.0 501.8 860.3 503.2 860.8 504.6 861.4 505.9 862.1 507.3 863.1 508.7 864.3 510.0 865.7 511.4 867.5 512.8 869.5 514.1 871.8 515.5 874.3 516.9 876.9 518.2 879.6 519.6 882.3 521.0 884.7 522.3 887.0 523.7 889.0 525.1 890.6 526.4 892.0 527.8 893.2 529.2 894.1" stroke="#c763b3"/><polyline points="474.5 847.5 475.8 847.5 477.2 847.5 478.6 847.5 479.9 847.5 481.3 847.5 482.7 847.5 484.0 847.5 485.4 847.5 486.8 847.5 488.1 847.5 489.5 847.5 490.9 847.5 492.2 847.5 493.6 847.5 495.0 847.5 496.3 847.5 497.7 847.5 499.1 847.5 500.5 847.5 501.8 847.5 503.2 847.5 504.6 847.5 505.9 847.5 507.3 847.5 508.7 847.5 510.0 847.5 511.4 847.7 512.8 851.5 514.1 877.3 515.5 886.5 516.9 886.9 518.2 886.9 519.6 886.9 521.0 886.9 522.3 886.9 523.7 886.9 525.1 886.9 526.4 886.9 527.8 886.9 529.2 886.9" stroke="#ee62a2"/><polyline points="474.5 852.5 475.8 852.5 477.2 852.5 478.6 852.6 479.9 852.6 481.3 852.6 482.7 852.6 484.0 852.7 485.4 852.7 486.8 852.8 488.1 852.8 489.5 852.9 490.9 853.0 492.2 853.2 493.6 853.3 495.0 853.6 496.3 853.8 497.7 854.1 499.1 854.5 500.5 855.0 501.8 855.6 503.2 856.4 504.6 857.3 505.9 858.3 507.3 859.6 508.7 861.1 510.0 862.7 511.4 864.6 512.8 866.8 514.1 869.0 515.5 871.5 516.9 874.0 518.2 876.5 519.6 879.0 521.0 881.4 522.3 883.6 523.7 885.7 525.1 887.5 526.4 889.1 527.8 890.5 529.2 891.7" stroke="#d98b22"/><polyline points="474.5 849.7 475.8 849.7 477.2 849.7 478.6 849.7 479.9 849.8 481.3 849.8 482.7 849.8 484.0 849.9 485.4 850.0 486.8 850.1 488.1 850.2 489.5 850.3 490.9 850.5 492.2 850.7 493.6 851.0 495.0 851.4 496.3 851.9 497.7 852.5 499.1 853.2 500.5 854.1 501.8 855.2 503.2 856.5 504.6 858.1 505.9 859.9 507.3 862.0 508.7 864.4 510.0 867.0 511.4 869.8 512.8 872.7 514.1 875.6 515.5 878.4 516.9 881.2 518.2 883.7 519.6 886.0 521.0 888.0 522.3 889.8 523.7 891.3 525.1 892.5 526.4 893.5 527.8 894.4 529.2 895.0" stroke="#b09a2c"/><polyline points="474.5 852.6 475.8 852.7 477.2 852.8 478.6 852.9 479.9 853.0 481.3 853.1 482.7 853.3 484.0 853.4 485.4 853.6 486.8 853.9 488.1 854.1 489.5 854.5 490.9 854.8 492.2 855.2 493.6 855.7 495.0 856.2 496.3 856.8 497.7 857.5 499.1 858.2 500.5 859.1 501.8 860.0 503.2 861.1 504.6 862.2 505.9 863.5 507.3 864.8 508.7 866.3 510.0 867.9 511.4 869.5 512.8 871.2 514.1 872.9 515.5 874.7 516.9 876.5 518.2 878.3 519.6 880.0 521.0 881.7 522.3 883.3 523.7 884.8 525.1 886.3 526.4 887.6 527.8 888.9 529.2 890.0" stroke="#79aa3c"/><polyline points="566.1 858.5 567.4 858.5 568.8 858.5 570.2 858.5 571.5 858.6 572.9 858.6 574.3 858.6 575.6 858.6 577.0 858.7 578.4 858.7 579.7 858.8 581.1 858.9 582.5 859.0 583.8 859.1 585.2 859.3 586.6 859.5 587.9 859.8 589.3 860.2 590.7 860.7 592.1 861.3 593.4 862.1 594.8 863.1 596.2 864.3 597.5 865.7 598.9 867.4 600.3 869.4 601.6 871.6 603.0 874.0 604.4 876.6 605.7 879.2 607.1 881.8 608.5 884.3 609.8 886.6 611.2 888.7 612.6 890.5 613.9 892.1 615.3 893.4 616.7 894.4 618.0 895.3 619.4 896.0 620.8 896.5" stroke="#ee7a70"/><polyline points="566.1 846.1 567.4 846.1 568.8 846.2 570.2 846.2 571.5 846.2 572.9 846.3 574.3 846.4 575.6 846.5 577.0 846.6 578.4 846.8 579.7 846.9 581.1 847.2 582.5 847.5 583.8 847.8 585.2 848.3 586.6 848.8 587.9 849.5 589.3 850.3 590.7 851.2 592.1 852.4 593.4 853.8 594.8 855.4 596.2 857.2 597.5 859.3 598.9 861.7 600.3 864.2 601.6 866.9 603.0 869.8 604.4 872.6 605.7 875.5 607.1 878.2 608.5 880.8 609.8 883.2 611.2 885.3 612.6 887.2 613.9 888.9 615.3 890.3 616.7 891.5 618.0 892.5 619.4 893.4 620.8 894.1" stroke="#3cb054"/><polyline points="566.1 855.8 567.4 855.8 568.8 855.8 570.2 855.8 571.5 855.9 572.9 855.9 574.3 855.9 575.6 856.0 577.0 856.1 578.4 856.1 579.7 856.3 581.1 856.4 582.5 856.6 583.8 856.8 585.2 857.1 586.6 857.4 587.9 857.9 589.3 858.4 590.7 859.1 592.1 859.9 593.4 860.8 594.8 862.0 596.2 863.4 597.5 865.0 598.9 866.8 600.3 868.9 601.6 871.2 603.0 873.6 604.4 876.1 605.7 878.7 607.1 881.2 608.5 883.7 609.8 885.9 611.2 888.0 612.6 889.8 613.9 891.5 615.3 892.8 616.7 894.0 618.0 895.0 619.4 895.8 620.8 896.4" stroke="#22b486"/><polyline points="566.1 849.3 567.4 849.3 568.8 849.3 570.2 849.3 571.5 849.3 572.9 849.3 574.3 849.3 575.6 849.4 577.0 849.4 578.4 849.4 579.7 849.5 581.1 849.6 582.5 849.6 583.8 849.8 585.2 849.9 586.6 850.2 587.9 850.5 589.3 850.9 590.7 851.4 592.1 852.2 593.4 853.1 594.8 854.4 596.2 855.9 597.5 857.9 598.9 860.3 600.3 863.1 601.6 866.3 603.0 869.8 604.4 873.4 605.7 877.1 607.1 880.5 608.5 883.7 609.8 886.4 611.2 888.7 612.6 890.6 613.9 892.1 615.3 893.3 616.7 894.2 618.0 894.9 619.4 895.4 620.8 895.8" stroke="#2fb5bd"/><polyline points="566.1 847.2 567.4 847.3 568.8 847.3 570.2 847.4 571.5 847.5 572.9 847.6 574.3 847.7 575.6 847.9 577.0 848.1 578.4 848.3 579.7 848.6 581.1 848.9 582.5 849.3 583.8 849.7 585.2 850.3 586.6 851.0 587.9 851.8 589.3 852.7 590.7 853.8 592.1 855.1 593.4 856.5 594.8 858.2 596.2 860.0 597.5 862.0 598.9 864.2 600.3 866.6 601.6 869.0 603.0 871.5 604.4 874.1 605.7 876.6 607.1 879.0 608.5 881.3 609.8 883.4 611.2 885.3 612.6 887.1 613.9 888.7 615.3 890.0 616.7 891.2 618.0 892.3 619.4 893.1 620.8 893.9" stroke="#3ba6dc"/><polyline points="566.1 848.3 567.4 848.3 568.8 848.3 570.2 848.3 571.5 848.3 572.9 848.3 574.3 848.4 575.6 848.4 577.0 848.4 578.4 848.5 579.7 848.6 581.1 848.7 582.5 848.8 583.8 849.0 585.2 849.2 586.6 849.5 587.9 849.9 589.3 850.4 590.7 851.0 592.1 851.8 593.4 852.8 594.8 854.1 596.2 855.6 597.5 857.4 598.9 859.6 600.3 862.2 601.6 865.0 603.0 868.1 604.4 871.3 605.7 874.6 607.1 877.7 608.5 880.7 609.8 883.4 611.2 885.8 612.6 887.9 613.9 889.6 615.3 891.0 616.7 892.2 618.0 893.1 619.4 893.8 620.8 894.4" stroke="#6c95d3"/><polyline points="566.1 850.2 567.4 850.2 568.8 850.3 570.2 850.3 571.5 850.3 572.9 850.4 574.3 850.4 575.6 850.5 577.0 850.6 578.4 850.8 579.7 850.9 581.1 851.2 582.5 851.5 583.8 851.8 585.2 852.3 586.6 852.9 587.9 853.7 589.3 854.6 590.7 855.8 592.1 857.2 593.4 858.9 594.8 860.9 596.2 863.3 597.5 865.9 598.9 868.8 600.3 871.9 601.6 875.1 603.0 878.2 604.4 881.3 605.7 884.1 607.1 886.7 608.5 888.9 609.8 890.9 611.2 892.5 612.6 893.9 613.9 895.0 615.3 895.9 616.7 896.6 618.0 897.2 619.4 897.6 620.8 898.0" stroke="#a982c9"/><polyline points="566.1 849.3 567.4 849.3 568.8 849.3 570.2 849.4 571.5 849.4 572.9 849.5 574.3 849.5 575.6 849.6 577.0 849.7 578.4 849.8 579.7 849.9 581.1 850.1 582.5 850.3 583.8 850.5 585.2 850.8 586.6 851.2 587.9 851.6 589.3 852.2 590.7 852.8 592.1 853.6 593.4 854.5 594.8 855.5 596.2 856.7 597.5 858.2 598.9 859.8 600.3 861.6 601.6 863.6 603.0 865.8 604.4 868.2 605.7 870.6 607.1 873.2 608.5 875.7 609.8 878.3 611.2 880.7 612.6 883.0 613.9 885.2 615.3 887.1 616.7 888.9 618.0 890.4 619.4 891.8 620.8 893.0" stroke="#c763b3"/><polyline points="566.1 852.7 567.4 852.7 568.8 852.7 570.2 852.7 571.5 852.7 572.9 852.8 574.3 852.8 575.6 852.9 577.0 852.9 578.4 853.0 579.7 853.1 581.1 853.2 582.5 853.4 583.8 853.6 585.2 853.8 586.6 854.1 587.9 854.6 589.3 855.1 590.7 855.8 592.1 856.6 593.4 857.6 594.8 858.8 596.2 860.3 597.5 862.1 598.9 864.1 600.3 866.5 601.6 869.0 603.0 871.7 604.4 874.6 605.7 877.4 607.1 880.1 608.5 882.7 609.8 885.1 611.2 887.2 612.6 889.1 613.9 890.6 615.3 891.9 616.7 893.0 618.0 893.9 619.4 894.6 620.8 895.1" stroke="#ee62a2"/><polyline points="566.1 847.3 567.4 847.3 568.8 847.3 570.2 847.3 571.5 847.3 572.9 847.3 574.3 847.3 575.6 847.3 577.0 847.3 578.4 847.3 579.7 847.3 581.1 847.3 582.5 847.3 583.8 847.3 585.2 847.3 586.6 847.3 587.9 847.3 589.3 847.3 590.7 847.3 592.1 847.3 593.4 847.3 594.8 847.3 596.2 847.3 597.5 847.3 598.9 847.3 600.3 847.3 601.6 847.4 603.0 847.9 604.4 858.8 605.7 883.7 607.1 886.8 608.5 886.9 609.8 886.9 611.2 886.9 612.6 886.9 613.9 886.9 615.3 886.9 616.7 886.9 618.0 886.9 619.4 886.9 620.8 886.9" stroke="#d98b22"/><polyline points="566.1 848.6 567.4 848.6 568.8 848.7 570.2 848.7 571.5 848.7 572.9 848.8 574.3 848.8 575.6 848.9 577.0 849.0 578.4 849.1 579.7 849.2 581.1 849.3 582.5 849.5 583.8 849.7 585.2 850.0 586.6 850.3 587.9 850.7 589.3 851.2 590.7 851.7 592.1 852.4 593.4 853.3 594.8 854.2 596.2 855.4 597.5 856.7 598.9 858.2 600.3 860.0 601.6 861.9 603.0 864.0 604.4 866.3 605.7 868.8 607.1 871.3 608.5 873.8 609.8 876.4 611.2 878.8 612.6 881.2 613.9 883.4 615.3 885.4 616.7 887.2 618.0 888.8 619.4 890.2 620.8 891.4" stroke="#b09a2c"/><polyline points="566.1 850.7 567.4 850.7 568.8 850.8 570.2 850.8 571.5 850.9 572.9 850.9 574.3 851.0 575.6 851.1 577.0 851.3 578.4 851.4 579.7 851.6 581.1 851.9 582.5 852.2 583.8 852.6 585.2 853.0 586.6 853.5 587.9 854.2 589.3 854.9 590.7 855.8 592.1 856.9 593.4 858.1 594.8 859.5 596.2 861.1 597.5 862.8 598.9 864.8 600.3 866.9 601.6 869.2 603.0 871.5 604.4 873.9 605.7 876.2 607.1 878.6 608.5 880.8 609.8 882.8 611.2 884.7 612.6 886.5 613.9 888.0 615.3 889.4 616.7 890.5 618.0 891.5 619.4 892.4 620.8 893.1" stroke="#79aa3c"/></g><path d="M283.6 667.9h0M290.4 669.6h0M297.2 668.0h0M304.1 670.6h0M310.9 679.4h0M317.8 687.7h0M324.6 700.8h0M331.4 705.0h0M338.3 710.2h0M376.3 659.1h0M383.1 663.0h0M389.9 662.0h0M396.8 663.1h0M403.6 668.7h0M410.5 676.9h0M417.3 690.5h0M424.1 700.5h0M431.0 707.4h0M474.5 658.6h0M481.3 654.8h0M488.1 654.0h0M495.0 665.3h0M501.8 668.4h0M508.7 683.0h0M515.5 697.7h0M522.3 701.3h0M529.2 708.5h0M566.1 669.2h0M572.9 673.2h0M579.7 671.5h0M586.6 668.6h0M593.4 675.6h0M600.3 686.2h0M607.1 701.6h0M613.9 707.2h0M620.8 704.0h0M283.6 759.6h0M290.4 761.0h0M297.2 760.0h0M304.1 757.9h0M310.9 761.3h0M317.8 764.1h0M324.6 776.6h0M331.4 794.6h0M338.3 808.2h0M376.3 763.7h0M383.1 762.9h0M389.9 765.2h0M396.8 761.8h0M403.6 763.8h0M410.5 760.5h0M417.3 771.3h0M424.1 791.5h0M431.0 810.7h0M474.5 766.1h0M481.3 764.9h0M488.1 760.8h0M495.0 766.4h0M501.8 770.0h0M508.7 769.5h0M515.5 789.7h0M522.3 792.6h0M529.2 798.0h0M566.1 764.6h0M572.9 763.6h0M579.7 762.9h0M586.6 762.6h0M593.4 763.6h0M600.3 767.7h0M607.1 782.7h0M613.9 797.5h0M620.8 806.2h0M283.6 853.1h0M290.4 855.7h0M297.2 858.3h0M304.1 862.8h0M310.9 866.7h0M317.8 876.1h0M324.6 879.9h0M331.4 887.8h0M338.3 896.2h0M376.3 851.4h0M383.1 857.4h0M389.9 858.5h0M396.8 861.6h0M403.6 871.0h0M410.5 874.8h0M417.3 880.2h0M424.1 887.9h0M431.0 890.6h0M474.5 852.7h0M481.3 855.6h0M488.1 854.9h0M495.0 855.1h0M501.8 857.5h0M508.7 870.3h0M515.5 877.9h0M522.3 886.9h0M529.2 893.5h0M566.1 862.1h0M572.9 858.2h0M579.7 856.6h0M586.6 855.7h0M593.4 860.5h0M600.3 868.8h0M607.1 880.3h0M613.9 888.1h0M620.8 893.1h0" stroke="#ee7a70" stroke-width="1.9" stroke-linecap="round" fill="none"/><path d="M283.6 659.7h0M290.4 659.5h0M297.2 661.7h0M304.1 664.3h0M310.9 671.9h0M317.8 680.4h0M324.6 694.3h0M331.4 705.7h0M338.3 707.6h0M376.3 661.6h0M383.1 663.8h0M389.9 661.6h0M396.8 666.2h0M403.6 671.2h0M410.5 677.9h0M417.3 687.6h0M424.1 695.4h0M431.0 700.0h0M474.5 656.4h0M481.3 658.2h0M488.1 658.0h0M495.0 665.2h0M501.8 675.1h0M508.7 694.9h0M515.5 703.3h0M522.3 705.8h0M529.2 704.4h0M566.1 659.0h0M572.9 658.6h0M579.7 657.4h0M586.6 660.3h0M593.4 668.8h0M600.3 674.0h0M607.1 703.3h0M613.9 706.8h0M620.8 705.5h0M283.6 757.1h0M290.4 759.0h0M297.2 755.8h0M304.1 758.7h0M310.9 758.5h0M317.8 761.7h0M324.6 772.3h0M331.4 792.2h0M338.3 806.9h0M376.3 763.2h0M383.1 759.7h0M389.9 764.1h0M396.8 759.5h0M403.6 762.9h0M410.5 765.6h0M417.3 774.1h0M424.1 793.0h0M431.0 804.0h0M474.5 763.0h0M481.3 765.6h0M488.1 763.6h0M495.0 761.5h0M501.8 763.5h0M508.7 769.5h0M515.5 791.3h0M522.3 803.7h0M529.2 801.0h0M566.1 767.6h0M572.9 765.8h0M579.7 767.6h0M586.6 764.6h0M593.4 771.3h0M600.3 774.4h0M607.1 793.5h0M613.9 797.1h0M620.8 803.1h0M283.6 850.1h0M290.4 850.8h0M297.2 854.6h0M304.1 862.3h0M310.9 867.2h0M317.8 875.9h0M324.6 884.7h0M331.4 889.4h0M338.3 894.6h0M376.3 850.7h0M383.1 850.0h0M389.9 852.0h0M396.8 854.7h0M403.6 858.6h0M410.5 870.7h0M417.3 877.3h0M424.1 883.8h0M431.0 890.1h0M474.5 846.9h0M481.3 851.1h0M488.1 851.7h0M495.0 850.7h0M501.8 846.0h0M508.7 848.4h0M515.5 879.4h0M522.3 889.6h0M529.2 895.5h0M566.1 843.3h0M572.9 847.3h0M579.7 843.7h0M586.6 845.8h0M593.4 850.4h0M600.3 865.3h0M607.1 878.1h0M613.9 890.7h0M620.8 893.8h0" stroke="#3cb054" stroke-width="1.9" stroke-linecap="round" fill="none"/><path d="M283.6 663.7h0M290.4 664.7h0M297.2 664.3h0M304.1 670.3h0M310.9 674.8h0M317.8 689.1h0M324.6 701.5h0M331.4 706.1h0M338.3 708.0h0M376.3 666.5h0M383.1 664.6h0M389.9 668.1h0M396.8 668.8h0M403.6 674.8h0M410.5 681.0h0M417.3 689.1h0M424.1 700.6h0M431.0 704.8h0M474.5 662.8h0M481.3 665.7h0M488.1 663.3h0M495.0 665.8h0M501.8 669.5h0M508.7 686.2h0M515.5 702.1h0M522.3 701.1h0M529.2 706.0h0M566.1 671.9h0M572.9 669.4h0M579.7 677.5h0M586.6 671.0h0M593.4 677.0h0M600.3 681.2h0M607.1 700.1h0M613.9 708.3h0M620.8 706.8h0M283.6 767.3h0M290.4 765.1h0M297.2 762.7h0M304.1 764.5h0M310.9 763.7h0M317.8 764.2h0M324.6 774.3h0M331.4 797.3h0M338.3 808.3h0M376.3 759.3h0M383.1 757.9h0M389.9 760.9h0M396.8 760.0h0M403.6 759.6h0M410.5 763.7h0M417.3 773.5h0M424.1 796.6h0M431.0 812.0h0M474.5 760.5h0M481.3 757.1h0M488.1 761.0h0M495.0 753.1h0M501.8 764.8h0M508.7 773.9h0M515.5 790.0h0M522.3 803.9h0M529.2 801.1h0M566.1 763.0h0M572.9 765.6h0M579.7 763.0h0M586.6 762.2h0M593.4 766.1h0M600.3 768.6h0M607.1 789.7h0M613.9 801.2h0M620.8 807.2h0M283.6 851.9h0M290.4 851.8h0M297.2 855.2h0M304.1 859.8h0M310.9 866.7h0M317.8 874.8h0M324.6 885.0h0M331.4 892.1h0M338.3 899.5h0M376.3 844.6h0M383.1 847.6h0M389.9 849.7h0M396.8 852.6h0M403.6 860.0h0M410.5 865.9h0M417.3 877.7h0M424.1 887.5h0M431.0 894.2h0M474.5 856.5h0M481.3 855.5h0M488.1 858.5h0M495.0 862.1h0M501.8 861.2h0M508.7 874.0h0M515.5 880.3h0M522.3 892.0h0M529.2 895.9h0M566.1 855.7h0M572.9 857.5h0M579.7 858.9h0M586.6 853.8h0M593.4 860.8h0M600.3 868.6h0M607.1 881.6h0M613.9 898.5h0M620.8 896.7h0" stroke="#22b486" stroke-width="1.9" stroke-linecap="round" fill="none"/><path d="M283.6 668.4h0M290.4 669.3h0M297.2 667.9h0M304.1 670.4h0M310.9 674.8h0M317.8 684.9h0M324.6 693.4h0M331.4 703.0h0M338.3 705.4h0M376.3 661.1h0M383.1 661.4h0M389.9 661.6h0M396.8 664.3h0M403.6 668.9h0M410.5 681.8h0M417.3 691.2h0M424.1 700.6h0M431.0 710.5h0M474.5 659.8h0M481.3 662.1h0M488.1 660.6h0M495.0 665.3h0M501.8 664.8h0M508.7 679.7h0M515.5 698.1h0M522.3 705.4h0M529.2 707.4h0M566.1 670.6h0M572.9 669.6h0M579.7 670.1h0M586.6 670.3h0M593.4 671.1h0M600.3 671.7h0M607.1 692.1h0M613.9 704.9h0M620.8 703.0h0M283.6 757.9h0M290.4 758.9h0M297.2 756.8h0M304.1 758.8h0M310.9 758.1h0M317.8 763.9h0M324.6 768.9h0M331.4 790.2h0M338.3 806.2h0M376.3 763.1h0M383.1 758.5h0M389.9 761.4h0M396.8 760.0h0M403.6 761.8h0M410.5 762.8h0M417.3 772.8h0M424.1 795.0h0M431.0 804.1h0M474.5 771.0h0M481.3 765.5h0M488.1 766.9h0M495.0 764.8h0M501.8 766.1h0M508.7 772.2h0M515.5 785.3h0M522.3 801.5h0M529.2 801.7h0M566.1 765.7h0M572.9 761.0h0M579.7 761.8h0M586.6 761.0h0M593.4 763.8h0M600.3 766.9h0M607.1 777.7h0M613.9 799.3h0M620.8 802.9h0M283.6 848.7h0M290.4 850.0h0M297.2 854.1h0M304.1 861.4h0M310.9 867.1h0M317.8 873.0h0M324.6 882.3h0M331.4 892.0h0M338.3 897.9h0M376.3 848.4h0M383.1 851.6h0M389.9 853.2h0M396.8 854.9h0M403.6 861.2h0M410.5 867.9h0M417.3 874.3h0M424.1 884.0h0M431.0 887.8h0M474.5 843.8h0M481.3 842.4h0M488.1 842.4h0M495.0 842.4h0M501.8 842.4h0M508.7 845.5h0M515.5 862.5h0M522.3 872.0h0M529.2 891.1h0M566.1 847.7h0M572.9 845.4h0M579.7 852.1h0M586.6 851.3h0M593.4 850.2h0M600.3 864.9h0M607.1 888.2h0M613.9 896.2h0M620.8 891.9h0" stroke="#2fb5bd" stroke-width="1.9" stroke-linecap="round" fill="none"/><path d="M283.6 666.5h0M290.4 665.0h0M297.2 665.4h0M304.1 670.7h0M310.9 676.5h0M317.8 688.5h0M324.6 700.0h0M331.4 707.1h0M338.3 708.9h0M376.3 668.8h0M383.1 667.2h0M389.9 668.0h0M396.8 671.7h0M403.6 671.8h0M410.5 680.3h0M417.3 690.0h0M424.1 698.7h0M431.0 705.1h0M474.5 654.8h0M481.3 656.0h0M488.1 656.3h0M495.0 660.2h0M501.8 666.4h0M508.7 687.6h0M515.5 699.5h0M522.3 703.8h0M529.2 708.5h0M566.1 663.6h0M572.9 667.8h0M579.7 666.2h0M586.6 670.1h0M593.4 669.8h0M600.3 687.9h0M607.1 698.0h0M613.9 706.1h0M620.8 707.2h0M283.6 762.2h0M290.4 760.1h0M297.2 762.5h0M304.1 761.4h0M310.9 766.2h0M317.8 766.0h0M324.6 773.0h0M331.4 794.1h0M338.3 806.2h0M376.3 757.3h0M383.1 758.7h0M389.9 761.7h0M396.8 758.7h0M403.6 761.5h0M410.5 761.3h0M417.3 772.9h0M424.1 792.2h0M431.0 806.2h0M474.5 764.7h0M481.3 769.9h0M488.1 763.7h0M495.0 769.5h0M501.8 770.5h0M508.7 763.2h0M515.5 787.8h0M522.3 801.9h0M529.2 805.0h0M566.1 762.4h0M572.9 759.9h0M579.7 758.5h0M586.6 761.6h0M593.4 767.9h0M600.3 763.3h0M607.1 787.7h0M613.9 803.0h0M620.8 803.7h0M283.6 850.7h0M290.4 853.0h0M297.2 852.8h0M304.1 861.6h0M310.9 865.8h0M317.8 873.6h0M324.6 885.9h0M331.4 891.9h0M338.3 896.7h0M376.3 847.4h0M383.1 851.4h0M389.9 852.1h0M396.8 852.2h0M403.6 860.1h0M410.5 868.0h0M417.3 877.8h0M424.1 887.0h0M431.0 893.5h0M474.5 858.7h0M481.3 861.8h0M488.1 860.9h0M495.0 854.1h0M501.8 863.9h0M508.7 870.2h0M515.5 881.9h0M522.3 889.8h0M529.2 899.2h0M566.1 849.5h0M572.9 853.7h0M579.7 847.8h0M586.6 848.8h0M593.4 853.9h0M600.3 870.3h0M607.1 876.8h0M613.9 888.3h0M620.8 891.9h0" stroke="#3ba6dc" stroke-width="1.9" stroke-linecap="round" fill="none"/><path d="M283.6 662.9h0M290.4 664.0h0M297.2 666.4h0M304.1 672.7h0M310.9 679.5h0M317.8 691.4h0M324.6 697.7h0M331.4 703.1h0M338.3 708.4h0M376.3 662.6h0M383.1 662.4h0M389.9 661.4h0M396.8 664.4h0M403.6 668.5h0M410.5 677.1h0M417.3 691.4h0M424.1 699.3h0M431.0 708.6h0M474.5 662.1h0M481.3 663.0h0M488.1 665.5h0M495.0 664.7h0M501.8 667.0h0M508.7 683.8h0M515.5 696.1h0M522.3 704.0h0M529.2 710.5h0M566.1 665.3h0M572.9 662.2h0M579.7 662.2h0M586.6 664.8h0M593.4 672.7h0M600.3 680.5h0M607.1 701.6h0M613.9 706.8h0M620.8 705.2h0M283.6 758.8h0M290.4 757.6h0M297.2 759.1h0M304.1 758.0h0M310.9 759.5h0M317.8 761.8h0M324.6 768.8h0M331.4 795.7h0M338.3 804.3h0M376.3 761.8h0M383.1 766.1h0M389.9 760.6h0M396.8 763.0h0M403.6 762.8h0M410.5 766.1h0M417.3 779.5h0M424.1 794.1h0M431.0 805.0h0M474.5 750.4h0M481.3 750.4h0M488.1 751.2h0M495.0 755.0h0M501.8 760.2h0M508.7 769.6h0M515.5 788.3h0M522.3 799.1h0M529.2 805.5h0M566.1 764.0h0M572.9 760.6h0M579.7 765.7h0M586.6 763.4h0M593.4 761.6h0M600.3 760.1h0M607.1 785.7h0M613.9 798.3h0M620.8 803.5h0M283.6 848.3h0M290.4 852.1h0M297.2 856.4h0M304.1 862.4h0M310.9 868.2h0M317.8 875.3h0M324.6 884.1h0M331.4 894.3h0M338.3 894.1h0M376.3 852.2h0M383.1 853.6h0M389.9 853.2h0M396.8 858.8h0M403.6 863.2h0M410.5 871.5h0M417.3 878.7h0M424.1 886.3h0M431.0 894.1h0M474.5 843.5h0M481.3 849.6h0M488.1 848.9h0M495.0 849.6h0M501.8 856.2h0M508.7 862.7h0M515.5 878.2h0M522.3 889.3h0M529.2 894.8h0M566.1 845.5h0M572.9 848.1h0M579.7 848.9h0M586.6 845.3h0M593.4 847.1h0M600.3 863.6h0M607.1 876.7h0M613.9 889.3h0M620.8 894.4h0" stroke="#6c95d3" stroke-width="1.9" stroke-linecap="round" fill="none"/><path d="M283.6 663.9h0M290.4 662.1h0M297.2 668.4h0M304.1 669.0h0M310.9 672.2h0M317.8 686.8h0M324.6 693.8h0M331.4 703.2h0M338.3 705.3h0M376.3 664.1h0M383.1 664.7h0M389.9 665.0h0M396.8 668.9h0M403.6 669.6h0M410.5 679.0h0M417.3 687.8h0M424.1 698.5h0M431.0 704.4h0M474.5 659.2h0M481.3 659.9h0M488.1 663.7h0M495.0 665.8h0M501.8 679.1h0M508.7 687.6h0M515.5 701.7h0M522.3 706.1h0M529.2 706.1h0M566.1 659.4h0M572.9 662.9h0M579.7 661.3h0M586.6 663.2h0M593.4 670.1h0M600.3 682.4h0M607.1 699.4h0M613.9 704.6h0M620.8 709.4h0M283.6 763.9h0M290.4 762.0h0M297.2 762.6h0M304.1 761.4h0M310.9 763.4h0M317.8 766.2h0M324.6 773.0h0M331.4 798.4h0M338.3 811.7h0M376.3 765.7h0M383.1 766.2h0M389.9 763.1h0M396.8 764.1h0M403.6 763.8h0M410.5 766.7h0M417.3 771.3h0M424.1 795.6h0M431.0 809.1h0M474.5 761.2h0M481.3 764.4h0M488.1 765.9h0M495.0 765.0h0M501.8 762.3h0M508.7 767.5h0M515.5 794.5h0M522.3 801.1h0M529.2 805.9h0M566.1 759.6h0M572.9 755.6h0M579.7 758.1h0M586.6 756.7h0M593.4 764.1h0M600.3 765.9h0M607.1 789.2h0M613.9 798.0h0M620.8 803.4h0M283.6 852.1h0M290.4 854.7h0M297.2 857.2h0M304.1 863.0h0M310.9 864.7h0M317.8 874.2h0M324.6 879.2h0M331.4 885.5h0M338.3 892.9h0M376.3 853.0h0M383.1 852.9h0M389.9 855.2h0M396.8 855.7h0M403.6 862.0h0M410.5 871.4h0M417.3 880.4h0M424.1 890.6h0M431.0 894.9h0M474.5 860.7h0M481.3 858.2h0M488.1 858.8h0M495.0 867.5h0M501.8 873.1h0M508.7 879.0h0M515.5 890.3h0M522.3 899.2h0M529.2 894.5h0M566.1 851.9h0M572.9 852.6h0M579.7 850.5h0M586.6 853.1h0M593.4 862.7h0M600.3 872.4h0M607.1 885.9h0M613.9 894.6h0M620.8 898.8h0" stroke="#a982c9" stroke-width="1.9" stroke-linecap="round" fill="none"/><path d="M283.6 661.3h0M290.4 662.9h0M297.2 664.4h0M304.1 667.9h0M310.9 673.5h0M317.8 682.8h0M324.6 693.5h0M331.4 702.9h0M338.3 708.6h0M376.3 667.8h0M383.1 668.3h0M389.9 668.0h0M396.8 669.0h0M403.6 674.6h0M410.5 681.0h0M417.3 692.9h0M424.1 703.5h0M431.0 706.1h0M474.5 668.5h0M481.3 660.7h0M488.1 663.0h0M495.0 664.3h0M501.8 668.8h0M508.7 687.9h0M515.5 705.1h0M522.3 707.2h0M529.2 704.3h0M566.1 660.0h0M572.9 664.9h0M579.7 656.3h0M586.6 663.4h0M593.4 659.5h0M600.3 674.8h0M607.1 701.6h0M613.9 703.9h0M620.8 710.5h0M283.6 765.9h0M290.4 764.8h0M297.2 764.5h0M304.1 763.9h0M310.9 764.0h0M317.8 768.8h0M324.6 777.4h0M331.4 795.4h0M338.3 804.3h0M376.3 761.9h0M383.1 760.9h0M389.9 761.1h0M396.8 759.2h0M403.6 758.7h0M410.5 760.5h0M417.3 766.5h0M424.1 794.5h0M431.0 809.1h0M474.5 755.7h0M481.3 755.2h0M488.1 750.4h0M495.0 753.4h0M501.8 756.1h0M508.7 762.0h0M515.5 780.5h0M522.3 804.2h0M529.2 799.5h0M566.1 763.7h0M572.9 757.0h0M579.7 758.9h0M586.6 760.6h0M593.4 762.4h0M600.3 760.1h0M607.1 785.7h0M613.9 794.1h0M620.8 806.0h0M283.6 850.2h0M290.4 848.2h0M297.2 849.1h0M304.1 847.8h0M310.9 847.7h0M317.8 849.3h0M324.6 886.1h0M331.4 890.8h0M338.3 895.3h0M376.3 851.2h0M383.1 852.9h0M389.9 852.5h0M396.8 858.9h0M403.6 861.1h0M410.5 868.0h0M417.3 877.6h0M424.1 886.7h0M431.0 891.3h0M474.5 860.3h0M481.3 858.9h0M488.1 855.4h0M495.0 861.1h0M501.8 860.3h0M508.7 865.5h0M515.5 875.0h0M522.3 885.2h0M529.2 895.0h0M566.1 852.8h0M572.9 846.1h0M579.7 855.9h0M586.6 849.9h0M593.4 853.2h0M600.3 868.2h0M607.1 875.7h0M613.9 883.6h0M620.8 895.6h0" stroke="#c763b3" stroke-width="1.9" stroke-linecap="round" fill="none"/><path d="M283.6 663.1h0M290.4 666.5h0M297.2 667.1h0M304.1 668.9h0M310.9 675.7h0M317.8 684.5h0M324.6 693.7h0M331.4 703.0h0M338.3 708.8h0M376.3 664.1h0M383.1 663.4h0M389.9 666.6h0M396.8 663.2h0M403.6 667.5h0M410.5 676.8h0M417.3 691.2h0M424.1 703.7h0M431.0 709.5h0M474.5 663.2h0M481.3 664.3h0M488.1 660.2h0M495.0 666.6h0M501.8 671.5h0M508.7 692.0h0M515.5 701.1h0M522.3 704.8h0M529.2 709.6h0M566.1 658.5h0M572.9 659.7h0M579.7 662.4h0M586.6 664.0h0M593.4 668.8h0M600.3 684.9h0M607.1 697.8h0M613.9 704.7h0M620.8 712.0h0M283.6 759.6h0M290.4 761.2h0M297.2 759.4h0M304.1 760.8h0M310.9 760.6h0M317.8 761.6h0M324.6 773.6h0M331.4 795.8h0M338.3 807.1h0M376.3 764.2h0M383.1 761.5h0M389.9 761.4h0M396.8 760.8h0M403.6 761.7h0M410.5 766.5h0M417.3 766.8h0M424.1 787.8h0M431.0 809.8h0M474.5 761.3h0M481.3 761.6h0M488.1 762.4h0M495.0 760.5h0M501.8 764.8h0M508.7 768.8h0M515.5 788.8h0M522.3 801.9h0M529.2 802.6h0M566.1 756.3h0M572.9 758.7h0M579.7 751.7h0M586.6 759.2h0M593.4 759.6h0M600.3 759.9h0M607.1 779.8h0M613.9 800.5h0M620.8 800.0h0M283.6 846.1h0M290.4 849.2h0M297.2 852.1h0M304.1 854.6h0M310.9 860.0h0M317.8 866.6h0M324.6 879.4h0M331.4 885.1h0M338.3 892.2h0M376.3 854.5h0M383.1 854.5h0M389.9 857.0h0M396.8 862.8h0M403.6 864.0h0M410.5 870.7h0M417.3 878.6h0M424.1 889.0h0M431.0 895.2h0M474.5 848.9h0M481.3 850.6h0M488.1 850.2h0M495.0 849.2h0M501.8 842.4h0M508.7 842.6h0M515.5 877.2h0M522.3 886.5h0M529.2 896.2h0M566.1 853.6h0M572.9 854.9h0M579.7 853.2h0M586.6 856.1h0M593.4 859.5h0M600.3 867.9h0M607.1 879.9h0M613.9 887.7h0M620.8 895.2h0" stroke="#ee62a2" stroke-width="1.9" stroke-linecap="round" fill="none"/><path d="M283.6 666.1h0M290.4 665.9h0M297.2 666.9h0M304.1 666.3h0M310.9 675.2h0M317.8 686.4h0M324.6 696.4h0M331.4 707.2h0M338.3 710.5h0M376.3 664.7h0M383.1 665.1h0M389.9 666.4h0M396.8 666.5h0M403.6 674.9h0M410.5 680.4h0M417.3 688.3h0M424.1 700.7h0M431.0 702.9h0M474.5 664.4h0M481.3 666.3h0M488.1 663.6h0M495.0 664.8h0M501.8 667.1h0M508.7 689.8h0M515.5 703.1h0M522.3 706.0h0M529.2 703.3h0M566.1 661.9h0M572.9 665.2h0M579.7 660.1h0M586.6 661.9h0M593.4 664.4h0M600.3 674.7h0M607.1 696.8h0M613.9 705.6h0M620.8 700.2h0M283.6 759.7h0M290.4 759.7h0M297.2 760.7h0M304.1 760.5h0M310.9 761.8h0M317.8 761.3h0M324.6 768.8h0M331.4 792.7h0M338.3 809.6h0M376.3 763.3h0M383.1 760.7h0M389.9 763.3h0M396.8 761.5h0M403.6 760.7h0M410.5 762.4h0M417.3 768.2h0M424.1 794.1h0M431.0 804.2h0M474.5 757.4h0M481.3 761.8h0M488.1 761.5h0M495.0 756.9h0M501.8 761.5h0M508.7 770.6h0M515.5 793.1h0M522.3 808.4h0M529.2 803.9h0M566.1 765.6h0M572.9 762.7h0M579.7 762.4h0M586.6 759.3h0M593.4 761.9h0M600.3 768.1h0M607.1 787.3h0M613.9 804.1h0M620.8 806.3h0M283.6 851.7h0M290.4 856.1h0M297.2 856.1h0M304.1 862.2h0M310.9 864.6h0M317.8 874.4h0M324.6 880.6h0M331.4 890.3h0M338.3 895.7h0M376.3 850.1h0M383.1 853.6h0M389.9 854.3h0M396.8 856.9h0M403.6 861.0h0M410.5 869.1h0M417.3 880.0h0M424.1 887.0h0M431.0 893.6h0M474.5 848.6h0M481.3 852.0h0M488.1 853.3h0M495.0 850.3h0M501.8 857.6h0M508.7 863.4h0M515.5 874.0h0M522.3 882.7h0M529.2 888.8h0M566.1 848.2h0M572.9 843.6h0M579.7 853.6h0M586.6 848.1h0M593.4 849.7h0M600.3 848.5h0M607.1 878.4h0M613.9 890.0h0M620.8 894.4h0" stroke="#d98b22" stroke-width="1.9" stroke-linecap="round" fill="none"/><path d="M283.6 666.7h0M290.4 665.3h0M297.2 669.3h0M304.1 671.1h0M310.9 678.2h0M317.8 687.8h0M324.6 698.1h0M331.4 700.0h0M338.3 707.1h0M376.3 666.7h0M383.1 665.0h0M389.9 668.8h0M396.8 664.3h0M403.6 674.1h0M410.5 679.7h0M417.3 694.4h0M424.1 704.4h0M431.0 709.8h0M474.5 655.4h0M481.3 655.9h0M488.1 659.1h0M495.0 658.5h0M501.8 666.0h0M508.7 679.1h0M515.5 698.8h0M522.3 701.2h0M529.2 705.5h0M566.1 655.8h0M572.9 653.9h0M579.7 654.9h0M586.6 655.2h0M593.4 662.7h0M600.3 685.1h0M607.1 703.2h0M613.9 708.3h0M620.8 705.1h0M283.6 763.2h0M290.4 762.1h0M297.2 760.2h0M304.1 763.1h0M310.9 760.7h0M317.8 762.0h0M324.6 775.8h0M331.4 795.9h0M338.3 811.6h0M376.3 758.4h0M383.1 760.5h0M389.9 757.2h0M396.8 758.3h0M403.6 761.2h0M410.5 758.5h0M417.3 768.5h0M424.1 789.3h0M431.0 802.8h0M474.5 764.5h0M481.3 761.6h0M488.1 763.3h0M495.0 763.1h0M501.8 763.3h0M508.7 773.6h0M515.5 790.1h0M522.3 800.2h0M529.2 804.2h0M566.1 760.6h0M572.9 755.8h0M579.7 761.8h0M586.6 761.1h0M593.4 763.4h0M600.3 769.4h0M607.1 786.2h0M613.9 798.0h0M620.8 806.5h0M283.6 851.3h0M290.4 854.1h0M297.2 854.6h0M304.1 860.4h0M310.9 866.0h0M317.8 874.4h0M324.6 881.7h0M331.4 885.7h0M338.3 892.6h0M376.3 847.7h0M383.1 851.1h0M389.9 853.4h0M396.8 854.4h0M403.6 861.9h0M410.5 866.7h0M417.3 877.9h0M424.1 888.2h0M431.0 892.3h0M474.5 850.3h0M481.3 850.7h0M488.1 849.3h0M495.0 855.0h0M501.8 856.1h0M508.7 863.4h0M515.5 881.1h0M522.3 890.3h0M529.2 892.9h0M566.1 850.7h0M572.9 849.2h0M579.7 850.5h0M586.6 842.9h0M593.4 856.2h0M600.3 856.4h0M607.1 873.4h0M613.9 884.8h0M620.8 892.3h0" stroke="#b09a2c" stroke-width="1.9" stroke-linecap="round" fill="none"/><path d="M283.6 663.9h0M290.4 664.5h0M297.2 667.2h0M304.1 668.9h0M310.9 678.4h0M317.8 687.0h0M324.6 698.1h0M331.4 702.4h0M338.3 709.4h0M376.3 662.8h0M383.1 664.7h0M389.9 662.7h0M396.8 666.4h0M403.6 669.0h0M410.5 679.5h0M417.3 689.6h0M424.1 702.6h0M431.0 706.5h0M474.5 661.6h0M481.3 663.0h0M488.1 664.3h0M495.0 663.6h0M501.8 670.5h0M508.7 684.9h0M515.5 696.6h0M522.3 702.1h0M529.2 701.6h0M566.1 667.9h0M572.9 672.7h0M579.7 664.9h0M586.6 669.3h0M593.4 672.1h0M600.3 678.6h0M607.1 704.9h0M613.9 709.8h0M620.8 705.3h0M283.6 760.7h0M290.4 759.9h0M297.2 760.5h0M304.1 758.8h0M310.9 758.3h0M317.8 759.5h0M324.6 773.7h0M331.4 798.1h0M338.3 808.8h0M376.3 759.1h0M383.1 761.6h0M389.9 759.2h0M396.8 757.6h0M403.6 756.8h0M410.5 759.0h0M417.3 768.9h0M424.1 794.5h0M431.0 807.1h0M474.5 758.1h0M481.3 759.5h0M488.1 756.5h0M495.0 756.3h0M501.8 759.4h0M508.7 768.5h0M515.5 792.4h0M522.3 802.5h0M529.2 804.8h0M566.1 754.1h0M572.9 752.1h0M579.7 751.4h0M586.6 752.0h0M593.4 755.4h0M600.3 762.9h0M607.1 788.2h0M613.9 803.1h0M620.8 807.6h0M283.6 853.7h0M290.4 856.0h0M297.2 858.6h0M304.1 861.6h0M310.9 868.1h0M317.8 875.7h0M324.6 882.6h0M331.4 889.4h0M338.3 892.6h0M376.3 852.8h0M383.1 856.5h0M389.9 856.9h0M396.8 860.9h0M403.6 864.4h0M410.5 870.1h0M417.3 881.4h0M424.1 890.7h0M431.0 895.4h0M474.5 854.6h0M481.3 854.3h0M488.1 855.0h0M495.0 852.4h0M501.8 861.4h0M508.7 871.9h0M515.5 872.9h0M522.3 878.1h0M529.2 887.5h0M566.1 846.0h0M572.9 853.6h0M579.7 847.6h0M586.6 852.2h0M593.4 862.6h0M600.3 870.7h0M607.1 876.6h0M613.9 887.8h0M620.8 895.5h0" stroke="#79aa3c" stroke-width="1.9" stroke-linecap="round" fill="none"/><rect x="637.4" y="708" width="13.2" height="158.6" fill="#f2f2f2"/><g font-size="6.7" fill="#000" stroke="#000" stroke-width="0.1"><path d="M638.2 714.5H649.2" stroke="#ee7a70" stroke-width="0.75"/><circle cx="643.6" cy="714.5" r="1.6" fill="#ee7a70"/><text x="655" y="716.9">Row1</text><path d="M638.2 727.7H649.2" stroke="#3cb054" stroke-width="0.75"/><circle cx="643.6" cy="727.7" r="1.6" fill="#3cb054"/><text x="655" y="730.1">Row2</text><path d="M638.2 741.0H649.2" stroke="#22b486" stroke-width="0.75"/><circle cx="643.6" cy="741.0" r="1.6" fill="#22b486"/><text x="655" y="743.4">Row3</text><path d="M638.2 754.2H649.2" stroke="#2fb5bd" stroke-width="0.75"/><circle cx="643.6" cy="754.2" r="1.6" fill="#2fb5bd"/><text x="655" y="756.6">Row4</text><path d="M638.2 767.4H649.2" stroke="#3ba6dc" stroke-width="0.75"/><circle cx="643.6" cy="767.4" r="1.6" fill="#3ba6dc"/><text x="655" y="769.8">Row5</text><path d="M638.2 780.6H649.2" stroke="#6c95d3" stroke-width="0.75"/><circle cx="643.6" cy="780.6" r="1.6" fill="#6c95d3"/><text x="655" y="783.0">Row6</text><path d="M638.2 793.9H649.2" stroke="#a982c9" stroke-width="0.75"/><circle cx="643.6" cy="793.9" r="1.6" fill="#a982c9"/><text x="655" y="796.3">Row7</text><path d="M638.2 807.1H649.2" stroke="#c763b3" stroke-width="0.75"/><circle cx="643.6" cy="807.1" r="1.6" fill="#c763b3"/><text x="655" y="809.5">Row8</text><path d="M638.2 820.3H649.2" stroke="#ee62a2" stroke-width="0.75"/><circle cx="643.6" cy="820.3" r="1.6" fill="#ee62a2"/><text x="655" y="822.7">Row9</text><path d="M638.2 833.6H649.2" stroke="#d98b22" stroke-width="0.75"/><circle cx="643.6" cy="833.6" r="1.6" fill="#d98b22"/><text x="655" y="836.0">Row10</text><path d="M638.2 846.8H649.2" stroke="#b09a2c" stroke-width="0.75"/><circle cx="643.6" cy="846.8" r="1.6" fill="#b09a2c"/><text x="655" y="849.2">Row11</text><path d="M638.2 860.0H649.2" stroke="#79aa3c" stroke-width="0.75"/><circle cx="643.6" cy="860.0" r="1.6" fill="#79aa3c"/><text x="655" y="862.4">Row12</text></g>
<g font-size="15" font-weight="bold" fill="#000"><text x="0.2" y="8.6" fill="#231815">a</text><text x="0.4" y="104" fill="#231815">b</text><text x="0" y="221">c</text><text x="232.4" y="220.5">d</text><text x="-0.4" y="628">e</text><text x="234.4" y="628">f</text></g>
</svg>
</body></html>
